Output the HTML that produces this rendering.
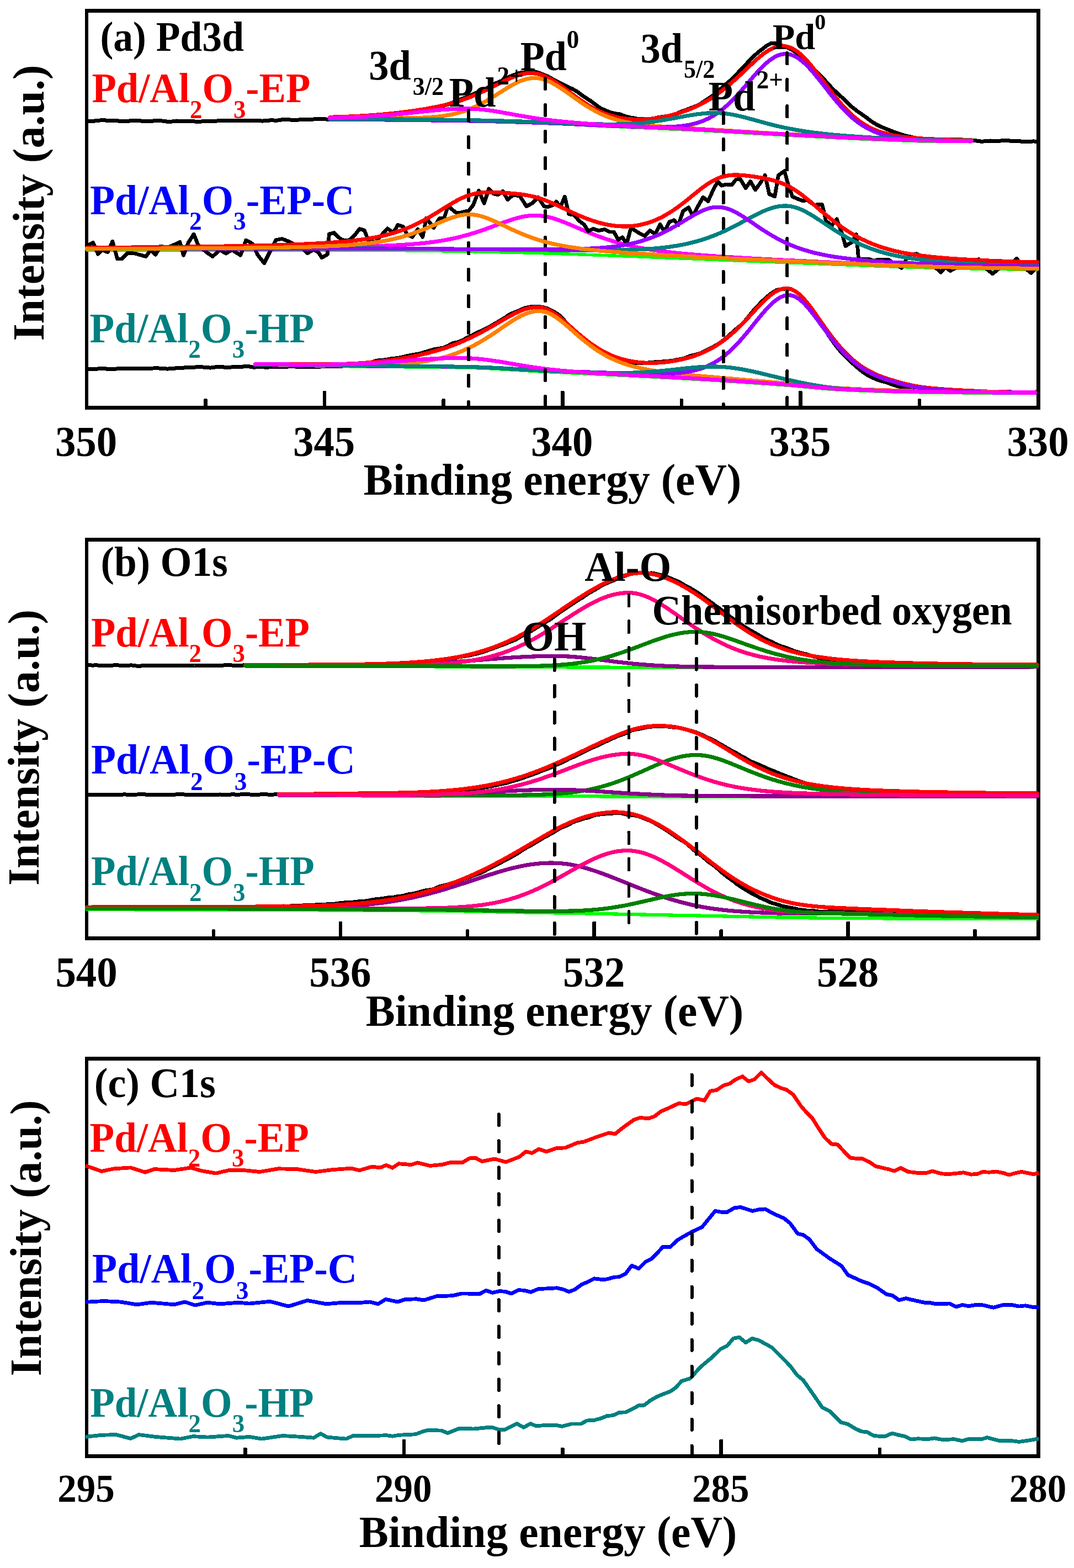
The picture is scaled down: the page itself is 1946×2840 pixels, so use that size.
<!DOCTYPE html>
<html lang="en"><head><meta charset="utf-8"><title>XPS spectra of Pd/Al2O3 catalysts</title>
<style>html,body{margin:0;padding:0;background:#fff}svg{display:block}text{font-family:"Liberation Serif",serif;font-weight:bold}</style></head><body>
<svg width="1946" height="2840" viewBox="0 0 1946 2840" shape-rendering="crispEdges">
<rect width="1946" height="2840" fill="#fff"/>
<g>
<rect x="584.88" y="707.9" width="6.5" height="29" rx="1.5" fill="#000"/>
<rect x="1016.00" y="707.9" width="6.5" height="29" rx="1.5" fill="#000"/>
<rect x="1447.12" y="707.9" width="6.5" height="29" rx="1.5" fill="#000"/>
<rect x="369.31" y="722.3" width="6.5" height="14.6" rx="1.5" fill="#000"/>
<rect x="800.43" y="722.3" width="6.5" height="14.6" rx="1.5" fill="#000"/>
<rect x="1231.56" y="722.3" width="6.5" height="14.6" rx="1.5" fill="#000"/>
<rect x="1662.68" y="722.3" width="6.5" height="14.6" rx="1.5" fill="#000"/>
<path fill="#000" fill-rule="evenodd" d="M154.1 16.2H1884.8V741.7H154.1Z M159.9 23.0V734.9H1878.2V23.0Z"/>
<polyline points="157.0,219.7 165.6,219.7 174.2,218.7 182.9,217.8 191.5,218.0 200.1,219.0 208.7,218.8 217.3,219.1 226.0,219.5 234.6,219.0 243.2,218.4 251.8,218.7 260.4,219.4 269.1,219.8 277.7,219.0 286.3,218.3 294.9,219.1 303.5,220.3 312.2,220.0 320.8,219.0 329.4,219.5 338.0,219.6 346.6,219.4 355.3,220.2 363.9,220.1 372.5,219.5 381.1,219.5 389.7,219.2 398.4,218.7 407.0,218.7 415.6,218.7 424.2,218.7 432.8,218.6 441.5,218.6 450.1,218.7 458.7,218.8 467.3,218.7 475.9,219.1 484.6,218.1 493.2,217.9 501.8,218.2 510.4,216.9 519.0,216.7 527.7,217.1 536.3,217.4 544.9,216.7 553.5,216.2 562.1,216.6 570.8,215.7 579.4,215.1 588.0,215.8 596.6,216.4 605.2,216.2 613.9,215.8 622.5,214.9 631.1,214.1 639.7,213.7 648.3,212.8 657.0,211.6 665.6,211.5 674.2,210.2 682.8,209.8 691.4,209.3 700.1,207.8 708.7,208.1 717.3,206.7 725.9,204.5 734.5,204.3 743.2,202.7 751.8,200.5 760.4,199.7 769.0,198.6 777.6,196.9 786.3,195.1 794.9,193.5 803.5,191.7 812.1,189.0 820.7,185.6 829.4,182.1 838.0,178.4 846.6,175.5 855.2,171.7 863.8,167.8 872.5,165.3 881.1,160.3 889.7,155.0 898.3,150.9 906.9,147.3 915.6,142.9 924.2,138.5 932.8,135.2 941.4,132.2 950.0,131.0 958.7,129.7 967.3,129.4 975.9,131.7 984.5,135.1 993.1,138.6 1001.8,143.6 1010.4,148.3 1019.0,152.2 1027.6,156.9 1036.2,160.7 1044.9,165.4 1053.5,171.7 1062.1,177.6 1070.7,183.1 1079.3,189.7 1088.0,196.0 1096.6,199.8 1105.2,203.4 1113.8,205.7 1122.4,206.6 1131.1,209.9 1139.7,212.5 1148.3,214.0 1156.9,215.6 1165.5,215.9 1174.2,215.9 1182.8,215.1 1191.4,213.0 1200.0,211.5 1208.6,210.4 1217.3,208.9 1225.9,205.8 1234.5,202.2 1243.1,199.3 1251.7,195.6 1260.4,192.5 1269.0,188.3 1277.6,182.5 1286.2,176.9 1294.8,171.0 1303.5,163.3 1312.1,155.1 1320.7,148.1 1329.3,140.3 1337.9,131.0 1346.6,121.6 1355.2,112.7 1363.8,103.6 1372.4,95.8 1381.0,89.1 1389.7,82.4 1398.3,78.0 1406.9,78.4 1415.5,82.0 1424.1,85.0 1432.8,88.7 1441.4,94.5 1450.0,102.4 1458.6,110.1 1467.2,117.8 1475.9,126.5 1484.5,134.7 1493.1,143.7 1501.7,153.5 1510.3,162.4 1519.0,170.5 1527.6,178.4 1536.2,187.1 1544.8,194.7 1553.4,201.4 1562.1,207.4 1570.7,213.5 1579.3,220.1 1587.9,225.4 1596.5,229.7 1605.2,233.2 1613.8,236.7 1622.4,240.0 1631.0,242.9 1639.6,245.6 1648.3,247.5 1656.9,249.5 1665.5,251.5 1674.1,252.7 1682.7,253.1 1691.4,253.0 1700.0,253.4 1708.6,253.6 1717.2,254.5 1725.8,255.2 1734.5,254.9 1743.1,255.1 1751.7,254.5 1760.3,254.1 1768.9,254.9 1777.6,256.2 1786.2,255.8 1794.8,255.0 1803.4,255.5 1812.0,255.1 1820.7,254.5 1829.3,255.0 1837.9,255.8 1846.5,255.8 1855.1,256.4 1863.8,256.5 1872.4,255.9 1881.0,256.6" fill="none" stroke="#000" stroke-width="7.0" stroke-linejoin="round" stroke-linecap="butt"/>
<polyline points="157.0,668.0 165.6,668.2 174.2,668.3 182.9,667.4 191.5,667.9 200.1,668.8 208.7,668.2 217.3,667.5 226.0,667.7 234.6,667.5 243.2,667.2 251.8,668.0 260.4,667.9 269.1,667.3 277.7,667.0 286.3,666.9 294.9,667.4 303.5,668.1 312.2,667.5 320.8,666.7 329.4,666.3 338.0,665.7 346.6,665.6 355.3,664.9 363.9,664.6 372.5,665.5 381.1,666.1 389.7,665.0 398.4,664.1 407.0,665.2 415.6,665.3 424.2,664.6 432.8,664.8 441.5,663.9 450.1,663.6 458.7,665.1 467.3,664.9 475.9,664.9 484.6,665.2 493.2,664.6 501.8,664.6 510.4,664.6 519.0,664.4 527.7,663.3 536.3,664.1 544.9,664.8 553.5,664.5 562.1,664.7 570.8,664.8 579.4,664.2 588.0,663.0 596.6,663.3 605.2,663.9 613.9,663.8 622.5,662.8 631.1,662.9 639.7,662.5 648.3,661.5 657.0,660.1 665.6,658.2 674.2,655.9 682.8,653.1 691.4,652.5 700.1,651.5 708.7,649.7 717.3,648.9 725.9,647.6 734.5,645.5 743.2,643.5 751.8,642.1 760.4,640.7 769.0,638.0 777.6,635.4 786.3,632.9 794.9,631.3 803.5,630.2 812.1,626.2 820.7,621.6 829.4,619.9 838.0,616.3 846.6,611.8 855.2,607.7 863.8,602.8 872.5,599.1 881.1,595.0 889.7,590.3 898.3,585.3 906.9,580.2 915.6,575.0 924.2,569.2 932.8,565.6 941.4,562.4 950.0,558.2 958.7,556.1 967.3,555.3 975.9,555.4 984.5,556.7 993.1,559.3 1001.8,563.9 1010.4,568.6 1019.0,576.3 1027.6,586.8 1036.2,595.8 1044.9,604.8 1053.5,612.8 1062.1,619.7 1070.7,626.5 1079.3,632.0 1088.0,637.8 1096.6,643.1 1105.2,647.9 1113.8,651.4 1122.4,654.2 1131.1,656.3 1139.7,657.3 1148.3,657.6 1156.9,657.4 1165.5,657.1 1174.2,657.0 1182.8,656.2 1191.4,655.6 1200.0,655.0 1208.6,654.2 1217.3,653.7 1225.9,651.6 1234.5,650.4 1243.1,647.8 1251.7,644.3 1260.4,642.5 1269.0,639.9 1277.6,635.6 1286.2,631.2 1294.8,626.8 1303.5,621.7 1312.1,615.3 1320.7,608.0 1329.3,599.9 1337.9,592.7 1346.6,585.2 1355.2,574.8 1363.8,564.3 1372.4,554.8 1381.0,545.7 1389.7,537.8 1398.3,530.8 1406.9,525.6 1415.5,523.7 1424.1,522.9 1432.8,523.4 1441.4,527.6 1450.0,534.4 1458.6,543.7 1467.2,555.7 1475.9,567.5 1484.5,579.5 1493.1,594.5 1501.7,608.0 1510.3,620.2 1519.0,631.7 1527.6,641.6 1536.2,650.1 1544.8,658.0 1553.4,665.6 1562.1,672.9 1570.7,678.7 1579.3,683.1 1587.9,687.2 1596.5,690.0 1605.2,692.3 1613.8,695.3 1622.4,698.3 1631.0,700.8 1639.6,702.9 1648.3,704.1 1656.9,704.0 1665.5,704.9 1674.1,706.0 1682.7,705.3 1691.4,706.0 1700.0,707.3 1708.6,706.7 1717.2,706.1 1725.8,706.6 1734.5,707.3 1743.1,707.8 1751.7,707.2 1760.3,707.7 1768.9,709.0 1777.6,709.6 1786.2,709.6 1794.8,709.9 1803.4,710.0 1812.0,710.0 1820.7,710.1 1829.3,709.6 1837.9,710.6 1846.5,711.5 1855.1,710.7 1863.8,710.2 1872.4,710.3 1881.0,709.6" fill="none" stroke="#000" stroke-width="7.0" stroke-linejoin="round" stroke-linecap="butt"/>
<polyline points="597.8,216.8 598.0,216.8 601.0,216.8 604.0,216.8 607.0,216.8 610.0,216.8 613.0,216.8 616.0,216.8 619.0,216.8 622.0,216.8 625.0,216.9 628.0,216.9 631.0,216.9 634.0,216.9 637.0,216.9 640.0,216.9 643.0,216.9 646.0,217.0 649.0,217.0 652.0,217.0 655.0,217.0 658.0,217.0 661.0,217.0 664.0,217.1 667.0,217.1 670.0,217.1 673.0,217.1 676.0,217.2 679.0,217.2 682.0,217.2 685.0,217.2 688.0,217.3 691.0,217.3 694.0,217.3 697.0,217.4 700.0,217.4 703.0,217.4 706.0,217.4 709.0,217.5 712.0,217.5 715.0,217.5 718.0,217.6 721.0,217.6 724.0,217.7 727.0,217.7 730.0,217.7 733.0,217.8 736.0,217.8 739.0,217.8 742.0,217.9 745.0,217.9 748.0,218.0 751.0,218.0 754.0,218.0 757.0,218.1 760.0,218.1 763.0,218.2 766.0,218.2 769.0,218.2 772.0,218.3 775.0,218.3 778.0,218.4 781.0,218.4 784.0,218.5 787.0,218.5 790.0,218.6 793.0,218.6 796.0,218.6 799.0,218.7 802.0,218.7 805.0,218.8 808.0,218.8 811.0,218.9 814.0,218.9 817.0,219.0 820.0,219.0 823.0,219.1 826.0,219.1 829.0,219.2 832.0,219.2 835.0,219.3 838.0,219.3 841.0,219.4 844.0,219.4 847.0,219.5 850.0,219.5 853.0,219.6 856.0,219.6 859.0,219.7 862.0,219.7 865.0,219.8 868.0,219.8 871.0,219.9 874.0,220.0 877.0,220.0 880.0,220.1 883.0,220.2 886.0,220.2 889.0,220.3 892.0,220.4 895.0,220.5 898.0,220.6 901.0,220.6 904.0,220.7 907.0,220.8 910.0,220.9 913.0,221.0 916.0,221.1 919.0,221.2 922.0,221.3 925.0,221.4 928.0,221.4 931.0,221.5 934.0,221.6 937.0,221.7 940.0,221.8 943.0,221.9 946.0,222.0 949.0,222.1 952.0,222.3 955.0,222.4 958.0,222.5 961.0,222.6 964.0,222.7 967.0,222.8 970.0,222.9 973.0,223.0 976.0,223.1 979.0,223.2 982.0,223.3 985.0,223.4 988.0,223.6 991.0,223.7 994.0,223.8 997.0,223.9 1000.0,224.0 1003.0,224.1 1006.0,224.2 1009.0,224.4 1012.0,224.5 1015.0,224.6 1018.0,224.7 1021.0,224.9 1024.0,225.0 1027.0,225.2 1030.0,225.3 1033.0,225.4 1036.0,225.6 1039.0,225.7 1042.0,225.9 1045.0,226.0 1048.0,226.2 1051.0,226.3 1054.0,226.5 1057.0,226.6 1060.0,226.8 1063.0,227.0 1066.0,227.1 1069.0,227.3 1072.0,227.4 1075.0,227.6 1078.0,227.7 1081.0,227.9 1084.0,228.0 1087.0,228.2 1090.0,228.3 1093.0,228.5 1096.0,228.6 1099.0,228.8 1102.0,228.9 1105.0,229.0 1108.0,229.2 1111.0,229.3 1114.0,229.4 1117.0,229.6 1120.0,229.7 1123.0,229.8 1126.0,230.0 1129.0,230.1 1132.0,230.2 1135.0,230.4 1138.0,230.5 1141.0,230.6 1144.0,230.8 1147.0,230.9 1150.0,231.0 1153.0,231.2 1156.0,231.3 1159.0,231.4 1162.0,231.5 1165.0,231.7 1168.0,231.8 1171.0,231.9 1174.0,232.1 1177.0,232.2 1180.0,232.3 1183.0,232.4 1186.0,232.6 1189.0,232.7 1192.0,232.8 1195.0,233.0 1198.0,233.1 1201.0,233.2 1204.0,233.4 1207.0,233.5 1210.0,233.6 1213.0,233.8 1216.0,233.9 1219.0,234.0 1222.0,234.2 1225.0,234.3 1228.0,234.5 1231.0,234.6 1234.0,234.7 1237.0,234.9 1240.0,235.0 1243.0,235.2 1246.0,235.3 1249.0,235.5 1252.0,235.6 1255.0,235.7 1258.0,235.9 1261.0,236.0 1264.0,236.2 1267.0,236.4 1270.0,236.5 1273.0,236.7 1276.0,236.8 1279.0,237.0 1282.0,237.1 1285.0,237.3 1288.0,237.5 1291.0,237.6 1294.0,237.8 1297.0,238.0 1300.0,238.1 1303.0,238.3 1306.0,238.5 1309.0,238.6 1312.0,238.8 1315.0,239.0 1318.0,239.1 1321.0,239.3 1324.0,239.5 1327.0,239.6 1330.0,239.8 1333.0,240.0 1336.0,240.1 1339.0,240.3 1342.0,240.5 1345.0,240.7 1348.0,240.8 1351.0,241.0 1354.0,241.2 1357.0,241.3 1360.0,241.5 1363.0,241.7 1366.0,241.8 1369.0,242.0 1372.0,242.2 1375.0,242.4 1378.0,242.5 1381.0,242.7 1384.0,242.9 1387.0,243.0 1390.0,243.2 1393.0,243.4 1396.0,243.5 1399.0,243.7 1402.0,243.8 1405.0,244.0 1408.0,244.2 1411.0,244.3 1414.0,244.5 1417.0,244.6 1420.0,244.8 1423.0,244.9 1426.0,245.1 1429.0,245.3 1432.0,245.4 1435.0,245.6 1438.0,245.7 1441.0,245.9 1444.0,246.0 1447.0,246.2 1450.0,246.4 1453.0,246.5 1456.0,246.7 1459.0,246.8 1462.0,247.0 1465.0,247.1 1468.0,247.3 1471.0,247.5 1474.0,247.6 1477.0,247.8 1480.0,247.9 1483.0,248.1 1486.0,248.2 1489.0,248.4 1492.0,248.6 1495.0,248.7 1498.0,248.9 1501.0,249.0 1504.0,249.2 1507.0,249.3 1510.0,249.5 1513.0,249.6 1516.0,249.8 1519.0,249.9 1522.0,250.1 1525.0,250.2 1528.0,250.4 1531.0,250.5 1534.0,250.7 1537.0,250.8 1540.0,251.0 1543.0,251.1 1546.0,251.2 1549.0,251.4 1552.0,251.5 1555.0,251.7 1558.0,251.8 1561.0,251.9 1564.0,252.1 1567.0,252.2 1570.0,252.3 1573.0,252.4 1576.0,252.6 1579.0,252.7 1582.0,252.8 1585.0,252.9 1588.0,253.0 1591.0,253.2 1594.0,253.3 1597.0,253.4 1600.0,253.5 1603.0,253.6 1606.0,253.7 1609.0,253.8 1612.0,253.9 1615.0,254.1 1618.0,254.2 1621.0,254.3 1624.0,254.4 1627.0,254.5 1630.0,254.6 1633.0,254.7 1636.0,254.9 1639.0,255.0 1642.0,255.1 1645.0,255.2 1648.0,255.3 1651.0,255.4 1654.0,255.5 1657.0,255.6 1660.0,255.7 1663.0,255.8 1666.0,255.9 1669.0,255.9 1672.0,256.0 1675.0,256.1 1678.0,256.2 1681.0,256.2 1684.0,256.3 1687.0,256.3 1690.0,256.4 1693.0,256.4 1696.0,256.5 1699.0,256.5 1702.0,256.5 1705.0,256.5 1708.0,256.6 1711.0,256.6 1714.0,256.6 1717.0,256.6 1720.0,256.6 1723.0,256.6 1726.0,256.6 1729.0,256.6 1732.0,256.7 1735.0,256.7 1738.0,256.7 1741.0,256.7 1744.0,256.7 1747.0,256.7 1750.0,256.7 1753.0,256.7 1756.0,256.8 1759.0,256.8 1760.0,256.8" fill="none" stroke="#00ff00" stroke-width="5.5" stroke-linejoin="round" stroke-linecap="round"/>
<polyline points="597.8,212.4 598.0,212.3 601.0,212.2 604.0,212.1 607.0,212.0 610.0,212.0 613.0,211.9 616.0,211.7 619.0,211.6 622.0,211.5 625.0,211.4 628.0,211.3 631.0,211.2 634.0,211.0 637.0,210.9 640.0,210.8 643.0,210.6 646.0,210.5 649.0,210.3 652.0,210.1 655.0,210.0 658.0,209.8 661.0,209.6 664.0,209.4 667.0,209.2 670.0,209.0 673.0,208.8 676.0,208.6 679.0,208.3 682.0,208.1 685.0,207.9 688.0,207.6 691.0,207.3 694.0,207.1 697.0,206.8 700.0,206.5 703.0,206.2 706.0,205.9 709.0,205.6 712.0,205.3 715.0,205.0 718.0,204.7 721.0,204.3 724.0,204.0 727.0,203.6 730.0,203.2 733.0,202.9 736.0,202.5 739.0,202.1 742.0,201.7 745.0,201.3 748.0,200.8 751.0,200.4 754.0,200.0 757.0,199.5 760.0,199.0 763.0,198.6 766.0,198.1 769.0,197.6 772.0,197.1 775.0,196.5 778.0,196.0 781.0,195.4 784.0,194.9 787.0,194.3 790.0,193.7 793.0,193.1 796.0,192.4 799.0,191.8 802.0,191.1 805.0,190.4 808.0,189.7 811.0,188.9 814.0,188.1 817.0,187.3 820.0,186.5 823.0,185.7 826.0,184.8 829.0,183.9 832.0,182.9 835.0,181.9 838.0,180.9 841.0,179.8 844.0,178.8 847.0,177.6 850.0,176.5 853.0,175.3 856.0,174.0 859.0,172.8 862.0,171.5 865.0,170.2 868.0,168.9 871.0,167.6 874.0,166.2 877.0,164.8 880.0,163.4 883.0,162.0 886.0,160.5 889.0,159.0 892.0,157.6 895.0,156.1 898.0,154.6 901.0,153.1 904.0,151.6 907.0,150.1 910.0,148.6 913.0,147.1 916.0,145.7 919.0,144.3 922.0,142.9 925.0,141.6 928.0,140.3 931.0,139.1 934.0,138.0 937.0,136.9 940.0,136.0 943.0,135.1 946.0,134.4 949.0,133.7 952.0,133.2 955.0,132.8 958.0,132.6 961.0,132.5 964.0,132.6 967.0,132.8 970.0,133.1 973.0,133.6 976.0,134.3 979.0,135.1 982.0,136.1 985.0,137.2 988.0,138.4 991.0,139.8 994.0,141.3 997.0,142.9 1000.0,144.6 1003.0,146.4 1006.0,148.3 1009.0,150.3 1012.0,152.3 1015.0,154.4 1018.0,156.5 1021.0,158.7 1024.0,160.9 1027.0,163.1 1030.0,165.4 1033.0,167.6 1036.0,169.9 1039.0,172.1 1042.0,174.3 1045.0,176.5 1048.0,178.6 1051.0,180.7 1054.0,182.8 1057.0,184.8 1060.0,186.8 1063.0,188.7 1066.0,190.6 1069.0,192.4 1072.0,194.1 1075.0,195.8 1078.0,197.4 1081.0,199.0 1084.0,200.4 1087.0,201.8 1090.0,203.2 1093.0,204.4 1096.0,205.6 1099.0,206.8 1102.0,207.8 1105.0,208.8 1108.0,209.7 1111.0,210.6 1114.0,211.3 1117.0,212.1 1120.0,212.7 1123.0,213.3 1126.0,213.9 1129.0,214.3 1132.0,214.8 1135.0,215.2 1138.0,215.5 1141.0,215.7 1144.0,216.0 1147.0,216.1 1150.0,216.2 1153.0,216.3 1156.0,216.4 1159.0,216.3 1162.0,216.3 1165.0,216.2 1168.0,216.0 1171.0,215.9 1174.0,215.6 1177.0,215.4 1180.0,215.1 1183.0,214.8 1186.0,214.4 1189.0,214.0 1192.0,213.5 1195.0,213.0 1198.0,212.5 1201.0,212.0 1204.0,211.4 1207.0,210.8 1210.0,210.1 1213.0,209.4 1216.0,208.7 1219.0,207.9 1222.0,207.1 1225.0,206.3 1228.0,205.4 1231.0,204.5 1234.0,203.5 1237.0,202.5 1240.0,201.5 1243.0,200.4 1246.0,199.3 1249.0,198.1 1252.0,196.9 1255.0,195.6 1258.0,194.3 1261.0,192.9 1264.0,191.5 1267.0,190.1 1270.0,188.5 1273.0,187.0 1276.0,185.3 1279.0,183.7 1282.0,181.9 1285.0,180.1 1288.0,178.2 1291.0,176.3 1294.0,174.3 1297.0,172.3 1300.0,170.2 1303.0,168.0 1306.0,165.8 1309.0,163.5 1312.0,161.1 1315.0,158.7 1318.0,156.3 1321.0,153.8 1324.0,151.2 1327.0,148.6 1330.0,146.0 1333.0,143.3 1336.0,140.5 1339.0,137.8 1342.0,135.0 1345.0,132.1 1348.0,129.3 1351.0,126.4 1354.0,123.6 1357.0,120.7 1360.0,117.9 1363.0,115.1 1366.0,112.3 1369.0,109.6 1372.0,106.9 1375.0,104.3 1378.0,101.8 1381.0,99.4 1384.0,97.1 1387.0,94.9 1390.0,92.9 1393.0,91.1 1396.0,89.4 1399.0,87.9 1402.0,86.6 1405.0,85.5 1408.0,84.6 1411.0,83.9 1414.0,83.5 1417.0,83.4 1420.0,83.4 1423.0,83.8 1426.0,84.3 1429.0,85.2 1432.0,86.3 1435.0,87.6 1438.0,89.2 1441.0,91.0 1444.0,93.1 1447.0,95.4 1450.0,97.9 1453.0,100.6 1456.0,103.5 1459.0,106.5 1462.0,109.8 1465.0,113.1 1468.0,116.6 1471.0,120.2 1474.0,123.9 1477.0,127.7 1480.0,131.6 1483.0,135.5 1486.0,139.5 1489.0,143.5 1492.0,147.5 1495.0,151.5 1498.0,155.5 1501.0,159.5 1504.0,163.4 1507.0,167.3 1510.0,171.2 1513.0,174.9 1516.0,178.6 1519.0,182.3 1522.0,185.8 1525.0,189.2 1528.0,192.6 1531.0,195.8 1534.0,198.9 1537.0,201.9 1540.0,204.9 1543.0,207.6 1546.0,210.3 1549.0,212.9 1552.0,215.3 1555.0,217.6 1558.0,219.9 1561.0,222.0 1564.0,224.0 1567.0,225.8 1570.0,227.6 1573.0,229.3 1576.0,230.9 1579.0,232.4 1582.0,233.8 1585.0,235.1 1588.0,236.3 1591.0,237.5 1594.0,238.5 1597.0,239.5 1600.0,240.5 1603.0,241.3 1606.0,242.1 1609.0,242.9 1612.0,243.6 1615.0,244.3 1618.0,244.9 1621.0,245.5 1624.0,246.0 1627.0,246.5 1630.0,247.0 1633.0,247.4 1636.0,247.8 1639.0,248.2 1642.0,248.6 1645.0,248.9 1648.0,249.2 1651.0,249.5 1654.0,249.8 1657.0,250.0 1660.0,250.3 1663.0,250.5 1666.0,250.7 1669.0,250.9 1672.0,251.1 1675.0,251.3 1678.0,251.4 1681.0,251.6 1684.0,251.7 1687.0,251.9 1690.0,252.0 1693.0,252.1 1696.0,252.2 1699.0,252.3 1702.0,252.3 1705.0,252.4 1708.0,252.5 1711.0,252.5 1714.0,252.6 1717.0,252.7 1720.0,252.7 1723.0,252.8 1726.0,252.8 1729.0,252.9 1732.0,252.9 1735.0,253.0 1738.0,253.0 1741.0,253.0 1744.0,253.1 1747.0,253.1 1750.0,253.2 1753.0,253.2 1756.0,253.3 1759.0,253.3 1760.0,253.4" fill="none" stroke="#ff0000" stroke-width="7.2" stroke-linejoin="round" stroke-linecap="round"/>
<polyline points="597.8,214.4 598.0,214.4 601.0,214.4 604.0,214.3 607.0,214.3 610.0,214.3 613.0,214.3 616.0,214.3 619.0,214.3 622.0,214.3 625.0,214.3 628.0,214.3 631.0,214.3 634.0,214.3 637.0,214.3 640.0,214.3 643.0,214.3 646.0,214.2 649.0,214.2 652.0,214.2 655.0,214.2 658.0,214.2 661.0,214.2 664.0,214.2 667.0,214.2 670.0,214.2 673.0,214.2 676.0,214.2 679.0,214.2 682.0,214.2 685.0,214.2 688.0,214.2 691.0,214.2 694.0,214.2 697.0,214.2 700.0,214.2 703.0,214.2 706.0,214.1 709.0,214.1 712.0,214.1 715.0,214.1 718.0,214.1 721.0,214.1 724.0,214.0 727.0,214.0 730.0,214.0 733.0,213.9 736.0,213.9 739.0,213.9 742.0,213.8 745.0,213.7 748.0,213.7 751.0,213.6 754.0,213.5 757.0,213.4 760.0,213.3 763.0,213.2 766.0,213.1 769.0,213.0 772.0,212.8 775.0,212.6 778.0,212.4 781.0,212.2 784.0,212.0 787.0,211.8 790.0,211.5 793.0,211.2 796.0,210.9 799.0,210.5 802.0,210.1 805.0,209.7 808.0,209.2 811.0,208.7 814.0,208.2 817.0,207.6 820.0,207.0 823.0,206.4 826.0,205.6 829.0,204.9 832.0,204.1 835.0,203.2 838.0,202.3 841.0,201.3 844.0,200.3 847.0,199.2 850.0,198.0 853.0,196.8 856.0,195.6 859.0,194.2 862.0,192.9 865.0,191.4 868.0,190.0 871.0,188.4 874.0,186.8 877.0,185.2 880.0,183.5 883.0,181.8 886.0,180.0 889.0,178.2 892.0,176.4 895.0,174.5 898.0,172.6 901.0,170.7 904.0,168.8 907.0,166.9 910.0,165.0 913.0,163.1 916.0,161.2 919.0,159.4 922.0,157.5 925.0,155.8 928.0,154.1 931.0,152.4 934.0,150.9 937.0,149.4 940.0,148.0 943.0,146.7 946.0,145.6 949.0,144.5 952.0,143.6 955.0,142.9 958.0,142.3 961.0,141.8 964.0,141.5 967.0,141.4 970.0,141.4 973.0,141.6 976.0,141.9 979.0,142.5 982.0,143.1 985.0,144.0 988.0,144.9 991.0,146.1 994.0,147.3 997.0,148.7 1000.0,150.2 1003.0,151.8 1006.0,153.5 1009.0,155.3 1012.0,157.1 1015.0,159.0 1018.0,161.0 1021.0,163.1 1024.0,165.1 1027.0,167.2 1030.0,169.4 1033.0,171.5 1036.0,173.7 1039.0,175.8 1042.0,177.9 1045.0,180.0 1048.0,182.1 1051.0,184.2 1054.0,186.2 1057.0,188.2 1060.0,190.2 1063.0,192.1 1066.0,194.0 1069.0,195.8 1072.0,197.5 1075.0,199.2 1078.0,200.9 1081.0,202.5 1084.0,204.0 1087.0,205.5 1090.0,206.9 1093.0,208.2 1096.0,209.5 1099.0,210.7 1102.0,211.9 1105.0,213.0 1108.0,214.0 1111.0,215.0 1114.0,216.0 1117.0,216.9 1120.0,217.7 1123.0,218.5 1126.0,219.3 1129.0,220.0 1132.0,220.7 1135.0,221.3 1138.0,221.9 1141.0,222.4 1144.0,223.0 1147.0,223.5 1150.0,224.0 1153.0,224.4 1156.0,224.8 1159.0,225.2 1162.0,225.6 1165.0,226.0 1168.0,226.3 1171.0,226.6 1174.0,227.0 1177.0,227.3 1180.0,227.5 1183.0,227.8 1186.0,228.1 1189.0,228.3 1192.0,228.6 1195.0,228.8 1198.0,229.0 1201.0,229.3 1204.0,229.5 1207.0,229.7 1210.0,229.9 1213.0,230.1 1216.0,230.3 1219.0,230.5 1222.0,230.7 1225.0,230.9 1228.0,231.1 1231.0,231.2 1234.0,231.4 1237.0,231.6 1240.0,231.8 1243.0,232.0 1246.0,232.2 1249.0,232.3 1252.0,232.5 1255.0,232.7 1258.0,232.9 1261.0,233.1 1264.0,233.3 1267.0,233.4 1270.0,233.6 1273.0,233.8 1276.0,234.0 1279.0,234.2 1282.0,234.3 1285.0,234.5 1288.0,234.7 1291.0,234.9 1294.0,235.1 1297.0,235.3 1300.0,235.5 1303.0,235.6 1306.0,235.8 1309.0,236.0 1312.0,236.2 1315.0,236.4 1318.0,236.6 1321.0,236.8 1324.0,236.9 1327.0,237.1 1330.0,237.3 1333.0,237.5 1336.0,237.7 1339.0,237.9 1342.0,238.1 1345.0,238.2 1348.0,238.4 1351.0,238.6 1354.0,238.8 1357.0,239.0 1360.0,239.2 1363.0,239.3 1366.0,239.5 1369.0,239.7 1372.0,239.9 1375.0,240.1 1378.0,240.2 1381.0,240.4 1384.0,240.6 1387.0,240.8 1390.0,241.0 1393.0,241.1 1396.0,241.3 1399.0,241.5 1402.0,241.6 1405.0,241.8 1408.0,242.0 1411.0,242.2 1414.0,242.3 1417.0,242.5 1420.0,242.7 1423.0,242.8 1426.0,243.0 1429.0,243.1 1432.0,243.3 1435.0,243.5 1438.0,243.6 1441.0,243.8 1444.0,244.0 1447.0,244.1 1450.0,244.3 1453.0,244.4 1456.0,244.6 1459.0,244.8 1462.0,244.9 1465.0,245.1 1468.0,245.3 1471.0,245.4 1474.0,245.6 1477.0,245.8 1480.0,245.9 1483.0,246.1 1486.0,246.2 1489.0,246.4 1492.0,246.6 1495.0,246.7 1498.0,246.9 1501.0,247.1 1504.0,247.2 1507.0,247.4 1510.0,247.5 1513.0,247.7 1516.0,247.8 1519.0,248.0 1522.0,248.1 1525.0,248.3 1528.0,248.5 1531.0,248.6 1534.0,248.8 1537.0,248.9 1540.0,249.1 1543.0,249.2 1546.0,249.3 1549.0,249.5 1552.0,249.6 1555.0,249.8 1558.0,249.9 1561.0,250.0 1564.0,250.2 1567.0,250.3 1570.0,250.4 1573.0,250.6 1576.0,250.7 1579.0,250.8 1582.0,251.0 1585.0,251.1 1588.0,251.2 1591.0,251.3 1594.0,251.4 1597.0,251.6 1600.0,251.7 1603.0,251.8 1606.0,251.9 1609.0,252.0 1612.0,252.1 1615.0,252.2 1618.0,252.4 1621.0,252.5 1624.0,252.6 1627.0,252.7 1630.0,252.8 1633.0,252.9 1636.0,253.1 1639.0,253.2 1642.0,253.3 1645.0,253.4 1648.0,253.5 1651.0,253.6 1654.0,253.7 1657.0,253.8 1660.0,253.9 1663.0,254.0 1666.0,254.1 1669.0,254.2 1672.0,254.2 1675.0,254.3 1678.0,254.4 1681.0,254.5 1684.0,254.5 1687.0,254.6 1690.0,254.6 1693.0,254.7 1696.0,254.7 1699.0,254.7 1702.0,254.8 1705.0,254.8 1708.0,254.8 1711.0,254.8 1714.0,254.8 1717.0,254.9 1720.0,254.9 1723.0,254.9 1726.0,254.9 1729.0,254.9 1732.0,254.9 1735.0,254.9 1738.0,255.0 1741.0,255.0 1744.0,255.0 1747.0,255.0 1750.0,255.0 1753.0,255.0 1756.0,255.0 1759.0,255.1 1760.0,255.1" fill="none" stroke="#ff8000" stroke-width="7.2" stroke-linejoin="round" stroke-linecap="round"/>
<polyline points="597.8,216.4 598.0,216.4 601.0,216.4 604.0,216.4 607.0,216.4 610.0,216.4 613.0,216.4 616.0,216.4 619.0,216.4 622.0,216.4 625.0,216.4 628.0,216.4 631.0,216.4 634.0,216.4 637.0,216.4 640.0,216.5 643.0,216.5 646.0,216.5 649.0,216.5 652.0,216.5 655.0,216.5 658.0,216.6 661.0,216.6 664.0,216.6 667.0,216.6 670.0,216.6 673.0,216.7 676.0,216.7 679.0,216.7 682.0,216.7 685.0,216.8 688.0,216.8 691.0,216.8 694.0,216.8 697.0,216.9 700.0,216.9 703.0,216.9 706.0,217.0 709.0,217.0 712.0,217.0 715.0,217.0 718.0,217.1 721.0,217.1 724.0,217.1 727.0,217.2 730.0,217.2 733.0,217.2 736.0,217.3 739.0,217.3 742.0,217.4 745.0,217.4 748.0,217.4 751.0,217.5 754.0,217.5 757.0,217.5 760.0,217.6 763.0,217.6 766.0,217.7 769.0,217.7 772.0,217.7 775.0,217.8 778.0,217.8 781.0,217.9 784.0,217.9 787.0,218.0 790.0,218.0 793.0,218.0 796.0,218.1 799.0,218.1 802.0,218.2 805.0,218.2 808.0,218.3 811.0,218.3 814.0,218.3 817.0,218.4 820.0,218.4 823.0,218.5 826.0,218.5 829.0,218.6 832.0,218.6 835.0,218.7 838.0,218.7 841.0,218.8 844.0,218.8 847.0,218.8 850.0,218.9 853.0,218.9 856.0,219.0 859.0,219.0 862.0,219.1 865.0,219.1 868.0,219.2 871.0,219.3 874.0,219.3 877.0,219.4 880.0,219.5 883.0,219.5 886.0,219.6 889.0,219.7 892.0,219.7 895.0,219.8 898.0,219.9 901.0,220.0 904.0,220.1 907.0,220.1 910.0,220.2 913.0,220.3 916.0,220.4 919.0,220.5 922.0,220.6 925.0,220.6 928.0,220.7 931.0,220.8 934.0,220.9 937.0,221.0 940.0,221.1 943.0,221.2 946.0,221.3 949.0,221.4 952.0,221.5 955.0,221.6 958.0,221.7 961.0,221.8 964.0,221.9 967.0,222.0 970.0,222.1 973.0,222.2 976.0,222.3 979.0,222.4 982.0,222.5 985.0,222.6 988.0,222.7 991.0,222.8 994.0,222.9 997.0,223.0 1000.0,223.1 1003.0,223.3 1006.0,223.4 1009.0,223.5 1012.0,223.6 1015.0,223.7 1018.0,223.8 1021.0,224.0 1024.0,224.1 1027.0,224.2 1030.0,224.4 1033.0,224.5 1036.0,224.6 1039.0,224.8 1042.0,224.9 1045.0,225.1 1048.0,225.2 1051.0,225.3 1054.0,225.5 1057.0,225.6 1060.0,225.8 1063.0,225.9 1066.0,226.0 1069.0,226.2 1072.0,226.3 1075.0,226.5 1078.0,226.6 1081.0,226.7 1084.0,226.9 1087.0,227.0 1090.0,227.2 1093.0,227.3 1096.0,227.4 1099.0,227.5 1102.0,227.7 1105.0,227.8 1108.0,227.9 1111.0,228.0 1114.0,228.1 1117.0,228.2 1120.0,228.4 1123.0,228.5 1126.0,228.6 1129.0,228.7 1132.0,228.8 1135.0,228.9 1138.0,229.0 1141.0,229.1 1144.0,229.2 1147.0,229.3 1150.0,229.4 1153.0,229.5 1156.0,229.6 1159.0,229.7 1162.0,229.7 1165.0,229.8 1168.0,229.9 1171.0,229.9 1174.0,230.0 1177.0,230.1 1180.0,230.1 1183.0,230.1 1186.0,230.2 1189.0,230.2 1192.0,230.2 1195.0,230.2 1198.0,230.2 1201.0,230.2 1204.0,230.1 1207.0,230.1 1210.0,230.0 1213.0,229.9 1216.0,229.7 1219.0,229.6 1222.0,229.4 1225.0,229.2 1228.0,229.0 1231.0,228.7 1234.0,228.4 1237.0,228.0 1240.0,227.6 1243.0,227.2 1246.0,226.7 1249.0,226.1 1252.0,225.5 1255.0,224.8 1258.0,224.1 1261.0,223.3 1264.0,222.4 1267.0,221.4 1270.0,220.4 1273.0,219.3 1276.0,218.0 1279.0,216.7 1282.0,215.3 1285.0,213.8 1288.0,212.2 1291.0,210.5 1294.0,208.7 1297.0,206.8 1300.0,204.7 1303.0,202.6 1306.0,200.3 1309.0,198.0 1312.0,195.5 1315.0,192.9 1318.0,190.3 1321.0,187.5 1324.0,184.6 1327.0,181.6 1330.0,178.5 1333.0,175.4 1336.0,172.2 1339.0,168.9 1342.0,165.5 1345.0,162.1 1348.0,158.6 1351.0,155.2 1354.0,151.7 1357.0,148.2 1360.0,144.7 1363.0,141.2 1366.0,137.7 1369.0,134.3 1372.0,131.0 1375.0,127.7 1378.0,124.5 1381.0,121.5 1384.0,118.5 1387.0,115.7 1390.0,113.1 1393.0,110.6 1396.0,108.3 1399.0,106.2 1402.0,104.3 1405.0,102.6 1408.0,101.1 1411.0,99.9 1414.0,99.0 1417.0,98.3 1420.0,97.9 1423.0,97.7 1426.0,97.8 1429.0,98.2 1432.0,98.8 1435.0,99.8 1438.0,100.9 1441.0,102.4 1444.0,104.1 1447.0,106.0 1450.0,108.1 1453.0,110.5 1456.0,113.0 1459.0,115.8 1462.0,118.7 1465.0,121.8 1468.0,125.0 1471.0,128.4 1474.0,131.8 1477.0,135.4 1480.0,139.1 1483.0,142.8 1486.0,146.5 1489.0,150.3 1492.0,154.1 1495.0,158.0 1498.0,161.8 1501.0,165.6 1504.0,169.4 1507.0,173.2 1510.0,176.9 1513.0,180.5 1516.0,184.1 1519.0,187.6 1522.0,191.0 1525.0,194.3 1528.0,197.5 1531.0,200.7 1534.0,203.7 1537.0,206.6 1540.0,209.5 1543.0,212.2 1546.0,214.8 1549.0,217.2 1552.0,219.6 1555.0,221.9 1558.0,224.0 1561.0,226.1 1564.0,228.0 1567.0,229.8 1570.0,231.5 1573.0,233.2 1576.0,234.7 1579.0,236.1 1582.0,237.5 1585.0,238.8 1588.0,239.9 1591.0,241.0 1594.0,242.1 1597.0,243.0 1600.0,243.9 1603.0,244.7 1606.0,245.5 1609.0,246.2 1612.0,246.9 1615.0,247.5 1618.0,248.1 1621.0,248.7 1624.0,249.2 1627.0,249.6 1630.0,250.1 1633.0,250.5 1636.0,250.9 1639.0,251.2 1642.0,251.6 1645.0,251.9 1648.0,252.2 1651.0,252.4 1654.0,252.7 1657.0,252.9 1660.0,253.1 1663.0,253.3 1666.0,253.5 1669.0,253.7 1672.0,253.9 1675.0,254.0 1678.0,254.2 1681.0,254.3 1684.0,254.4 1687.0,254.5 1690.0,254.6 1693.0,254.7 1696.0,254.8 1699.0,254.8 1702.0,254.9 1705.0,255.0 1708.0,255.0 1711.0,255.1 1714.0,255.1 1717.0,255.1 1720.0,255.2 1723.0,255.2 1726.0,255.3 1729.0,255.3 1732.0,255.3 1735.0,255.4 1738.0,255.4 1741.0,255.4 1744.0,255.4 1747.0,255.5 1750.0,255.5 1753.0,255.5 1756.0,255.6 1759.0,255.6 1760.0,255.6" fill="none" stroke="#9900ff" stroke-width="7.2" stroke-linejoin="round" stroke-linecap="round"/>
<polyline points="597.8,215.2 598.0,215.2 601.0,215.2 604.0,215.2 607.0,215.2 610.0,215.2 613.0,215.2 616.0,215.2 619.0,215.2 622.0,215.2 625.0,215.2 628.0,215.2 631.0,215.3 634.0,215.3 637.0,215.3 640.0,215.3 643.0,215.3 646.0,215.3 649.0,215.3 652.0,215.4 655.0,215.4 658.0,215.4 661.0,215.4 664.0,215.4 667.0,215.5 670.0,215.5 673.0,215.5 676.0,215.5 679.0,215.5 682.0,215.6 685.0,215.6 688.0,215.6 691.0,215.6 694.0,215.7 697.0,215.7 700.0,215.7 703.0,215.8 706.0,215.8 709.0,215.8 712.0,215.9 715.0,215.9 718.0,215.9 721.0,216.0 724.0,216.0 727.0,216.0 730.0,216.1 733.0,216.1 736.0,216.1 739.0,216.2 742.0,216.2 745.0,216.2 748.0,216.3 751.0,216.3 754.0,216.4 757.0,216.4 760.0,216.4 763.0,216.5 766.0,216.5 769.0,216.5 772.0,216.6 775.0,216.6 778.0,216.7 781.0,216.7 784.0,216.8 787.0,216.8 790.0,216.8 793.0,216.9 796.0,216.9 799.0,217.0 802.0,217.0 805.0,217.1 808.0,217.1 811.0,217.1 814.0,217.2 817.0,217.2 820.0,217.3 823.0,217.3 826.0,217.4 829.0,217.4 832.0,217.5 835.0,217.5 838.0,217.6 841.0,217.6 844.0,217.6 847.0,217.7 850.0,217.7 853.0,217.8 856.0,217.8 859.0,217.9 862.0,217.9 865.0,218.0 868.0,218.0 871.0,218.1 874.0,218.2 877.0,218.2 880.0,218.3 883.0,218.4 886.0,218.4 889.0,218.5 892.0,218.6 895.0,218.7 898.0,218.7 901.0,218.8 904.0,218.9 907.0,219.0 910.0,219.0 913.0,219.1 916.0,219.2 919.0,219.3 922.0,219.4 925.0,219.5 928.0,219.6 931.0,219.7 934.0,219.7 937.0,219.8 940.0,219.9 943.0,220.0 946.0,220.1 949.0,220.2 952.0,220.3 955.0,220.4 958.0,220.5 961.0,220.6 964.0,220.7 967.0,220.8 970.0,220.9 973.0,221.0 976.0,221.1 979.0,221.2 982.0,221.3 985.0,221.4 988.0,221.5 991.0,221.6 994.0,221.7 997.0,221.8 1000.0,221.9 1003.0,222.0 1006.0,222.1 1009.0,222.2 1012.0,222.3 1015.0,222.4 1018.0,222.6 1021.0,222.7 1024.0,222.8 1027.0,222.9 1030.0,223.0 1033.0,223.2 1036.0,223.3 1039.0,223.4 1042.0,223.5 1045.0,223.6 1048.0,223.8 1051.0,223.9 1054.0,224.0 1057.0,224.1 1060.0,224.2 1063.0,224.3 1066.0,224.4 1069.0,224.5 1072.0,224.6 1075.0,224.7 1078.0,224.8 1081.0,224.9 1084.0,224.9 1087.0,225.0 1090.0,225.0 1093.0,225.1 1096.0,225.1 1099.0,225.1 1102.0,225.2 1105.0,225.2 1108.0,225.2 1111.0,225.1 1114.0,225.1 1117.0,225.1 1120.0,225.0 1123.0,225.0 1126.0,224.9 1129.0,224.8 1132.0,224.7 1135.0,224.6 1138.0,224.4 1141.0,224.3 1144.0,224.1 1147.0,223.9 1150.0,223.7 1153.0,223.5 1156.0,223.3 1159.0,223.0 1162.0,222.8 1165.0,222.5 1168.0,222.2 1171.0,221.8 1174.0,221.5 1177.0,221.1 1180.0,220.8 1183.0,220.4 1186.0,220.0 1189.0,219.5 1192.0,219.1 1195.0,218.6 1198.0,218.2 1201.0,217.7 1204.0,217.2 1207.0,216.7 1210.0,216.1 1213.0,215.6 1216.0,215.1 1219.0,214.5 1222.0,214.0 1225.0,213.4 1228.0,212.9 1231.0,212.3 1234.0,211.7 1237.0,211.2 1240.0,210.7 1243.0,210.1 1246.0,209.6 1249.0,209.1 1252.0,208.6 1255.0,208.1 1258.0,207.7 1261.0,207.2 1264.0,206.8 1267.0,206.4 1270.0,206.1 1273.0,205.8 1276.0,205.5 1279.0,205.2 1282.0,205.0 1285.0,204.9 1288.0,204.7 1291.0,204.6 1294.0,204.6 1297.0,204.6 1300.0,204.7 1303.0,204.8 1306.0,205.0 1309.0,205.2 1312.0,205.4 1315.0,205.8 1318.0,206.1 1321.0,206.6 1324.0,207.1 1327.0,207.6 1330.0,208.1 1333.0,208.8 1336.0,209.4 1339.0,210.1 1342.0,210.8 1345.0,211.5 1348.0,212.3 1351.0,213.1 1354.0,213.9 1357.0,214.7 1360.0,215.5 1363.0,216.3 1366.0,217.1 1369.0,218.0 1372.0,218.8 1375.0,219.6 1378.0,220.4 1381.0,221.3 1384.0,222.1 1387.0,222.9 1390.0,223.7 1393.0,224.5 1396.0,225.2 1399.0,226.0 1402.0,226.7 1405.0,227.5 1408.0,228.2 1411.0,228.9 1414.0,229.6 1417.0,230.2 1420.0,230.9 1423.0,231.5 1426.0,232.1 1429.0,232.7 1432.0,233.3 1435.0,233.9 1438.0,234.4 1441.0,235.0 1444.0,235.5 1447.0,236.0 1450.0,236.5 1453.0,237.0 1456.0,237.5 1459.0,238.0 1462.0,238.4 1465.0,238.8 1468.0,239.3 1471.0,239.7 1474.0,240.1 1477.0,240.5 1480.0,240.8 1483.0,241.2 1486.0,241.6 1489.0,241.9 1492.0,242.2 1495.0,242.6 1498.0,242.9 1501.0,243.2 1504.0,243.5 1507.0,243.8 1510.0,244.1 1513.0,244.4 1516.0,244.6 1519.0,244.9 1522.0,245.1 1525.0,245.4 1528.0,245.6 1531.0,245.9 1534.0,246.1 1537.0,246.4 1540.0,246.6 1543.0,246.8 1546.0,247.0 1549.0,247.2 1552.0,247.4 1555.0,247.6 1558.0,247.8 1561.0,248.0 1564.0,248.2 1567.0,248.4 1570.0,248.6 1573.0,248.7 1576.0,248.9 1579.0,249.1 1582.0,249.3 1585.0,249.4 1588.0,249.6 1591.0,249.7 1594.0,249.9 1597.0,250.0 1600.0,250.2 1603.0,250.3 1606.0,250.5 1609.0,250.6 1612.0,250.8 1615.0,250.9 1618.0,251.0 1621.0,251.2 1624.0,251.3 1627.0,251.5 1630.0,251.6 1633.0,251.8 1636.0,251.9 1639.0,252.0 1642.0,252.2 1645.0,252.3 1648.0,252.4 1651.0,252.5 1654.0,252.7 1657.0,252.8 1660.0,252.9 1663.0,253.0 1666.0,253.1 1669.0,253.2 1672.0,253.3 1675.0,253.4 1678.0,253.5 1681.0,253.6 1684.0,253.6 1687.0,253.7 1690.0,253.8 1693.0,253.8 1696.0,253.9 1699.0,253.9 1702.0,254.0 1705.0,254.0 1708.0,254.0 1711.0,254.1 1714.0,254.1 1717.0,254.1 1720.0,254.2 1723.0,254.2 1726.0,254.2 1729.0,254.2 1732.0,254.3 1735.0,254.3 1738.0,254.3 1741.0,254.3 1744.0,254.3 1747.0,254.4 1750.0,254.4 1753.0,254.4 1756.0,254.4 1759.0,254.5 1760.0,254.5" fill="none" stroke="#008080" stroke-width="7.2" stroke-linejoin="round" stroke-linecap="round"/>
<polyline points="597.8,213.6 598.0,213.5 601.0,213.4 604.0,213.4 607.0,213.3 610.0,213.2 613.0,213.1 616.0,213.0 619.0,213.0 622.0,212.9 625.0,212.8 628.0,212.7 631.0,212.6 634.0,212.4 637.0,212.3 640.0,212.2 643.0,212.1 646.0,212.0 649.0,211.8 652.0,211.7 655.0,211.5 658.0,211.4 661.0,211.2 664.0,211.1 667.0,210.9 670.0,210.7 673.0,210.5 676.0,210.3 679.0,210.1 682.0,209.9 685.0,209.7 688.0,209.5 691.0,209.3 694.0,209.1 697.0,208.8 700.0,208.6 703.0,208.3 706.0,208.1 709.0,207.8 712.0,207.6 715.0,207.3 718.0,207.0 721.0,206.7 724.0,206.5 727.0,206.2 730.0,205.9 733.0,205.6 736.0,205.3 739.0,205.0 742.0,204.6 745.0,204.3 748.0,204.0 751.0,203.7 754.0,203.4 757.0,203.1 760.0,202.7 763.0,202.4 766.0,202.1 769.0,201.8 772.0,201.5 775.0,201.2 778.0,200.9 781.0,200.6 784.0,200.3 787.0,200.0 790.0,199.7 793.0,199.4 796.0,199.2 799.0,198.9 802.0,198.7 805.0,198.5 808.0,198.2 811.0,198.0 814.0,197.9 817.0,197.7 820.0,197.5 823.0,197.4 826.0,197.3 829.0,197.2 832.0,197.1 835.0,197.0 838.0,197.0 841.0,196.9 844.0,196.9 847.0,197.0 850.0,197.0 853.0,197.1 856.0,197.2 859.0,197.3 862.0,197.5 865.0,197.7 868.0,197.9 871.0,198.2 874.0,198.5 877.0,198.8 880.0,199.2 883.0,199.5 886.0,199.9 889.0,200.4 892.0,200.8 895.0,201.2 898.0,201.7 901.0,202.2 904.0,202.7 907.0,203.2 910.0,203.7 913.0,204.3 916.0,204.8 919.0,205.3 922.0,205.9 925.0,206.4 928.0,207.0 931.0,207.5 934.0,208.1 937.0,208.6 940.0,209.1 943.0,209.7 946.0,210.2 949.0,210.7 952.0,211.2 955.0,211.7 958.0,212.2 961.0,212.7 964.0,213.2 967.0,213.6 970.0,214.1 973.0,214.5 976.0,215.0 979.0,215.4 982.0,215.8 985.0,216.2 988.0,216.6 991.0,217.0 994.0,217.4 997.0,217.7 1000.0,218.1 1003.0,218.4 1006.0,218.8 1009.0,219.1 1012.0,219.4 1015.0,219.7 1018.0,220.0 1021.0,220.3 1024.0,220.6 1027.0,220.9 1030.0,221.2 1033.0,221.5 1036.0,221.8 1039.0,222.0 1042.0,222.3 1045.0,222.5 1048.0,222.8 1051.0,223.0 1054.0,223.3 1057.0,223.5 1060.0,223.7 1063.0,224.0 1066.0,224.2 1069.0,224.4 1072.0,224.6 1075.0,224.8 1078.0,225.0 1081.0,225.2 1084.0,225.4 1087.0,225.6 1090.0,225.8 1093.0,226.0 1096.0,226.2 1099.0,226.3 1102.0,226.5 1105.0,226.7 1108.0,226.8 1111.0,227.0 1114.0,227.1 1117.0,227.3 1120.0,227.5 1123.0,227.6 1126.0,227.8 1129.0,227.9 1132.0,228.1 1135.0,228.2 1138.0,228.4 1141.0,228.5 1144.0,228.6 1147.0,228.8 1150.0,228.9 1153.0,229.1 1156.0,229.2 1159.0,229.4 1162.0,229.5 1165.0,229.6 1168.0,229.8 1171.0,229.9 1174.0,230.1 1177.0,230.2 1180.0,230.3 1183.0,230.5 1186.0,230.6 1189.0,230.7 1192.0,230.9 1195.0,231.0 1198.0,231.2 1201.0,231.3 1204.0,231.4 1207.0,231.6 1210.0,231.7 1213.0,231.9 1216.0,232.0 1219.0,232.1 1222.0,232.3 1225.0,232.4 1228.0,232.6 1231.0,232.7 1234.0,232.9 1237.0,233.0 1240.0,233.2 1243.0,233.3 1246.0,233.5 1249.0,233.6 1252.0,233.8 1255.0,233.9 1258.0,234.1 1261.0,234.2 1264.0,234.4 1267.0,234.5 1270.0,234.7 1273.0,234.9 1276.0,235.0 1279.0,235.2 1282.0,235.4 1285.0,235.5 1288.0,235.7 1291.0,235.9 1294.0,236.0 1297.0,236.2 1300.0,236.4 1303.0,236.5 1306.0,236.7 1309.0,236.9 1312.0,237.0 1315.0,237.2 1318.0,237.4 1321.0,237.5 1324.0,237.7 1327.0,237.9 1330.0,238.1 1333.0,238.2 1336.0,238.4 1339.0,238.6 1342.0,238.8 1345.0,238.9 1348.0,239.1 1351.0,239.3 1354.0,239.5 1357.0,239.6 1360.0,239.8 1363.0,240.0 1366.0,240.1 1369.0,240.3 1372.0,240.5 1375.0,240.7 1378.0,240.8 1381.0,241.0 1384.0,241.2 1387.0,241.3 1390.0,241.5 1393.0,241.7 1396.0,241.8 1399.0,242.0 1402.0,242.2 1405.0,242.3 1408.0,242.5 1411.0,242.6 1414.0,242.8 1417.0,243.0 1420.0,243.1 1423.0,243.3 1426.0,243.4 1429.0,243.6 1432.0,243.7 1435.0,243.9 1438.0,244.1 1441.0,244.2 1444.0,244.4 1447.0,244.5 1450.0,244.7 1453.0,244.9 1456.0,245.0 1459.0,245.2 1462.0,245.3 1465.0,245.5 1468.0,245.7 1471.0,245.8 1474.0,246.0 1477.0,246.1 1480.0,246.3 1483.0,246.4 1486.0,246.6 1489.0,246.8 1492.0,246.9 1495.0,247.1 1498.0,247.2 1501.0,247.4 1504.0,247.5 1507.0,247.7 1510.0,247.9 1513.0,248.0 1516.0,248.2 1519.0,248.3 1522.0,248.5 1525.0,248.6 1528.0,248.8 1531.0,248.9 1534.0,249.1 1537.0,249.2 1540.0,249.3 1543.0,249.5 1546.0,249.6 1549.0,249.8 1552.0,249.9 1555.0,250.0 1558.0,250.2 1561.0,250.3 1564.0,250.4 1567.0,250.6 1570.0,250.7 1573.0,250.8 1576.0,251.0 1579.0,251.1 1582.0,251.2 1585.0,251.3 1588.0,251.4 1591.0,251.6 1594.0,251.7 1597.0,251.8 1600.0,251.9 1603.0,252.0 1606.0,252.1 1609.0,252.2 1612.0,252.3 1615.0,252.5 1618.0,252.6 1621.0,252.7 1624.0,252.8 1627.0,252.9 1630.0,253.0 1633.0,253.2 1636.0,253.3 1639.0,253.4 1642.0,253.5 1645.0,253.6 1648.0,253.7 1651.0,253.8 1654.0,253.9 1657.0,254.0 1660.0,254.1 1663.0,254.2 1666.0,254.3 1669.0,254.4 1672.0,254.4 1675.0,254.5 1678.0,254.6 1681.0,254.6 1684.0,254.7 1687.0,254.8 1690.0,254.8 1693.0,254.8 1696.0,254.9 1699.0,254.9 1702.0,254.9 1705.0,255.0 1708.0,255.0 1711.0,255.0 1714.0,255.0 1717.0,255.0 1720.0,255.0 1723.0,255.1 1726.0,255.1 1729.0,255.1 1732.0,255.1 1735.0,255.1 1738.0,255.1 1741.0,255.1 1744.0,255.1 1747.0,255.1 1750.0,255.2 1753.0,255.2 1756.0,255.2 1759.0,255.2 1760.0,255.2" fill="none" stroke="#ff00ff" stroke-width="7.2" stroke-linejoin="round" stroke-linecap="round"/>
<polyline points="462.3,661.5 463.0,661.5 466.0,661.5 469.0,661.5 472.0,661.5 475.0,661.5 478.0,661.5 481.0,661.6 484.0,661.6 487.0,661.6 490.0,661.6 493.0,661.7 496.0,661.7 499.0,661.7 502.0,661.7 505.0,661.8 508.0,661.8 511.0,661.8 514.0,661.9 517.0,661.9 520.0,661.9 523.0,662.0 526.0,662.0 529.0,662.1 532.0,662.1 535.0,662.2 538.0,662.2 541.0,662.3 544.0,662.3 547.0,662.3 550.0,662.4 553.0,662.4 556.0,662.5 559.0,662.5 562.0,662.6 565.0,662.6 568.0,662.7 571.0,662.8 574.0,662.8 577.0,662.9 580.0,662.9 583.0,663.0 586.0,663.0 589.0,663.1 592.0,663.1 595.0,663.2 598.0,663.2 601.0,663.3 604.0,663.3 607.0,663.4 610.0,663.4 613.0,663.5 616.0,663.5 619.0,663.6 622.0,663.6 625.0,663.7 628.0,663.7 631.0,663.7 634.0,663.8 637.0,663.8 640.0,663.9 643.0,663.9 646.0,664.0 649.0,664.0 652.0,664.0 655.0,664.1 658.0,664.1 661.0,664.1 664.0,664.2 667.0,664.2 670.0,664.2 673.0,664.2 676.0,664.3 679.0,664.3 682.0,664.3 685.0,664.4 688.0,664.4 691.0,664.4 694.0,664.4 697.0,664.5 700.0,664.5 703.0,664.5 706.0,664.5 709.0,664.6 712.0,664.6 715.0,664.6 718.0,664.6 721.0,664.7 724.0,664.7 727.0,664.7 730.0,664.7 733.0,664.8 736.0,664.8 739.0,664.8 742.0,664.8 745.0,664.9 748.0,664.9 751.0,664.9 754.0,664.9 757.0,665.0 760.0,665.0 763.0,665.0 766.0,665.1 769.0,665.1 772.0,665.1 775.0,665.1 778.0,665.2 781.0,665.2 784.0,665.2 787.0,665.3 790.0,665.3 793.0,665.3 796.0,665.4 799.0,665.4 802.0,665.5 805.0,665.5 808.0,665.5 811.0,665.6 814.0,665.6 817.0,665.7 820.0,665.7 823.0,665.7 826.0,665.8 829.0,665.8 832.0,665.9 835.0,665.9 838.0,666.0 841.0,666.1 844.0,666.1 847.0,666.2 850.0,666.3 853.0,666.4 856.0,666.5 859.0,666.6 862.0,666.7 865.0,666.8 868.0,666.9 871.0,667.0 874.0,667.1 877.0,667.3 880.0,667.4 883.0,667.5 886.0,667.7 889.0,667.8 892.0,668.0 895.0,668.1 898.0,668.3 901.0,668.5 904.0,668.6 907.0,668.8 910.0,669.0 913.0,669.1 916.0,669.3 919.0,669.5 922.0,669.7 925.0,669.8 928.0,670.0 931.0,670.2 934.0,670.4 937.0,670.6 940.0,670.7 943.0,670.9 946.0,671.1 949.0,671.3 952.0,671.5 955.0,671.6 958.0,671.8 961.0,672.0 964.0,672.2 967.0,672.3 970.0,672.5 973.0,672.7 976.0,672.8 979.0,673.0 982.0,673.1 985.0,673.3 988.0,673.5 991.0,673.6 994.0,673.7 997.0,673.9 1000.0,674.0 1003.0,674.2 1006.0,674.3 1009.0,674.5 1012.0,674.6 1015.0,674.8 1018.0,674.9 1021.0,675.0 1024.0,675.2 1027.0,675.3 1030.0,675.5 1033.0,675.6 1036.0,675.8 1039.0,675.9 1042.0,676.0 1045.0,676.2 1048.0,676.3 1051.0,676.5 1054.0,676.6 1057.0,676.8 1060.0,676.9 1063.0,677.0 1066.0,677.2 1069.0,677.3 1072.0,677.5 1075.0,677.6 1078.0,677.8 1081.0,677.9 1084.0,678.0 1087.0,678.2 1090.0,678.3 1093.0,678.5 1096.0,678.6 1099.0,678.8 1102.0,678.9 1105.0,679.1 1108.0,679.2 1111.0,679.3 1114.0,679.5 1117.0,679.6 1120.0,679.8 1123.0,679.9 1126.0,680.1 1129.0,680.2 1132.0,680.4 1135.0,680.5 1138.0,680.7 1141.0,680.8 1144.0,681.0 1147.0,681.1 1150.0,681.3 1153.0,681.5 1156.0,681.6 1159.0,681.8 1162.0,681.9 1165.0,682.1 1168.0,682.2 1171.0,682.4 1174.0,682.5 1177.0,682.7 1180.0,682.8 1183.0,683.0 1186.0,683.2 1189.0,683.3 1192.0,683.5 1195.0,683.6 1198.0,683.8 1201.0,683.9 1204.0,684.1 1207.0,684.3 1210.0,684.4 1213.0,684.6 1216.0,684.7 1219.0,684.9 1222.0,685.1 1225.0,685.2 1228.0,685.4 1231.0,685.5 1234.0,685.7 1237.0,685.9 1240.0,686.0 1243.0,686.2 1246.0,686.4 1249.0,686.5 1252.0,686.7 1255.0,686.9 1258.0,687.0 1261.0,687.2 1264.0,687.4 1267.0,687.6 1270.0,687.7 1273.0,687.9 1276.0,688.1 1279.0,688.2 1282.0,688.4 1285.0,688.6 1288.0,688.8 1291.0,689.0 1294.0,689.1 1297.0,689.3 1300.0,689.5 1303.0,689.7 1306.0,689.9 1309.0,690.1 1312.0,690.2 1315.0,690.4 1318.0,690.6 1321.0,690.8 1324.0,691.0 1327.0,691.2 1330.0,691.4 1333.0,691.6 1336.0,691.8 1339.0,692.0 1342.0,692.2 1345.0,692.4 1348.0,692.6 1351.0,692.8 1354.0,693.0 1357.0,693.2 1360.0,693.4 1363.0,693.6 1366.0,693.8 1369.0,694.0 1372.0,694.2 1375.0,694.4 1378.0,694.6 1381.0,694.8 1384.0,695.1 1387.0,695.3 1390.0,695.5 1393.0,695.7 1396.0,695.9 1399.0,696.1 1402.0,696.3 1405.0,696.6 1408.0,696.8 1411.0,697.0 1414.0,697.2 1417.0,697.5 1420.0,697.7 1423.0,697.9 1426.0,698.1 1429.0,698.4 1432.0,698.6 1435.0,698.8 1438.0,699.1 1441.0,699.3 1444.0,699.6 1447.0,699.9 1450.0,700.1 1453.0,700.4 1456.0,700.7 1459.0,701.0 1462.0,701.3 1465.0,701.6 1468.0,701.8 1471.0,702.1 1474.0,702.4 1477.0,702.7 1480.0,703.0 1483.0,703.3 1486.0,703.5 1489.0,703.8 1492.0,704.1 1495.0,704.3 1498.0,704.6 1501.0,704.8 1504.0,705.0 1507.0,705.3 1510.0,705.5 1513.0,705.7 1516.0,705.9 1519.0,706.1 1522.0,706.2 1525.0,706.4 1528.0,706.5 1531.0,706.7 1534.0,706.8 1537.0,707.0 1540.0,707.1 1543.0,707.2 1546.0,707.4 1549.0,707.5 1552.0,707.6 1555.0,707.7 1558.0,707.9 1561.0,708.0 1564.0,708.1 1567.0,708.2 1570.0,708.3 1573.0,708.4 1576.0,708.5 1579.0,708.6 1582.0,708.7 1585.0,708.8 1588.0,708.9 1591.0,709.0 1594.0,709.1 1597.0,709.2 1600.0,709.3 1603.0,709.4 1606.0,709.5 1609.0,709.6 1612.0,709.6 1615.0,709.7 1618.0,709.8 1621.0,709.9 1624.0,709.9 1627.0,710.0 1630.0,710.1 1633.0,710.2 1636.0,710.2 1639.0,710.3 1642.0,710.3 1645.0,710.4 1648.0,710.5 1651.0,710.5 1654.0,710.6 1657.0,710.6 1660.0,710.7 1663.0,710.7 1666.0,710.8 1669.0,710.8 1672.0,710.9 1675.0,710.9 1678.0,711.0 1681.0,711.0 1684.0,711.1 1687.0,711.1 1690.0,711.1 1693.0,711.2 1696.0,711.2 1699.0,711.3 1702.0,711.3 1705.0,711.3 1708.0,711.4 1711.0,711.4 1714.0,711.5 1717.0,711.5 1720.0,711.5 1723.0,711.6 1726.0,711.6 1729.0,711.6 1732.0,711.6 1735.0,711.7 1738.0,711.7 1741.0,711.7 1744.0,711.8 1747.0,711.8 1750.0,711.8 1753.0,711.8 1756.0,711.8 1759.0,711.9 1762.0,711.9 1765.0,711.9 1768.0,711.9 1771.0,712.0 1774.0,712.0 1777.0,712.0 1780.0,712.0 1783.0,712.0 1786.0,712.1 1789.0,712.1 1792.0,712.1 1795.0,712.1 1798.0,712.2 1801.0,712.2 1804.0,712.2 1807.0,712.2 1810.0,712.2 1813.0,712.2 1816.0,712.3 1819.0,712.3 1822.0,712.3 1825.0,712.3 1828.0,712.3 1831.0,712.3 1834.0,712.4 1837.0,712.4 1840.0,712.4 1843.0,712.4 1846.0,712.4 1849.0,712.4 1852.0,712.4 1855.0,712.4 1858.0,712.5 1861.0,712.5 1864.0,712.5 1867.0,712.5 1870.0,712.5 1873.0,712.5 1875.3,712.5" fill="none" stroke="#00ff00" stroke-width="5.5" stroke-linejoin="round" stroke-linecap="round"/>
<polyline points="462.3,660.0 463.0,660.0 466.0,660.0 469.0,659.9 472.0,659.9 475.0,659.9 478.0,659.9 481.0,659.9 484.0,659.9 487.0,659.9 490.0,659.9 493.0,659.9 496.0,659.9 499.0,659.9 502.0,659.9 505.0,659.9 508.0,659.9 511.0,659.9 514.0,659.9 517.0,659.9 520.0,659.9 523.0,659.8 526.0,659.8 529.0,659.8 532.0,659.8 535.0,659.8 538.0,659.8 541.0,659.8 544.0,659.8 547.0,659.8 550.0,659.8 553.0,659.8 556.0,659.8 559.0,659.7 562.0,659.7 565.0,659.7 568.0,659.7 571.0,659.7 574.0,659.7 577.0,659.7 580.0,659.7 583.0,659.7 586.0,659.7 589.0,659.6 592.0,659.6 595.0,659.6 598.0,659.6 601.0,659.6 604.0,659.6 607.0,659.5 610.0,659.5 613.0,659.5 616.0,659.4 619.0,659.3 622.0,659.3 625.0,659.2 628.0,659.1 631.0,659.0 634.0,658.9 637.0,658.8 640.0,658.6 643.0,658.5 646.0,658.3 649.0,658.1 652.0,657.9 655.0,657.7 658.0,657.5 661.0,657.3 664.0,657.0 667.0,656.7 670.0,656.5 673.0,656.2 676.0,655.9 679.0,655.6 682.0,655.3 685.0,655.0 688.0,654.7 691.0,654.3 694.0,654.0 697.0,653.6 700.0,653.2 703.0,652.8 706.0,652.5 709.0,652.1 712.0,651.6 715.0,651.2 718.0,650.8 721.0,650.3 724.0,649.9 727.0,649.4 730.0,648.9 733.0,648.4 736.0,647.9 739.0,647.3 742.0,646.7 745.0,646.2 748.0,645.6 751.0,645.0 754.0,644.3 757.0,643.7 760.0,643.0 763.0,642.3 766.0,641.6 769.0,640.9 772.0,640.2 775.0,639.4 778.0,638.7 781.0,637.9 784.0,637.1 787.0,636.3 790.0,635.4 793.0,634.5 796.0,633.7 799.0,632.8 802.0,631.8 805.0,630.9 808.0,629.9 811.0,628.9 814.0,627.8 817.0,626.7 820.0,625.6 823.0,624.5 826.0,623.3 829.0,622.1 832.0,620.9 835.0,619.6 838.0,618.3 841.0,616.9 844.0,615.5 847.0,614.2 850.0,612.8 853.0,611.3 856.0,609.9 859.0,608.4 862.0,606.9 865.0,605.4 868.0,603.9 871.0,602.3 874.0,600.8 877.0,599.2 880.0,597.5 883.0,595.9 886.0,594.2 889.0,592.5 892.0,590.8 895.0,589.1 898.0,587.3 901.0,585.6 904.0,583.8 907.0,582.1 910.0,580.3 913.0,578.6 916.0,576.9 919.0,575.2 922.0,573.5 925.0,571.9 928.0,570.3 931.0,568.7 934.0,567.2 937.0,565.8 940.0,564.4 943.0,563.1 946.0,561.9 949.0,560.8 952.0,559.8 955.0,558.9 958.0,558.2 961.0,557.6 964.0,557.1 967.0,556.8 970.0,556.6 973.0,556.5 976.0,556.7 979.0,557.0 982.0,557.4 985.0,558.1 988.0,559.1 991.0,560.2 994.0,561.5 997.0,563.1 1000.0,564.8 1003.0,566.6 1006.0,568.7 1009.0,570.8 1012.0,573.1 1015.0,575.5 1018.0,578.0 1021.0,580.5 1024.0,583.1 1027.0,585.7 1030.0,588.4 1033.0,591.1 1036.0,593.7 1039.0,596.4 1042.0,599.1 1045.0,601.7 1048.0,604.3 1051.0,606.9 1054.0,609.4 1057.0,611.9 1060.0,614.3 1063.0,616.6 1066.0,618.9 1069.0,621.2 1072.0,623.3 1075.0,625.4 1078.0,627.5 1081.0,629.4 1084.0,631.3 1087.0,633.1 1090.0,634.9 1093.0,636.5 1096.0,638.1 1099.0,639.6 1102.0,641.1 1105.0,642.5 1108.0,643.8 1111.0,645.0 1114.0,646.2 1117.0,647.3 1120.0,648.3 1123.0,649.3 1126.0,650.2 1129.0,651.0 1132.0,651.8 1135.0,652.5 1138.0,653.2 1141.0,653.8 1144.0,654.4 1147.0,654.9 1150.0,655.3 1153.0,655.7 1156.0,656.1 1159.0,656.4 1162.0,656.7 1165.0,656.9 1168.0,657.1 1171.0,657.2 1174.0,657.3 1177.0,657.3 1180.0,657.3 1183.0,657.3 1186.0,657.2 1189.0,657.1 1192.0,657.0 1195.0,656.8 1198.0,656.6 1201.0,656.3 1204.0,656.1 1207.0,655.7 1210.0,655.4 1213.0,655.0 1216.0,654.6 1219.0,654.1 1222.0,653.6 1225.0,653.1 1228.0,652.5 1231.0,651.9 1234.0,651.3 1237.0,650.6 1240.0,649.8 1243.0,649.1 1246.0,648.3 1249.0,647.4 1252.0,646.5 1255.0,645.6 1258.0,644.6 1261.0,643.5 1264.0,642.4 1267.0,641.3 1270.0,640.1 1273.0,638.8 1276.0,637.4 1279.0,636.1 1282.0,634.6 1285.0,633.1 1288.0,631.5 1291.0,629.8 1294.0,628.1 1297.0,626.3 1300.0,624.4 1303.0,622.4 1306.0,620.4 1309.0,618.3 1312.0,616.1 1315.0,613.8 1318.0,611.4 1321.0,608.9 1324.0,606.4 1327.0,603.8 1330.0,601.1 1333.0,598.3 1336.0,595.5 1339.0,592.6 1342.0,589.6 1345.0,586.6 1348.0,583.5 1351.0,580.3 1354.0,577.2 1357.0,574.0 1360.0,570.7 1363.0,567.5 1366.0,564.3 1369.0,561.0 1372.0,557.8 1375.0,554.7 1378.0,551.5 1381.0,548.5 1384.0,545.5 1387.0,542.7 1390.0,539.9 1393.0,537.3 1396.0,534.8 1399.0,532.5 1402.0,530.4 1405.0,528.5 1408.0,526.9 1411.0,525.5 1414.0,524.3 1417.0,523.4 1420.0,522.8 1423.0,522.5 1426.0,522.5 1429.0,522.8 1432.0,523.5 1435.0,524.5 1438.0,525.8 1441.0,527.5 1444.0,529.6 1447.0,531.9 1450.0,534.6 1453.0,537.5 1456.0,540.7 1459.0,544.1 1462.0,547.7 1465.0,551.4 1468.0,555.3 1471.0,559.4 1474.0,563.5 1477.0,567.7 1480.0,572.0 1483.0,576.3 1486.0,580.6 1489.0,584.9 1492.0,589.2 1495.0,593.4 1498.0,597.6 1501.0,601.7 1504.0,605.8 1507.0,609.8 1510.0,613.6 1513.0,617.4 1516.0,621.1 1519.0,624.7 1522.0,628.2 1525.0,631.6 1528.0,634.8 1531.0,638.0 1534.0,641.0 1537.0,643.9 1540.0,646.8 1543.0,649.5 1546.0,652.1 1549.0,654.6 1552.0,657.0 1555.0,659.3 1558.0,661.5 1561.0,663.6 1564.0,665.6 1567.0,667.5 1570.0,669.3 1573.0,671.0 1576.0,672.7 1579.0,674.2 1582.0,675.7 1585.0,677.1 1588.0,678.5 1591.0,679.8 1594.0,681.0 1597.0,682.1 1600.0,683.2 1603.0,684.2 1606.0,685.2 1609.0,686.2 1612.0,687.2 1615.0,688.2 1618.0,689.1 1621.0,690.0 1624.0,690.9 1627.0,691.7 1630.0,692.6 1633.0,693.4 1636.0,694.2 1639.0,694.9 1642.0,695.7 1645.0,696.4 1648.0,697.0 1651.0,697.7 1654.0,698.3 1657.0,698.9 1660.0,699.5 1663.0,700.0 1666.0,700.5 1669.0,701.0 1672.0,701.4 1675.0,701.8 1678.0,702.2 1681.0,702.5 1684.0,702.8 1687.0,703.1 1690.0,703.4 1693.0,703.6 1696.0,703.9 1699.0,704.1 1702.0,704.4 1705.0,704.6 1708.0,704.8 1711.0,705.1 1714.0,705.3 1717.0,705.5 1720.0,705.7 1723.0,705.9 1726.0,706.1 1729.0,706.3 1732.0,706.4 1735.0,706.6 1738.0,706.8 1741.0,706.9 1744.0,707.1 1747.0,707.3 1750.0,707.4 1753.0,707.5 1756.0,707.7 1759.0,707.8 1762.0,708.0 1765.0,708.1 1768.0,708.2 1771.0,708.4 1774.0,708.5 1777.0,708.6 1780.0,708.7 1783.0,708.8 1786.0,708.9 1789.0,709.1 1792.0,709.2 1795.0,709.3 1798.0,709.4 1801.0,709.5 1804.0,709.6 1807.0,709.7 1810.0,709.7 1813.0,709.8 1816.0,709.9 1819.0,709.9 1822.0,710.0 1825.0,710.1 1828.0,710.1 1831.0,710.2 1834.0,710.2 1837.0,710.2 1840.0,710.3 1843.0,710.3 1846.0,710.3 1849.0,710.3 1852.0,710.4 1855.0,710.4 1858.0,710.4 1861.0,710.4 1864.0,710.4 1867.0,710.4 1870.0,710.4 1873.0,710.4 1875.3,710.4" fill="none" stroke="#ff0000" stroke-width="7.2" stroke-linejoin="round" stroke-linecap="round"/>
<polyline points="462.3,660.6 463.0,660.6 466.0,660.6 469.0,660.6 472.0,660.6 475.0,660.6 478.0,660.6 481.0,660.6 484.0,660.6 487.0,660.6 490.0,660.6 493.0,660.6 496.0,660.6 499.0,660.7 502.0,660.7 505.0,660.7 508.0,660.7 511.0,660.7 514.0,660.7 517.0,660.7 520.0,660.8 523.0,660.8 526.0,660.8 529.0,660.8 532.0,660.9 535.0,660.9 538.0,660.9 541.0,660.9 544.0,661.0 547.0,661.0 550.0,661.0 553.0,661.0 556.0,661.1 559.0,661.1 562.0,661.1 565.0,661.1 568.0,661.2 571.0,661.2 574.0,661.3 577.0,661.3 580.0,661.4 583.0,661.5 586.0,661.5 589.0,661.6 592.0,661.7 595.0,661.7 598.0,661.8 601.0,661.9 604.0,661.9 607.0,662.0 610.0,662.1 613.0,662.1 616.0,662.2 619.0,662.2 622.0,662.3 625.0,662.3 628.0,662.4 631.0,662.4 634.0,662.4 637.0,662.4 640.0,662.4 643.0,662.4 646.0,662.4 649.0,662.4 652.0,662.4 655.0,662.3 658.0,662.3 661.0,662.2 664.0,662.2 667.0,662.1 670.0,662.0 673.0,662.0 676.0,661.9 679.0,661.8 682.0,661.7 685.0,661.6 688.0,661.5 691.0,661.4 694.0,661.3 697.0,661.2 700.0,661.0 703.0,660.9 706.0,660.7 709.0,660.6 712.0,660.4 715.0,660.3 718.0,660.1 721.0,659.9 724.0,659.7 727.0,659.5 730.0,659.3 733.0,659.0 736.0,658.8 739.0,658.5 742.0,658.2 745.0,657.9 748.0,657.5 751.0,657.2 754.0,656.8 757.0,656.4 760.0,656.0 763.0,655.6 766.0,655.1 769.0,654.6 772.0,654.1 775.0,653.6 778.0,653.1 781.0,652.5 784.0,651.9 787.0,651.3 790.0,650.7 793.0,650.0 796.0,649.3 799.0,648.6 802.0,647.8 805.0,647.0 808.0,646.2 811.0,645.3 814.0,644.4 817.0,643.4 820.0,642.4 823.0,641.4 826.0,640.3 829.0,639.1 832.0,637.9 835.0,636.7 838.0,635.4 841.0,634.1 844.0,632.7 847.0,631.3 850.0,629.9 853.0,628.4 856.0,626.9 859.0,625.4 862.0,623.8 865.0,622.1 868.0,620.4 871.0,618.7 874.0,617.0 877.0,615.1 880.0,613.3 883.0,611.4 886.0,609.5 889.0,607.6 892.0,605.6 895.0,603.6 898.0,601.6 901.0,599.6 904.0,597.5 907.0,595.5 910.0,593.4 913.0,591.4 916.0,589.3 919.0,587.3 922.0,585.3 925.0,583.4 928.0,581.4 931.0,579.6 934.0,577.7 937.0,576.0 940.0,574.3 943.0,572.7 946.0,571.2 949.0,569.8 952.0,568.6 955.0,567.4 958.0,566.4 961.0,565.5 964.0,564.8 967.0,564.2 970.0,563.8 973.0,563.5 976.0,563.4 979.0,563.5 982.0,563.8 985.0,564.3 988.0,565.0 991.0,566.0 994.0,567.1 997.0,568.5 1000.0,570.1 1003.0,571.8 1006.0,573.7 1009.0,575.7 1012.0,577.9 1015.0,580.2 1018.0,582.5 1021.0,585.0 1024.0,587.5 1027.0,590.1 1030.0,592.7 1033.0,595.3 1036.0,597.9 1039.0,600.6 1042.0,603.2 1045.0,605.8 1048.0,608.4 1051.0,611.0 1054.0,613.5 1057.0,616.0 1060.0,618.4 1063.0,620.8 1066.0,623.1 1069.0,625.4 1072.0,627.6 1075.0,629.8 1078.0,631.9 1081.0,633.9 1084.0,635.9 1087.0,637.8 1090.0,639.6 1093.0,641.4 1096.0,643.1 1099.0,644.8 1102.0,646.3 1105.0,647.9 1108.0,649.3 1111.0,650.7 1114.0,652.1 1117.0,653.4 1120.0,654.6 1123.0,655.8 1126.0,656.9 1129.0,658.0 1132.0,659.0 1135.0,660.0 1138.0,661.0 1141.0,661.9 1144.0,662.7 1147.0,663.6 1150.0,664.3 1153.0,665.1 1156.0,665.8 1159.0,666.5 1162.0,667.2 1165.0,667.8 1168.0,668.4 1171.0,669.0 1174.0,669.6 1177.0,670.1 1180.0,670.6 1183.0,671.1 1186.0,671.6 1189.0,672.1 1192.0,672.5 1195.0,672.9 1198.0,673.4 1201.0,673.8 1204.0,674.2 1207.0,674.6 1210.0,674.9 1213.0,675.3 1216.0,675.7 1219.0,676.0 1222.0,676.3 1225.0,676.7 1228.0,677.0 1231.0,677.3 1234.0,677.6 1237.0,678.0 1240.0,678.3 1243.0,678.6 1246.0,678.9 1249.0,679.2 1252.0,679.4 1255.0,679.7 1258.0,680.0 1261.0,680.3 1264.0,680.6 1267.0,680.8 1270.0,681.1 1273.0,681.4 1276.0,681.7 1279.0,681.9 1282.0,682.2 1285.0,682.5 1288.0,682.7 1291.0,683.0 1294.0,683.2 1297.0,683.5 1300.0,683.8 1303.0,684.0 1306.0,684.3 1309.0,684.5 1312.0,684.8 1315.0,685.0 1318.0,685.3 1321.0,685.5 1324.0,685.8 1327.0,686.0 1330.0,686.3 1333.0,686.5 1336.0,686.8 1339.0,687.1 1342.0,687.3 1345.0,687.6 1348.0,687.8 1351.0,688.1 1354.0,688.3 1357.0,688.6 1360.0,688.8 1363.0,689.1 1366.0,689.3 1369.0,689.6 1372.0,689.8 1375.0,690.1 1378.0,690.3 1381.0,690.6 1384.0,690.8 1387.0,691.1 1390.0,691.3 1393.0,691.6 1396.0,691.8 1399.0,692.1 1402.0,692.3 1405.0,692.6 1408.0,692.8 1411.0,693.1 1414.0,693.3 1417.0,693.6 1420.0,693.9 1423.0,694.1 1426.0,694.4 1429.0,694.6 1432.0,694.9 1435.0,695.2 1438.0,695.4 1441.0,695.7 1444.0,696.0 1447.0,696.3 1450.0,696.6 1453.0,696.9 1456.0,697.2 1459.0,697.5 1462.0,697.8 1465.0,698.1 1468.0,698.4 1471.0,698.8 1474.0,699.1 1477.0,699.4 1480.0,699.7 1483.0,700.0 1486.0,700.3 1489.0,700.5 1492.0,700.8 1495.0,701.1 1498.0,701.4 1501.0,701.6 1504.0,701.9 1507.0,702.1 1510.0,702.4 1513.0,702.6 1516.0,702.8 1519.0,703.0 1522.0,703.2 1525.0,703.4 1528.0,703.5 1531.0,703.7 1534.0,703.8 1537.0,704.0 1540.0,704.1 1543.0,704.3 1546.0,704.4 1549.0,704.6 1552.0,704.7 1555.0,704.8 1558.0,705.0 1561.0,705.1 1564.0,705.2 1567.0,705.4 1570.0,705.5 1573.0,705.6 1576.0,705.7 1579.0,705.9 1582.0,706.0 1585.0,706.1 1588.0,706.2 1591.0,706.3 1594.0,706.4 1597.0,706.5 1600.0,706.6 1603.0,706.7 1606.0,706.8 1609.0,706.9 1612.0,707.0 1615.0,707.1 1618.0,707.2 1621.0,707.3 1624.0,707.3 1627.0,707.4 1630.0,707.5 1633.0,707.6 1636.0,707.7 1639.0,707.7 1642.0,707.8 1645.0,707.9 1648.0,707.9 1651.0,708.0 1654.0,708.1 1657.0,708.1 1660.0,708.2 1663.0,708.2 1666.0,708.3 1669.0,708.4 1672.0,708.4 1675.0,708.5 1678.0,708.5 1681.0,708.6 1684.0,708.6 1687.0,708.7 1690.0,708.7 1693.0,708.8 1696.0,708.8 1699.0,708.9 1702.0,708.9 1705.0,709.0 1708.0,709.0 1711.0,709.1 1714.0,709.1 1717.0,709.1 1720.0,709.2 1723.0,709.2 1726.0,709.3 1729.0,709.3 1732.0,709.3 1735.0,709.4 1738.0,709.4 1741.0,709.4 1744.0,709.5 1747.0,709.5 1750.0,709.5 1753.0,709.6 1756.0,709.6 1759.0,709.6 1762.0,709.6 1765.0,709.7 1768.0,709.7 1771.0,709.7 1774.0,709.7 1777.0,709.8 1780.0,709.8 1783.0,709.8 1786.0,709.9 1789.0,709.9 1792.0,709.9 1795.0,709.9 1798.0,710.0 1801.0,710.0 1804.0,710.0 1807.0,710.0 1810.0,710.1 1813.0,710.1 1816.0,710.1 1819.0,710.1 1822.0,710.1 1825.0,710.2 1828.0,710.2 1831.0,710.2 1834.0,710.2 1837.0,710.2 1840.0,710.3 1843.0,710.3 1846.0,710.3 1849.0,710.3 1852.0,710.3 1855.0,710.3 1858.0,710.4 1861.0,710.4 1864.0,710.4 1867.0,710.4 1870.0,710.4 1873.0,710.4 1875.3,710.4" fill="none" stroke="#ff8000" stroke-width="7.2" stroke-linejoin="round" stroke-linecap="round"/>
<polyline points="462.3,660.4 463.0,660.4 466.0,660.4 469.0,660.4 472.0,660.5 475.0,660.5 478.0,660.5 481.0,660.5 484.0,660.5 487.0,660.5 490.0,660.5 493.0,660.6 496.0,660.6 499.0,660.6 502.0,660.6 505.0,660.7 508.0,660.7 511.0,660.7 514.0,660.8 517.0,660.8 520.0,660.8 523.0,660.9 526.0,660.9 529.0,660.9 532.0,661.0 535.0,661.0 538.0,661.1 541.0,661.1 544.0,661.2 547.0,661.2 550.0,661.3 553.0,661.3 556.0,661.3 559.0,661.4 562.0,661.4 565.0,661.5 568.0,661.5 571.0,661.6 574.0,661.6 577.0,661.7 580.0,661.7 583.0,661.8 586.0,661.8 589.0,661.9 592.0,661.9 595.0,662.0 598.0,662.0 601.0,662.1 604.0,662.1 607.0,662.2 610.0,662.2 613.0,662.3 616.0,662.3 619.0,662.4 622.0,662.4 625.0,662.4 628.0,662.5 631.0,662.5 634.0,662.6 637.0,662.6 640.0,662.6 643.0,662.7 646.0,662.7 649.0,662.7 652.0,662.8 655.0,662.8 658.0,662.8 661.0,662.8 664.0,662.9 667.0,662.9 670.0,662.9 673.0,663.0 676.0,663.0 679.0,663.0 682.0,663.0 685.0,663.0 688.0,663.1 691.0,663.1 694.0,663.1 697.0,663.1 700.0,663.2 703.0,663.2 706.0,663.2 709.0,663.2 712.0,663.2 715.0,663.3 718.0,663.3 721.0,663.3 724.0,663.3 727.0,663.3 730.0,663.3 733.0,663.4 736.0,663.4 739.0,663.4 742.0,663.4 745.0,663.4 748.0,663.5 751.0,663.5 754.0,663.5 757.0,663.5 760.0,663.5 763.0,663.6 766.0,663.6 769.0,663.6 772.0,663.6 775.0,663.7 778.0,663.7 781.0,663.7 784.0,663.7 787.0,663.8 790.0,663.8 793.0,663.8 796.0,663.8 799.0,663.9 802.0,663.9 805.0,663.9 808.0,664.0 811.0,664.0 814.0,664.0 817.0,664.1 820.0,664.1 823.0,664.1 826.0,664.2 829.0,664.2 832.0,664.3 835.0,664.3 838.0,664.3 841.0,664.4 844.0,664.4 847.0,664.5 850.0,664.6 853.0,664.6 856.0,664.7 859.0,664.8 862.0,664.9 865.0,665.0 868.0,665.1 871.0,665.2 874.0,665.3 877.0,665.5 880.0,665.6 883.0,665.7 886.0,665.8 889.0,666.0 892.0,666.1 895.0,666.3 898.0,666.4 901.0,666.6 904.0,666.7 907.0,666.9 910.0,667.0 913.0,667.2 916.0,667.3 919.0,667.5 922.0,667.7 925.0,667.8 928.0,668.0 931.0,668.2 934.0,668.3 937.0,668.5 940.0,668.6 943.0,668.8 946.0,669.0 949.0,669.1 952.0,669.3 955.0,669.5 958.0,669.6 961.0,669.8 964.0,669.9 967.0,670.1 970.0,670.2 973.0,670.4 976.0,670.5 979.0,670.7 982.0,670.8 985.0,670.9 988.0,671.1 991.0,671.2 994.0,671.3 997.0,671.4 1000.0,671.5 1003.0,671.7 1006.0,671.8 1009.0,671.9 1012.0,672.0 1015.0,672.1 1018.0,672.3 1021.0,672.4 1024.0,672.5 1027.0,672.6 1030.0,672.7 1033.0,672.8 1036.0,672.9 1039.0,673.1 1042.0,673.2 1045.0,673.3 1048.0,673.4 1051.0,673.5 1054.0,673.6 1057.0,673.7 1060.0,673.8 1063.0,673.9 1066.0,674.0 1069.0,674.1 1072.0,674.2 1075.0,674.3 1078.0,674.4 1081.0,674.5 1084.0,674.6 1087.0,674.7 1090.0,674.8 1093.0,674.9 1096.0,675.0 1099.0,675.1 1102.0,675.2 1105.0,675.3 1108.0,675.4 1111.0,675.5 1114.0,675.6 1117.0,675.7 1120.0,675.8 1123.0,675.8 1126.0,675.9 1129.0,676.0 1132.0,676.1 1135.0,676.2 1138.0,676.2 1141.0,676.3 1144.0,676.4 1147.0,676.5 1150.0,676.5 1153.0,676.6 1156.0,676.7 1159.0,676.7 1162.0,676.8 1165.0,676.8 1168.0,676.9 1171.0,676.9 1174.0,676.9 1177.0,677.0 1180.0,677.0 1183.0,677.0 1186.0,677.0 1189.0,677.0 1192.0,677.0 1195.0,676.9 1198.0,676.9 1201.0,676.9 1204.0,676.8 1207.0,676.7 1210.0,676.6 1213.0,676.5 1216.0,676.3 1219.0,676.2 1222.0,676.0 1225.0,675.8 1228.0,675.5 1231.0,675.3 1234.0,675.0 1237.0,674.6 1240.0,674.2 1243.0,673.8 1246.0,673.3 1249.0,672.8 1252.0,672.3 1255.0,671.6 1258.0,671.0 1261.0,670.2 1264.0,669.4 1267.0,668.6 1270.0,667.6 1273.0,666.6 1276.0,665.5 1279.0,664.3 1282.0,663.0 1285.0,661.7 1288.0,660.2 1291.0,658.7 1294.0,657.0 1297.0,655.2 1300.0,653.4 1303.0,651.4 1306.0,649.3 1309.0,647.2 1312.0,644.9 1315.0,642.5 1318.0,639.9 1321.0,637.3 1324.0,634.6 1327.0,631.7 1330.0,628.8 1333.0,625.7 1336.0,622.6 1339.0,619.3 1342.0,616.0 1345.0,612.6 1348.0,609.1 1351.0,605.5 1354.0,601.9 1357.0,598.3 1360.0,594.6 1363.0,590.8 1366.0,587.1 1369.0,583.4 1372.0,579.6 1375.0,575.9 1378.0,572.3 1381.0,568.7 1384.0,565.2 1387.0,561.8 1390.0,558.5 1393.0,555.3 1396.0,552.3 1399.0,549.5 1402.0,546.8 1405.0,544.4 1408.0,542.2 1411.0,540.2 1414.0,538.5 1417.0,537.2 1420.0,536.0 1423.0,535.3 1426.0,534.8 1429.0,534.6 1432.0,534.8 1435.0,535.4 1438.0,536.3 1441.0,537.5 1444.0,539.2 1447.0,541.1 1450.0,543.4 1453.0,545.9 1456.0,548.8 1459.0,551.8 1462.0,555.1 1465.0,558.5 1468.0,562.2 1471.0,565.9 1474.0,569.8 1477.0,573.7 1480.0,577.7 1483.0,581.8 1486.0,585.9 1489.0,589.9 1492.0,594.0 1495.0,598.1 1498.0,602.1 1501.0,606.0 1504.0,609.9 1507.0,613.8 1510.0,617.5 1513.0,621.2 1516.0,624.8 1519.0,628.2 1522.0,631.6 1525.0,634.9 1528.0,638.0 1531.0,641.1 1534.0,644.0 1537.0,646.9 1540.0,649.6 1543.0,652.3 1546.0,654.8 1549.0,657.3 1552.0,659.6 1555.0,661.8 1558.0,664.0 1561.0,666.0 1564.0,668.0 1567.0,669.9 1570.0,671.7 1573.0,673.4 1576.0,675.0 1579.0,676.5 1582.0,678.0 1585.0,679.3 1588.0,680.7 1591.0,681.9 1594.0,683.1 1597.0,684.2 1600.0,685.3 1603.0,686.3 1606.0,687.3 1609.0,688.3 1612.0,689.2 1615.0,690.2 1618.0,691.1 1621.0,692.0 1624.0,692.8 1627.0,693.7 1630.0,694.5 1633.0,695.3 1636.0,696.1 1639.0,696.8 1642.0,697.5 1645.0,698.2 1648.0,698.9 1651.0,699.5 1654.0,700.2 1657.0,700.8 1660.0,701.3 1663.0,701.8 1666.0,702.3 1669.0,702.8 1672.0,703.2 1675.0,703.6 1678.0,703.9 1681.0,704.3 1684.0,704.5 1687.0,704.8 1690.0,705.1 1693.0,705.4 1696.0,705.6 1699.0,705.8 1702.0,706.1 1705.0,706.3 1708.0,706.5 1711.0,706.7 1714.0,707.0 1717.0,707.2 1720.0,707.3 1723.0,707.5 1726.0,707.7 1729.0,707.9 1732.0,708.1 1735.0,708.2 1738.0,708.4 1741.0,708.6 1744.0,708.7 1747.0,708.9 1750.0,709.0 1753.0,709.1 1756.0,709.3 1759.0,709.4 1762.0,709.5 1765.0,709.7 1768.0,709.8 1771.0,709.9 1774.0,710.0 1777.0,710.1 1780.0,710.3 1783.0,710.4 1786.0,710.5 1789.0,710.6 1792.0,710.7 1795.0,710.8 1798.0,710.9 1801.0,711.0 1804.0,711.1 1807.0,711.1 1810.0,711.2 1813.0,711.3 1816.0,711.4 1819.0,711.4 1822.0,711.5 1825.0,711.5 1828.0,711.6 1831.0,711.6 1834.0,711.6 1837.0,711.7 1840.0,711.7 1843.0,711.7 1846.0,711.8 1849.0,711.8 1852.0,711.8 1855.0,711.8 1858.0,711.8 1861.0,711.8 1864.0,711.8 1867.0,711.8 1870.0,711.8 1873.0,711.8 1875.3,711.8" fill="none" stroke="#9900ff" stroke-width="7.2" stroke-linejoin="round" stroke-linecap="round"/>
<polyline points="462.3,659.9 463.0,659.9 466.0,659.9 469.0,659.9 472.0,660.0 475.0,660.0 478.0,660.0 481.0,660.0 484.0,660.0 487.0,660.0 490.0,660.1 493.0,660.1 496.0,660.1 499.0,660.1 502.0,660.2 505.0,660.2 508.0,660.2 511.0,660.3 514.0,660.3 517.0,660.3 520.0,660.4 523.0,660.4 526.0,660.5 529.0,660.5 532.0,660.5 535.0,660.6 538.0,660.6 541.0,660.7 544.0,660.7 547.0,660.8 550.0,660.8 553.0,660.9 556.0,660.9 559.0,661.0 562.0,661.0 565.0,661.1 568.0,661.1 571.0,661.2 574.0,661.2 577.0,661.3 580.0,661.3 583.0,661.4 586.0,661.4 589.0,661.5 592.0,661.5 595.0,661.6 598.0,661.6 601.0,661.7 604.0,661.7 607.0,661.8 610.0,661.8 613.0,661.9 616.0,661.9 619.0,662.0 622.0,662.0 625.0,662.1 628.0,662.1 631.0,662.1 634.0,662.2 637.0,662.2 640.0,662.3 643.0,662.3 646.0,662.3 649.0,662.4 652.0,662.4 655.0,662.4 658.0,662.5 661.0,662.5 664.0,662.5 667.0,662.6 670.0,662.6 673.0,662.6 676.0,662.7 679.0,662.7 682.0,662.7 685.0,662.7 688.0,662.8 691.0,662.8 694.0,662.8 697.0,662.8 700.0,662.9 703.0,662.9 706.0,662.9 709.0,662.9 712.0,663.0 715.0,663.0 718.0,663.0 721.0,663.0 724.0,663.1 727.0,663.1 730.0,663.1 733.0,663.1 736.0,663.1 739.0,663.2 742.0,663.2 745.0,663.2 748.0,663.2 751.0,663.3 754.0,663.3 757.0,663.3 760.0,663.3 763.0,663.4 766.0,663.4 769.0,663.4 772.0,663.4 775.0,663.5 778.0,663.5 781.0,663.5 784.0,663.6 787.0,663.6 790.0,663.6 793.0,663.7 796.0,663.7 799.0,663.7 802.0,663.8 805.0,663.8 808.0,663.8 811.0,663.9 814.0,663.9 817.0,664.0 820.0,664.0 823.0,664.1 826.0,664.1 829.0,664.1 832.0,664.2 835.0,664.2 838.0,664.3 841.0,664.3 844.0,664.4 847.0,664.5 850.0,664.6 853.0,664.6 856.0,664.7 859.0,664.8 862.0,664.9 865.0,665.0 868.0,665.1 871.0,665.3 874.0,665.4 877.0,665.5 880.0,665.6 883.0,665.8 886.0,665.9 889.0,666.1 892.0,666.2 895.0,666.4 898.0,666.5 901.0,666.7 904.0,666.8 907.0,667.0 910.0,667.2 913.0,667.3 916.0,667.5 919.0,667.7 922.0,667.9 925.0,668.0 928.0,668.2 931.0,668.4 934.0,668.6 937.0,668.7 940.0,668.9 943.0,669.1 946.0,669.3 949.0,669.4 952.0,669.6 955.0,669.8 958.0,669.9 961.0,670.1 964.0,670.3 967.0,670.4 970.0,670.6 973.0,670.8 976.0,670.9 979.0,671.1 982.0,671.2 985.0,671.4 988.0,671.5 991.0,671.6 994.0,671.8 997.0,671.9 1000.0,672.1 1003.0,672.2 1006.0,672.3 1009.0,672.4 1012.0,672.6 1015.0,672.7 1018.0,672.8 1021.0,673.0 1024.0,673.1 1027.0,673.2 1030.0,673.3 1033.0,673.5 1036.0,673.6 1039.0,673.7 1042.0,673.8 1045.0,673.9 1048.0,674.0 1051.0,674.1 1054.0,674.3 1057.0,674.4 1060.0,674.5 1063.0,674.6 1066.0,674.7 1069.0,674.7 1072.0,674.8 1075.0,674.9 1078.0,675.0 1081.0,675.1 1084.0,675.2 1087.0,675.2 1090.0,675.3 1093.0,675.3 1096.0,675.4 1099.0,675.4 1102.0,675.5 1105.0,675.5 1108.0,675.5 1111.0,675.6 1114.0,675.6 1117.0,675.6 1120.0,675.6 1123.0,675.6 1126.0,675.5 1129.0,675.5 1132.0,675.5 1135.0,675.4 1138.0,675.4 1141.0,675.3 1144.0,675.2 1147.0,675.1 1150.0,675.0 1153.0,674.9 1156.0,674.8 1159.0,674.7 1162.0,674.5 1165.0,674.3 1168.0,674.2 1171.0,674.0 1174.0,673.8 1177.0,673.6 1180.0,673.4 1183.0,673.1 1186.0,672.9 1189.0,672.6 1192.0,672.4 1195.0,672.1 1198.0,671.8 1201.0,671.5 1204.0,671.2 1207.0,670.9 1210.0,670.6 1213.0,670.3 1216.0,670.0 1219.0,669.6 1222.0,669.3 1225.0,669.0 1228.0,668.6 1231.0,668.3 1234.0,668.0 1237.0,667.6 1240.0,667.3 1243.0,667.0 1246.0,666.7 1249.0,666.4 1252.0,666.1 1255.0,665.8 1258.0,665.6 1261.0,665.3 1264.0,665.1 1267.0,664.9 1270.0,664.7 1273.0,664.5 1276.0,664.3 1279.0,664.2 1282.0,664.1 1285.0,664.0 1288.0,664.0 1291.0,664.0 1294.0,664.0 1297.0,664.0 1300.0,664.1 1303.0,664.2 1306.0,664.4 1309.0,664.6 1312.0,664.8 1315.0,665.0 1318.0,665.3 1321.0,665.6 1324.0,665.9 1327.0,666.3 1330.0,666.7 1333.0,667.1 1336.0,667.5 1339.0,668.0 1342.0,668.5 1345.0,669.0 1348.0,669.6 1351.0,670.2 1354.0,670.7 1357.0,671.4 1360.0,672.0 1363.0,672.6 1366.0,673.3 1369.0,674.0 1372.0,674.6 1375.0,675.3 1378.0,676.0 1381.0,676.8 1384.0,677.5 1387.0,678.2 1390.0,678.9 1393.0,679.7 1396.0,680.4 1399.0,681.1 1402.0,681.8 1405.0,682.6 1408.0,683.3 1411.0,684.0 1414.0,684.7 1417.0,685.4 1420.0,686.1 1423.0,686.8 1426.0,687.5 1429.0,688.2 1432.0,688.8 1435.0,689.5 1438.0,690.1 1441.0,690.8 1444.0,691.4 1447.0,692.1 1450.0,692.7 1453.0,693.3 1456.0,693.9 1459.0,694.5 1462.0,695.1 1465.0,695.7 1468.0,696.3 1471.0,696.8 1474.0,697.4 1477.0,697.9 1480.0,698.4 1483.0,698.9 1486.0,699.4 1489.0,699.8 1492.0,700.3 1495.0,700.7 1498.0,701.1 1501.0,701.5 1504.0,701.9 1507.0,702.2 1510.0,702.6 1513.0,702.9 1516.0,703.2 1519.0,703.5 1522.0,703.7 1525.0,704.0 1528.0,704.2 1531.0,704.4 1534.0,704.6 1537.0,704.8 1540.0,705.0 1543.0,705.2 1546.0,705.4 1549.0,705.6 1552.0,705.7 1555.0,705.9 1558.0,706.0 1561.0,706.2 1564.0,706.3 1567.0,706.5 1570.0,706.6 1573.0,706.7 1576.0,706.9 1579.0,707.0 1582.0,707.1 1585.0,707.2 1588.0,707.3 1591.0,707.4 1594.0,707.5 1597.0,707.6 1600.0,707.7 1603.0,707.8 1606.0,707.9 1609.0,708.0 1612.0,708.1 1615.0,708.2 1618.0,708.3 1621.0,708.3 1624.0,708.4 1627.0,708.5 1630.0,708.6 1633.0,708.6 1636.0,708.7 1639.0,708.8 1642.0,708.8 1645.0,708.9 1648.0,709.0 1651.0,709.0 1654.0,709.1 1657.0,709.1 1660.0,709.2 1663.0,709.2 1666.0,709.3 1669.0,709.3 1672.0,709.4 1675.0,709.4 1678.0,709.5 1681.0,709.5 1684.0,709.6 1687.0,709.6 1690.0,709.6 1693.0,709.7 1696.0,709.7 1699.0,709.8 1702.0,709.8 1705.0,709.8 1708.0,709.9 1711.0,709.9 1714.0,710.0 1717.0,710.0 1720.0,710.0 1723.0,710.1 1726.0,710.1 1729.0,710.1 1732.0,710.1 1735.0,710.2 1738.0,710.2 1741.0,710.2 1744.0,710.3 1747.0,710.3 1750.0,710.3 1753.0,710.3 1756.0,710.3 1759.0,710.4 1762.0,710.4 1765.0,710.4 1768.0,710.4 1771.0,710.5 1774.0,710.5 1777.0,710.5 1780.0,710.5 1783.0,710.5 1786.0,710.6 1789.0,710.6 1792.0,710.6 1795.0,710.6 1798.0,710.7 1801.0,710.7 1804.0,710.7 1807.0,710.7 1810.0,710.7 1813.0,710.7 1816.0,710.8 1819.0,710.8 1822.0,710.8 1825.0,710.8 1828.0,710.8 1831.0,710.8 1834.0,710.9 1837.0,710.9 1840.0,710.9 1843.0,710.9 1846.0,710.9 1849.0,710.9 1852.0,710.9 1855.0,710.9 1858.0,711.0 1861.0,711.0 1864.0,711.0 1867.0,711.0 1870.0,711.0 1873.0,711.0 1875.3,711.0" fill="none" stroke="#008080" stroke-width="7.2" stroke-linejoin="round" stroke-linecap="round"/>
<polyline points="462.3,659.8 463.0,659.8 466.0,659.8 469.0,659.8 472.0,659.8 475.0,659.8 478.0,659.8 481.0,659.8 484.0,659.8 487.0,659.8 490.0,659.8 493.0,659.9 496.0,659.9 499.0,659.9 502.0,659.9 505.0,659.9 508.0,659.9 511.0,660.0 514.0,660.0 517.0,660.0 520.0,660.0 523.0,660.0 526.0,660.1 529.0,660.1 532.0,660.1 535.0,660.1 538.0,660.1 541.0,660.1 544.0,660.2 547.0,660.2 550.0,660.2 553.0,660.2 556.0,660.2 559.0,660.2 562.0,660.2 565.0,660.2 568.0,660.2 571.0,660.2 574.0,660.2 577.0,660.2 580.0,660.2 583.0,660.2 586.0,660.2 589.0,660.2 592.0,660.2 595.0,660.1 598.0,660.1 601.0,660.1 604.0,660.0 607.0,660.0 610.0,660.0 613.0,659.9 616.0,659.9 619.0,659.8 622.0,659.7 625.0,659.7 628.0,659.6 631.0,659.5 634.0,659.4 637.0,659.3 640.0,659.2 643.0,659.1 646.0,659.0 649.0,658.9 652.0,658.7 655.0,658.6 658.0,658.5 661.0,658.3 664.0,658.2 667.0,658.0 670.0,657.9 673.0,657.7 676.0,657.5 679.0,657.3 682.0,657.2 685.0,657.0 688.0,656.8 691.0,656.6 694.0,656.4 697.0,656.2 700.0,656.0 703.0,655.7 706.0,655.5 709.0,655.3 712.0,655.1 715.0,654.9 718.0,654.6 721.0,654.4 724.0,654.2 727.0,653.9 730.0,653.7 733.0,653.5 736.0,653.2 739.0,653.0 742.0,652.8 745.0,652.5 748.0,652.3 751.0,652.1 754.0,651.9 757.0,651.6 760.0,651.4 763.0,651.2 766.0,651.0 769.0,650.8 772.0,650.6 775.0,650.4 778.0,650.2 781.0,650.0 784.0,649.9 787.0,649.7 790.0,649.5 793.0,649.4 796.0,649.3 799.0,649.1 802.0,649.0 805.0,648.9 808.0,648.8 811.0,648.7 814.0,648.6 817.0,648.6 820.0,648.5 823.0,648.5 826.0,648.5 829.0,648.5 832.0,648.5 835.0,648.5 838.0,648.5 841.0,648.6 844.0,648.6 847.0,648.7 850.0,648.8 853.0,649.0 856.0,649.2 859.0,649.4 862.0,649.6 865.0,649.9 868.0,650.1 871.0,650.4 874.0,650.8 877.0,651.1 880.0,651.5 883.0,651.9 886.0,652.2 889.0,652.7 892.0,653.1 895.0,653.5 898.0,654.0 901.0,654.5 904.0,654.9 907.0,655.4 910.0,655.9 913.0,656.4 916.0,656.9 919.0,657.4 922.0,657.9 925.0,658.5 928.0,659.0 931.0,659.5 934.0,660.0 937.0,660.5 940.0,661.0 943.0,661.5 946.0,662.0 949.0,662.5 952.0,663.0 955.0,663.5 958.0,664.0 961.0,664.4 964.0,664.9 967.0,665.3 970.0,665.8 973.0,666.2 976.0,666.6 979.0,667.0 982.0,667.4 985.0,667.8 988.0,668.2 991.0,668.5 994.0,668.9 997.0,669.2 1000.0,669.5 1003.0,669.8 1006.0,670.2 1009.0,670.5 1012.0,670.8 1015.0,671.1 1018.0,671.3 1021.0,671.6 1024.0,671.9 1027.0,672.1 1030.0,672.4 1033.0,672.6 1036.0,672.9 1039.0,673.1 1042.0,673.3 1045.0,673.5 1048.0,673.8 1051.0,674.0 1054.0,674.2 1057.0,674.4 1060.0,674.6 1063.0,674.8 1066.0,675.0 1069.0,675.2 1072.0,675.3 1075.0,675.5 1078.0,675.7 1081.0,675.9 1084.0,676.1 1087.0,676.2 1090.0,676.4 1093.0,676.6 1096.0,676.7 1099.0,676.9 1102.0,677.1 1105.0,677.2 1108.0,677.4 1111.0,677.6 1114.0,677.7 1117.0,677.9 1120.0,678.0 1123.0,678.2 1126.0,678.4 1129.0,678.5 1132.0,678.7 1135.0,678.8 1138.0,679.0 1141.0,679.2 1144.0,679.3 1147.0,679.5 1150.0,679.6 1153.0,679.8 1156.0,679.9 1159.0,680.1 1162.0,680.3 1165.0,680.4 1168.0,680.6 1171.0,680.7 1174.0,680.9 1177.0,681.1 1180.0,681.2 1183.0,681.4 1186.0,681.5 1189.0,681.7 1192.0,681.8 1195.0,682.0 1198.0,682.2 1201.0,682.3 1204.0,682.5 1207.0,682.6 1210.0,682.8 1213.0,683.0 1216.0,683.1 1219.0,683.3 1222.0,683.5 1225.0,683.6 1228.0,683.8 1231.0,683.9 1234.0,684.1 1237.0,684.3 1240.0,684.4 1243.0,684.6 1246.0,684.8 1249.0,684.9 1252.0,685.1 1255.0,685.3 1258.0,685.5 1261.0,685.6 1264.0,685.8 1267.0,686.0 1270.0,686.1 1273.0,686.3 1276.0,686.5 1279.0,686.7 1282.0,686.8 1285.0,687.0 1288.0,687.2 1291.0,687.4 1294.0,687.6 1297.0,687.7 1300.0,687.9 1303.0,688.1 1306.0,688.3 1309.0,688.5 1312.0,688.7 1315.0,688.9 1318.0,689.1 1321.0,689.2 1324.0,689.4 1327.0,689.6 1330.0,689.8 1333.0,690.0 1336.0,690.2 1339.0,690.4 1342.0,690.6 1345.0,690.8 1348.0,691.0 1351.0,691.2 1354.0,691.4 1357.0,691.6 1360.0,691.8 1363.0,692.0 1366.0,692.2 1369.0,692.4 1372.0,692.7 1375.0,692.9 1378.0,693.1 1381.0,693.3 1384.0,693.5 1387.0,693.7 1390.0,693.9 1393.0,694.1 1396.0,694.4 1399.0,694.6 1402.0,694.8 1405.0,695.0 1408.0,695.2 1411.0,695.5 1414.0,695.7 1417.0,695.9 1420.0,696.1 1423.0,696.4 1426.0,696.6 1429.0,696.8 1432.0,697.0 1435.0,697.3 1438.0,697.5 1441.0,697.8 1444.0,698.1 1447.0,698.3 1450.0,698.6 1453.0,698.9 1456.0,699.2 1459.0,699.4 1462.0,699.7 1465.0,700.0 1468.0,700.3 1471.0,700.6 1474.0,700.9 1477.0,701.2 1480.0,701.4 1483.0,701.7 1486.0,702.0 1489.0,702.3 1492.0,702.5 1495.0,702.8 1498.0,703.0 1501.0,703.3 1504.0,703.5 1507.0,703.7 1510.0,704.0 1513.0,704.2 1516.0,704.4 1519.0,704.5 1522.0,704.7 1525.0,704.9 1528.0,705.0 1531.0,705.2 1534.0,705.3 1537.0,705.4 1540.0,705.6 1543.0,705.7 1546.0,705.8 1549.0,706.0 1552.0,706.1 1555.0,706.2 1558.0,706.3 1561.0,706.4 1564.0,706.6 1567.0,706.7 1570.0,706.8 1573.0,706.9 1576.0,707.0 1579.0,707.1 1582.0,707.2 1585.0,707.3 1588.0,707.4 1591.0,707.5 1594.0,707.6 1597.0,707.7 1600.0,707.8 1603.0,707.9 1606.0,708.0 1609.0,708.0 1612.0,708.1 1615.0,708.2 1618.0,708.3 1621.0,708.3 1624.0,708.4 1627.0,708.5 1630.0,708.6 1633.0,708.6 1636.0,708.7 1639.0,708.8 1642.0,708.8 1645.0,708.9 1648.0,708.9 1651.0,709.0 1654.0,709.0 1657.0,709.1 1660.0,709.2 1663.0,709.2 1666.0,709.3 1669.0,709.3 1672.0,709.4 1675.0,709.4 1678.0,709.4 1681.0,709.5 1684.0,709.5 1687.0,709.6 1690.0,709.6 1693.0,709.7 1696.0,709.7 1699.0,709.7 1702.0,709.8 1705.0,709.8 1708.0,709.9 1711.0,709.9 1714.0,709.9 1717.0,710.0 1720.0,710.0 1723.0,710.0 1726.0,710.1 1729.0,710.1 1732.0,710.1 1735.0,710.2 1738.0,710.2 1741.0,710.2 1744.0,710.2 1747.0,710.3 1750.0,710.3 1753.0,710.3 1756.0,710.3 1759.0,710.4 1762.0,710.4 1765.0,710.4 1768.0,710.4 1771.0,710.4 1774.0,710.5 1777.0,710.5 1780.0,710.5 1783.0,710.5 1786.0,710.6 1789.0,710.6 1792.0,710.6 1795.0,710.6 1798.0,710.6 1801.0,710.7 1804.0,710.7 1807.0,710.7 1810.0,710.7 1813.0,710.7 1816.0,710.7 1819.0,710.8 1822.0,710.8 1825.0,710.8 1828.0,710.8 1831.0,710.8 1834.0,710.8 1837.0,710.9 1840.0,710.9 1843.0,710.9 1846.0,710.9 1849.0,710.9 1852.0,710.9 1855.0,710.9 1858.0,710.9 1861.0,710.9 1864.0,711.0 1867.0,711.0 1870.0,711.0 1873.0,711.0 1875.3,711.0" fill="none" stroke="#ff00ff" stroke-width="7.2" stroke-linejoin="round" stroke-linecap="round"/>
<polyline points="157.6,452.9 160.0,452.9 163.0,452.9 166.0,452.9 169.0,452.9 172.0,452.9 175.0,452.9 178.0,452.9 181.0,452.9 184.0,452.9 187.0,452.9 190.0,452.9 193.0,452.9 196.0,452.9 199.0,452.9 202.0,452.9 205.0,452.9 208.0,452.9 211.0,452.9 214.0,452.9 217.0,452.9 220.0,452.9 223.0,452.9 226.0,452.9 229.0,452.9 232.0,452.9 235.0,452.9 238.0,452.9 241.0,452.9 244.0,452.9 247.0,452.9 250.0,452.9 253.0,452.9 256.0,452.9 259.0,452.9 262.0,452.9 265.0,452.9 268.0,452.9 271.0,452.9 274.0,452.9 277.0,452.9 280.0,452.9 283.0,452.9 286.0,452.9 289.0,452.9 292.0,452.9 295.0,452.9 298.0,452.9 301.0,452.9 304.0,452.9 307.0,452.9 310.0,452.9 313.0,452.9 316.0,452.9 319.0,452.9 322.0,452.9 325.0,452.9 328.0,452.9 331.0,452.9 334.0,452.9 337.0,452.9 340.0,452.9 343.0,452.9 346.0,452.9 349.0,452.9 352.0,452.9 355.0,452.9 358.0,452.9 361.0,452.9 364.0,452.9 367.0,452.9 370.0,452.9 373.0,452.9 376.0,452.9 379.0,452.9 382.0,452.9 385.0,452.9 388.0,452.9 391.0,452.9 394.0,452.9 397.0,452.9 400.0,452.9 403.0,452.9 406.0,452.9 409.0,452.9 412.0,452.9 415.0,452.9 418.0,453.0 421.0,453.0 424.0,453.0 427.0,453.0 430.0,453.0 433.0,453.0 436.0,453.0 439.0,453.0 442.0,453.0 445.0,453.0 448.0,453.0 451.0,453.0 454.0,453.0 457.0,453.0 460.0,453.0 463.0,453.0 466.0,453.0 469.0,453.0 472.0,453.0 475.0,453.0 478.0,453.0 481.0,453.0 484.0,453.0 487.0,453.0 490.0,453.0 493.0,453.0 496.0,453.0 499.0,453.0 502.0,453.0 505.0,453.0 508.0,453.0 511.0,453.0 514.0,453.0 517.0,453.0 520.0,453.0 523.0,453.0 526.0,453.0 529.0,453.0 532.0,453.0 535.0,453.0 538.0,453.0 541.0,453.0 544.0,453.0 547.0,453.0 550.0,453.0 553.0,453.0 556.0,453.0 559.0,453.0 562.0,453.0 565.0,453.0 568.0,453.0 571.0,453.0 574.0,453.0 577.0,453.0 580.0,453.0 583.0,453.0 586.0,453.0 589.0,453.0 592.0,453.1 595.0,453.1 598.0,453.1 601.0,453.1 604.0,453.1 607.0,453.1 610.0,453.1 613.0,453.1 616.0,453.1 619.0,453.1 622.0,453.1 625.0,453.1 628.0,453.1 631.0,453.1 634.0,453.1 637.0,453.1 640.0,453.1 643.0,453.1 646.0,453.1 649.0,453.1 652.0,453.1 655.0,453.1 658.0,453.1 661.0,453.1 664.0,453.1 667.0,453.1 670.0,453.2 673.0,453.2 676.0,453.2 679.0,453.2 682.0,453.2 685.0,453.2 688.0,453.3 691.0,453.3 694.0,453.3 697.0,453.3 700.0,453.4 703.0,453.4 706.0,453.4 709.0,453.4 712.0,453.5 715.0,453.5 718.0,453.5 721.0,453.6 724.0,453.6 727.0,453.6 730.0,453.7 733.0,453.7 736.0,453.8 739.0,453.8 742.0,453.8 745.0,453.9 748.0,453.9 751.0,454.0 754.0,454.0 757.0,454.1 760.0,454.1 763.0,454.1 766.0,454.2 769.0,454.2 772.0,454.3 775.0,454.3 778.0,454.4 781.0,454.4 784.0,454.5 787.0,454.5 790.0,454.6 793.0,454.6 796.0,454.7 799.0,454.7 802.0,454.8 805.0,454.8 808.0,454.9 811.0,454.9 814.0,455.0 817.0,455.0 820.0,455.1 823.0,455.1 826.0,455.2 829.0,455.2 832.0,455.3 835.0,455.3 838.0,455.4 841.0,455.4 844.0,455.5 847.0,455.5 850.0,455.6 853.0,455.7 856.0,455.7 859.0,455.8 862.0,455.8 865.0,455.9 868.0,455.9 871.0,456.0 874.0,456.0 877.0,456.1 880.0,456.2 883.0,456.2 886.0,456.3 889.0,456.3 892.0,456.4 895.0,456.5 898.0,456.5 901.0,456.6 904.0,456.7 907.0,456.8 910.0,456.8 913.0,456.9 916.0,457.0 919.0,457.0 922.0,457.1 925.0,457.2 928.0,457.3 931.0,457.3 934.0,457.4 937.0,457.5 940.0,457.6 943.0,457.6 946.0,457.7 949.0,457.8 952.0,457.9 955.0,458.0 958.0,458.0 961.0,458.1 964.0,458.2 967.0,458.3 970.0,458.4 973.0,458.5 976.0,458.5 979.0,458.6 982.0,458.7 985.0,458.8 988.0,458.9 991.0,459.0 994.0,459.0 997.0,459.1 1000.0,459.2 1003.0,459.3 1006.0,459.4 1009.0,459.5 1012.0,459.6 1015.0,459.7 1018.0,459.8 1021.0,459.9 1024.0,460.0 1027.0,460.1 1030.0,460.2 1033.0,460.3 1036.0,460.4 1039.0,460.5 1042.0,460.6 1045.0,460.7 1048.0,460.8 1051.0,460.9 1054.0,461.0 1057.0,461.1 1060.0,461.2 1063.0,461.3 1066.0,461.4 1069.0,461.5 1072.0,461.7 1075.0,461.8 1078.0,461.9 1081.0,462.0 1084.0,462.1 1087.0,462.2 1090.0,462.3 1093.0,462.4 1096.0,462.5 1099.0,462.7 1102.0,462.8 1105.0,462.9 1108.0,463.0 1111.0,463.1 1114.0,463.2 1117.0,463.3 1120.0,463.5 1123.0,463.6 1126.0,463.7 1129.0,463.8 1132.0,463.9 1135.0,464.0 1138.0,464.1 1141.0,464.3 1144.0,464.4 1147.0,464.5 1150.0,464.6 1153.0,464.7 1156.0,464.8 1159.0,464.9 1162.0,465.1 1165.0,465.2 1168.0,465.3 1171.0,465.4 1174.0,465.5 1177.0,465.6 1180.0,465.8 1183.0,465.9 1186.0,466.0 1189.0,466.1 1192.0,466.2 1195.0,466.4 1198.0,466.5 1201.0,466.6 1204.0,466.7 1207.0,466.9 1210.0,467.0 1213.0,467.1 1216.0,467.2 1219.0,467.3 1222.0,467.5 1225.0,467.6 1228.0,467.7 1231.0,467.8 1234.0,468.0 1237.0,468.1 1240.0,468.2 1243.0,468.3 1246.0,468.4 1249.0,468.6 1252.0,468.7 1255.0,468.8 1258.0,468.9 1261.0,469.0 1264.0,469.2 1267.0,469.3 1270.0,469.4 1273.0,469.5 1276.0,469.6 1279.0,469.8 1282.0,469.9 1285.0,470.0 1288.0,470.1 1291.0,470.3 1294.0,470.4 1297.0,470.5 1300.0,470.6 1303.0,470.8 1306.0,470.9 1309.0,471.0 1312.0,471.1 1315.0,471.2 1318.0,471.4 1321.0,471.5 1324.0,471.6 1327.0,471.7 1330.0,471.9 1333.0,472.0 1336.0,472.1 1339.0,472.2 1342.0,472.3 1345.0,472.5 1348.0,472.6 1351.0,472.7 1354.0,472.8 1357.0,473.0 1360.0,473.1 1363.0,473.2 1366.0,473.3 1369.0,473.4 1372.0,473.6 1375.0,473.7 1378.0,473.8 1381.0,473.9 1384.0,474.0 1387.0,474.2 1390.0,474.3 1393.0,474.4 1396.0,474.5 1399.0,474.6 1402.0,474.7 1405.0,474.8 1408.0,475.0 1411.0,475.1 1414.0,475.2 1417.0,475.3 1420.0,475.4 1423.0,475.5 1426.0,475.6 1429.0,475.7 1432.0,475.9 1435.0,476.0 1438.0,476.1 1441.0,476.2 1444.0,476.3 1447.0,476.4 1450.0,476.5 1453.0,476.7 1456.0,476.8 1459.0,476.9 1462.0,477.0 1465.0,477.1 1468.0,477.2 1471.0,477.4 1474.0,477.5 1477.0,477.6 1480.0,477.7 1483.0,477.8 1486.0,477.9 1489.0,478.1 1492.0,478.2 1495.0,478.3 1498.0,478.4 1501.0,478.5 1504.0,478.6 1507.0,478.8 1510.0,478.9 1513.0,479.0 1516.0,479.1 1519.0,479.2 1522.0,479.4 1525.0,479.5 1528.0,479.6 1531.0,479.7 1534.0,479.8 1537.0,479.9 1540.0,480.1 1543.0,480.2 1546.0,480.3 1549.0,480.4 1552.0,480.5 1555.0,480.6 1558.0,480.8 1561.0,480.9 1564.0,481.0 1567.0,481.1 1570.0,481.2 1573.0,481.3 1576.0,481.4 1579.0,481.5 1582.0,481.7 1585.0,481.8 1588.0,481.9 1591.0,482.0 1594.0,482.1 1597.0,482.2 1600.0,482.3 1603.0,482.4 1606.0,482.5 1609.0,482.6 1612.0,482.8 1615.0,482.9 1618.0,483.0 1621.0,483.1 1624.0,483.2 1627.0,483.3 1630.0,483.4 1633.0,483.5 1636.0,483.6 1639.0,483.7 1642.0,483.8 1645.0,483.9 1648.0,484.0 1651.0,484.1 1654.0,484.2 1657.0,484.3 1660.0,484.3 1663.0,484.4 1666.0,484.5 1669.0,484.6 1672.0,484.7 1675.0,484.8 1678.0,484.9 1681.0,485.0 1684.0,485.1 1687.0,485.1 1690.0,485.2 1693.0,485.3 1696.0,485.4 1699.0,485.5 1702.0,485.5 1705.0,485.6 1708.0,485.7 1711.0,485.8 1714.0,485.8 1717.0,485.9 1720.0,486.0 1723.0,486.0 1726.0,486.1 1729.0,486.2 1732.0,486.2 1735.0,486.3 1738.0,486.4 1741.0,486.4 1744.0,486.5 1747.0,486.5 1750.0,486.6 1753.0,486.7 1756.0,486.7 1759.0,486.8 1762.0,486.8 1765.0,486.9 1768.0,486.9 1771.0,487.0 1774.0,487.0 1777.0,487.1 1780.0,487.1 1783.0,487.2 1786.0,487.2 1789.0,487.3 1792.0,487.3 1795.0,487.4 1798.0,487.4 1801.0,487.4 1804.0,487.5 1807.0,487.5 1810.0,487.6 1813.0,487.6 1816.0,487.7 1819.0,487.7 1822.0,487.7 1825.0,487.8 1828.0,487.8 1831.0,487.9 1834.0,487.9 1837.0,487.9 1840.0,488.0 1843.0,488.0 1846.0,488.0 1849.0,488.1 1852.0,488.1 1855.0,488.1 1858.0,488.2 1861.0,488.2 1864.0,488.2 1867.0,488.3 1870.0,488.3 1873.0,488.3 1876.0,488.3 1879.0,488.4 1879.5,488.4" fill="none" stroke="#00ff00" stroke-width="5.5" stroke-linejoin="round" stroke-linecap="round"/>
<polyline points="157.6,450.5 160.0,450.5 163.0,450.5 166.0,450.4 169.0,450.4 172.0,450.4 175.0,450.4 178.0,450.4 181.0,450.4 184.0,450.4 187.0,450.4 190.0,450.4 193.0,450.4 196.0,450.4 199.0,450.4 202.0,450.4 205.0,450.4 208.0,450.4 211.0,450.3 214.0,450.3 217.0,450.3 220.0,450.3 223.0,450.3 226.0,450.3 229.0,450.3 232.0,450.3 235.0,450.3 238.0,450.3 241.0,450.3 244.0,450.3 247.0,450.3 250.0,450.3 253.0,450.2 256.0,450.2 259.0,450.2 262.0,450.2 265.0,450.2 268.0,450.2 271.0,450.2 274.0,450.2 277.0,450.2 280.0,450.2 283.0,450.2 286.0,450.1 289.0,450.1 292.0,450.1 295.0,450.1 298.0,450.1 301.0,450.1 304.0,450.1 307.0,450.1 310.0,450.1 313.0,450.1 316.0,450.0 319.0,450.0 322.0,450.0 325.0,450.0 328.0,450.0 331.0,450.0 334.0,450.0 337.0,450.0 340.0,450.0 343.0,449.9 346.0,449.9 349.0,449.9 352.0,449.9 355.0,449.9 358.0,449.9 361.0,449.9 364.0,449.9 367.0,449.8 370.0,449.8 373.0,449.8 376.0,449.8 379.0,449.8 382.0,449.8 385.0,449.8 388.0,449.7 391.0,449.7 394.0,449.7 397.0,449.7 400.0,449.7 403.0,449.7 406.0,449.7 409.0,449.6 412.0,449.6 415.0,449.6 418.0,449.6 421.0,449.6 424.0,449.5 427.0,449.5 430.0,449.5 433.0,449.5 436.0,449.5 439.0,449.5 442.0,449.4 445.0,449.4 448.0,449.4 451.0,449.4 454.0,449.4 457.0,449.3 460.0,449.3 463.0,449.3 466.0,449.3 469.0,449.2 472.0,449.2 475.0,449.2 478.0,449.2 481.0,449.2 484.0,449.1 487.0,449.1 490.0,449.1 493.0,449.1 496.0,449.0 499.0,449.0 502.0,449.0 505.0,448.9 508.0,448.9 511.0,448.9 514.0,448.9 517.0,448.8 520.0,448.8 523.0,448.8 526.0,448.7 529.0,448.7 532.0,448.7 535.0,448.6 538.0,448.6 541.0,448.6 544.0,448.5 547.0,448.5 550.0,448.5 553.0,448.4 556.0,448.4 559.0,448.3 562.0,448.3 565.0,448.3 568.0,448.2 571.0,448.2 574.0,448.1 577.0,448.1 580.0,448.0 583.0,448.0 586.0,447.9 589.0,447.9 592.0,447.8 595.0,447.8 598.0,447.7 601.0,447.7 604.0,447.6 607.0,447.6 610.0,447.5 613.0,447.5 616.0,447.4 619.0,447.3 622.0,447.3 625.0,447.2 628.0,447.1 631.0,447.1 634.0,447.0 637.0,446.9 640.0,446.9 643.0,446.8 646.0,446.7 649.0,446.6 652.0,446.5 655.0,446.4 658.0,446.4 661.0,446.3 664.0,446.2 667.0,446.1 670.0,446.0 673.0,445.9 676.0,445.8 679.0,445.7 682.0,445.6 685.0,445.5 688.0,445.4 691.0,445.3 694.0,445.2 697.0,445.1 700.0,444.9 703.0,444.8 706.0,444.7 709.0,444.5 712.0,444.4 715.0,444.2 718.0,444.1 721.0,443.9 724.0,443.8 727.0,443.6 730.0,443.4 733.0,443.2 736.0,443.0 739.0,442.8 742.0,442.6 745.0,442.4 748.0,442.2 751.0,441.9 754.0,441.7 757.0,441.4 760.0,441.1 763.0,440.8 766.0,440.5 769.0,440.2 772.0,439.9 775.0,439.5 778.0,439.1 781.0,438.8 784.0,438.4 787.0,438.0 790.0,437.5 793.0,437.1 796.0,436.6 799.0,436.1 802.0,435.6 805.0,435.1 808.0,434.6 811.0,434.0 814.0,433.4 817.0,432.8 820.0,432.2 823.0,431.5 826.0,430.9 829.0,430.2 832.0,429.4 835.0,428.7 838.0,427.9 841.0,427.1 844.0,426.3 847.0,425.5 850.0,424.6 853.0,423.7 856.0,422.8 859.0,421.9 862.0,421.0 865.0,420.0 868.0,419.0 871.0,418.0 874.0,417.0 877.0,415.9 880.0,414.9 883.0,413.8 886.0,412.7 889.0,411.6 892.0,410.5 895.0,409.4 898.0,408.3 901.0,407.2 904.0,406.1 907.0,405.0 910.0,403.9 913.0,402.8 916.0,401.7 919.0,400.7 922.0,399.6 925.0,398.6 928.0,397.7 931.0,396.7 934.0,395.9 937.0,395.0 940.0,394.2 943.0,393.5 946.0,392.8 949.0,392.2 952.0,391.7 955.0,391.3 958.0,390.9 961.0,390.6 964.0,390.4 967.0,390.3 970.0,390.3 973.0,390.4 976.0,390.5 979.0,390.8 982.0,391.1 985.0,391.5 988.0,392.0 991.0,392.6 994.0,393.3 997.0,394.0 1000.0,394.8 1003.0,395.7 1006.0,396.6 1009.0,397.6 1012.0,398.7 1015.0,399.8 1018.0,400.9 1021.0,402.0 1024.0,403.2 1027.0,404.5 1030.0,405.7 1033.0,407.0 1036.0,408.2 1039.0,409.5 1042.0,410.8 1045.0,412.1 1048.0,413.3 1051.0,414.6 1054.0,415.9 1057.0,417.2 1060.0,418.4 1063.0,419.7 1066.0,420.9 1069.0,422.1 1072.0,423.3 1075.0,424.5 1078.0,425.7 1081.0,426.8 1084.0,427.9 1087.0,429.0 1090.0,430.1 1093.0,431.1 1096.0,432.2 1099.0,433.2 1102.0,434.2 1105.0,435.1 1108.0,436.1 1111.0,437.0 1114.0,437.9 1117.0,438.8 1120.0,439.6 1123.0,440.4 1126.0,441.2 1129.0,442.0 1132.0,442.8 1135.0,443.5 1138.0,444.2 1141.0,444.9 1144.0,445.6 1147.0,446.3 1150.0,446.9 1153.0,447.5 1156.0,448.1 1159.0,448.7 1162.0,449.3 1165.0,449.8 1168.0,450.3 1171.0,450.9 1174.0,451.4 1177.0,451.8 1180.0,452.3 1183.0,452.8 1186.0,453.2 1189.0,453.7 1192.0,454.1 1195.0,454.5 1198.0,454.9 1201.0,455.3 1204.0,455.7 1207.0,456.0 1210.0,456.4 1213.0,456.8 1216.0,457.1 1219.0,457.4 1222.0,457.8 1225.0,458.1 1228.0,458.4 1231.0,458.7 1234.0,459.0 1237.0,459.3 1240.0,459.6 1243.0,459.8 1246.0,460.1 1249.0,460.4 1252.0,460.6 1255.0,460.9 1258.0,461.1 1261.0,461.4 1264.0,461.6 1267.0,461.9 1270.0,462.1 1273.0,462.3 1276.0,462.6 1279.0,462.8 1282.0,463.0 1285.0,463.2 1288.0,463.4 1291.0,463.7 1294.0,463.9 1297.0,464.1 1300.0,464.3 1303.0,464.5 1306.0,464.7 1309.0,464.9 1312.0,465.1 1315.0,465.3 1318.0,465.5 1321.0,465.7 1324.0,465.9 1327.0,466.0 1330.0,466.2 1333.0,466.4 1336.0,466.6 1339.0,466.8 1342.0,467.0 1345.0,467.1 1348.0,467.3 1351.0,467.5 1354.0,467.7 1357.0,467.8 1360.0,468.0 1363.0,468.2 1366.0,468.3 1369.0,468.5 1372.0,468.7 1375.0,468.8 1378.0,469.0 1381.0,469.2 1384.0,469.3 1387.0,469.5 1390.0,469.7 1393.0,469.8 1396.0,470.0 1399.0,470.1 1402.0,470.3 1405.0,470.4 1408.0,470.6 1411.0,470.7 1414.0,470.9 1417.0,471.0 1420.0,471.2 1423.0,471.3 1426.0,471.5 1429.0,471.6 1432.0,471.7 1435.0,471.9 1438.0,472.0 1441.0,472.2 1444.0,472.3 1447.0,472.5 1450.0,472.6 1453.0,472.7 1456.0,472.9 1459.0,473.0 1462.0,473.2 1465.0,473.3 1468.0,473.5 1471.0,473.6 1474.0,473.7 1477.0,473.9 1480.0,474.0 1483.0,474.2 1486.0,474.3 1489.0,474.4 1492.0,474.6 1495.0,474.7 1498.0,474.9 1501.0,475.0 1504.0,475.1 1507.0,475.3 1510.0,475.4 1513.0,475.5 1516.0,475.7 1519.0,475.8 1522.0,476.0 1525.0,476.1 1528.0,476.2 1531.0,476.4 1534.0,476.5 1537.0,476.6 1540.0,476.8 1543.0,476.9 1546.0,477.0 1549.0,477.2 1552.0,477.3 1555.0,477.4 1558.0,477.6 1561.0,477.7 1564.0,477.8 1567.0,478.0 1570.0,478.1 1573.0,478.2 1576.0,478.3 1579.0,478.5 1582.0,478.6 1585.0,478.7 1588.0,478.8 1591.0,479.0 1594.0,479.1 1597.0,479.2 1600.0,479.3 1603.0,479.5 1606.0,479.6 1609.0,479.7 1612.0,479.8 1615.0,479.9 1618.0,480.1 1621.0,480.2 1624.0,480.3 1627.0,480.4 1630.0,480.5 1633.0,480.6 1636.0,480.7 1639.0,480.8 1642.0,481.0 1645.0,481.1 1648.0,481.2 1651.0,481.3 1654.0,481.4 1657.0,481.5 1660.0,481.6 1663.0,481.7 1666.0,481.8 1669.0,481.9 1672.0,482.0 1675.0,482.1 1678.0,482.2 1681.0,482.3 1684.0,482.4 1687.0,482.5 1690.0,482.6 1693.0,482.6 1696.0,482.7 1699.0,482.8 1702.0,482.9 1705.0,483.0 1708.0,483.1 1711.0,483.2 1714.0,483.2 1717.0,483.3 1720.0,483.4 1723.0,483.5 1726.0,483.5 1729.0,483.6 1732.0,483.7 1735.0,483.8 1738.0,483.8 1741.0,483.9 1744.0,484.0 1747.0,484.0 1750.0,484.1 1753.0,484.1 1756.0,484.2 1759.0,484.3 1762.0,484.3 1765.0,484.4 1768.0,484.4 1771.0,484.5 1774.0,484.6 1777.0,484.6 1780.0,484.7 1783.0,484.7 1786.0,484.8 1789.0,484.8 1792.0,484.9 1795.0,484.9 1798.0,485.0 1801.0,485.0 1804.0,485.1 1807.0,485.1 1810.0,485.2 1813.0,485.2 1816.0,485.3 1819.0,485.3 1822.0,485.4 1825.0,485.4 1828.0,485.5 1831.0,485.5 1834.0,485.6 1837.0,485.6 1840.0,485.6 1843.0,485.7 1846.0,485.7 1849.0,485.8 1852.0,485.8 1855.0,485.8 1858.0,485.9 1861.0,485.9 1864.0,485.9 1867.0,486.0 1870.0,486.0 1873.0,486.0 1876.0,486.1 1879.0,486.1 1879.5,486.1" fill="none" stroke="#ff00ff" stroke-width="7.2" stroke-linejoin="round" stroke-linecap="round"/>
<polyline points="157.0,443.8 159.9,443.8 168.7,439.4 177.5,460.2 185.2,452.6 195.1,456.9 203.9,437.2 212.7,469.0 220.4,469.0 231.3,458.0 244.5,459.1 264.3,464.6 273.1,452.6 281.9,461.3 290.7,446.0 303.9,448.2 317.1,442.7 325.9,438.3 332.5,462.4 341.3,439.4 351.2,424.0 358.9,443.8 374.2,456.9 385.2,464.6 398.4,452.6 409.4,459.1 420.4,452.6 435.8,462.4 445.7,435.0 457.8,441.6 466.6,461.3 478.7,476.7 488.6,456.9 499.8,434.7 510.8,432.6 519.6,435.8 535.0,443.5 546.0,447.9 556.9,458.9 567.9,452.3 576.7,456.7 583.3,466.6 593.2,461.1 596.5,423.8 605.3,421.6 614.1,430.4 620.7,434.7 631.7,435.8 642.7,426.0 651.5,414.5 660.3,417.2 666.9,434.7 680.1,439.1 691.1,426.0 702.0,413.9 713.0,421.6 720.7,407.3 730.6,410.6 737.2,423.8 747.1,429.3 757.0,415.0 765.8,429.3 772.4,395.2 781.2,406.2 785.6,412.8 796.6,395.2 804.3,396.3 812.0,373.2 825.4,384.7 832.0,385.8 849.6,381.5 857.3,371.6 867.6,345.2 877.1,368.3 885.8,341.9 893.5,350.7 902.3,352.9 911.1,346.3 919.9,361.7 929.8,352.9 941.9,355.1 954.0,373.8 963.9,368.3 974.9,357.3 985.9,373.8 992.5,374.9 1001.3,371.6 1007.9,365.0 1015.6,374.9 1023.3,356.2 1030.9,388.0 1039.7,389.1 1049.6,400.1 1058.4,406.7 1066.1,418.8 1074.9,414.4 1084.8,417.7 1095.8,415.5 1104.6,419.9 1112.3,419.9 1120.0,434.2 1127.7,429.8 1135.4,441.9 1143.1,413.3 1148.8,416.4 1157.6,421.9 1168.6,427.4 1177.4,417.5 1187.3,424.1 1196.1,406.5 1203.8,419.7 1212.6,402.1 1221.3,398.8 1229.0,407.6 1237.8,382.3 1247.7,375.7 1255.4,391.1 1265.3,372.4 1274.1,357.1 1282.9,364.7 1291.7,345.0 1300.5,328.5 1307.1,336.2 1315.9,334.0 1325.8,335.1 1333.5,325.2 1341.2,324.1 1351.1,340.6 1359.8,328.5 1368.6,343.9 1377.4,331.8 1386.2,317.5 1393.9,351.6 1403.8,356.0 1410.4,317.5 1421.4,309.8 1428.0,334.0 1435.7,356.0 1445.6,360.4 1454.4,363.6 1463.2,362.6 1472.0,369.1 1478.6,372.4 1480.6,370.6 1489.8,370.6 1496.4,399.6 1506.9,408.8 1516.2,396.9 1526.7,426.0 1532.0,445.7 1542.6,439.1 1551.8,424.6 1555.7,469.5 1575.5,469.5 1583.4,472.1 1591.4,470.3 1609.8,470.3 1623.0,478.7 1633.6,485.3 1638.8,476.1 1645.4,461.6 1661.3,459.7 1670.5,465.5 1681.1,476.1 1694.2,484.0 1704.8,493.2 1712.7,484.0 1721.9,490.6 1733.8,484.0 1754.9,481.4 1773.4,469.5 1783.9,484.0 1798.5,495.9 1813.0,484.0 1828.8,481.4 1842.0,468.2 1855.2,484.0 1868.4,494.5 1878.9,484.0 1881.0,484.0" fill="none" stroke="#000" stroke-width="6.8" stroke-linejoin="round" stroke-linecap="butt"/>
<line x1="849.2" y1="200.0" x2="849.2" y2="738" stroke="#000" stroke-width="6.0" stroke-dasharray="19.5 28.5" stroke-linecap="round"/>
<line x1="988" y1="141.7" x2="988" y2="738" stroke="#000" stroke-width="6.0" stroke-dasharray="19.5 28.5" stroke-linecap="round"/>
<line x1="1310.8" y1="204.0" x2="1310.8" y2="738" stroke="#000" stroke-width="6.0" stroke-dasharray="19.5 28.5" stroke-linecap="round"/>
<line x1="1426.3" y1="96.0" x2="1426.3" y2="738" stroke="#000" stroke-width="6.0" stroke-dasharray="19.5 28.5" stroke-linecap="round"/>
<polyline points="157.6,450.7 160.0,450.7 163.0,450.7 166.0,450.7 169.0,450.7 172.0,450.7 175.0,450.7 178.0,450.7 181.0,450.7 184.0,450.7 187.0,450.7 190.0,450.7 193.0,450.7 196.0,450.7 199.0,450.7 202.0,450.7 205.0,450.7 208.0,450.7 211.0,450.7 214.0,450.7 217.0,450.7 220.0,450.7 223.0,450.7 226.0,450.7 229.0,450.7 232.0,450.7 235.0,450.7 238.0,450.7 241.0,450.7 244.0,450.7 247.0,450.7 250.0,450.7 253.0,450.7 256.0,450.6 259.0,450.6 262.0,450.6 265.0,450.6 268.0,450.6 271.0,450.6 274.0,450.6 277.0,450.6 280.0,450.6 283.0,450.6 286.0,450.6 289.0,450.6 292.0,450.6 295.0,450.6 298.0,450.6 301.0,450.6 304.0,450.6 307.0,450.6 310.0,450.6 313.0,450.6 316.0,450.6 319.0,450.6 322.0,450.6 325.0,450.6 328.0,450.6 331.0,450.6 334.0,450.6 337.0,450.6 340.0,450.6 343.0,450.6 346.0,450.6 349.0,450.5 352.0,450.5 355.0,450.5 358.0,450.5 361.0,450.5 364.0,450.5 367.0,450.5 370.0,450.5 373.0,450.5 376.0,450.5 379.0,450.5 382.0,450.5 385.0,450.5 388.0,450.5 391.0,450.5 394.0,450.5 397.0,450.5 400.0,450.5 403.0,450.5 406.0,450.5 409.0,450.5 412.0,450.5 415.0,450.5 418.0,450.5 421.0,450.5 424.0,450.5 427.0,450.5 430.0,450.4 433.0,450.4 436.0,450.4 439.0,450.4 442.0,450.4 445.0,450.4 448.0,450.4 451.0,450.4 454.0,450.4 457.0,450.4 460.0,450.4 463.0,450.4 466.0,450.4 469.0,450.4 472.0,450.4 475.0,450.4 478.0,450.4 481.0,450.4 484.0,450.4 487.0,450.4 490.0,450.4 493.0,450.4 496.0,450.4 499.0,450.3 502.0,450.3 505.0,450.3 508.0,450.3 511.0,450.3 514.0,450.3 517.0,450.3 520.0,450.3 523.0,450.3 526.0,450.3 529.0,450.3 532.0,450.3 535.0,450.3 538.0,450.3 541.0,450.3 544.0,450.3 547.0,450.3 550.0,450.3 553.0,450.2 556.0,450.2 559.0,450.2 562.0,450.2 565.0,450.2 568.0,450.2 571.0,450.2 574.0,450.2 577.0,450.2 580.0,450.2 583.0,450.2 586.0,450.2 589.0,450.2 592.0,450.2 595.0,450.2 598.0,450.2 601.0,450.1 604.0,450.1 607.0,450.1 610.0,450.1 613.0,450.1 616.0,450.1 619.0,450.1 622.0,450.1 625.0,450.1 628.0,450.1 631.0,450.1 634.0,450.1 637.0,450.1 640.0,450.0 643.0,450.0 646.0,450.0 649.0,450.0 652.0,450.0 655.0,450.0 658.0,450.0 661.0,450.0 664.0,450.0 667.0,450.0 670.0,450.0 673.0,450.0 676.0,450.0 679.0,450.0 682.0,450.0 685.0,450.0 688.0,450.0 691.0,450.0 694.0,450.0 697.0,450.1 700.0,450.1 703.0,450.1 706.0,450.1 709.0,450.1 712.0,450.1 715.0,450.2 718.0,450.2 721.0,450.2 724.0,450.2 727.0,450.2 730.0,450.3 733.0,450.3 736.0,450.3 739.0,450.3 742.0,450.3 745.0,450.4 748.0,450.4 751.0,450.4 754.0,450.5 757.0,450.5 760.0,450.5 763.0,450.5 766.0,450.6 769.0,450.6 772.0,450.6 775.0,450.6 778.0,450.7 781.0,450.7 784.0,450.7 787.0,450.8 790.0,450.8 793.0,450.8 796.0,450.9 799.0,450.9 802.0,450.9 805.0,450.9 808.0,451.0 811.0,451.0 814.0,451.0 817.0,451.1 820.0,451.1 823.0,451.1 826.0,451.1 829.0,451.2 832.0,451.2 835.0,451.2 838.0,451.3 841.0,451.3 844.0,451.3 847.0,451.3 850.0,451.4 853.0,451.4 856.0,451.4 859.0,451.4 862.0,451.5 865.0,451.5 868.0,451.5 871.0,451.5 874.0,451.6 877.0,451.6 880.0,451.6 883.0,451.7 886.0,451.7 889.0,451.7 892.0,451.8 895.0,451.8 898.0,451.8 901.0,451.8 904.0,451.9 907.0,451.9 910.0,452.0 913.0,452.0 916.0,452.0 919.0,452.1 922.0,452.1 925.0,452.1 928.0,452.2 931.0,452.2 934.0,452.2 937.0,452.3 940.0,452.3 943.0,452.3 946.0,452.4 949.0,452.4 952.0,452.4 955.0,452.5 958.0,452.5 961.0,452.5 964.0,452.6 967.0,452.6 970.0,452.6 973.0,452.7 976.0,452.7 979.0,452.7 982.0,452.8 985.0,452.8 988.0,452.8 991.0,452.8 994.0,452.9 997.0,452.9 1000.0,452.9 1003.0,452.9 1006.0,453.0 1009.0,453.0 1012.0,453.0 1015.0,453.1 1018.0,453.1 1021.0,453.1 1024.0,453.1 1027.0,453.2 1030.0,453.2 1033.0,453.2 1036.0,453.2 1039.0,453.2 1042.0,453.3 1045.0,453.3 1048.0,453.3 1051.0,453.3 1054.0,453.3 1057.0,453.4 1060.0,453.4 1063.0,453.4 1066.0,453.4 1069.0,453.4 1072.0,453.4 1075.0,453.4 1078.0,453.4 1081.0,453.4 1084.0,453.4 1087.0,453.4 1090.0,453.4 1093.0,453.4 1096.0,453.4 1099.0,453.3 1102.0,453.3 1105.0,453.3 1108.0,453.2 1111.0,453.2 1114.0,453.2 1117.0,453.1 1120.0,453.1 1123.0,453.0 1126.0,453.0 1129.0,452.9 1132.0,452.8 1135.0,452.7 1138.0,452.6 1141.0,452.5 1144.0,452.4 1147.0,452.3 1150.0,452.2 1153.0,452.1 1156.0,451.9 1159.0,451.8 1162.0,451.6 1165.0,451.5 1168.0,451.3 1171.0,451.1 1174.0,450.9 1177.0,450.7 1180.0,450.5 1183.0,450.3 1186.0,450.0 1189.0,449.8 1192.0,449.5 1195.0,449.2 1198.0,448.9 1201.0,448.6 1204.0,448.2 1207.0,447.9 1210.0,447.5 1213.0,447.1 1216.0,446.7 1219.0,446.2 1222.0,445.8 1225.0,445.3 1228.0,444.8 1231.0,444.2 1234.0,443.7 1237.0,443.1 1240.0,442.5 1243.0,441.9 1246.0,441.2 1249.0,440.5 1252.0,439.8 1255.0,439.0 1258.0,438.3 1261.0,437.5 1264.0,436.6 1267.0,435.8 1270.0,434.9 1273.0,433.9 1276.0,433.0 1279.0,432.0 1282.0,430.9 1285.0,429.9 1288.0,428.8 1291.0,427.6 1294.0,426.5 1297.0,425.3 1300.0,424.1 1303.0,422.8 1306.0,421.5 1309.0,420.2 1312.0,418.8 1315.0,417.4 1318.0,416.0 1321.0,414.6 1324.0,413.1 1327.0,411.6 1330.0,410.1 1333.0,408.5 1336.0,407.0 1339.0,405.4 1342.0,403.8 1345.0,402.2 1348.0,400.6 1351.0,399.0 1354.0,397.4 1357.0,395.7 1360.0,394.1 1363.0,392.5 1366.0,391.0 1369.0,389.4 1372.0,387.9 1375.0,386.4 1378.0,385.0 1381.0,383.6 1384.0,382.2 1387.0,381.0 1390.0,379.8 1393.0,378.6 1396.0,377.6 1399.0,376.6 1402.0,375.8 1405.0,375.0 1408.0,374.4 1411.0,373.9 1414.0,373.4 1417.0,373.2 1420.0,373.0 1423.0,373.0 1426.0,373.0 1429.0,373.3 1432.0,373.7 1435.0,374.2 1438.0,374.9 1441.0,375.7 1444.0,376.6 1447.0,377.7 1450.0,378.9 1453.0,380.2 1456.0,381.6 1459.0,383.1 1462.0,384.7 1465.0,386.4 1468.0,388.1 1471.0,389.9 1474.0,391.8 1477.0,393.6 1480.0,395.6 1483.0,397.5 1486.0,399.5 1489.0,401.5 1492.0,403.5 1495.0,405.5 1498.0,407.5 1501.0,409.5 1504.0,411.4 1507.0,413.4 1510.0,415.3 1513.0,417.2 1516.0,419.1 1519.0,421.0 1522.0,422.8 1525.0,424.6 1528.0,426.4 1531.0,428.1 1534.0,429.8 1537.0,431.5 1540.0,433.1 1543.0,434.7 1546.0,436.2 1549.0,437.8 1552.0,439.2 1555.0,440.6 1558.0,442.0 1561.0,443.4 1564.0,444.7 1567.0,445.9 1570.0,447.2 1573.0,448.4 1576.0,449.5 1579.0,450.6 1582.0,451.7 1585.0,452.7 1588.0,453.7 1591.0,454.7 1594.0,455.6 1597.0,456.5 1600.0,457.4 1603.0,458.2 1606.0,459.0 1609.0,459.8 1612.0,460.5 1615.0,461.2 1618.0,461.9 1621.0,462.6 1624.0,463.2 1627.0,463.8 1630.0,464.4 1633.0,464.9 1636.0,465.5 1639.0,466.0 1642.0,466.5 1645.0,467.0 1648.0,467.4 1651.0,467.9 1654.0,468.3 1657.0,468.7 1660.0,469.1 1663.0,469.5 1666.0,469.9 1669.0,470.2 1672.0,470.6 1675.0,470.9 1678.0,471.2 1681.0,471.5 1684.0,471.8 1687.0,472.1 1690.0,472.3 1693.0,472.6 1696.0,472.9 1699.0,473.1 1702.0,473.3 1705.0,473.6 1708.0,473.8 1711.0,474.0 1714.0,474.2 1717.0,474.4 1720.0,474.6 1723.0,474.8 1726.0,475.0 1729.0,475.2 1732.0,475.3 1735.0,475.5 1738.0,475.7 1741.0,475.8 1744.0,476.0 1747.0,476.1 1750.0,476.3 1753.0,476.4 1756.0,476.6 1759.0,476.7 1762.0,476.8 1765.0,477.0 1768.0,477.1 1771.0,477.2 1774.0,477.3 1777.0,477.5 1780.0,477.6 1783.0,477.7 1786.0,477.8 1789.0,477.9 1792.0,478.0 1795.0,478.1 1798.0,478.2 1801.0,478.3 1804.0,478.4 1807.0,478.5 1810.0,478.6 1813.0,478.7 1816.0,478.8 1819.0,478.9 1822.0,479.0 1825.0,479.0 1828.0,479.1 1831.0,479.2 1834.0,479.3 1837.0,479.3 1840.0,479.4 1843.0,479.5 1846.0,479.6 1849.0,479.6 1852.0,479.7 1855.0,479.8 1858.0,479.8 1861.0,479.9 1864.0,479.9 1867.0,480.0 1870.0,480.0 1873.0,480.1 1876.0,480.2 1879.0,480.2 1879.5,480.3" fill="none" stroke="#008080" stroke-width="7.2" stroke-linejoin="round" stroke-linecap="round"/>
<polyline points="157.6,450.9 160.0,450.8 163.0,450.8 166.0,450.8 169.0,450.8 172.0,450.8 175.0,450.8 178.0,450.8 181.0,450.8 184.0,450.8 187.0,450.8 190.0,450.8 193.0,450.8 196.0,450.8 199.0,450.8 202.0,450.8 205.0,450.8 208.0,450.8 211.0,450.8 214.0,450.8 217.0,450.8 220.0,450.8 223.0,450.8 226.0,450.8 229.0,450.8 232.0,450.8 235.0,450.8 238.0,450.8 241.0,450.8 244.0,450.8 247.0,450.8 250.0,450.8 253.0,450.8 256.0,450.8 259.0,450.8 262.0,450.8 265.0,450.8 268.0,450.8 271.0,450.8 274.0,450.8 277.0,450.8 280.0,450.7 283.0,450.7 286.0,450.7 289.0,450.7 292.0,450.7 295.0,450.7 298.0,450.7 301.0,450.7 304.0,450.7 307.0,450.7 310.0,450.7 313.0,450.7 316.0,450.7 319.0,450.7 322.0,450.7 325.0,450.7 328.0,450.7 331.0,450.7 334.0,450.7 337.0,450.7 340.0,450.7 343.0,450.7 346.0,450.7 349.0,450.7 352.0,450.7 355.0,450.7 358.0,450.7 361.0,450.7 364.0,450.7 367.0,450.7 370.0,450.7 373.0,450.7 376.0,450.7 379.0,450.6 382.0,450.6 385.0,450.6 388.0,450.6 391.0,450.6 394.0,450.6 397.0,450.6 400.0,450.6 403.0,450.6 406.0,450.6 409.0,450.6 412.0,450.6 415.0,450.6 418.0,450.6 421.0,450.6 424.0,450.6 427.0,450.6 430.0,450.6 433.0,450.6 436.0,450.6 439.0,450.6 442.0,450.6 445.0,450.6 448.0,450.6 451.0,450.6 454.0,450.6 457.0,450.5 460.0,450.5 463.0,450.5 466.0,450.5 469.0,450.5 472.0,450.5 475.0,450.5 478.0,450.5 481.0,450.5 484.0,450.5 487.0,450.5 490.0,450.5 493.0,450.5 496.0,450.5 499.0,450.5 502.0,450.5 505.0,450.5 508.0,450.5 511.0,450.5 514.0,450.5 517.0,450.5 520.0,450.4 523.0,450.4 526.0,450.4 529.0,450.4 532.0,450.4 535.0,450.4 538.0,450.4 541.0,450.4 544.0,450.4 547.0,450.4 550.0,450.4 553.0,450.4 556.0,450.4 559.0,450.4 562.0,450.4 565.0,450.4 568.0,450.4 571.0,450.3 574.0,450.3 577.0,450.3 580.0,450.3 583.0,450.3 586.0,450.3 589.0,450.3 592.0,450.3 595.0,450.3 598.0,450.3 601.0,450.3 604.0,450.3 607.0,450.3 610.0,450.3 613.0,450.2 616.0,450.2 619.0,450.2 622.0,450.2 625.0,450.2 628.0,450.2 631.0,450.2 634.0,450.2 637.0,450.2 640.0,450.2 643.0,450.2 646.0,450.1 649.0,450.1 652.0,450.1 655.0,450.1 658.0,450.1 661.0,450.1 664.0,450.1 667.0,450.1 670.0,450.1 673.0,450.1 676.0,450.1 679.0,450.1 682.0,450.1 685.0,450.1 688.0,450.1 691.0,450.1 694.0,450.1 697.0,450.2 700.0,450.2 703.0,450.2 706.0,450.2 709.0,450.2 712.0,450.2 715.0,450.2 718.0,450.2 721.0,450.3 724.0,450.3 727.0,450.3 730.0,450.3 733.0,450.3 736.0,450.4 739.0,450.4 742.0,450.4 745.0,450.4 748.0,450.5 751.0,450.5 754.0,450.5 757.0,450.5 760.0,450.5 763.0,450.6 766.0,450.6 769.0,450.6 772.0,450.6 775.0,450.7 778.0,450.7 781.0,450.7 784.0,450.7 787.0,450.8 790.0,450.8 793.0,450.8 796.0,450.8 799.0,450.9 802.0,450.9 805.0,450.9 808.0,450.9 811.0,451.0 814.0,451.0 817.0,451.0 820.0,451.0 823.0,451.1 826.0,451.1 829.0,451.1 832.0,451.1 835.0,451.1 838.0,451.2 841.0,451.2 844.0,451.2 847.0,451.2 850.0,451.2 853.0,451.2 856.0,451.3 859.0,451.3 862.0,451.3 865.0,451.3 868.0,451.3 871.0,451.3 874.0,451.4 877.0,451.4 880.0,451.4 883.0,451.4 886.0,451.4 889.0,451.5 892.0,451.5 895.0,451.5 898.0,451.5 901.0,451.5 904.0,451.5 907.0,451.6 910.0,451.6 913.0,451.6 916.0,451.6 919.0,451.6 922.0,451.7 925.0,451.7 928.0,451.7 931.0,451.7 934.0,451.7 937.0,451.7 940.0,451.7 943.0,451.7 946.0,451.8 949.0,451.8 952.0,451.8 955.0,451.8 958.0,451.8 961.0,451.8 964.0,451.8 967.0,451.8 970.0,451.8 973.0,451.8 976.0,451.8 979.0,451.8 982.0,451.8 985.0,451.8 988.0,451.8 991.0,451.7 994.0,451.7 997.0,451.7 1000.0,451.7 1003.0,451.7 1006.0,451.6 1009.0,451.6 1012.0,451.6 1015.0,451.6 1018.0,451.5 1021.0,451.5 1024.0,451.4 1027.0,451.4 1030.0,451.4 1033.0,451.3 1036.0,451.2 1039.0,451.2 1042.0,451.1 1045.0,451.0 1048.0,451.0 1051.0,450.9 1054.0,450.8 1057.0,450.7 1060.0,450.6 1063.0,450.4 1066.0,450.3 1069.0,450.2 1072.0,450.0 1075.0,449.9 1078.0,449.7 1081.0,449.5 1084.0,449.3 1087.0,449.1 1090.0,448.9 1093.0,448.7 1096.0,448.4 1099.0,448.1 1102.0,447.8 1105.0,447.5 1108.0,447.2 1111.0,446.8 1114.0,446.5 1117.0,446.1 1120.0,445.7 1123.0,445.2 1126.0,444.8 1129.0,444.3 1132.0,443.7 1135.0,443.2 1138.0,442.6 1141.0,442.0 1144.0,441.3 1147.0,440.6 1150.0,439.9 1153.0,439.1 1156.0,438.4 1159.0,437.5 1162.0,436.7 1165.0,435.7 1168.0,434.8 1171.0,433.8 1174.0,432.8 1177.0,431.7 1180.0,430.6 1183.0,429.4 1186.0,428.2 1189.0,427.0 1192.0,425.7 1195.0,424.4 1198.0,423.0 1201.0,421.6 1204.0,420.1 1207.0,418.6 1210.0,417.0 1213.0,415.5 1216.0,413.8 1219.0,412.2 1222.0,410.5 1225.0,408.8 1228.0,407.0 1231.0,405.2 1234.0,403.5 1237.0,401.7 1240.0,399.8 1243.0,398.0 1246.0,396.2 1249.0,394.4 1252.0,392.7 1255.0,390.9 1258.0,389.2 1261.0,387.5 1264.0,385.9 1267.0,384.4 1270.0,382.9 1273.0,381.6 1276.0,380.3 1279.0,379.2 1282.0,378.2 1285.0,377.3 1288.0,376.5 1291.0,375.9 1294.0,375.5 1297.0,375.2 1300.0,375.1 1303.0,375.2 1306.0,375.4 1309.0,375.8 1312.0,376.4 1315.0,377.1 1318.0,378.0 1321.0,379.0 1324.0,380.2 1327.0,381.5 1330.0,382.9 1333.0,384.4 1336.0,386.1 1339.0,387.8 1342.0,389.6 1345.0,391.4 1348.0,393.4 1351.0,395.3 1354.0,397.3 1357.0,399.3 1360.0,401.4 1363.0,403.4 1366.0,405.5 1369.0,407.5 1372.0,409.6 1375.0,411.6 1378.0,413.6 1381.0,415.6 1384.0,417.5 1387.0,419.5 1390.0,421.3 1393.0,423.2 1396.0,425.0 1399.0,426.8 1402.0,428.5 1405.0,430.2 1408.0,431.9 1411.0,433.5 1414.0,435.0 1417.0,436.5 1420.0,438.0 1423.0,439.4 1426.0,440.8 1429.0,442.1 1432.0,443.4 1435.0,444.7 1438.0,445.9 1441.0,447.0 1444.0,448.2 1447.0,449.3 1450.0,450.3 1453.0,451.3 1456.0,452.3 1459.0,453.2 1462.0,454.1 1465.0,455.0 1468.0,455.9 1471.0,456.7 1474.0,457.5 1477.0,458.2 1480.0,458.9 1483.0,459.6 1486.0,460.3 1489.0,460.9 1492.0,461.6 1495.0,462.1 1498.0,462.7 1501.0,463.3 1504.0,463.8 1507.0,464.3 1510.0,464.8 1513.0,465.3 1516.0,465.8 1519.0,466.2 1522.0,466.6 1525.0,467.0 1528.0,467.4 1531.0,467.8 1534.0,468.2 1537.0,468.5 1540.0,468.9 1543.0,469.2 1546.0,469.6 1549.0,469.9 1552.0,470.2 1555.0,470.5 1558.0,470.8 1561.0,471.0 1564.0,471.3 1567.0,471.6 1570.0,471.8 1573.0,472.1 1576.0,472.3 1579.0,472.5 1582.0,472.8 1585.0,473.0 1588.0,473.2 1591.0,473.4 1594.0,473.6 1597.0,473.8 1600.0,474.0 1603.0,474.2 1606.0,474.4 1609.0,474.6 1612.0,474.8 1615.0,475.0 1618.0,475.1 1621.0,475.3 1624.0,475.5 1627.0,475.6 1630.0,475.8 1633.0,475.9 1636.0,476.1 1639.0,476.2 1642.0,476.4 1645.0,476.5 1648.0,476.7 1651.0,476.8 1654.0,476.9 1657.0,477.1 1660.0,477.2 1663.0,477.3 1666.0,477.5 1669.0,477.6 1672.0,477.7 1675.0,477.8 1678.0,477.9 1681.0,478.0 1684.0,478.2 1687.0,478.3 1690.0,478.4 1693.0,478.5 1696.0,478.6 1699.0,478.7 1702.0,478.8 1705.0,478.9 1708.0,479.0 1711.0,479.1 1714.0,479.2 1717.0,479.3 1720.0,479.3 1723.0,479.4 1726.0,479.5 1729.0,479.6 1732.0,479.7 1735.0,479.8 1738.0,479.9 1741.0,479.9 1744.0,480.0 1747.0,480.1 1750.0,480.2 1753.0,480.2 1756.0,480.3 1759.0,480.4 1762.0,480.4 1765.0,480.5 1768.0,480.6 1771.0,480.7 1774.0,480.7 1777.0,480.8 1780.0,480.9 1783.0,480.9 1786.0,481.0 1789.0,481.0 1792.0,481.1 1795.0,481.2 1798.0,481.2 1801.0,481.3 1804.0,481.3 1807.0,481.4 1810.0,481.4 1813.0,481.5 1816.0,481.6 1819.0,481.6 1822.0,481.7 1825.0,481.7 1828.0,481.8 1831.0,481.8 1834.0,481.8 1837.0,481.9 1840.0,481.9 1843.0,482.0 1846.0,482.0 1849.0,482.1 1852.0,482.1 1855.0,482.2 1858.0,482.2 1861.0,482.2 1864.0,482.3 1867.0,482.3 1870.0,482.3 1873.0,482.4 1876.0,482.4 1879.0,482.4 1879.5,482.5" fill="none" stroke="#9900ff" stroke-width="7.2" stroke-linejoin="round" stroke-linecap="round"/>
<polyline points="157.6,448.6 160.0,448.6 163.0,448.6 166.0,448.6 169.0,448.6 172.0,448.5 175.0,448.5 178.0,448.5 181.0,448.5 184.0,448.5 187.0,448.4 190.0,448.4 193.0,448.4 196.0,448.4 199.0,448.4 202.0,448.3 205.0,448.3 208.0,448.3 211.0,448.3 214.0,448.3 217.0,448.2 220.0,448.2 223.0,448.2 226.0,448.2 229.0,448.1 232.0,448.1 235.0,448.1 238.0,448.1 241.0,448.0 244.0,448.0 247.0,448.0 250.0,448.0 253.0,447.9 256.0,447.9 259.0,447.9 262.0,447.9 265.0,447.8 268.0,447.8 271.0,447.8 274.0,447.8 277.0,447.7 280.0,447.7 283.0,447.7 286.0,447.6 289.0,447.6 292.0,447.6 295.0,447.6 298.0,447.5 301.0,447.5 304.0,447.5 307.0,447.4 310.0,447.4 313.0,447.4 316.0,447.3 319.0,447.3 322.0,447.3 325.0,447.2 328.0,447.2 331.0,447.2 334.0,447.1 337.0,447.1 340.0,447.1 343.0,447.0 346.0,447.0 349.0,446.9 352.0,446.9 355.0,446.9 358.0,446.8 361.0,446.8 364.0,446.7 367.0,446.7 370.0,446.7 373.0,446.6 376.0,446.6 379.0,446.5 382.0,446.5 385.0,446.4 388.0,446.4 391.0,446.3 394.0,446.3 397.0,446.2 400.0,446.2 403.0,446.1 406.0,446.1 409.0,446.0 412.0,446.0 415.0,445.9 418.0,445.9 421.0,445.8 424.0,445.8 427.0,445.7 430.0,445.7 433.0,445.6 436.0,445.5 439.0,445.5 442.0,445.4 445.0,445.4 448.0,445.3 451.0,445.2 454.0,445.2 457.0,445.1 460.0,445.0 463.0,444.9 466.0,444.9 469.0,444.8 472.0,444.7 475.0,444.7 478.0,444.6 481.0,444.5 484.0,444.4 487.0,444.3 490.0,444.3 493.0,444.2 496.0,444.1 499.0,444.0 502.0,443.9 505.0,443.8 508.0,443.7 511.0,443.6 514.0,443.5 517.0,443.4 520.0,443.3 523.0,443.2 526.0,443.1 529.0,443.0 532.0,442.9 535.0,442.8 538.0,442.7 541.0,442.5 544.0,442.4 547.0,442.3 550.0,442.2 553.0,442.0 556.0,441.9 559.0,441.8 562.0,441.6 565.0,441.5 568.0,441.3 571.0,441.2 574.0,441.0 577.0,440.8 580.0,440.7 583.0,440.5 586.0,440.3 589.0,440.1 592.0,440.0 595.0,439.8 598.0,439.6 601.0,439.4 604.0,439.1 607.0,438.9 610.0,438.7 613.0,438.5 616.0,438.2 619.0,438.0 622.0,437.7 625.0,437.4 628.0,437.1 631.0,436.8 634.0,436.5 637.0,436.2 640.0,435.9 643.0,435.5 646.0,435.2 649.0,434.8 652.0,434.4 655.0,434.0 658.0,433.6 661.0,433.1 664.0,432.7 667.0,432.2 670.0,431.7 673.0,431.2 676.0,430.7 679.0,430.1 682.0,429.5 685.0,428.9 688.0,428.3 691.0,427.7 694.0,427.0 697.0,426.3 700.0,425.5 703.0,424.8 706.0,424.0 709.0,423.1 712.0,422.3 715.0,421.4 718.0,420.4 721.0,419.4 724.0,418.4 727.0,417.4 730.0,416.3 733.0,415.2 736.0,414.0 739.0,412.8 742.0,411.5 745.0,410.3 748.0,408.9 751.0,407.5 754.0,406.1 757.0,404.7 760.0,403.2 763.0,401.6 766.0,400.0 769.0,398.4 772.0,396.8 775.0,395.1 778.0,393.4 781.0,391.6 784.0,389.8 787.0,388.0 790.0,386.2 793.0,384.3 796.0,382.4 799.0,380.6 802.0,378.7 805.0,376.8 808.0,374.9 811.0,373.1 814.0,371.2 817.0,369.4 820.0,367.7 823.0,365.9 826.0,364.3 829.0,362.7 832.0,361.1 835.0,359.6 838.0,358.3 841.0,357.0 844.0,355.7 847.0,354.6 850.0,353.6 853.0,352.7 856.0,351.9 859.0,351.1 862.0,350.5 865.0,349.9 868.0,349.5 871.0,349.1 874.0,348.8 877.0,348.6 880.0,348.4 883.0,348.3 886.0,348.3 889.0,348.3 892.0,348.3 895.0,348.4 898.0,348.5 901.0,348.6 904.0,348.7 907.0,348.9 910.0,349.1 913.0,349.2 916.0,349.4 919.0,349.7 922.0,349.9 925.0,350.1 928.0,350.4 931.0,350.6 934.0,350.9 937.0,351.2 940.0,351.6 943.0,351.9 946.0,352.3 949.0,352.7 952.0,353.2 955.0,353.7 958.0,354.3 961.0,354.9 964.0,355.6 967.0,356.3 970.0,357.1 973.0,357.9 976.0,358.8 979.0,359.7 982.0,360.7 985.0,361.7 988.0,362.8 991.0,364.0 994.0,365.2 997.0,366.4 1000.0,367.7 1003.0,369.0 1006.0,370.3 1009.0,371.7 1012.0,373.1 1015.0,374.5 1018.0,375.9 1021.0,377.3 1024.0,378.7 1027.0,380.1 1030.0,381.6 1033.0,383.0 1036.0,384.4 1039.0,385.8 1042.0,387.1 1045.0,388.5 1048.0,389.8 1051.0,391.1 1054.0,392.3 1057.0,393.6 1060.0,394.8 1063.0,395.9 1066.0,397.0 1069.0,398.1 1072.0,399.2 1075.0,400.2 1078.0,401.1 1081.0,402.1 1084.0,402.9 1087.0,403.8 1090.0,404.5 1093.0,405.3 1096.0,406.0 1099.0,406.6 1102.0,407.2 1105.0,407.7 1108.0,408.2 1111.0,408.6 1114.0,409.0 1117.0,409.3 1120.0,409.6 1123.0,409.8 1126.0,409.9 1129.0,410.0 1132.0,410.0 1135.0,410.0 1138.0,409.9 1141.0,409.7 1144.0,409.5 1147.0,409.2 1150.0,408.9 1153.0,408.4 1156.0,408.0 1159.0,407.4 1162.0,406.8 1165.0,406.1 1168.0,405.3 1171.0,404.5 1174.0,403.6 1177.0,402.6 1180.0,401.6 1183.0,400.5 1186.0,399.3 1189.0,398.1 1192.0,396.7 1195.0,395.3 1198.0,393.8 1201.0,392.3 1204.0,390.7 1207.0,389.0 1210.0,387.2 1213.0,385.4 1216.0,383.5 1219.0,381.5 1222.0,379.5 1225.0,377.4 1228.0,375.3 1231.0,373.1 1234.0,370.8 1237.0,368.5 1240.0,366.2 1243.0,363.8 1246.0,361.4 1249.0,359.0 1252.0,356.5 1255.0,354.1 1258.0,351.6 1261.0,349.2 1264.0,346.8 1267.0,344.4 1270.0,342.1 1273.0,339.8 1276.0,337.6 1279.0,335.5 1282.0,333.4 1285.0,331.5 1288.0,329.6 1291.0,327.9 1294.0,326.3 1297.0,324.8 1300.0,323.4 1303.0,322.2 1306.0,321.1 1309.0,320.2 1312.0,319.4 1315.0,318.7 1318.0,318.1 1321.0,317.7 1324.0,317.4 1327.0,317.1 1330.0,317.0 1333.0,316.9 1336.0,317.0 1339.0,317.1 1342.0,317.2 1345.0,317.4 1348.0,317.7 1351.0,318.0 1354.0,318.3 1357.0,318.7 1360.0,319.1 1363.0,319.5 1366.0,319.9 1369.0,320.3 1372.0,320.8 1375.0,321.3 1378.0,321.8 1381.0,322.3 1384.0,322.9 1387.0,323.4 1390.0,324.1 1393.0,324.7 1396.0,325.4 1399.0,326.2 1402.0,327.0 1405.0,327.9 1408.0,328.8 1411.0,329.8 1414.0,330.9 1417.0,332.1 1420.0,333.3 1423.0,334.6 1426.0,336.0 1429.0,337.5 1432.0,339.1 1435.0,340.9 1438.0,342.7 1441.0,344.6 1444.0,346.6 1447.0,348.7 1450.0,350.8 1453.0,353.1 1456.0,355.4 1459.0,357.7 1462.0,360.2 1465.0,362.6 1468.0,365.1 1471.0,367.6 1474.0,370.2 1477.0,372.7 1480.0,375.3 1483.0,377.9 1486.0,380.4 1489.0,383.0 1492.0,385.5 1495.0,388.0 1498.0,390.5 1501.0,392.9 1504.0,395.4 1507.0,397.7 1510.0,400.1 1513.0,402.4 1516.0,404.7 1519.0,406.9 1522.0,409.0 1525.0,411.2 1528.0,413.2 1531.0,415.3 1534.0,417.2 1537.0,419.2 1540.0,421.0 1543.0,422.9 1546.0,424.6 1549.0,426.4 1552.0,428.0 1555.0,429.7 1558.0,431.3 1561.0,432.8 1564.0,434.3 1567.0,435.7 1570.0,437.1 1573.0,438.4 1576.0,439.7 1579.0,441.0 1582.0,442.2 1585.0,443.3 1588.0,444.5 1591.0,445.5 1594.0,446.6 1597.0,447.6 1600.0,448.6 1603.0,449.5 1606.0,450.4 1609.0,451.3 1612.0,452.1 1615.0,452.9 1618.0,453.7 1621.0,454.4 1624.0,455.1 1627.0,455.8 1630.0,456.5 1633.0,457.1 1636.0,457.7 1639.0,458.3 1642.0,458.9 1645.0,459.4 1648.0,459.9 1651.0,460.4 1654.0,460.9 1657.0,461.4 1660.0,461.8 1663.0,462.2 1666.0,462.6 1669.0,463.0 1672.0,463.4 1675.0,463.8 1678.0,464.2 1681.0,464.5 1684.0,464.8 1687.0,465.1 1690.0,465.5 1693.0,465.8 1696.0,466.0 1699.0,466.3 1702.0,466.6 1705.0,466.9 1708.0,467.1 1711.0,467.4 1714.0,467.6 1717.0,467.8 1720.0,468.1 1723.0,468.3 1726.0,468.5 1729.0,468.7 1732.0,468.9 1735.0,469.1 1738.0,469.3 1741.0,469.5 1744.0,469.7 1747.0,469.9 1750.0,470.0 1753.0,470.2 1756.0,470.4 1759.0,470.5 1762.0,470.7 1765.0,470.9 1768.0,471.0 1771.0,471.2 1774.0,471.3 1777.0,471.5 1780.0,471.6 1783.0,471.7 1786.0,471.9 1789.0,472.0 1792.0,472.1 1795.0,472.3 1798.0,472.4 1801.0,472.5 1804.0,472.6 1807.0,472.7 1810.0,472.8 1813.0,473.0 1816.0,473.1 1819.0,473.2 1822.0,473.3 1825.0,473.4 1828.0,473.5 1831.0,473.6 1834.0,473.7 1837.0,473.7 1840.0,473.8 1843.0,473.9 1846.0,474.0 1849.0,474.1 1852.0,474.2 1855.0,474.3 1858.0,474.3 1861.0,474.4 1864.0,474.5 1867.0,474.6 1870.0,474.6 1873.0,474.7 1876.0,474.8 1879.0,474.8 1879.5,474.9" fill="none" stroke="#ff0000" stroke-width="7.2" stroke-linejoin="round" stroke-linecap="round"/>
<polyline points="157.6,450.5 160.0,450.5 163.0,450.5 166.0,450.5 169.0,450.4 172.0,450.4 175.0,450.4 178.0,450.4 181.0,450.4 184.0,450.4 187.0,450.4 190.0,450.4 193.0,450.4 196.0,450.4 199.0,450.4 202.0,450.4 205.0,450.3 208.0,450.3 211.0,450.3 214.0,450.3 217.0,450.3 220.0,450.3 223.0,450.3 226.0,450.3 229.0,450.3 232.0,450.3 235.0,450.3 238.0,450.2 241.0,450.2 244.0,450.2 247.0,450.2 250.0,450.2 253.0,450.2 256.0,450.2 259.0,450.2 262.0,450.2 265.0,450.2 268.0,450.1 271.0,450.1 274.0,450.1 277.0,450.1 280.0,450.1 283.0,450.1 286.0,450.1 289.0,450.1 292.0,450.1 295.0,450.0 298.0,450.0 301.0,450.0 304.0,450.0 307.0,450.0 310.0,450.0 313.0,450.0 316.0,449.9 319.0,449.9 322.0,449.9 325.0,449.9 328.0,449.9 331.0,449.9 334.0,449.9 337.0,449.8 340.0,449.8 343.0,449.8 346.0,449.8 349.0,449.8 352.0,449.8 355.0,449.7 358.0,449.7 361.0,449.7 364.0,449.7 367.0,449.7 370.0,449.6 373.0,449.6 376.0,449.6 379.0,449.6 382.0,449.6 385.0,449.5 388.0,449.5 391.0,449.5 394.0,449.5 397.0,449.5 400.0,449.4 403.0,449.4 406.0,449.4 409.0,449.4 412.0,449.3 415.0,449.3 418.0,449.3 421.0,449.3 424.0,449.2 427.0,449.2 430.0,449.2 433.0,449.1 436.0,449.1 439.0,449.1 442.0,449.1 445.0,449.0 448.0,449.0 451.0,449.0 454.0,448.9 457.0,448.9 460.0,448.9 463.0,448.8 466.0,448.8 469.0,448.8 472.0,448.7 475.0,448.7 478.0,448.6 481.0,448.6 484.0,448.6 487.0,448.5 490.0,448.5 493.0,448.4 496.0,448.4 499.0,448.3 502.0,448.3 505.0,448.2 508.0,448.2 511.0,448.1 514.0,448.1 517.0,448.0 520.0,448.0 523.0,447.9 526.0,447.9 529.0,447.8 532.0,447.7 535.0,447.7 538.0,447.6 541.0,447.5 544.0,447.5 547.0,447.4 550.0,447.3 553.0,447.2 556.0,447.2 559.0,447.1 562.0,447.0 565.0,446.9 568.0,446.8 571.0,446.7 574.0,446.6 577.0,446.6 580.0,446.4 583.0,446.3 586.0,446.2 589.0,446.1 592.0,446.0 595.0,445.9 598.0,445.8 601.0,445.6 604.0,445.5 607.0,445.3 610.0,445.2 613.0,445.0 616.0,444.9 619.0,444.7 622.0,444.5 625.0,444.3 628.0,444.2 631.0,444.0 634.0,443.7 637.0,443.5 640.0,443.3 643.0,443.0 646.0,442.8 649.0,442.5 652.0,442.2 655.0,442.0 658.0,441.6 661.0,441.3 664.0,441.0 667.0,440.7 670.0,440.3 673.0,439.9 676.0,439.5 679.0,439.1 682.0,438.7 685.0,438.2 688.0,437.8 691.0,437.3 694.0,436.7 697.0,436.2 700.0,435.6 703.0,435.1 706.0,434.4 709.0,433.8 712.0,433.1 715.0,432.5 718.0,431.7 721.0,431.0 724.0,430.2 727.0,429.4 730.0,428.6 733.0,427.7 736.0,426.8 739.0,425.9 742.0,424.9 745.0,423.9 748.0,422.9 751.0,421.8 754.0,420.8 757.0,419.7 760.0,418.5 763.0,417.4 766.0,416.2 769.0,415.0 772.0,413.7 775.0,412.5 778.0,411.2 781.0,409.9 784.0,408.6 787.0,407.3 790.0,406.0 793.0,404.7 796.0,403.3 799.0,402.1 802.0,400.8 805.0,399.5 808.0,398.3 811.0,397.1 814.0,396.0 817.0,394.9 820.0,393.8 823.0,392.9 826.0,392.0 829.0,391.2 832.0,390.4 835.0,389.8 838.0,389.3 841.0,388.9 844.0,388.6 847.0,388.5 850.0,388.4 853.0,388.5 856.0,388.7 859.0,389.0 862.0,389.4 865.0,390.0 868.0,390.6 871.0,391.4 874.0,392.2 877.0,393.2 880.0,394.2 883.0,395.3 886.0,396.5 889.0,397.7 892.0,399.0 895.0,400.3 898.0,401.7 901.0,403.0 904.0,404.5 907.0,405.9 910.0,407.3 913.0,408.7 916.0,410.2 919.0,411.6 922.0,413.0 925.0,414.4 928.0,415.8 931.0,417.2 934.0,418.5 937.0,419.9 940.0,421.2 943.0,422.5 946.0,423.7 949.0,424.9 952.0,426.1 955.0,427.3 958.0,428.4 961.0,429.5 964.0,430.6 967.0,431.6 970.0,432.6 973.0,433.6 976.0,434.6 979.0,435.5 982.0,436.4 985.0,437.2 988.0,438.1 991.0,438.9 994.0,439.6 997.0,440.4 1000.0,441.1 1003.0,441.8 1006.0,442.5 1009.0,443.1 1012.0,443.7 1015.0,444.3 1018.0,444.9 1021.0,445.5 1024.0,446.0 1027.0,446.5 1030.0,447.1 1033.0,447.5 1036.0,448.0 1039.0,448.5 1042.0,448.9 1045.0,449.3 1048.0,449.7 1051.0,450.1 1054.0,450.5 1057.0,450.9 1060.0,451.2 1063.0,451.6 1066.0,451.9 1069.0,452.3 1072.0,452.6 1075.0,452.9 1078.0,453.2 1081.0,453.5 1084.0,453.8 1087.0,454.1 1090.0,454.3 1093.0,454.6 1096.0,454.9 1099.0,455.1 1102.0,455.4 1105.0,455.6 1108.0,455.9 1111.0,456.1 1114.0,456.3 1117.0,456.6 1120.0,456.8 1123.0,457.0 1126.0,457.2 1129.0,457.4 1132.0,457.7 1135.0,457.9 1138.0,458.1 1141.0,458.3 1144.0,458.5 1147.0,458.7 1150.0,458.9 1153.0,459.0 1156.0,459.2 1159.0,459.4 1162.0,459.6 1165.0,459.8 1168.0,460.0 1171.0,460.2 1174.0,460.3 1177.0,460.5 1180.0,460.7 1183.0,460.9 1186.0,461.1 1189.0,461.2 1192.0,461.4 1195.0,461.6 1198.0,461.7 1201.0,461.9 1204.0,462.1 1207.0,462.3 1210.0,462.4 1213.0,462.6 1216.0,462.8 1219.0,462.9 1222.0,463.1 1225.0,463.3 1228.0,463.4 1231.0,463.6 1234.0,463.7 1237.0,463.9 1240.0,464.1 1243.0,464.2 1246.0,464.4 1249.0,464.5 1252.0,464.7 1255.0,464.8 1258.0,465.0 1261.0,465.1 1264.0,465.3 1267.0,465.5 1270.0,465.6 1273.0,465.8 1276.0,465.9 1279.0,466.1 1282.0,466.2 1285.0,466.4 1288.0,466.5 1291.0,466.7 1294.0,466.8 1297.0,467.0 1300.0,467.1 1303.0,467.3 1306.0,467.4 1309.0,467.5 1312.0,467.7 1315.0,467.8 1318.0,468.0 1321.0,468.1 1324.0,468.3 1327.0,468.4 1330.0,468.6 1333.0,468.7 1336.0,468.8 1339.0,469.0 1342.0,469.1 1345.0,469.3 1348.0,469.4 1351.0,469.5 1354.0,469.7 1357.0,469.8 1360.0,470.0 1363.0,470.1 1366.0,470.2 1369.0,470.4 1372.0,470.5 1375.0,470.6 1378.0,470.8 1381.0,470.9 1384.0,471.0 1387.0,471.2 1390.0,471.3 1393.0,471.4 1396.0,471.6 1399.0,471.7 1402.0,471.8 1405.0,472.0 1408.0,472.1 1411.0,472.2 1414.0,472.3 1417.0,472.5 1420.0,472.6 1423.0,472.7 1426.0,472.8 1429.0,473.0 1432.0,473.1 1435.0,473.2 1438.0,473.3 1441.0,473.5 1444.0,473.6 1447.0,473.7 1450.0,473.8 1453.0,474.0 1456.0,474.1 1459.0,474.2 1462.0,474.3 1465.0,474.5 1468.0,474.6 1471.0,474.7 1474.0,474.8 1477.0,475.0 1480.0,475.1 1483.0,475.2 1486.0,475.4 1489.0,475.5 1492.0,475.6 1495.0,475.7 1498.0,475.9 1501.0,476.0 1504.0,476.1 1507.0,476.2 1510.0,476.4 1513.0,476.5 1516.0,476.6 1519.0,476.7 1522.0,476.9 1525.0,477.0 1528.0,477.1 1531.0,477.2 1534.0,477.4 1537.0,477.5 1540.0,477.6 1543.0,477.7 1546.0,477.9 1549.0,478.0 1552.0,478.1 1555.0,478.2 1558.0,478.4 1561.0,478.5 1564.0,478.6 1567.0,478.7 1570.0,478.8 1573.0,479.0 1576.0,479.1 1579.0,479.2 1582.0,479.3 1585.0,479.4 1588.0,479.5 1591.0,479.7 1594.0,479.8 1597.0,479.9 1600.0,480.0 1603.0,480.1 1606.0,480.2 1609.0,480.4 1612.0,480.5 1615.0,480.6 1618.0,480.7 1621.0,480.8 1624.0,480.9 1627.0,481.0 1630.0,481.1 1633.0,481.2 1636.0,481.3 1639.0,481.4 1642.0,481.5 1645.0,481.6 1648.0,481.7 1651.0,481.8 1654.0,481.9 1657.0,482.0 1660.0,482.1 1663.0,482.2 1666.0,482.3 1669.0,482.4 1672.0,482.5 1675.0,482.6 1678.0,482.7 1681.0,482.8 1684.0,482.9 1687.0,483.0 1690.0,483.1 1693.0,483.1 1696.0,483.2 1699.0,483.3 1702.0,483.4 1705.0,483.5 1708.0,483.5 1711.0,483.6 1714.0,483.7 1717.0,483.8 1720.0,483.8 1723.0,483.9 1726.0,484.0 1729.0,484.1 1732.0,484.1 1735.0,484.2 1738.0,484.3 1741.0,484.3 1744.0,484.4 1747.0,484.4 1750.0,484.5 1753.0,484.6 1756.0,484.6 1759.0,484.7 1762.0,484.7 1765.0,484.8 1768.0,484.8 1771.0,484.9 1774.0,484.9 1777.0,485.0 1780.0,485.1 1783.0,485.1 1786.0,485.2 1789.0,485.2 1792.0,485.3 1795.0,485.3 1798.0,485.4 1801.0,485.4 1804.0,485.5 1807.0,485.5 1810.0,485.5 1813.0,485.6 1816.0,485.6 1819.0,485.7 1822.0,485.7 1825.0,485.8 1828.0,485.8 1831.0,485.8 1834.0,485.9 1837.0,485.9 1840.0,486.0 1843.0,486.0 1846.0,486.0 1849.0,486.1 1852.0,486.1 1855.0,486.1 1858.0,486.2 1861.0,486.2 1864.0,486.2 1867.0,486.3 1870.0,486.3 1873.0,486.3 1876.0,486.4 1879.0,486.4 1879.5,486.4" fill="none" stroke="#ff8000" stroke-width="7.2" stroke-linejoin="round" stroke-linecap="round"/>

</g>
<g>
<rect x="613.62" y="1669.0" width="6.5" height="29" rx="1.5" fill="#000"/>
<rect x="1073.49" y="1669.0" width="6.5" height="29" rx="1.5" fill="#000"/>
<rect x="1533.36" y="1669.0" width="6.5" height="29" rx="1.5" fill="#000"/>
<rect x="383.68" y="1683.4" width="6.5" height="14.6" rx="1.5" fill="#000"/>
<rect x="843.55" y="1683.4" width="6.5" height="14.6" rx="1.5" fill="#000"/>
<rect x="1303.42" y="1683.4" width="6.5" height="14.6" rx="1.5" fill="#000"/>
<rect x="1763.29" y="1683.4" width="6.5" height="14.6" rx="1.5" fill="#000"/>
<path fill="#000" fill-rule="evenodd" d="M154.1 974.1H1884.8V1702.8H154.1Z M159.9 980.9V1696.0H1878.2V980.9Z"/>
<polyline points="157.0,1204.9 162.8,1204.9 168.5,1205.1 174.2,1204.8 180.0,1205.2 185.8,1205.4 191.5,1205.0 197.2,1205.3 203.0,1205.2 208.8,1204.7 214.5,1205.0 220.2,1205.4 226.0,1205.6 231.8,1205.3 237.5,1204.9 243.2,1205.4 249.0,1206.3 254.8,1206.1 260.5,1205.5 266.2,1205.4 272.0,1205.3 277.8,1205.2 283.5,1205.2 289.2,1205.1 295.0,1205.2 300.8,1205.3 306.5,1205.2 312.2,1205.6 318.0,1205.6 323.8,1205.4 329.5,1205.6 335.2,1205.8 341.0,1205.2 346.8,1205.1 352.5,1205.5 358.2,1205.5 364.0,1205.3 369.8,1205.5 375.5,1205.4 381.2,1205.2 387.0,1205.3 392.8,1205.4 398.5,1205.6 404.2,1205.1 410.0,1204.6 415.8,1204.8 421.5,1205.1 427.2,1205.2 433.0,1205.5 438.8,1205.1 444.5,1204.8 450.2,1205.1 456.0,1205.8 461.8,1205.5 467.5,1204.9 473.2,1205.3 479.0,1205.5 484.8,1205.4 490.5,1205.2 496.2,1205.2 502.0,1205.3 507.8,1205.2 513.5,1205.3 519.2,1205.1 525.0,1204.9 530.8,1205.3 536.5,1205.4 542.2,1205.1 548.0,1204.9 553.8,1204.8 559.5,1205.0 565.2,1205.1 571.0,1205.2 576.8,1205.2 582.5,1205.4 588.2,1205.1 594.0,1205.2 599.8,1205.5 605.5,1205.2 611.2,1204.6 617.0,1204.6 622.8,1204.4 628.5,1204.1 634.2,1203.7 640.0,1203.6 645.8,1204.4 651.5,1204.3 657.2,1204.0 663.0,1203.8 668.8,1203.3 674.5,1203.3 680.2,1203.5 686.0,1203.5 691.8,1203.8 697.5,1203.8 703.2,1203.0 709.0,1202.3 714.8,1202.3 720.5,1202.4 726.2,1202.0 732.0,1201.5 737.8,1201.3 743.5,1200.9 749.2,1200.5 755.0,1200.1 760.8,1199.7 766.5,1199.2 772.2,1198.8 778.0,1198.1 783.8,1196.9 789.5,1196.3 795.2,1196.3 801.0,1195.7 806.8,1194.4 812.5,1193.7 818.2,1193.2 824.0,1191.9 829.8,1190.4 835.5,1189.4 841.2,1188.4 847.0,1187.8 852.8,1186.5 858.5,1184.9 864.2,1183.9 870.0,1182.3 875.8,1180.5 881.5,1178.5 887.2,1176.5 893.0,1174.4 898.8,1172.3 904.5,1170.1 910.2,1168.1 916.0,1165.8 921.8,1163.4 927.5,1161.2 933.2,1158.9 939.0,1155.8 944.8,1152.0 950.5,1149.3 956.2,1146.5 962.0,1143.1 967.8,1139.5 973.5,1135.8 979.2,1132.5 985.0,1128.8 990.8,1125.3 996.5,1122.1 1002.2,1118.0 1008.0,1113.6 1013.8,1109.4 1019.5,1105.5 1025.2,1101.7 1031.0,1097.7 1036.8,1094.0 1042.5,1090.1 1048.2,1086.2 1054.0,1083.0 1059.8,1079.1 1065.5,1075.2 1071.2,1071.8 1077.0,1068.5 1082.8,1065.2 1088.5,1061.6 1094.2,1058.5 1100.0,1055.9 1105.8,1053.6 1111.5,1051.2 1117.2,1048.6 1123.0,1046.4 1128.8,1044.4 1134.5,1042.3 1140.2,1040.4 1146.0,1039.0 1151.8,1038.1 1157.5,1037.4 1163.2,1037.4 1169.0,1038.2 1174.8,1038.4 1180.5,1037.9 1186.2,1038.8 1192.0,1040.3 1197.8,1041.9 1203.5,1043.8 1209.2,1045.2 1215.0,1047.5 1220.8,1050.1 1226.5,1052.4 1232.2,1055.1 1238.0,1058.6 1243.8,1061.9 1249.5,1064.7 1255.2,1068.2 1261.0,1071.6 1266.8,1075.4 1272.5,1079.5 1278.2,1083.9 1284.0,1087.9 1289.8,1092.0 1295.5,1096.4 1301.2,1100.2 1307.0,1104.8 1312.8,1109.4 1318.5,1113.6 1324.2,1118.0 1330.0,1122.0 1335.8,1126.1 1341.5,1130.3 1347.2,1134.2 1353.0,1137.8 1358.8,1141.2 1364.5,1144.4 1370.2,1147.6 1376.0,1151.3 1381.8,1154.7 1387.5,1157.5 1393.2,1160.3 1399.0,1163.1 1404.8,1166.1 1410.5,1168.7 1416.2,1170.8 1422.0,1172.6 1427.8,1174.6 1433.5,1177.0 1439.2,1179.3 1445.0,1180.9 1450.8,1182.5 1456.5,1184.0 1462.2,1185.2 1468.0,1187.1 1473.8,1189.0 1479.5,1190.3 1485.2,1192.2 1491.0,1194.0 1496.8,1195.2 1502.5,1195.9 1508.2,1196.5 1514.0,1196.9 1519.8,1196.9 1525.5,1197.6 1531.2,1198.3 1537.0,1198.2 1542.8,1198.4 1548.5,1199.4 1554.2,1200.1 1560.0,1200.0 1565.8,1200.3 1571.5,1200.7 1577.2,1200.6 1583.0,1200.5 1588.8,1200.6 1594.5,1200.9 1600.2,1201.0 1606.0,1201.3 1611.8,1202.0 1617.5,1202.1 1623.2,1201.8 1629.0,1201.9 1634.8,1202.3 1640.5,1202.4 1646.2,1202.3 1652.0,1202.4 1657.8,1202.8 1663.5,1202.8 1669.2,1202.6 1675.0,1202.4 1680.8,1203.1 1686.5,1203.7 1692.2,1203.9 1698.0,1203.9 1703.8,1203.7 1709.5,1203.4 1715.2,1203.5 1721.0,1203.6 1726.8,1203.6 1732.5,1203.8 1738.2,1203.7 1744.0,1204.1 1749.8,1204.1 1755.5,1203.8 1761.2,1203.9 1767.0,1203.5 1772.8,1203.5 1778.5,1203.6 1784.2,1203.9 1790.0,1204.2 1795.8,1204.2 1801.5,1203.9 1807.2,1203.7 1813.0,1203.5 1818.8,1203.8 1824.5,1204.4 1830.2,1204.1 1836.0,1203.9 1841.8,1203.6 1847.5,1203.3 1853.2,1203.8 1859.0,1203.9 1864.8,1203.7 1870.5,1204.0 1876.2,1204.1" fill="none" stroke="#000" stroke-width="7.0" stroke-linejoin="round" stroke-linecap="butt"/>
<polyline points="157.0,1439.3 162.8,1439.3 168.5,1439.6 174.2,1439.3 180.0,1439.0 185.8,1439.3 191.5,1439.2 197.2,1439.0 203.0,1439.0 208.8,1439.8 214.5,1439.7 220.2,1439.1 226.0,1438.9 231.8,1439.2 237.5,1439.3 243.2,1439.1 249.0,1439.0 254.8,1438.8 260.5,1438.9 266.2,1439.1 272.0,1439.4 277.8,1439.6 283.5,1439.8 289.2,1439.7 295.0,1439.7 300.8,1439.9 306.5,1439.5 312.2,1439.4 318.0,1439.0 323.8,1438.7 329.5,1438.6 335.2,1439.1 341.0,1439.6 346.8,1439.4 352.5,1439.6 358.2,1439.4 364.0,1439.1 369.8,1439.1 375.5,1439.2 381.2,1439.2 387.0,1439.2 392.8,1439.1 398.5,1439.0 404.2,1439.2 410.0,1439.3 415.8,1439.2 421.5,1438.8 427.2,1439.1 433.0,1439.1 438.8,1438.8 444.5,1438.9 450.2,1438.9 456.0,1439.1 461.8,1439.4 467.5,1439.2 473.2,1438.9 479.0,1438.9 484.8,1439.0 490.5,1439.2 496.2,1439.0 502.0,1438.7 507.8,1438.6 513.5,1438.7 519.2,1438.7 525.0,1438.8 530.8,1439.3 536.5,1439.2 542.2,1439.1 548.0,1438.6 553.8,1438.5 559.5,1439.0 565.2,1438.7 571.0,1437.8 576.8,1438.0 582.5,1438.8 588.2,1439.3 594.0,1439.2 599.8,1438.6 605.5,1438.3 611.2,1438.3 617.0,1438.8 622.8,1439.0 628.5,1438.6 634.2,1438.0 640.0,1438.2 645.8,1439.0 651.5,1438.6 657.2,1438.2 663.0,1438.6 668.8,1438.4 674.5,1438.1 680.2,1438.2 686.0,1438.3 691.8,1438.4 697.5,1438.3 703.2,1438.0 709.0,1438.2 714.8,1437.9 720.5,1437.9 726.2,1438.3 732.0,1437.9 737.8,1437.4 743.5,1437.1 749.2,1437.4 755.0,1437.3 760.8,1437.0 766.5,1436.6 772.2,1436.2 778.0,1436.6 783.8,1436.7 789.5,1436.6 795.2,1435.9 801.0,1434.9 806.8,1434.8 812.5,1434.4 818.2,1434.2 824.0,1433.6 829.8,1432.6 835.5,1432.3 841.2,1431.4 847.0,1430.1 852.8,1430.0 858.5,1429.9 864.2,1429.2 870.0,1428.3 875.8,1426.7 881.5,1425.5 887.2,1424.6 893.0,1423.5 898.8,1422.1 904.5,1420.8 910.2,1419.8 916.0,1418.6 921.8,1416.9 927.5,1415.1 933.2,1413.5 939.0,1411.8 944.8,1410.0 950.5,1407.8 956.2,1405.7 962.0,1403.8 967.8,1401.7 973.5,1399.6 979.2,1397.2 985.0,1394.9 990.8,1392.8 996.5,1390.8 1002.2,1388.0 1008.0,1385.2 1013.8,1383.0 1019.5,1380.5 1025.2,1377.6 1031.0,1374.3 1036.8,1371.8 1042.5,1369.3 1048.2,1366.3 1054.0,1363.5 1059.8,1360.6 1065.5,1358.0 1071.2,1355.1 1077.0,1352.6 1082.8,1350.0 1088.5,1347.2 1094.2,1344.6 1100.0,1341.9 1105.8,1339.2 1111.5,1336.6 1117.2,1334.0 1123.0,1331.8 1128.8,1329.9 1134.5,1327.6 1140.2,1324.9 1146.0,1322.5 1151.8,1321.2 1157.5,1320.3 1163.2,1319.1 1169.0,1317.6 1174.8,1316.7 1180.5,1316.1 1186.2,1315.8 1192.0,1315.8 1197.8,1315.9 1203.5,1315.6 1209.2,1315.8 1215.0,1316.8 1220.8,1317.2 1226.5,1317.4 1232.2,1318.6 1238.0,1319.9 1243.8,1321.4 1249.5,1322.9 1255.2,1324.5 1261.0,1326.6 1266.8,1328.9 1272.5,1331.3 1278.2,1333.8 1284.0,1336.8 1289.8,1339.1 1295.5,1342.2 1301.2,1345.8 1307.0,1348.8 1312.8,1352.3 1318.5,1355.8 1324.2,1358.8 1330.0,1361.8 1335.8,1365.0 1341.5,1368.5 1347.2,1371.5 1353.0,1374.8 1358.8,1378.3 1364.5,1380.8 1370.2,1383.0 1376.0,1385.3 1381.8,1388.1 1387.5,1390.7 1393.2,1393.3 1399.0,1395.5 1404.8,1397.7 1410.5,1400.3 1416.2,1402.6 1422.0,1404.8 1427.8,1407.0 1433.5,1409.2 1439.2,1411.6 1445.0,1413.7 1450.8,1415.9 1456.5,1417.7 1462.2,1419.5 1468.0,1421.3 1473.8,1422.5 1479.5,1424.0 1485.2,1425.2 1491.0,1426.1 1496.8,1427.2 1502.5,1427.9 1508.2,1428.6 1514.0,1429.7 1519.8,1430.0 1525.5,1430.5 1531.2,1431.1 1537.0,1431.6 1542.8,1432.4 1548.5,1432.6 1554.2,1432.9 1560.0,1433.7 1565.8,1433.8 1571.5,1433.8 1577.2,1433.9 1583.0,1434.1 1588.8,1434.6 1594.5,1434.7 1600.2,1435.4 1606.0,1435.9 1611.8,1435.6 1617.5,1435.5 1623.2,1435.8 1629.0,1436.2 1634.8,1436.3 1640.5,1436.2 1646.2,1436.2 1652.0,1436.4 1657.8,1436.9 1663.5,1436.8 1669.2,1436.7 1675.0,1436.8 1680.8,1437.0 1686.5,1437.0 1692.2,1437.0 1698.0,1437.4 1703.8,1437.5 1709.5,1437.7 1715.2,1437.8 1721.0,1437.7 1726.8,1438.0 1732.5,1438.5 1738.2,1438.7 1744.0,1438.2 1749.8,1438.0 1755.5,1438.3 1761.2,1438.4 1767.0,1438.4 1772.8,1438.3 1778.5,1438.6 1784.2,1438.7 1790.0,1438.6 1795.8,1438.5 1801.5,1438.7 1807.2,1438.5 1813.0,1438.8 1818.8,1438.9 1824.5,1438.7 1830.2,1438.8 1836.0,1438.3 1841.8,1438.6 1847.5,1439.1 1853.2,1439.1 1859.0,1439.0 1864.8,1438.9 1870.5,1438.7 1876.2,1438.9" fill="none" stroke="#000" stroke-width="7.0" stroke-linejoin="round" stroke-linecap="butt"/>
<polyline points="157.0,1645.2 162.8,1644.9 168.5,1644.8 174.2,1644.9 180.0,1644.8 185.8,1645.1 191.5,1645.4 197.2,1645.4 203.0,1644.9 208.8,1645.1 214.5,1645.1 220.2,1645.1 226.0,1645.2 231.8,1644.9 237.5,1645.1 243.2,1644.8 249.0,1644.2 254.8,1644.2 260.5,1644.2 266.2,1643.7 272.0,1644.1 277.8,1644.9 283.5,1644.8 289.2,1644.3 295.0,1643.9 300.8,1644.4 306.5,1644.9 312.2,1644.5 318.0,1644.5 323.8,1644.3 329.5,1643.8 335.2,1643.6 341.0,1643.1 346.8,1643.2 352.5,1643.4 358.2,1643.5 364.0,1643.9 369.8,1643.9 375.5,1643.7 381.2,1643.5 387.0,1643.5 392.8,1643.8 398.5,1643.6 404.2,1643.8 410.0,1643.9 415.8,1643.3 421.5,1643.1 427.2,1642.4 433.0,1642.0 438.8,1643.0 444.5,1643.5 450.2,1643.4 456.0,1643.2 461.8,1642.6 467.5,1642.4 473.2,1642.3 479.0,1642.1 484.8,1642.2 490.5,1642.0 496.2,1641.8 502.0,1642.0 507.8,1641.5 513.5,1641.0 519.2,1641.4 525.0,1641.1 530.8,1640.4 536.5,1640.8 542.2,1640.7 548.0,1640.0 553.8,1639.3 559.5,1639.5 565.2,1639.7 571.0,1639.0 576.8,1638.8 582.5,1638.9 588.2,1638.5 594.0,1637.6 599.8,1637.2 605.5,1637.3 611.2,1636.5 617.0,1635.6 622.8,1635.0 628.5,1634.6 634.2,1634.9 640.0,1634.1 645.8,1633.1 651.5,1632.9 657.2,1632.4 663.0,1631.9 668.8,1631.0 674.5,1629.8 680.2,1628.9 686.0,1628.4 691.8,1627.7 697.5,1626.8 703.2,1625.8 709.0,1625.6 714.8,1625.0 720.5,1623.3 726.2,1623.1 732.0,1622.3 737.8,1620.3 743.5,1619.3 749.2,1618.6 755.0,1617.3 760.8,1615.5 766.5,1613.9 772.2,1612.6 778.0,1611.9 783.8,1611.1 789.5,1608.7 795.2,1606.2 801.0,1604.5 806.8,1603.1 812.5,1601.7 818.2,1599.8 824.0,1597.8 829.8,1596.3 835.5,1594.3 841.2,1591.7 847.0,1589.8 852.8,1587.9 858.5,1585.2 864.2,1583.3 870.0,1581.4 875.8,1578.7 881.5,1575.6 887.2,1572.3 893.0,1569.5 898.8,1566.9 904.5,1563.9 910.2,1560.7 916.0,1557.5 921.8,1554.6 927.5,1551.6 933.2,1548.3 939.0,1544.9 944.8,1541.0 950.5,1537.2 956.2,1534.1 962.0,1531.1 967.8,1527.5 973.5,1524.2 979.2,1520.8 985.0,1517.3 990.8,1514.2 996.5,1511.0 1002.2,1507.9 1008.0,1504.2 1013.8,1500.6 1019.5,1498.0 1025.2,1495.8 1031.0,1493.2 1036.8,1489.8 1042.5,1487.3 1048.2,1485.8 1054.0,1483.8 1059.8,1482.0 1065.5,1480.9 1071.2,1478.8 1077.0,1476.5 1082.8,1475.6 1088.5,1474.8 1094.2,1474.2 1100.0,1473.8 1105.8,1473.2 1111.5,1473.0 1117.2,1472.9 1123.0,1472.3 1128.8,1473.4 1134.5,1475.1 1140.2,1475.6 1146.0,1476.3 1151.8,1477.3 1157.5,1478.6 1163.2,1480.6 1169.0,1483.1 1174.8,1485.3 1180.5,1487.8 1186.2,1490.9 1192.0,1494.1 1197.8,1497.7 1203.5,1501.1 1209.2,1504.7 1215.0,1508.8 1220.8,1512.8 1226.5,1516.7 1232.2,1520.3 1238.0,1523.8 1243.8,1527.6 1249.5,1532.6 1255.2,1537.8 1261.0,1542.6 1266.8,1546.8 1272.5,1550.9 1278.2,1556.2 1284.0,1561.1 1289.8,1565.0 1295.5,1569.2 1301.2,1574.2 1307.0,1579.6 1312.8,1584.2 1318.5,1588.9 1324.2,1592.7 1330.0,1596.9 1335.8,1601.8 1341.5,1605.6 1347.2,1609.1 1353.0,1612.7 1358.8,1616.2 1364.5,1619.4 1370.2,1622.1 1376.0,1625.4 1381.8,1628.2 1387.5,1630.4 1393.2,1633.2 1399.0,1635.6 1404.8,1637.1 1410.5,1638.8 1416.2,1640.8 1422.0,1642.2 1427.8,1643.2 1433.5,1644.4 1439.2,1645.4 1445.0,1646.8 1450.8,1647.8 1456.5,1648.6 1462.2,1649.1 1468.0,1649.2 1473.8,1649.6 1479.5,1650.5 1485.2,1651.4 1491.0,1651.4 1496.8,1651.4 1502.5,1650.8 1508.2,1650.1 1514.0,1650.3 1519.8,1649.8 1525.5,1649.6 1531.2,1650.5 1537.0,1650.8 1542.8,1650.4 1548.5,1650.2 1554.2,1650.7 1560.0,1651.1 1565.8,1650.7 1571.5,1651.0 1577.2,1651.4 1583.0,1651.8 1588.8,1651.6 1594.5,1651.7 1600.2,1652.3 1606.0,1652.5 1611.8,1653.2 1617.5,1653.2 1623.2,1653.0 1629.0,1653.0 1634.8,1653.6 1640.5,1653.8 1646.2,1653.9 1652.0,1654.5 1657.8,1654.3 1663.5,1654.0 1669.2,1654.1 1675.0,1654.6 1680.8,1655.1 1686.5,1655.2 1692.2,1655.1 1698.0,1655.6 1703.8,1656.0 1709.5,1656.3 1715.2,1656.3 1721.0,1655.6 1726.8,1655.6 1732.5,1656.4 1738.2,1656.7 1744.0,1657.0 1749.8,1657.0 1755.5,1656.6 1761.2,1657.0 1767.0,1657.4 1772.8,1657.1 1778.5,1657.2 1784.2,1657.5 1790.0,1658.0 1795.8,1658.1 1801.5,1657.9 1807.2,1658.4 1813.0,1658.7 1818.8,1658.3 1824.5,1658.7 1830.2,1659.4 1836.0,1659.5 1841.8,1659.3 1847.5,1659.1 1853.2,1659.3 1859.0,1659.4 1864.8,1659.5 1870.5,1659.4 1876.2,1659.7" fill="none" stroke="#000" stroke-width="7.0" stroke-linejoin="round" stroke-linecap="butt"/>
<polyline points="445.0,1206.5 448.0,1206.5 451.0,1206.5 454.0,1206.5 457.0,1206.5 460.0,1206.5 463.0,1206.5 466.0,1206.5 469.0,1206.6 472.0,1206.6 475.0,1206.6 478.0,1206.6 481.0,1206.6 484.0,1206.6 487.0,1206.6 490.0,1206.6 493.0,1206.6 496.0,1206.6 499.0,1206.6 502.0,1206.6 505.0,1206.6 508.0,1206.6 511.0,1206.6 514.0,1206.6 517.0,1206.6 520.0,1206.7 523.0,1206.7 526.0,1206.7 529.0,1206.7 532.0,1206.7 535.0,1206.7 538.0,1206.7 541.0,1206.7 544.0,1206.7 547.0,1206.7 550.0,1206.7 553.0,1206.7 556.0,1206.7 559.0,1206.7 562.0,1206.7 565.0,1206.8 568.0,1206.8 571.0,1206.8 574.0,1206.8 577.0,1206.8 580.0,1206.8 583.0,1206.8 586.0,1206.8 589.0,1206.8 592.0,1206.8 595.0,1206.8 598.0,1206.8 601.0,1206.8 604.0,1206.8 607.0,1206.8 610.0,1206.9 613.0,1206.9 616.0,1206.9 619.0,1206.9 622.0,1206.9 625.0,1206.9 628.0,1206.9 631.0,1206.9 634.0,1206.9 637.0,1206.9 640.0,1206.9 643.0,1206.9 646.0,1206.9 649.0,1207.0 652.0,1207.0 655.0,1207.0 658.0,1207.0 661.0,1207.0 664.0,1207.0 667.0,1207.0 670.0,1207.0 673.0,1207.0 676.0,1207.0 679.0,1207.0 682.0,1207.0 685.0,1207.1 688.0,1207.1 691.0,1207.1 694.0,1207.1 697.0,1207.1 700.0,1207.1 703.0,1207.1 706.0,1207.1 709.0,1207.1 712.0,1207.1 715.0,1207.1 718.0,1207.1 721.0,1207.2 724.0,1207.2 727.0,1207.2 730.0,1207.2 733.0,1207.2 736.0,1207.2 739.0,1207.2 742.0,1207.2 745.0,1207.2 748.0,1207.2 751.0,1207.2 754.0,1207.3 757.0,1207.3 760.0,1207.3 763.0,1207.3 766.0,1207.3 769.0,1207.3 772.0,1207.3 775.0,1207.3 778.0,1207.3 781.0,1207.3 784.0,1207.3 787.0,1207.4 790.0,1207.4 793.0,1207.4 796.0,1207.4 799.0,1207.4 802.0,1207.4 805.0,1207.4 808.0,1207.4 811.0,1207.4 814.0,1207.4 817.0,1207.5 820.0,1207.5 823.0,1207.5 826.0,1207.5 829.0,1207.5 832.0,1207.5 835.0,1207.5 838.0,1207.5 841.0,1207.6 844.0,1207.6 847.0,1207.6 850.0,1207.6 853.0,1207.6 856.0,1207.6 859.0,1207.6 862.0,1207.7 865.0,1207.7 868.0,1207.7 871.0,1207.7 874.0,1207.7 877.0,1207.7 880.0,1207.7 883.0,1207.8 886.0,1207.8 889.0,1207.8 892.0,1207.8 895.0,1207.8 898.0,1207.8 901.0,1207.9 904.0,1207.9 907.0,1207.9 910.0,1207.9 913.0,1207.9 916.0,1207.9 919.0,1207.9 922.0,1208.0 925.0,1208.0 928.0,1208.0 931.0,1208.0 934.0,1208.0 937.0,1208.0 940.0,1208.0 943.0,1208.1 946.0,1208.1 949.0,1208.1 952.0,1208.1 955.0,1208.1 958.0,1208.1 961.0,1208.1 964.0,1208.2 967.0,1208.2 970.0,1208.2 973.0,1208.2 976.0,1208.2 979.0,1208.2 982.0,1208.2 985.0,1208.2 988.0,1208.2 991.0,1208.3 994.0,1208.3 997.0,1208.3 1000.0,1208.3 1003.0,1208.3 1006.0,1208.3 1009.0,1208.3 1012.0,1208.3 1015.0,1208.3 1018.0,1208.3 1021.0,1208.3 1024.0,1208.3 1027.0,1208.4 1030.0,1208.4 1033.0,1208.4 1036.0,1208.4 1039.0,1208.4 1042.0,1208.4 1045.0,1208.4 1048.0,1208.4 1051.0,1208.4 1054.0,1208.4 1057.0,1208.4 1060.0,1208.4 1063.0,1208.4 1066.0,1208.5 1069.0,1208.5 1072.0,1208.5 1075.0,1208.5 1078.0,1208.5 1081.0,1208.5 1084.0,1208.5 1087.0,1208.5 1090.0,1208.5 1093.0,1208.5 1096.0,1208.5 1099.0,1208.5 1102.0,1208.5 1105.0,1208.6 1108.0,1208.6 1111.0,1208.6 1114.0,1208.6 1117.0,1208.6 1120.0,1208.6 1123.0,1208.6 1126.0,1208.6 1129.0,1208.6 1132.0,1208.6 1135.0,1208.6 1138.0,1208.6 1141.0,1208.6 1144.0,1208.7 1147.0,1208.7 1150.0,1208.7 1153.0,1208.7 1156.0,1208.7 1159.0,1208.7 1162.0,1208.7 1165.0,1208.7 1168.0,1208.7 1171.0,1208.7 1174.0,1208.7 1177.0,1208.7 1180.0,1208.7 1183.0,1208.7 1186.0,1208.7 1189.0,1208.8 1192.0,1208.8 1195.0,1208.8 1198.0,1208.8 1201.0,1208.8 1204.0,1208.8 1207.0,1208.8 1210.0,1208.8 1213.0,1208.8 1216.0,1208.8 1219.0,1208.8 1222.0,1208.8 1225.0,1208.8 1228.0,1208.8 1231.0,1208.8 1234.0,1208.8 1237.0,1208.8 1240.0,1208.8 1243.0,1208.9 1246.0,1208.9 1249.0,1208.9 1252.0,1208.9 1255.0,1208.9 1258.0,1208.9 1261.0,1208.9 1264.0,1208.9 1267.0,1208.9 1270.0,1208.9 1273.0,1208.9 1276.0,1208.9 1279.0,1208.9 1282.0,1208.9 1285.0,1208.9 1288.0,1208.9 1291.0,1208.9 1294.0,1208.9 1297.0,1208.9 1300.0,1208.9 1303.0,1208.9 1306.0,1208.9 1309.0,1208.9 1312.0,1209.0 1315.0,1209.0 1318.0,1209.0 1321.0,1209.0 1324.0,1209.0 1327.0,1209.0 1330.0,1209.0 1333.0,1209.0 1336.0,1209.0 1339.0,1209.0 1342.0,1209.0 1345.0,1209.0 1348.0,1209.0 1351.0,1209.0 1354.0,1209.0 1357.0,1209.0 1360.0,1209.0 1363.0,1209.0 1366.0,1209.0 1369.0,1209.0 1372.0,1209.0 1375.0,1209.0 1378.0,1209.0 1381.0,1209.0 1384.0,1209.0 1387.0,1209.0 1390.0,1209.0 1393.0,1209.0 1396.0,1209.0 1399.0,1209.0 1402.0,1209.0 1405.0,1209.0 1408.0,1209.0 1411.0,1209.0 1414.0,1209.0 1417.0,1209.0 1420.0,1209.0 1423.0,1209.0 1426.0,1209.0 1429.0,1209.0 1432.0,1209.0 1435.0,1209.0 1438.0,1209.0 1441.0,1209.0 1444.0,1209.0 1447.0,1209.0 1450.0,1209.0 1453.0,1209.0 1456.0,1209.0 1459.0,1209.0 1462.0,1209.0 1465.0,1209.0 1468.0,1209.0 1471.0,1209.0 1474.0,1209.0 1477.0,1209.0 1480.0,1209.0 1483.0,1209.0 1486.0,1209.0 1489.0,1209.0 1492.0,1209.0 1495.0,1209.0 1498.0,1209.0 1501.0,1209.0 1504.0,1209.0 1507.0,1209.0 1510.0,1209.0 1513.0,1209.0 1516.0,1209.0 1519.0,1209.0 1522.0,1209.0 1525.0,1209.0 1528.0,1209.0 1531.0,1209.0 1534.0,1209.0 1537.0,1209.0 1540.0,1209.0 1543.0,1209.0 1546.0,1209.0 1549.0,1209.0 1552.0,1209.0 1555.0,1209.0 1558.0,1209.0 1561.0,1209.0 1564.0,1209.0 1567.0,1209.0 1570.0,1209.0 1573.0,1209.0 1576.0,1209.0 1579.0,1209.0 1582.0,1209.0 1585.0,1209.0 1588.0,1209.0 1591.0,1209.0 1594.0,1209.0 1597.0,1209.0 1600.0,1209.0 1603.0,1209.0 1606.0,1209.0 1609.0,1209.0 1612.0,1209.0 1615.0,1209.0 1618.0,1209.0 1621.0,1209.0 1624.0,1209.0 1627.0,1209.0 1630.0,1209.0 1633.0,1209.0 1636.0,1209.0 1639.0,1209.0 1642.0,1209.0 1645.0,1209.0 1648.0,1209.0 1651.0,1209.0 1654.0,1209.0 1657.0,1209.0 1660.0,1209.0 1663.0,1209.0 1666.0,1209.0 1669.0,1209.0 1672.0,1209.0 1675.0,1209.0 1678.0,1209.0 1681.0,1209.0 1684.0,1209.0 1687.0,1209.0 1690.0,1209.0 1693.0,1209.0 1696.0,1209.0 1699.0,1209.0 1702.0,1209.0 1705.0,1209.0 1708.0,1209.0 1711.0,1209.0 1714.0,1209.0 1717.0,1209.0 1720.0,1209.0 1723.0,1209.0 1726.0,1209.0 1729.0,1209.0 1732.0,1209.0 1735.0,1209.0 1738.0,1209.0 1741.0,1208.9 1744.0,1208.9 1747.0,1208.9 1750.0,1208.9 1753.0,1208.9 1756.0,1208.9 1759.0,1208.9 1762.0,1208.9 1765.0,1208.9 1768.0,1208.9 1771.0,1208.9 1774.0,1208.8 1777.0,1208.8 1780.0,1208.8 1783.0,1208.8 1786.0,1208.8 1789.0,1208.8 1792.0,1208.8 1795.0,1208.8 1798.0,1208.7 1801.0,1208.7 1804.0,1208.7 1807.0,1208.7 1810.0,1208.7 1813.0,1208.7 1816.0,1208.7 1819.0,1208.6 1822.0,1208.6 1825.0,1208.6 1828.0,1208.6 1831.0,1208.6 1834.0,1208.6 1837.0,1208.6 1840.0,1208.5 1843.0,1208.5 1846.0,1208.5 1849.0,1208.5 1852.0,1208.5 1855.0,1208.5 1858.0,1208.4 1861.0,1208.4 1864.0,1208.4 1867.0,1208.4 1870.0,1208.4 1873.0,1208.4 1876.0,1208.3 1879.0,1208.3" fill="none" stroke="#00ff00" stroke-width="6.2" stroke-linejoin="round" stroke-linecap="round"/>
<polyline points="445.0,1205.9 448.0,1205.9 451.0,1205.9 454.0,1205.9 457.0,1205.9 460.0,1205.9 463.0,1205.9 466.0,1205.9 469.0,1205.9 472.0,1205.9 475.0,1205.9 478.0,1205.9 481.0,1205.9 484.0,1205.9 487.0,1205.9 490.0,1205.9 493.0,1205.9 496.0,1205.9 499.0,1205.9 502.0,1205.9 505.0,1205.9 508.0,1205.9 511.0,1205.9 514.0,1205.9 517.0,1205.9 520.0,1205.9 523.0,1205.9 526.0,1205.9 529.0,1205.9 532.0,1205.9 535.0,1205.9 538.0,1205.9 541.0,1205.9 544.0,1205.9 547.0,1205.9 550.0,1205.9 553.0,1205.9 556.0,1205.9 559.0,1205.9 562.0,1205.9 565.0,1205.9 568.0,1205.9 571.0,1205.9 574.0,1205.9 577.0,1205.9 580.0,1205.9 583.0,1205.9 586.0,1205.9 589.0,1205.9 592.0,1205.9 595.0,1205.9 598.0,1205.8 601.0,1205.8 604.0,1205.8 607.0,1205.8 610.0,1205.8 613.0,1205.8 616.0,1205.8 619.0,1205.8 622.0,1205.7 625.0,1205.7 628.0,1205.7 631.0,1205.7 634.0,1205.7 637.0,1205.6 640.0,1205.6 643.0,1205.6 646.0,1205.5 649.0,1205.5 652.0,1205.5 655.0,1205.5 658.0,1205.4 661.0,1205.4 664.0,1205.3 667.0,1205.3 670.0,1205.3 673.0,1205.2 676.0,1205.2 679.0,1205.1 682.0,1205.1 685.0,1205.0 688.0,1204.9 691.0,1204.9 694.0,1204.8 697.0,1204.8 700.0,1204.7 703.0,1204.6 706.0,1204.5 709.0,1204.5 712.0,1204.4 715.0,1204.3 718.0,1204.2 721.0,1204.1 724.0,1204.0 727.0,1203.9 730.0,1203.8 733.0,1203.7 736.0,1203.6 739.0,1203.5 742.0,1203.4 745.0,1203.3 748.0,1203.2 751.0,1203.0 754.0,1202.9 757.0,1202.8 760.0,1202.6 763.0,1202.5 766.0,1202.3 769.0,1202.2 772.0,1202.0 775.0,1201.9 778.0,1201.7 781.0,1201.6 784.0,1201.4 787.0,1201.2 790.0,1201.0 793.0,1200.9 796.0,1200.7 799.0,1200.5 802.0,1200.3 805.0,1200.1 808.0,1199.9 811.0,1199.7 814.0,1199.5 817.0,1199.3 820.0,1199.1 823.0,1198.9 826.0,1198.7 829.0,1198.4 832.0,1198.2 835.0,1198.0 838.0,1197.8 841.0,1197.6 844.0,1197.3 847.0,1197.1 850.0,1196.9 853.0,1196.6 856.0,1196.4 859.0,1196.2 862.0,1195.9 865.0,1195.7 868.0,1195.4 871.0,1195.2 874.0,1195.0 877.0,1194.7 880.0,1194.5 883.0,1194.3 886.0,1194.0 889.0,1193.8 892.0,1193.6 895.0,1193.3 898.0,1193.1 901.0,1192.9 904.0,1192.6 907.0,1192.4 910.0,1192.2 913.0,1192.0 916.0,1191.8 919.0,1191.6 922.0,1191.4 925.0,1191.2 928.0,1191.0 931.0,1190.8 934.0,1190.6 937.0,1190.4 940.0,1190.2 943.0,1190.1 946.0,1189.9 949.0,1189.7 952.0,1189.6 955.0,1189.5 958.0,1189.3 961.0,1189.2 964.0,1189.1 967.0,1189.0 970.0,1188.9 973.0,1188.8 976.0,1188.7 979.0,1188.6 982.0,1188.5 985.0,1188.5 988.0,1188.4 991.0,1188.4 994.0,1188.3 997.0,1188.3 1000.0,1188.3 1003.0,1188.3 1006.0,1188.3 1009.0,1188.3 1012.0,1188.4 1015.0,1188.4 1018.0,1188.5 1021.0,1188.6 1024.0,1188.7 1027.0,1188.9 1030.0,1189.0 1033.0,1189.2 1036.0,1189.4 1039.0,1189.7 1042.0,1189.9 1045.0,1190.1 1048.0,1190.4 1051.0,1190.7 1054.0,1191.0 1057.0,1191.3 1060.0,1191.6 1063.0,1192.0 1066.0,1192.3 1069.0,1192.6 1072.0,1193.0 1075.0,1193.4 1078.0,1193.7 1081.0,1194.1 1084.0,1194.5 1087.0,1194.9 1090.0,1195.3 1093.0,1195.7 1096.0,1196.0 1099.0,1196.4 1102.0,1196.8 1105.0,1197.2 1108.0,1197.6 1111.0,1198.0 1114.0,1198.3 1117.0,1198.7 1120.0,1199.1 1123.0,1199.4 1126.0,1199.8 1129.0,1200.1 1132.0,1200.5 1135.0,1200.8 1138.0,1201.1 1141.0,1201.4 1144.0,1201.8 1147.0,1202.1 1150.0,1202.3 1153.0,1202.6 1156.0,1202.9 1159.0,1203.2 1162.0,1203.4 1165.0,1203.7 1168.0,1203.9 1171.0,1204.1 1174.0,1204.4 1177.0,1204.6 1180.0,1204.8 1183.0,1205.0 1186.0,1205.2 1189.0,1205.3 1192.0,1205.5 1195.0,1205.7 1198.0,1205.8 1201.0,1206.0 1204.0,1206.1 1207.0,1206.3 1210.0,1206.4 1213.0,1206.5 1216.0,1206.6 1219.0,1206.7 1222.0,1206.8 1225.0,1206.9 1228.0,1207.0 1231.0,1207.1 1234.0,1207.2 1237.0,1207.3 1240.0,1207.3 1243.0,1207.4 1246.0,1207.5 1249.0,1207.5 1252.0,1207.6 1255.0,1207.6 1258.0,1207.7 1261.0,1207.7 1264.0,1207.8 1267.0,1207.8 1270.0,1207.8 1273.0,1207.9 1276.0,1207.9 1279.0,1207.9 1282.0,1208.0 1285.0,1208.0 1288.0,1208.0 1291.0,1208.0 1294.0,1208.1 1297.0,1208.1 1300.0,1208.1 1303.0,1208.1 1306.0,1208.1 1309.0,1208.2 1312.0,1208.2 1315.0,1208.2 1318.0,1208.2 1321.0,1208.2 1324.0,1208.2 1327.0,1208.2 1330.0,1208.2 1333.0,1208.2 1336.0,1208.3 1339.0,1208.3 1342.0,1208.3 1345.0,1208.3 1348.0,1208.3 1351.0,1208.3 1354.0,1208.3 1357.0,1208.3 1360.0,1208.3 1363.0,1208.3 1366.0,1208.3 1369.0,1208.3 1372.0,1208.3 1375.0,1208.3 1378.0,1208.3 1381.0,1208.3 1384.0,1208.3 1387.0,1208.4 1390.0,1208.4 1393.0,1208.4 1396.0,1208.4 1399.0,1208.4 1402.0,1208.4 1405.0,1208.4 1408.0,1208.4 1411.0,1208.4 1414.0,1208.4 1417.0,1208.4 1420.0,1208.4 1423.0,1208.4 1426.0,1208.4 1429.0,1208.4 1432.0,1208.4 1435.0,1208.4 1438.0,1208.4 1441.0,1208.4 1444.0,1208.4 1447.0,1208.4 1450.0,1208.4 1453.0,1208.4 1456.0,1208.4 1459.0,1208.4 1462.0,1208.4 1465.0,1208.4 1468.0,1208.4 1471.0,1208.4 1474.0,1208.4 1477.0,1208.4 1480.0,1208.4 1483.0,1208.4 1486.0,1208.4 1489.0,1208.4 1492.0,1208.4 1495.0,1208.4 1498.0,1208.4 1501.0,1208.4 1504.0,1208.4 1507.0,1208.4 1510.0,1208.4 1513.0,1208.4 1516.0,1208.4 1519.0,1208.4 1522.0,1208.4 1525.0,1208.4 1528.0,1208.4 1531.0,1208.4 1534.0,1208.4 1537.0,1208.4 1540.0,1208.4 1543.0,1208.4 1546.0,1208.4 1549.0,1208.4 1552.0,1208.4 1555.0,1208.4 1558.0,1208.4 1561.0,1208.4 1564.0,1208.4 1567.0,1208.4 1570.0,1208.4 1573.0,1208.4 1576.0,1208.4 1579.0,1208.4 1582.0,1208.4 1585.0,1208.4 1588.0,1208.4 1591.0,1208.4 1594.0,1208.4 1597.0,1208.4 1600.0,1208.4 1603.0,1208.4 1606.0,1208.4 1609.0,1208.4 1612.0,1208.4 1615.0,1208.4 1618.0,1208.4 1621.0,1208.4 1624.0,1208.4 1627.0,1208.4 1630.0,1208.4 1633.0,1208.4 1636.0,1208.4 1639.0,1208.4 1642.0,1208.4 1645.0,1208.4 1648.0,1208.4 1651.0,1208.4 1654.0,1208.4 1657.0,1208.4 1660.0,1208.4 1663.0,1208.4 1666.0,1208.4 1669.0,1208.4 1672.0,1208.5 1675.0,1208.5 1678.0,1208.5 1681.0,1208.5 1684.0,1208.5 1687.0,1208.5 1690.0,1208.5 1693.0,1208.5 1696.0,1208.5 1699.0,1208.5 1702.0,1208.5 1705.0,1208.5 1708.0,1208.5 1711.0,1208.5 1714.0,1208.4 1717.0,1208.4 1720.0,1208.4 1723.0,1208.4 1726.0,1208.4 1729.0,1208.4 1732.0,1208.4 1735.0,1208.4 1738.0,1208.4 1741.0,1208.4 1744.0,1208.4 1747.0,1208.4 1750.0,1208.4 1753.0,1208.4 1756.0,1208.4 1759.0,1208.4 1762.0,1208.3 1765.0,1208.3 1768.0,1208.3 1771.0,1208.3 1774.0,1208.3 1777.0,1208.3 1780.0,1208.3 1783.0,1208.3 1786.0,1208.3 1789.0,1208.2 1792.0,1208.2 1795.0,1208.2 1798.0,1208.2 1801.0,1208.2 1804.0,1208.2 1807.0,1208.2 1810.0,1208.2 1813.0,1208.1 1816.0,1208.1 1819.0,1208.1 1822.0,1208.1 1825.0,1208.1 1828.0,1208.1 1831.0,1208.0 1834.0,1208.0 1837.0,1208.0 1840.0,1208.0 1843.0,1208.0 1846.0,1208.0 1849.0,1208.0 1852.0,1207.9 1855.0,1207.9 1858.0,1207.9 1861.0,1207.9 1864.0,1207.9 1867.0,1207.9 1870.0,1207.8 1873.0,1207.8 1876.0,1207.8 1879.0,1207.8" fill="none" stroke="#8b008b" stroke-width="7.2" stroke-linejoin="round" stroke-linecap="round"/>
<polyline points="445.0,1205.5 448.0,1205.5 451.0,1205.5 454.0,1205.5 457.0,1205.5 460.0,1205.5 463.0,1205.5 466.0,1205.5 469.0,1205.5 472.0,1205.5 475.0,1205.5 478.0,1205.5 481.0,1205.5 484.0,1205.5 487.0,1205.5 490.0,1205.5 493.0,1205.5 496.0,1205.5 499.0,1205.5 502.0,1205.5 505.0,1205.5 508.0,1205.5 511.0,1205.5 514.0,1205.5 517.0,1205.5 520.0,1205.5 523.0,1205.5 526.0,1205.5 529.0,1205.5 532.0,1205.5 535.0,1205.5 538.0,1205.5 541.0,1205.5 544.0,1205.5 547.0,1205.5 550.0,1205.5 553.0,1205.5 556.0,1205.5 559.0,1205.5 562.0,1205.5 565.0,1205.5 568.0,1205.5 571.0,1205.5 574.0,1205.5 577.0,1205.5 580.0,1205.5 583.0,1205.4 586.0,1205.4 589.0,1205.4 592.0,1205.4 595.0,1205.4 598.0,1205.4 601.0,1205.4 604.0,1205.4 607.0,1205.4 610.0,1205.4 613.0,1205.4 616.0,1205.4 619.0,1205.4 622.0,1205.4 625.0,1205.4 628.0,1205.4 631.0,1205.4 634.0,1205.4 637.0,1205.4 640.0,1205.4 643.0,1205.4 646.0,1205.4 649.0,1205.4 652.0,1205.3 655.0,1205.3 658.0,1205.3 661.0,1205.3 664.0,1205.3 667.0,1205.3 670.0,1205.3 673.0,1205.3 676.0,1205.3 679.0,1205.2 682.0,1205.2 685.0,1205.2 688.0,1205.2 691.0,1205.2 694.0,1205.2 697.0,1205.1 700.0,1205.1 703.0,1205.1 706.0,1205.1 709.0,1205.0 712.0,1205.0 715.0,1205.0 718.0,1204.9 721.0,1204.9 724.0,1204.9 727.0,1204.8 730.0,1204.8 733.0,1204.7 736.0,1204.7 739.0,1204.6 742.0,1204.6 745.0,1204.5 748.0,1204.4 751.0,1204.4 754.0,1204.3 757.0,1204.2 760.0,1204.1 763.0,1204.0 766.0,1203.9 769.0,1203.8 772.0,1203.7 775.0,1203.6 778.0,1203.5 781.0,1203.4 784.0,1203.2 787.0,1203.1 790.0,1202.9 793.0,1202.7 796.0,1202.6 799.0,1202.4 802.0,1202.2 805.0,1202.0 808.0,1201.8 811.0,1201.5 814.0,1201.3 817.0,1201.0 820.0,1200.8 823.0,1200.5 826.0,1200.2 829.0,1199.9 832.0,1199.5 835.0,1199.2 838.0,1198.8 841.0,1198.4 844.0,1198.0 847.0,1197.6 850.0,1197.2 853.0,1196.7 856.0,1196.2 859.0,1195.7 862.0,1195.2 865.0,1194.6 868.0,1194.0 871.0,1193.4 874.0,1192.8 877.0,1192.1 880.0,1191.4 883.0,1190.7 886.0,1190.0 889.0,1189.2 892.0,1188.4 895.0,1187.5 898.0,1186.7 901.0,1185.8 904.0,1184.8 907.0,1183.9 910.0,1182.9 913.0,1181.9 916.0,1180.8 919.0,1179.7 922.0,1178.6 925.0,1177.4 928.0,1176.2 931.0,1174.9 934.0,1173.7 937.0,1172.4 940.0,1171.0 943.0,1169.6 946.0,1168.2 949.0,1166.8 952.0,1165.3 955.0,1163.8 958.0,1162.2 961.0,1160.7 964.0,1159.1 967.0,1157.4 970.0,1155.8 973.0,1154.1 976.0,1152.3 979.0,1150.6 982.0,1148.8 985.0,1147.0 988.0,1145.2 991.0,1143.3 994.0,1141.5 997.0,1139.6 1000.0,1137.7 1003.0,1135.8 1006.0,1133.8 1009.0,1131.9 1012.0,1129.9 1015.0,1128.0 1018.0,1126.0 1021.0,1124.1 1024.0,1122.1 1027.0,1120.1 1030.0,1118.2 1033.0,1116.2 1036.0,1114.3 1039.0,1112.4 1042.0,1110.5 1045.0,1108.6 1048.0,1106.7 1051.0,1104.9 1054.0,1103.0 1057.0,1101.3 1060.0,1099.5 1063.0,1097.8 1066.0,1096.1 1069.0,1094.5 1072.0,1092.9 1075.0,1091.3 1078.0,1089.8 1081.0,1088.3 1084.0,1086.9 1087.0,1085.6 1090.0,1084.3 1093.0,1083.1 1096.0,1081.9 1099.0,1080.9 1102.0,1079.8 1105.0,1078.9 1108.0,1078.0 1111.0,1077.2 1114.0,1076.5 1117.0,1075.9 1120.0,1075.3 1123.0,1074.8 1126.0,1074.4 1129.0,1074.1 1132.0,1073.9 1135.0,1073.7 1138.0,1073.6 1141.0,1073.7 1144.0,1073.8 1147.0,1074.1 1150.0,1074.5 1153.0,1075.0 1156.0,1075.6 1159.0,1076.4 1162.0,1077.2 1165.0,1078.2 1168.0,1079.3 1171.0,1080.4 1174.0,1081.7 1177.0,1083.1 1180.0,1084.5 1183.0,1086.0 1186.0,1087.6 1189.0,1089.3 1192.0,1091.0 1195.0,1092.8 1198.0,1094.6 1201.0,1096.5 1204.0,1098.5 1207.0,1100.4 1210.0,1102.4 1213.0,1104.5 1216.0,1106.5 1219.0,1108.6 1222.0,1110.7 1225.0,1112.8 1228.0,1114.9 1231.0,1117.1 1234.0,1119.2 1237.0,1121.3 1240.0,1123.4 1243.0,1125.5 1246.0,1127.6 1249.0,1129.7 1252.0,1131.8 1255.0,1133.8 1258.0,1135.9 1261.0,1137.9 1264.0,1139.8 1267.0,1141.8 1270.0,1143.7 1273.0,1145.6 1276.0,1147.5 1279.0,1149.3 1282.0,1151.1 1285.0,1152.9 1288.0,1154.6 1291.0,1156.3 1294.0,1158.0 1297.0,1159.6 1300.0,1161.2 1303.0,1162.7 1306.0,1164.2 1309.0,1165.7 1312.0,1167.1 1315.0,1168.5 1318.0,1169.9 1321.0,1171.2 1324.0,1172.4 1327.0,1173.7 1330.0,1174.9 1333.0,1176.0 1336.0,1177.2 1339.0,1178.3 1342.0,1179.3 1345.0,1180.3 1348.0,1181.3 1351.0,1182.3 1354.0,1183.2 1357.0,1184.1 1360.0,1184.9 1363.0,1185.7 1366.0,1186.5 1369.0,1187.3 1372.0,1188.0 1375.0,1188.7 1378.0,1189.4 1381.0,1190.0 1384.0,1190.6 1387.0,1191.2 1390.0,1191.8 1393.0,1192.3 1396.0,1192.8 1399.0,1193.3 1402.0,1193.8 1405.0,1194.3 1408.0,1194.7 1411.0,1195.1 1414.0,1195.5 1417.0,1195.9 1420.0,1196.3 1423.0,1196.6 1426.0,1197.0 1429.0,1197.3 1432.0,1197.6 1435.0,1197.9 1438.0,1198.2 1441.0,1198.5 1444.0,1198.7 1447.0,1199.0 1450.0,1199.2 1453.0,1199.4 1456.0,1199.6 1459.0,1199.9 1462.0,1200.1 1465.0,1200.2 1468.0,1200.4 1471.0,1200.6 1474.0,1200.8 1477.0,1200.9 1480.0,1201.1 1483.0,1201.2 1486.0,1201.4 1489.0,1201.5 1492.0,1201.7 1495.0,1201.8 1498.0,1201.9 1501.0,1202.0 1504.0,1202.1 1507.0,1202.3 1510.0,1202.4 1513.0,1202.5 1516.0,1202.6 1519.0,1202.7 1522.0,1202.8 1525.0,1202.9 1528.0,1202.9 1531.0,1203.0 1534.0,1203.1 1537.0,1203.2 1540.0,1203.3 1543.0,1203.3 1546.0,1203.4 1549.0,1203.5 1552.0,1203.6 1555.0,1203.6 1558.0,1203.7 1561.0,1203.8 1564.0,1203.8 1567.0,1203.9 1570.0,1204.0 1573.0,1204.0 1576.0,1204.1 1579.0,1204.1 1582.0,1204.2 1585.0,1204.2 1588.0,1204.3 1591.0,1204.4 1594.0,1204.4 1597.0,1204.5 1600.0,1204.5 1603.0,1204.6 1606.0,1204.6 1609.0,1204.7 1612.0,1204.7 1615.0,1204.7 1618.0,1204.8 1621.0,1204.8 1624.0,1204.9 1627.0,1204.9 1630.0,1205.0 1633.0,1205.0 1636.0,1205.0 1639.0,1205.1 1642.0,1205.1 1645.0,1205.2 1648.0,1205.2 1651.0,1205.2 1654.0,1205.3 1657.0,1205.3 1660.0,1205.3 1663.0,1205.4 1666.0,1205.4 1669.0,1205.4 1672.0,1205.5 1675.0,1205.5 1678.0,1205.5 1681.0,1205.6 1684.0,1205.6 1687.0,1205.6 1690.0,1205.7 1693.0,1205.7 1696.0,1205.7 1699.0,1205.7 1702.0,1205.8 1705.0,1205.8 1708.0,1205.8 1711.0,1205.8 1714.0,1205.9 1717.0,1205.9 1720.0,1205.9 1723.0,1205.9 1726.0,1206.0 1729.0,1206.0 1732.0,1206.0 1735.0,1206.0 1738.0,1206.0 1741.0,1206.0 1744.0,1206.1 1747.0,1206.1 1750.0,1206.1 1753.0,1206.1 1756.0,1206.1 1759.0,1206.1 1762.0,1206.1 1765.0,1206.1 1768.0,1206.2 1771.0,1206.2 1774.0,1206.2 1777.0,1206.2 1780.0,1206.2 1783.0,1206.2 1786.0,1206.2 1789.0,1206.2 1792.0,1206.2 1795.0,1206.2 1798.0,1206.2 1801.0,1206.2 1804.0,1206.2 1807.0,1206.2 1810.0,1206.2 1813.0,1206.2 1816.0,1206.2 1819.0,1206.2 1822.0,1206.2 1825.0,1206.2 1828.0,1206.2 1831.0,1206.2 1834.0,1206.2 1837.0,1206.2 1840.0,1206.2 1843.0,1206.2 1846.0,1206.2 1849.0,1206.2 1852.0,1206.2 1855.0,1206.2 1858.0,1206.2 1861.0,1206.2 1864.0,1206.2 1867.0,1206.2 1870.0,1206.2 1873.0,1206.2 1876.0,1206.2 1879.0,1206.2" fill="none" stroke="#ff0080" stroke-width="7.2" stroke-linejoin="round" stroke-linecap="round"/>
<polyline points="445.0,1204.2 448.0,1204.2 451.0,1204.2 454.0,1204.2 457.0,1204.2 460.0,1204.2 463.0,1204.2 466.0,1204.2 469.0,1204.2 472.0,1204.2 475.0,1204.2 478.0,1204.2 481.0,1204.2 484.0,1204.2 487.0,1204.2 490.0,1204.2 493.0,1204.2 496.0,1204.2 499.0,1204.2 502.0,1204.2 505.0,1204.2 508.0,1204.2 511.0,1204.2 514.0,1204.2 517.0,1204.2 520.0,1204.2 523.0,1204.2 526.0,1204.1 529.0,1204.1 532.0,1204.1 535.0,1204.1 538.0,1204.1 541.0,1204.1 544.0,1204.1 547.0,1204.1 550.0,1204.1 553.0,1204.1 556.0,1204.1 559.0,1204.1 562.0,1204.0 565.0,1204.0 568.0,1204.0 571.0,1204.0 574.0,1204.0 577.0,1204.0 580.0,1204.0 583.0,1203.9 586.0,1203.9 589.0,1203.9 592.0,1203.9 595.0,1203.9 598.0,1203.9 601.0,1203.8 604.0,1203.8 607.0,1203.8 610.0,1203.8 613.0,1203.7 616.0,1203.7 619.0,1203.7 622.0,1203.7 625.0,1203.6 628.0,1203.6 631.0,1203.6 634.0,1203.5 637.0,1203.5 640.0,1203.4 643.0,1203.4 646.0,1203.3 649.0,1203.3 652.0,1203.3 655.0,1203.2 658.0,1203.1 661.0,1203.1 664.0,1203.0 667.0,1203.0 670.0,1202.9 673.0,1202.8 676.0,1202.8 679.0,1202.7 682.0,1202.6 685.0,1202.5 688.0,1202.4 691.0,1202.4 694.0,1202.3 697.0,1202.2 700.0,1202.1 703.0,1202.0 706.0,1201.9 709.0,1201.7 712.0,1201.6 715.0,1201.5 718.0,1201.4 721.0,1201.2 724.0,1201.1 727.0,1200.9 730.0,1200.8 733.0,1200.6 736.0,1200.4 739.0,1200.3 742.0,1200.1 745.0,1199.9 748.0,1199.7 751.0,1199.5 754.0,1199.3 757.0,1199.0 760.0,1198.8 763.0,1198.6 766.0,1198.3 769.0,1198.1 772.0,1197.8 775.0,1197.5 778.0,1197.2 781.0,1196.9 784.0,1196.6 787.0,1196.2 790.0,1195.9 793.0,1195.5 796.0,1195.2 799.0,1194.8 802.0,1194.4 805.0,1194.0 808.0,1193.5 811.0,1193.1 814.0,1192.6 817.0,1192.2 820.0,1191.7 823.0,1191.2 826.0,1190.6 829.0,1190.1 832.0,1189.5 835.0,1188.9 838.0,1188.3 841.0,1187.7 844.0,1187.0 847.0,1186.4 850.0,1185.7 853.0,1184.9 856.0,1184.2 859.0,1183.4 862.0,1182.6 865.0,1181.8 868.0,1181.0 871.0,1180.1 874.0,1179.2 877.0,1178.3 880.0,1177.4 883.0,1176.4 886.0,1175.4 889.0,1174.3 892.0,1173.3 895.0,1172.2 898.0,1171.0 901.0,1169.9 904.0,1168.7 907.0,1167.5 910.0,1166.2 913.0,1165.0 916.0,1163.7 919.0,1162.4 922.0,1161.0 925.0,1159.6 928.0,1158.2 931.0,1156.8 934.0,1155.3 937.0,1153.8 940.0,1152.3 943.0,1150.7 946.0,1149.1 949.0,1147.5 952.0,1145.8 955.0,1144.2 958.0,1142.5 961.0,1140.7 964.0,1139.0 967.0,1137.2 970.0,1135.4 973.0,1133.6 976.0,1131.7 979.0,1129.8 982.0,1127.9 985.0,1126.0 988.0,1124.1 991.0,1122.1 994.0,1120.1 997.0,1118.1 1000.0,1116.1 1003.0,1114.1 1006.0,1112.0 1009.0,1110.0 1012.0,1107.9 1015.0,1105.9 1018.0,1103.8 1021.0,1101.8 1024.0,1099.7 1027.0,1097.7 1030.0,1095.7 1033.0,1093.7 1036.0,1091.7 1039.0,1089.7 1042.0,1087.7 1045.0,1085.8 1048.0,1083.8 1051.0,1081.9 1054.0,1080.0 1057.0,1078.1 1060.0,1076.3 1063.0,1074.4 1066.0,1072.6 1069.0,1070.8 1072.0,1069.0 1075.0,1067.3 1078.0,1065.6 1081.0,1063.9 1084.0,1062.3 1087.0,1060.7 1090.0,1059.1 1093.0,1057.6 1096.0,1056.1 1099.0,1054.7 1102.0,1053.3 1105.0,1052.0 1108.0,1050.7 1111.0,1049.5 1114.0,1048.3 1117.0,1047.1 1120.0,1046.1 1123.0,1045.0 1126.0,1044.1 1129.0,1043.1 1132.0,1042.3 1135.0,1041.4 1138.0,1040.7 1141.0,1040.0 1144.0,1039.4 1147.0,1038.9 1150.0,1038.5 1153.0,1038.2 1156.0,1037.9 1159.0,1037.8 1162.0,1037.8 1165.0,1037.8 1168.0,1038.0 1171.0,1038.2 1174.0,1038.5 1177.0,1038.9 1180.0,1039.4 1183.0,1040.0 1186.0,1040.6 1189.0,1041.3 1192.0,1042.1 1195.0,1043.0 1198.0,1043.9 1201.0,1044.9 1204.0,1046.0 1207.0,1047.1 1210.0,1048.3 1213.0,1049.5 1216.0,1050.8 1219.0,1052.2 1222.0,1053.6 1225.0,1055.0 1228.0,1056.5 1231.0,1058.1 1234.0,1059.7 1237.0,1061.3 1240.0,1063.0 1243.0,1064.8 1246.0,1066.5 1249.0,1068.3 1252.0,1070.2 1255.0,1072.1 1258.0,1074.0 1261.0,1076.0 1264.0,1078.0 1267.0,1080.0 1270.0,1082.1 1273.0,1084.2 1276.0,1086.3 1279.0,1088.5 1282.0,1090.7 1285.0,1092.9 1288.0,1095.2 1291.0,1097.5 1294.0,1099.7 1297.0,1102.0 1300.0,1104.3 1303.0,1106.6 1306.0,1108.9 1309.0,1111.2 1312.0,1113.5 1315.0,1115.8 1318.0,1118.1 1321.0,1120.3 1324.0,1122.5 1327.0,1124.7 1330.0,1126.9 1333.0,1129.1 1336.0,1131.2 1339.0,1133.3 1342.0,1135.4 1345.0,1137.4 1348.0,1139.4 1351.0,1141.4 1354.0,1143.3 1357.0,1145.2 1360.0,1147.1 1363.0,1148.9 1366.0,1150.6 1369.0,1152.3 1372.0,1154.0 1375.0,1155.7 1378.0,1157.3 1381.0,1158.8 1384.0,1160.3 1387.0,1161.8 1390.0,1163.3 1393.0,1164.6 1396.0,1166.0 1399.0,1167.3 1402.0,1168.6 1405.0,1169.8 1408.0,1171.0 1411.0,1172.1 1414.0,1173.2 1417.0,1174.3 1420.0,1175.3 1423.0,1176.3 1426.0,1177.3 1429.0,1178.2 1432.0,1179.1 1435.0,1180.0 1438.0,1180.8 1441.0,1181.6 1444.0,1182.3 1447.0,1183.1 1450.0,1183.8 1453.0,1184.4 1456.0,1185.1 1459.0,1185.7 1462.0,1186.3 1465.0,1186.9 1468.0,1187.4 1471.0,1188.0 1474.0,1188.5 1477.0,1189.0 1480.0,1189.5 1483.0,1189.9 1486.0,1190.4 1489.0,1190.8 1492.0,1191.2 1495.0,1191.6 1498.0,1192.0 1501.0,1192.4 1504.0,1192.8 1507.0,1193.1 1510.0,1193.4 1513.0,1193.8 1516.0,1194.1 1519.0,1194.4 1522.0,1194.7 1525.0,1194.9 1528.0,1195.2 1531.0,1195.5 1534.0,1195.7 1537.0,1195.9 1540.0,1196.2 1543.0,1196.4 1546.0,1196.6 1549.0,1196.8 1552.0,1197.0 1555.0,1197.2 1558.0,1197.4 1561.0,1197.6 1564.0,1197.7 1567.0,1197.9 1570.0,1198.0 1573.0,1198.2 1576.0,1198.3 1579.0,1198.5 1582.0,1198.6 1585.0,1198.8 1588.0,1198.9 1591.0,1199.0 1594.0,1199.2 1597.0,1199.3 1600.0,1199.4 1603.0,1199.5 1606.0,1199.6 1609.0,1199.7 1612.0,1199.8 1615.0,1199.9 1618.0,1200.0 1621.0,1200.1 1624.0,1200.2 1627.0,1200.3 1630.0,1200.4 1633.0,1200.5 1636.0,1200.6 1639.0,1200.7 1642.0,1200.8 1645.0,1200.8 1648.0,1200.9 1651.0,1201.0 1654.0,1201.1 1657.0,1201.2 1660.0,1201.2 1663.0,1201.3 1666.0,1201.4 1669.0,1201.4 1672.0,1201.5 1675.0,1201.6 1678.0,1201.7 1681.0,1201.7 1684.0,1201.8 1687.0,1201.8 1690.0,1201.9 1693.0,1202.0 1696.0,1202.0 1699.0,1202.1 1702.0,1202.2 1705.0,1202.2 1708.0,1202.3 1711.0,1202.3 1714.0,1202.4 1717.0,1202.4 1720.0,1202.5 1723.0,1202.5 1726.0,1202.6 1729.0,1202.6 1732.0,1202.7 1735.0,1202.7 1738.0,1202.8 1741.0,1202.8 1744.0,1202.8 1747.0,1202.9 1750.0,1202.9 1753.0,1203.0 1756.0,1203.0 1759.0,1203.0 1762.0,1203.1 1765.0,1203.1 1768.0,1203.1 1771.0,1203.2 1774.0,1203.2 1777.0,1203.2 1780.0,1203.3 1783.0,1203.3 1786.0,1203.3 1789.0,1203.4 1792.0,1203.4 1795.0,1203.4 1798.0,1203.4 1801.0,1203.5 1804.0,1203.5 1807.0,1203.5 1810.0,1203.5 1813.0,1203.6 1816.0,1203.6 1819.0,1203.6 1822.0,1203.6 1825.0,1203.7 1828.0,1203.7 1831.0,1203.7 1834.0,1203.7 1837.0,1203.8 1840.0,1203.8 1843.0,1203.8 1846.0,1203.8 1849.0,1203.8 1852.0,1203.9 1855.0,1203.9 1858.0,1203.9 1861.0,1203.9 1864.0,1203.9 1867.0,1204.0 1870.0,1204.0 1873.0,1204.0 1876.0,1204.0 1879.0,1204.0" fill="none" stroke="#ff0000" stroke-width="7.2" stroke-linejoin="round" stroke-linecap="round"/>
<polyline points="445.0,1205.9 448.0,1205.9 451.0,1206.0 454.0,1206.0 457.0,1206.0 460.0,1206.0 463.0,1206.0 466.0,1206.0 469.0,1206.0 472.0,1206.0 475.0,1206.0 478.0,1206.0 481.0,1206.0 484.0,1206.0 487.0,1206.0 490.0,1206.0 493.0,1206.0 496.0,1206.0 499.0,1206.0 502.0,1206.0 505.0,1206.0 508.0,1206.1 511.0,1206.1 514.0,1206.1 517.0,1206.1 520.0,1206.1 523.0,1206.1 526.0,1206.1 529.0,1206.1 532.0,1206.1 535.0,1206.1 538.0,1206.1 541.0,1206.1 544.0,1206.1 547.0,1206.1 550.0,1206.1 553.0,1206.1 556.0,1206.1 559.0,1206.1 562.0,1206.2 565.0,1206.2 568.0,1206.2 571.0,1206.2 574.0,1206.2 577.0,1206.2 580.0,1206.2 583.0,1206.2 586.0,1206.2 589.0,1206.2 592.0,1206.2 595.0,1206.2 598.0,1206.2 601.0,1206.2 604.0,1206.2 607.0,1206.2 610.0,1206.3 613.0,1206.3 616.0,1206.3 619.0,1206.3 622.0,1206.3 625.0,1206.3 628.0,1206.3 631.0,1206.3 634.0,1206.3 637.0,1206.3 640.0,1206.3 643.0,1206.3 646.0,1206.3 649.0,1206.3 652.0,1206.3 655.0,1206.4 658.0,1206.4 661.0,1206.4 664.0,1206.4 667.0,1206.4 670.0,1206.4 673.0,1206.4 676.0,1206.4 679.0,1206.4 682.0,1206.4 685.0,1206.4 688.0,1206.4 691.0,1206.4 694.0,1206.4 697.0,1206.5 700.0,1206.5 703.0,1206.5 706.0,1206.5 709.0,1206.5 712.0,1206.5 715.0,1206.5 718.0,1206.5 721.0,1206.5 724.0,1206.5 727.0,1206.5 730.0,1206.5 733.0,1206.5 736.0,1206.5 739.0,1206.6 742.0,1206.6 745.0,1206.6 748.0,1206.6 751.0,1206.6 754.0,1206.6 757.0,1206.6 760.0,1206.6 763.0,1206.6 766.0,1206.6 769.0,1206.6 772.0,1206.6 775.0,1206.6 778.0,1206.6 781.0,1206.7 784.0,1206.7 787.0,1206.7 790.0,1206.7 793.0,1206.7 796.0,1206.7 799.0,1206.7 802.0,1206.7 805.0,1206.7 808.0,1206.7 811.0,1206.7 814.0,1206.7 817.0,1206.7 820.0,1206.8 823.0,1206.8 826.0,1206.8 829.0,1206.8 832.0,1206.8 835.0,1206.8 838.0,1206.8 841.0,1206.8 844.0,1206.8 847.0,1206.8 850.0,1206.8 853.0,1206.9 856.0,1206.9 859.0,1206.9 862.0,1206.9 865.0,1206.9 868.0,1206.9 871.0,1206.9 874.0,1206.9 877.0,1206.9 880.0,1206.9 883.0,1206.9 886.0,1206.9 889.0,1206.9 892.0,1206.9 895.0,1206.9 898.0,1206.9 901.0,1206.9 904.0,1206.9 907.0,1206.9 910.0,1206.9 913.0,1206.9 916.0,1206.9 919.0,1206.9 922.0,1206.9 925.0,1206.9 928.0,1206.9 931.0,1206.9 934.0,1206.9 937.0,1206.8 940.0,1206.8 943.0,1206.8 946.0,1206.7 949.0,1206.7 952.0,1206.7 955.0,1206.6 958.0,1206.6 961.0,1206.5 964.0,1206.5 967.0,1206.4 970.0,1206.3 973.0,1206.3 976.0,1206.2 979.0,1206.1 982.0,1206.0 985.0,1205.9 988.0,1205.8 991.0,1205.6 994.0,1205.5 997.0,1205.3 1000.0,1205.2 1003.0,1205.0 1006.0,1204.8 1009.0,1204.7 1012.0,1204.5 1015.0,1204.2 1018.0,1204.0 1021.0,1203.8 1024.0,1203.5 1027.0,1203.2 1030.0,1202.9 1033.0,1202.6 1036.0,1202.3 1039.0,1202.0 1042.0,1201.6 1045.0,1201.2 1048.0,1200.8 1051.0,1200.4 1054.0,1199.9 1057.0,1199.5 1060.0,1199.0 1063.0,1198.5 1066.0,1197.9 1069.0,1197.4 1072.0,1196.8 1075.0,1196.2 1078.0,1195.6 1081.0,1194.9 1084.0,1194.2 1087.0,1193.5 1090.0,1192.8 1093.0,1192.1 1096.0,1191.3 1099.0,1190.5 1102.0,1189.6 1105.0,1188.8 1108.0,1187.9 1111.0,1187.0 1114.0,1186.1 1117.0,1185.1 1120.0,1184.2 1123.0,1183.2 1126.0,1182.2 1129.0,1181.2 1132.0,1180.1 1135.0,1179.1 1138.0,1178.0 1141.0,1176.9 1144.0,1175.8 1147.0,1174.7 1150.0,1173.5 1153.0,1172.4 1156.0,1171.3 1159.0,1170.1 1162.0,1169.0 1165.0,1167.8 1168.0,1166.7 1171.0,1165.6 1174.0,1164.4 1177.0,1163.3 1180.0,1162.2 1183.0,1161.1 1186.0,1160.0 1189.0,1158.9 1192.0,1157.9 1195.0,1156.9 1198.0,1155.9 1201.0,1154.9 1204.0,1154.0 1207.0,1153.1 1210.0,1152.2 1213.0,1151.3 1216.0,1150.5 1219.0,1149.8 1222.0,1149.1 1225.0,1148.4 1228.0,1147.8 1231.0,1147.2 1234.0,1146.7 1237.0,1146.2 1240.0,1145.8 1243.0,1145.4 1246.0,1145.1 1249.0,1144.8 1252.0,1144.6 1255.0,1144.5 1258.0,1144.4 1261.0,1144.4 1264.0,1144.4 1267.0,1144.5 1270.0,1144.7 1273.0,1145.0 1276.0,1145.3 1279.0,1145.7 1282.0,1146.1 1285.0,1146.6 1288.0,1147.2 1291.0,1147.8 1294.0,1148.4 1297.0,1149.2 1300.0,1149.9 1303.0,1150.7 1306.0,1151.6 1309.0,1152.5 1312.0,1153.4 1315.0,1154.3 1318.0,1155.3 1321.0,1156.3 1324.0,1157.3 1327.0,1158.3 1330.0,1159.4 1333.0,1160.4 1336.0,1161.5 1339.0,1162.6 1342.0,1163.6 1345.0,1164.7 1348.0,1165.8 1351.0,1166.9 1354.0,1167.9 1357.0,1169.0 1360.0,1170.1 1363.0,1171.1 1366.0,1172.1 1369.0,1173.2 1372.0,1174.2 1375.0,1175.2 1378.0,1176.2 1381.0,1177.1 1384.0,1178.1 1387.0,1179.0 1390.0,1179.9 1393.0,1180.8 1396.0,1181.7 1399.0,1182.6 1402.0,1183.4 1405.0,1184.2 1408.0,1185.0 1411.0,1185.8 1414.0,1186.6 1417.0,1187.3 1420.0,1188.0 1423.0,1188.7 1426.0,1189.4 1429.0,1190.1 1432.0,1190.7 1435.0,1191.3 1438.0,1191.9 1441.0,1192.5 1444.0,1193.1 1447.0,1193.6 1450.0,1194.1 1453.0,1194.6 1456.0,1195.1 1459.0,1195.6 1462.0,1196.0 1465.0,1196.4 1468.0,1196.9 1471.0,1197.3 1474.0,1197.6 1477.0,1198.0 1480.0,1198.4 1483.0,1198.7 1486.0,1199.0 1489.0,1199.3 1492.0,1199.6 1495.0,1199.9 1498.0,1200.2 1501.0,1200.5 1504.0,1200.7 1507.0,1200.9 1510.0,1201.2 1513.0,1201.4 1516.0,1201.6 1519.0,1201.8 1522.0,1202.0 1525.0,1202.2 1528.0,1202.4 1531.0,1202.5 1534.0,1202.7 1537.0,1202.8 1540.0,1203.0 1543.0,1203.1 1546.0,1203.3 1549.0,1203.4 1552.0,1203.5 1555.0,1203.6 1558.0,1203.7 1561.0,1203.8 1564.0,1204.0 1567.0,1204.1 1570.0,1204.2 1573.0,1204.2 1576.0,1204.3 1579.0,1204.4 1582.0,1204.5 1585.0,1204.6 1588.0,1204.7 1591.0,1204.7 1594.0,1204.8 1597.0,1204.9 1600.0,1204.9 1603.0,1205.0 1606.0,1205.1 1609.0,1205.1 1612.0,1205.2 1615.0,1205.2 1618.0,1205.3 1621.0,1205.3 1624.0,1205.4 1627.0,1205.4 1630.0,1205.5 1633.0,1205.5 1636.0,1205.6 1639.0,1205.6 1642.0,1205.7 1645.0,1205.7 1648.0,1205.8 1651.0,1205.8 1654.0,1205.8 1657.0,1205.9 1660.0,1205.9 1663.0,1206.0 1666.0,1206.0 1669.0,1206.0 1672.0,1206.1 1675.0,1206.1 1678.0,1206.1 1681.0,1206.2 1684.0,1206.2 1687.0,1206.2 1690.0,1206.2 1693.0,1206.3 1696.0,1206.3 1699.0,1206.3 1702.0,1206.4 1705.0,1206.4 1708.0,1206.4 1711.0,1206.4 1714.0,1206.5 1717.0,1206.5 1720.0,1206.5 1723.0,1206.5 1726.0,1206.5 1729.0,1206.6 1732.0,1206.6 1735.0,1206.6 1738.0,1206.6 1741.0,1206.6 1744.0,1206.6 1747.0,1206.7 1750.0,1206.7 1753.0,1206.7 1756.0,1206.7 1759.0,1206.7 1762.0,1206.7 1765.0,1206.7 1768.0,1206.7 1771.0,1206.7 1774.0,1206.7 1777.0,1206.7 1780.0,1206.7 1783.0,1206.8 1786.0,1206.8 1789.0,1206.8 1792.0,1206.8 1795.0,1206.8 1798.0,1206.8 1801.0,1206.8 1804.0,1206.8 1807.0,1206.8 1810.0,1206.8 1813.0,1206.8 1816.0,1206.8 1819.0,1206.8 1822.0,1206.8 1825.0,1206.8 1828.0,1206.8 1831.0,1206.8 1834.0,1206.8 1837.0,1206.8 1840.0,1206.8 1843.0,1206.8 1846.0,1206.8 1849.0,1206.7 1852.0,1206.7 1855.0,1206.7 1858.0,1206.7 1861.0,1206.7 1864.0,1206.7 1867.0,1206.7 1870.0,1206.7 1873.0,1206.7 1876.0,1206.7 1879.0,1206.7" fill="none" stroke="#008000" stroke-width="7.2" stroke-linejoin="round" stroke-linecap="round"/>
<polyline points="505.6,1440.7 508.0,1440.7 511.0,1440.7 514.0,1440.7 517.0,1440.7 520.0,1440.7 523.0,1440.7 526.0,1440.7 529.0,1440.7 532.0,1440.8 535.0,1440.8 538.0,1440.8 541.0,1440.8 544.0,1440.8 547.0,1440.8 550.0,1440.8 553.0,1440.8 556.0,1440.8 559.0,1440.8 562.0,1440.9 565.0,1440.9 568.0,1440.9 571.0,1440.9 574.0,1440.9 577.0,1440.9 580.0,1440.9 583.0,1441.0 586.0,1441.0 589.0,1441.0 592.0,1441.0 595.0,1441.0 598.0,1441.0 601.0,1441.0 604.0,1441.1 607.0,1441.1 610.0,1441.1 613.0,1441.1 616.0,1441.1 619.0,1441.1 622.0,1441.2 625.0,1441.2 628.0,1441.2 631.0,1441.2 634.0,1441.2 637.0,1441.2 640.0,1441.3 643.0,1441.3 646.0,1441.3 649.0,1441.3 652.0,1441.3 655.0,1441.4 658.0,1441.4 661.0,1441.4 664.0,1441.4 667.0,1441.4 670.0,1441.4 673.0,1441.5 676.0,1441.5 679.0,1441.5 682.0,1441.5 685.0,1441.5 688.0,1441.5 691.0,1441.6 694.0,1441.6 697.0,1441.6 700.0,1441.6 703.0,1441.6 706.0,1441.6 709.0,1441.7 712.0,1441.7 715.0,1441.7 718.0,1441.7 721.0,1441.7 724.0,1441.7 727.0,1441.8 730.0,1441.8 733.0,1441.8 736.0,1441.8 739.0,1441.8 742.0,1441.8 745.0,1441.8 748.0,1441.8 751.0,1441.9 754.0,1441.9 757.0,1441.9 760.0,1441.9 763.0,1441.9 766.0,1441.9 769.0,1441.9 772.0,1441.9 775.0,1441.9 778.0,1442.0 781.0,1442.0 784.0,1442.0 787.0,1442.0 790.0,1442.0 793.0,1442.0 796.0,1442.0 799.0,1442.0 802.0,1442.0 805.0,1442.0 808.0,1442.0 811.0,1442.0 814.0,1442.0 817.0,1442.0 820.0,1442.0 823.0,1442.0 826.0,1442.0 829.0,1442.0 832.0,1442.0 835.0,1442.1 838.0,1442.1 841.0,1442.1 844.0,1442.1 847.0,1442.1 850.0,1442.1 853.0,1442.1 856.0,1442.1 859.0,1442.1 862.0,1442.1 865.0,1442.1 868.0,1442.1 871.0,1442.1 874.0,1442.1 877.0,1442.1 880.0,1442.1 883.0,1442.1 886.0,1442.1 889.0,1442.1 892.0,1442.1 895.0,1442.1 898.0,1442.1 901.0,1442.1 904.0,1442.1 907.0,1442.2 910.0,1442.2 913.0,1442.2 916.0,1442.2 919.0,1442.2 922.0,1442.2 925.0,1442.2 928.0,1442.2 931.0,1442.2 934.0,1442.2 937.0,1442.2 940.0,1442.2 943.0,1442.2 946.0,1442.2 949.0,1442.2 952.0,1442.2 955.0,1442.2 958.0,1442.2 961.0,1442.2 964.0,1442.2 967.0,1442.2 970.0,1442.2 973.0,1442.2 976.0,1442.2 979.0,1442.2 982.0,1442.2 985.0,1442.2 988.0,1442.3 991.0,1442.3 994.0,1442.3 997.0,1442.3 1000.0,1442.3 1003.0,1442.3 1006.0,1442.3 1009.0,1442.3 1012.0,1442.3 1015.0,1442.3 1018.0,1442.3 1021.0,1442.3 1024.0,1442.3 1027.0,1442.3 1030.0,1442.3 1033.0,1442.3 1036.0,1442.3 1039.0,1442.3 1042.0,1442.3 1045.0,1442.3 1048.0,1442.3 1051.0,1442.3 1054.0,1442.3 1057.0,1442.3 1060.0,1442.3 1063.0,1442.3 1066.0,1442.3 1069.0,1442.3 1072.0,1442.3 1075.0,1442.3 1078.0,1442.3 1081.0,1442.3 1084.0,1442.3 1087.0,1442.4 1090.0,1442.4 1093.0,1442.4 1096.0,1442.4 1099.0,1442.4 1102.0,1442.4 1105.0,1442.4 1108.0,1442.4 1111.0,1442.4 1114.0,1442.4 1117.0,1442.4 1120.0,1442.4 1123.0,1442.4 1126.0,1442.4 1129.0,1442.4 1132.0,1442.4 1135.0,1442.4 1138.0,1442.4 1141.0,1442.4 1144.0,1442.4 1147.0,1442.4 1150.0,1442.4 1153.0,1442.4 1156.0,1442.4 1159.0,1442.4 1162.0,1442.4 1165.0,1442.4 1168.0,1442.4 1171.0,1442.4 1174.0,1442.4 1177.0,1442.4 1180.0,1442.4 1183.0,1442.4 1186.0,1442.4 1189.0,1442.4 1192.0,1442.4 1195.0,1442.4 1198.0,1442.4 1201.0,1442.4 1204.0,1442.4 1207.0,1442.4 1210.0,1442.4 1213.0,1442.4 1216.0,1442.4 1219.0,1442.4 1222.0,1442.5 1225.0,1442.5 1228.0,1442.5 1231.0,1442.5 1234.0,1442.5 1237.0,1442.5 1240.0,1442.5 1243.0,1442.5 1246.0,1442.5 1249.0,1442.5 1252.0,1442.5 1255.0,1442.5 1258.0,1442.5 1261.0,1442.5 1264.0,1442.5 1267.0,1442.5 1270.0,1442.5 1273.0,1442.5 1276.0,1442.5 1279.0,1442.5 1282.0,1442.5 1285.0,1442.5 1288.0,1442.5 1291.0,1442.5 1294.0,1442.5 1297.0,1442.5 1300.0,1442.5 1303.0,1442.5 1306.0,1442.5 1309.0,1442.5 1312.0,1442.5 1315.0,1442.5 1318.0,1442.5 1321.0,1442.5 1324.0,1442.5 1327.0,1442.5 1330.0,1442.5 1333.0,1442.5 1336.0,1442.5 1339.0,1442.5 1342.0,1442.5 1345.0,1442.5 1348.0,1442.5 1351.0,1442.5 1354.0,1442.5 1357.0,1442.5 1360.0,1442.5 1363.0,1442.5 1366.0,1442.5 1369.0,1442.5 1372.0,1442.5 1375.0,1442.5 1378.0,1442.5 1381.0,1442.5 1384.0,1442.5 1387.0,1442.5 1390.0,1442.5 1393.0,1442.5 1396.0,1442.5 1399.0,1442.5 1402.0,1442.5 1405.0,1442.5 1408.0,1442.5 1411.0,1442.5 1414.0,1442.5 1417.0,1442.5 1420.0,1442.5 1423.0,1442.5 1426.0,1442.5 1429.0,1442.5 1432.0,1442.5 1435.0,1442.5 1438.0,1442.5 1441.0,1442.5 1444.0,1442.5 1447.0,1442.5 1450.0,1442.5 1453.0,1442.5 1456.0,1442.5 1459.0,1442.5 1462.0,1442.5 1465.0,1442.5 1468.0,1442.5 1471.0,1442.5 1474.0,1442.5 1477.0,1442.5 1480.0,1442.5 1483.0,1442.5 1486.0,1442.5 1489.0,1442.5 1492.0,1442.5 1495.0,1442.5 1498.0,1442.5 1501.0,1442.5 1504.0,1442.5 1507.0,1442.5 1510.0,1442.5 1513.0,1442.5 1516.0,1442.5 1519.0,1442.5 1522.0,1442.5 1525.0,1442.5 1528.0,1442.5 1531.0,1442.5 1534.0,1442.5 1537.0,1442.5 1540.0,1442.5 1543.0,1442.5 1546.0,1442.5 1549.0,1442.5 1552.0,1442.5 1555.0,1442.5 1558.0,1442.5 1561.0,1442.5 1564.0,1442.5 1567.0,1442.5 1570.0,1442.5 1573.0,1442.5 1576.0,1442.5 1579.0,1442.5 1582.0,1442.5 1585.0,1442.5 1588.0,1442.5 1591.0,1442.5 1594.0,1442.5 1597.0,1442.5 1600.0,1442.5 1603.0,1442.5 1606.0,1442.5 1609.0,1442.5 1612.0,1442.5 1615.0,1442.5 1618.0,1442.5 1621.0,1442.5 1624.0,1442.5 1627.0,1442.5 1630.0,1442.5 1633.0,1442.5 1636.0,1442.5 1639.0,1442.5 1642.0,1442.5 1645.0,1442.5 1648.0,1442.5 1651.0,1442.5 1654.0,1442.5 1657.0,1442.5 1660.0,1442.5 1663.0,1442.5 1666.0,1442.5 1669.0,1442.5 1672.0,1442.5 1675.0,1442.5 1678.0,1442.5 1681.0,1442.5 1684.0,1442.5 1687.0,1442.5 1690.0,1442.5 1693.0,1442.5 1696.0,1442.5 1699.0,1442.5 1702.0,1442.5 1705.0,1442.5 1708.0,1442.5 1711.0,1442.5 1714.0,1442.5 1717.0,1442.5 1720.0,1442.5 1723.0,1442.5 1726.0,1442.5 1729.0,1442.5 1732.0,1442.5 1735.0,1442.5 1738.0,1442.5 1741.0,1442.5 1744.0,1442.5 1747.0,1442.5 1750.0,1442.5 1753.0,1442.5 1756.0,1442.5 1759.0,1442.5 1762.0,1442.5 1765.0,1442.5 1768.0,1442.5 1771.0,1442.5 1774.0,1442.5 1777.0,1442.5 1780.0,1442.5 1783.0,1442.5 1786.0,1442.5 1789.0,1442.5 1792.0,1442.5 1795.0,1442.5 1798.0,1442.5 1801.0,1442.5 1804.0,1442.5 1807.0,1442.5 1810.0,1442.5 1813.0,1442.5 1816.0,1442.5 1819.0,1442.5 1822.0,1442.5 1825.0,1442.5 1828.0,1442.5 1831.0,1442.5 1834.0,1442.5 1837.0,1442.5 1840.0,1442.5 1843.0,1442.5 1846.0,1442.5 1849.0,1442.5 1852.0,1442.5 1855.0,1442.5 1858.0,1442.5 1861.0,1442.5 1864.0,1442.5 1867.0,1442.5 1870.0,1442.5 1873.0,1442.5 1876.0,1442.5 1879.0,1442.5" fill="none" stroke="#00ff00" stroke-width="6.2" stroke-linejoin="round" stroke-linecap="round"/>
<polyline points="505.6,1440.0 508.0,1440.0 511.0,1440.0 514.0,1440.0 517.0,1440.0 520.0,1440.0 523.0,1440.0 526.0,1440.0 529.0,1440.0 532.0,1440.0 535.0,1440.0 538.0,1440.0 541.0,1440.0 544.0,1440.0 547.0,1440.0 550.0,1440.0 553.0,1440.0 556.0,1440.0 559.0,1440.1 562.0,1440.1 565.0,1440.1 568.0,1440.1 571.0,1440.1 574.0,1440.1 577.0,1440.1 580.0,1440.1 583.0,1440.1 586.0,1440.2 589.0,1440.2 592.0,1440.2 595.0,1440.2 598.0,1440.2 601.0,1440.2 604.0,1440.2 607.0,1440.2 610.0,1440.3 613.0,1440.3 616.0,1440.3 619.0,1440.3 622.0,1440.3 625.0,1440.3 628.0,1440.3 631.0,1440.4 634.0,1440.4 637.0,1440.4 640.0,1440.4 643.0,1440.4 646.0,1440.4 649.0,1440.4 652.0,1440.5 655.0,1440.5 658.0,1440.5 661.0,1440.5 664.0,1440.5 667.0,1440.5 670.0,1440.5 673.0,1440.6 676.0,1440.6 679.0,1440.6 682.0,1440.6 685.0,1440.6 688.0,1440.6 691.0,1440.6 694.0,1440.6 697.0,1440.7 700.0,1440.7 703.0,1440.7 706.0,1440.7 709.0,1440.7 712.0,1440.7 715.0,1440.7 718.0,1440.7 721.0,1440.7 724.0,1440.8 727.0,1440.8 730.0,1440.8 733.0,1440.8 736.0,1440.8 739.0,1440.8 742.0,1440.8 745.0,1440.8 748.0,1440.8 751.0,1440.8 754.0,1440.8 757.0,1440.8 760.0,1440.8 763.0,1440.8 766.0,1440.8 769.0,1440.9 772.0,1440.9 775.0,1440.9 778.0,1440.9 781.0,1440.9 784.0,1440.9 787.0,1440.9 790.0,1440.9 793.0,1440.9 796.0,1440.9 799.0,1440.9 802.0,1440.8 805.0,1440.8 808.0,1440.8 811.0,1440.8 814.0,1440.8 817.0,1440.8 820.0,1440.8 823.0,1440.8 826.0,1440.8 829.0,1440.8 832.0,1440.8 835.0,1440.8 838.0,1440.8 841.0,1440.8 844.0,1440.8 847.0,1440.8 850.0,1440.8 853.0,1440.8 856.0,1440.7 859.0,1440.7 862.0,1440.7 865.0,1440.7 868.0,1440.7 871.0,1440.7 874.0,1440.7 877.0,1440.7 880.0,1440.7 883.0,1440.6 886.0,1440.6 889.0,1440.6 892.0,1440.6 895.0,1440.6 898.0,1440.6 901.0,1440.6 904.0,1440.5 907.0,1440.5 910.0,1440.5 913.0,1440.5 916.0,1440.4 919.0,1440.4 922.0,1440.4 925.0,1440.4 928.0,1440.3 931.0,1440.3 934.0,1440.2 937.0,1440.2 940.0,1440.2 943.0,1440.1 946.0,1440.1 949.0,1440.0 952.0,1440.0 955.0,1439.9 958.0,1439.8 961.0,1439.8 964.0,1439.7 967.0,1439.6 970.0,1439.5 973.0,1439.4 976.0,1439.3 979.0,1439.2 982.0,1439.1 985.0,1439.0 988.0,1438.9 991.0,1438.7 994.0,1438.6 997.0,1438.4 1000.0,1438.2 1003.0,1438.1 1006.0,1437.9 1009.0,1437.7 1012.0,1437.4 1015.0,1437.2 1018.0,1437.0 1021.0,1436.7 1024.0,1436.4 1027.0,1436.1 1030.0,1435.8 1033.0,1435.5 1036.0,1435.2 1039.0,1434.8 1042.0,1434.4 1045.0,1434.0 1048.0,1433.6 1051.0,1433.1 1054.0,1432.6 1057.0,1432.1 1060.0,1431.6 1063.0,1431.1 1066.0,1430.5 1069.0,1429.9 1072.0,1429.3 1075.0,1428.6 1078.0,1427.9 1081.0,1427.2 1084.0,1426.5 1087.0,1425.7 1090.0,1424.9 1093.0,1424.1 1096.0,1423.2 1099.0,1422.3 1102.0,1421.4 1105.0,1420.5 1108.0,1419.5 1111.0,1418.5 1114.0,1417.5 1117.0,1416.4 1120.0,1415.3 1123.0,1414.2 1126.0,1413.1 1129.0,1411.9 1132.0,1410.7 1135.0,1409.5 1138.0,1408.3 1141.0,1407.0 1144.0,1405.7 1147.0,1404.5 1150.0,1403.1 1153.0,1401.8 1156.0,1400.5 1159.0,1399.2 1162.0,1397.8 1165.0,1396.5 1168.0,1395.1 1171.0,1393.8 1174.0,1392.4 1177.0,1391.1 1180.0,1389.7 1183.0,1388.4 1186.0,1387.1 1189.0,1385.8 1192.0,1384.5 1195.0,1383.3 1198.0,1382.0 1201.0,1380.8 1204.0,1379.7 1207.0,1378.5 1210.0,1377.4 1213.0,1376.4 1216.0,1375.4 1219.0,1374.4 1222.0,1373.5 1225.0,1372.7 1228.0,1371.9 1231.0,1371.1 1234.0,1370.4 1237.0,1369.8 1240.0,1369.3 1243.0,1368.8 1246.0,1368.4 1249.0,1368.1 1252.0,1367.8 1255.0,1367.6 1258.0,1367.5 1261.0,1367.5 1264.0,1367.5 1267.0,1367.6 1270.0,1367.9 1273.0,1368.1 1276.0,1368.5 1279.0,1369.0 1282.0,1369.5 1285.0,1370.1 1288.0,1370.8 1291.0,1371.5 1294.0,1372.3 1297.0,1373.2 1300.0,1374.1 1303.0,1375.0 1306.0,1376.0 1309.0,1377.1 1312.0,1378.1 1315.0,1379.3 1318.0,1380.4 1321.0,1381.6 1324.0,1382.7 1327.0,1384.0 1330.0,1385.2 1333.0,1386.4 1336.0,1387.6 1339.0,1388.9 1342.0,1390.1 1345.0,1391.4 1348.0,1392.6 1351.0,1393.8 1354.0,1395.0 1357.0,1396.3 1360.0,1397.5 1363.0,1398.7 1366.0,1399.8 1369.0,1401.0 1372.0,1402.1 1375.0,1403.3 1378.0,1404.4 1381.0,1405.5 1384.0,1406.5 1387.0,1407.6 1390.0,1408.6 1393.0,1409.6 1396.0,1410.6 1399.0,1411.6 1402.0,1412.5 1405.0,1413.4 1408.0,1414.3 1411.0,1415.2 1414.0,1416.0 1417.0,1416.9 1420.0,1417.7 1423.0,1418.4 1426.0,1419.2 1429.0,1419.9 1432.0,1420.6 1435.0,1421.3 1438.0,1422.0 1441.0,1422.6 1444.0,1423.2 1447.0,1423.8 1450.0,1424.4 1453.0,1425.0 1456.0,1425.5 1459.0,1426.1 1462.0,1426.6 1465.0,1427.0 1468.0,1427.5 1471.0,1428.0 1474.0,1428.4 1477.0,1428.8 1480.0,1429.2 1483.0,1429.6 1486.0,1430.0 1489.0,1430.3 1492.0,1430.7 1495.0,1431.0 1498.0,1431.3 1501.0,1431.6 1504.0,1431.9 1507.0,1432.2 1510.0,1432.4 1513.0,1432.7 1516.0,1432.9 1519.0,1433.2 1522.0,1433.4 1525.0,1433.6 1528.0,1433.8 1531.0,1434.0 1534.0,1434.2 1537.0,1434.4 1540.0,1434.6 1543.0,1434.8 1546.0,1434.9 1549.0,1435.1 1552.0,1435.2 1555.0,1435.4 1558.0,1435.5 1561.0,1435.7 1564.0,1435.8 1567.0,1435.9 1570.0,1436.1 1573.0,1436.2 1576.0,1436.3 1579.0,1436.4 1582.0,1436.5 1585.0,1436.6 1588.0,1436.7 1591.0,1436.8 1594.0,1436.9 1597.0,1437.0 1600.0,1437.1 1603.0,1437.2 1606.0,1437.2 1609.0,1437.3 1612.0,1437.4 1615.0,1437.5 1618.0,1437.5 1621.0,1437.6 1624.0,1437.7 1627.0,1437.8 1630.0,1437.8 1633.0,1437.9 1636.0,1437.9 1639.0,1438.0 1642.0,1438.1 1645.0,1438.1 1648.0,1438.2 1651.0,1438.2 1654.0,1438.3 1657.0,1438.3 1660.0,1438.4 1663.0,1438.4 1666.0,1438.5 1669.0,1438.5 1672.0,1438.6 1675.0,1438.6 1678.0,1438.7 1681.0,1438.7 1684.0,1438.8 1687.0,1438.8 1690.0,1438.9 1693.0,1438.9 1696.0,1438.9 1699.0,1439.0 1702.0,1439.0 1705.0,1439.0 1708.0,1439.1 1711.0,1439.1 1714.0,1439.2 1717.0,1439.2 1720.0,1439.2 1723.0,1439.3 1726.0,1439.3 1729.0,1439.3 1732.0,1439.4 1735.0,1439.4 1738.0,1439.4 1741.0,1439.5 1744.0,1439.5 1747.0,1439.5 1750.0,1439.5 1753.0,1439.6 1756.0,1439.6 1759.0,1439.6 1762.0,1439.7 1765.0,1439.7 1768.0,1439.7 1771.0,1439.7 1774.0,1439.8 1777.0,1439.8 1780.0,1439.8 1783.0,1439.8 1786.0,1439.9 1789.0,1439.9 1792.0,1439.9 1795.0,1439.9 1798.0,1439.9 1801.0,1440.0 1804.0,1440.0 1807.0,1440.0 1810.0,1440.0 1813.0,1440.0 1816.0,1440.1 1819.0,1440.1 1822.0,1440.1 1825.0,1440.1 1828.0,1440.1 1831.0,1440.2 1834.0,1440.2 1837.0,1440.2 1840.0,1440.2 1843.0,1440.2 1846.0,1440.3 1849.0,1440.3 1852.0,1440.3 1855.0,1440.3 1858.0,1440.3 1861.0,1440.3 1864.0,1440.4 1867.0,1440.4 1870.0,1440.4 1873.0,1440.4 1876.0,1440.4 1879.0,1440.4" fill="none" stroke="#008000" stroke-width="7.2" stroke-linejoin="round" stroke-linecap="round"/>
<polyline points="505.6,1440.1 508.0,1440.1 511.0,1440.1 514.0,1440.1 517.0,1440.1 520.0,1440.1 523.0,1440.1 526.0,1440.1 529.0,1440.1 532.0,1440.2 535.0,1440.2 538.0,1440.2 541.0,1440.2 544.0,1440.2 547.0,1440.2 550.0,1440.2 553.0,1440.2 556.0,1440.2 559.0,1440.2 562.0,1440.2 565.0,1440.2 568.0,1440.3 571.0,1440.3 574.0,1440.3 577.0,1440.3 580.0,1440.3 583.0,1440.3 586.0,1440.3 589.0,1440.3 592.0,1440.3 595.0,1440.4 598.0,1440.4 601.0,1440.4 604.0,1440.4 607.0,1440.4 610.0,1440.4 613.0,1440.4 616.0,1440.4 619.0,1440.4 622.0,1440.4 625.0,1440.5 628.0,1440.5 631.0,1440.5 634.0,1440.5 637.0,1440.5 640.0,1440.5 643.0,1440.5 646.0,1440.5 649.0,1440.5 652.0,1440.5 655.0,1440.5 658.0,1440.5 661.0,1440.5 664.0,1440.5 667.0,1440.5 670.0,1440.5 673.0,1440.5 676.0,1440.5 679.0,1440.5 682.0,1440.5 685.0,1440.5 688.0,1440.5 691.0,1440.5 694.0,1440.5 697.0,1440.5 700.0,1440.5 703.0,1440.4 706.0,1440.4 709.0,1440.4 712.0,1440.4 715.0,1440.4 718.0,1440.3 721.0,1440.3 724.0,1440.3 727.0,1440.2 730.0,1440.2 733.0,1440.2 736.0,1440.1 739.0,1440.1 742.0,1440.1 745.0,1440.0 748.0,1440.0 751.0,1439.9 754.0,1439.9 757.0,1439.8 760.0,1439.7 763.0,1439.7 766.0,1439.6 769.0,1439.5 772.0,1439.5 775.0,1439.4 778.0,1439.3 781.0,1439.2 784.0,1439.1 787.0,1439.0 790.0,1439.0 793.0,1438.9 796.0,1438.8 799.0,1438.7 802.0,1438.5 805.0,1438.4 808.0,1438.3 811.0,1438.2 814.0,1438.1 817.0,1438.0 820.0,1437.8 823.0,1437.7 826.0,1437.6 829.0,1437.5 832.0,1437.3 835.0,1437.2 838.0,1437.0 841.0,1436.9 844.0,1436.8 847.0,1436.6 850.0,1436.5 853.0,1436.3 856.0,1436.2 859.0,1436.0 862.0,1435.8 865.0,1435.7 868.0,1435.5 871.0,1435.4 874.0,1435.2 877.0,1435.0 880.0,1434.9 883.0,1434.7 886.0,1434.5 889.0,1434.4 892.0,1434.2 895.0,1434.1 898.0,1433.9 901.0,1433.7 904.0,1433.6 907.0,1433.4 910.0,1433.3 913.0,1433.1 916.0,1432.9 919.0,1432.8 922.0,1432.6 925.0,1432.5 928.0,1432.3 931.0,1432.2 934.0,1432.1 937.0,1431.9 940.0,1431.8 943.0,1431.7 946.0,1431.5 949.0,1431.4 952.0,1431.3 955.0,1431.2 958.0,1431.1 961.0,1431.0 964.0,1430.9 967.0,1430.8 970.0,1430.7 973.0,1430.7 976.0,1430.6 979.0,1430.5 982.0,1430.5 985.0,1430.4 988.0,1430.4 991.0,1430.3 994.0,1430.3 997.0,1430.3 1000.0,1430.3 1003.0,1430.3 1006.0,1430.3 1009.0,1430.3 1012.0,1430.3 1015.0,1430.3 1018.0,1430.4 1021.0,1430.4 1024.0,1430.5 1027.0,1430.5 1030.0,1430.6 1033.0,1430.7 1036.0,1430.8 1039.0,1430.9 1042.0,1431.0 1045.0,1431.2 1048.0,1431.3 1051.0,1431.4 1054.0,1431.6 1057.0,1431.7 1060.0,1431.9 1063.0,1432.0 1066.0,1432.2 1069.0,1432.4 1072.0,1432.6 1075.0,1432.7 1078.0,1432.9 1081.0,1433.1 1084.0,1433.3 1087.0,1433.5 1090.0,1433.7 1093.0,1433.9 1096.0,1434.1 1099.0,1434.3 1102.0,1434.5 1105.0,1434.7 1108.0,1434.9 1111.0,1435.1 1114.0,1435.3 1117.0,1435.5 1120.0,1435.7 1123.0,1435.9 1126.0,1436.1 1129.0,1436.3 1132.0,1436.5 1135.0,1436.7 1138.0,1436.9 1141.0,1437.1 1144.0,1437.3 1147.0,1437.4 1150.0,1437.6 1153.0,1437.8 1156.0,1438.0 1159.0,1438.1 1162.0,1438.3 1165.0,1438.4 1168.0,1438.6 1171.0,1438.7 1174.0,1438.9 1177.0,1439.0 1180.0,1439.1 1183.0,1439.3 1186.0,1439.4 1189.0,1439.5 1192.0,1439.6 1195.0,1439.7 1198.0,1439.9 1201.0,1440.0 1204.0,1440.1 1207.0,1440.2 1210.0,1440.3 1213.0,1440.3 1216.0,1440.4 1219.0,1440.5 1222.0,1440.6 1225.0,1440.7 1228.0,1440.7 1231.0,1440.8 1234.0,1440.9 1237.0,1440.9 1240.0,1441.0 1243.0,1441.0 1246.0,1441.1 1249.0,1441.1 1252.0,1441.2 1255.0,1441.2 1258.0,1441.3 1261.0,1441.3 1264.0,1441.3 1267.0,1441.4 1270.0,1441.4 1273.0,1441.4 1276.0,1441.5 1279.0,1441.5 1282.0,1441.5 1285.0,1441.6 1288.0,1441.6 1291.0,1441.6 1294.0,1441.6 1297.0,1441.6 1300.0,1441.7 1303.0,1441.7 1306.0,1441.7 1309.0,1441.7 1312.0,1441.7 1315.0,1441.7 1318.0,1441.7 1321.0,1441.8 1324.0,1441.8 1327.0,1441.8 1330.0,1441.8 1333.0,1441.8 1336.0,1441.8 1339.0,1441.8 1342.0,1441.8 1345.0,1441.8 1348.0,1441.8 1351.0,1441.8 1354.0,1441.8 1357.0,1441.8 1360.0,1441.9 1363.0,1441.9 1366.0,1441.9 1369.0,1441.9 1372.0,1441.9 1375.0,1441.9 1378.0,1441.9 1381.0,1441.9 1384.0,1441.9 1387.0,1441.9 1390.0,1441.9 1393.0,1441.9 1396.0,1441.9 1399.0,1441.9 1402.0,1441.9 1405.0,1441.9 1408.0,1441.9 1411.0,1441.9 1414.0,1441.9 1417.0,1441.9 1420.0,1441.9 1423.0,1441.9 1426.0,1441.9 1429.0,1441.9 1432.0,1441.9 1435.0,1441.9 1438.0,1441.9 1441.0,1441.9 1444.0,1441.9 1447.0,1441.9 1450.0,1441.9 1453.0,1441.9 1456.0,1441.9 1459.0,1441.9 1462.0,1441.9 1465.0,1441.9 1468.0,1441.9 1471.0,1441.9 1474.0,1441.9 1477.0,1441.9 1480.0,1441.9 1483.0,1441.9 1486.0,1441.9 1489.0,1441.9 1492.0,1441.9 1495.0,1441.9 1498.0,1441.9 1501.0,1441.9 1504.0,1441.9 1507.0,1441.9 1510.0,1441.9 1513.0,1441.9 1516.0,1441.9 1519.0,1441.9 1522.0,1441.9 1525.0,1441.9 1528.0,1441.9 1531.0,1441.9 1534.0,1441.9 1537.0,1441.9 1540.0,1441.9 1543.0,1441.9 1546.0,1441.9 1549.0,1441.9 1552.0,1441.9 1555.0,1441.9 1558.0,1441.9 1561.0,1441.9 1564.0,1441.9 1567.0,1441.9 1570.0,1442.0 1573.0,1442.0 1576.0,1442.0 1579.0,1442.0 1582.0,1442.0 1585.0,1442.0 1588.0,1442.0 1591.0,1442.0 1594.0,1442.0 1597.0,1442.0 1600.0,1442.0 1603.0,1442.0 1606.0,1442.0 1609.0,1442.0 1612.0,1442.0 1615.0,1442.0 1618.0,1442.0 1621.0,1442.0 1624.0,1442.0 1627.0,1442.0 1630.0,1442.0 1633.0,1442.0 1636.0,1442.0 1639.0,1442.0 1642.0,1442.0 1645.0,1442.0 1648.0,1442.0 1651.0,1442.0 1654.0,1442.0 1657.0,1442.0 1660.0,1442.0 1663.0,1442.0 1666.0,1442.0 1669.0,1442.0 1672.0,1442.0 1675.0,1442.0 1678.0,1442.0 1681.0,1442.0 1684.0,1442.0 1687.0,1442.0 1690.0,1442.0 1693.0,1442.0 1696.0,1442.0 1699.0,1442.0 1702.0,1442.0 1705.0,1442.0 1708.0,1442.0 1711.0,1442.0 1714.0,1442.0 1717.0,1442.0 1720.0,1442.0 1723.0,1442.0 1726.0,1442.0 1729.0,1442.0 1732.0,1442.0 1735.0,1442.0 1738.0,1442.0 1741.0,1442.0 1744.0,1442.0 1747.0,1442.0 1750.0,1442.0 1753.0,1442.0 1756.0,1442.0 1759.0,1442.0 1762.0,1442.0 1765.0,1442.0 1768.0,1442.0 1771.0,1442.0 1774.0,1442.0 1777.0,1442.0 1780.0,1442.0 1783.0,1442.0 1786.0,1442.0 1789.0,1442.0 1792.0,1442.0 1795.0,1442.0 1798.0,1442.0 1801.0,1442.0 1804.0,1442.0 1807.0,1442.0 1810.0,1442.0 1813.0,1442.0 1816.0,1442.0 1819.0,1442.0 1822.0,1442.0 1825.0,1442.0 1828.0,1442.0 1831.0,1442.0 1834.0,1442.0 1837.0,1442.0 1840.0,1442.0 1843.0,1442.0 1846.0,1442.0 1849.0,1442.0 1852.0,1442.0 1855.0,1442.0 1858.0,1442.0 1861.0,1442.0 1864.0,1442.0 1867.0,1442.0 1870.0,1442.0 1873.0,1442.0 1876.0,1442.0 1879.0,1442.0" fill="none" stroke="#8b008b" stroke-width="7.2" stroke-linejoin="round" stroke-linecap="round"/>
<polyline points="505.6,1438.5 508.0,1438.5 511.0,1438.5 514.0,1438.5 517.0,1438.5 520.0,1438.5 523.0,1438.5 526.0,1438.5 529.0,1438.4 532.0,1438.4 535.0,1438.4 538.0,1438.4 541.0,1438.4 544.0,1438.3 547.0,1438.3 550.0,1438.3 553.0,1438.2 556.0,1438.2 559.0,1438.2 562.0,1438.2 565.0,1438.1 568.0,1438.1 571.0,1438.1 574.0,1438.0 577.0,1438.0 580.0,1438.0 583.0,1437.9 586.0,1437.9 589.0,1437.8 592.0,1437.8 595.0,1437.8 598.0,1437.7 601.0,1437.7 604.0,1437.7 607.0,1437.6 610.0,1437.6 613.0,1437.5 616.0,1437.5 619.0,1437.5 622.0,1437.4 625.0,1437.4 628.0,1437.3 631.0,1437.3 634.0,1437.3 637.0,1437.2 640.0,1437.2 643.0,1437.1 646.0,1437.1 649.0,1437.1 652.0,1437.0 655.0,1437.0 658.0,1436.9 661.0,1436.9 664.0,1436.9 667.0,1436.8 670.0,1436.8 673.0,1436.7 676.0,1436.7 679.0,1436.7 682.0,1436.6 685.0,1436.6 688.0,1436.6 691.0,1436.5 694.0,1436.5 697.0,1436.4 700.0,1436.4 703.0,1436.4 706.0,1436.3 709.0,1436.3 712.0,1436.2 715.0,1436.2 718.0,1436.1 721.0,1436.1 724.0,1436.0 727.0,1436.0 730.0,1435.9 733.0,1435.8 736.0,1435.7 739.0,1435.7 742.0,1435.6 745.0,1435.5 748.0,1435.4 751.0,1435.3 754.0,1435.2 757.0,1435.1 760.0,1435.0 763.0,1434.9 766.0,1434.7 769.0,1434.6 772.0,1434.5 775.0,1434.3 778.0,1434.2 781.0,1434.0 784.0,1433.8 787.0,1433.7 790.0,1433.5 793.0,1433.3 796.0,1433.1 799.0,1432.9 802.0,1432.7 805.0,1432.4 808.0,1432.2 811.0,1432.0 814.0,1431.7 817.0,1431.5 820.0,1431.2 823.0,1430.9 826.0,1430.6 829.0,1430.3 832.0,1430.0 835.0,1429.7 838.0,1429.3 841.0,1429.0 844.0,1428.6 847.0,1428.2 850.0,1427.8 853.0,1427.4 856.0,1427.0 859.0,1426.6 862.0,1426.1 865.0,1425.7 868.0,1425.2 871.0,1424.7 874.0,1424.2 877.0,1423.6 880.0,1423.1 883.0,1422.5 886.0,1422.0 889.0,1421.4 892.0,1420.8 895.0,1420.1 898.0,1419.5 901.0,1418.8 904.0,1418.1 907.0,1417.4 910.0,1416.7 913.0,1416.0 916.0,1415.2 919.0,1414.4 922.0,1413.6 925.0,1412.8 928.0,1412.0 931.0,1411.1 934.0,1410.2 937.0,1409.3 940.0,1408.4 943.0,1407.5 946.0,1406.5 949.0,1405.5 952.0,1404.5 955.0,1403.5 958.0,1402.5 961.0,1401.4 964.0,1400.3 967.0,1399.2 970.0,1398.1 973.0,1397.0 976.0,1395.8 979.0,1394.7 982.0,1393.5 985.0,1392.3 988.0,1391.1 991.0,1389.8 994.0,1388.6 997.0,1387.3 1000.0,1386.0 1003.0,1384.7 1006.0,1383.4 1009.0,1382.1 1012.0,1380.7 1015.0,1379.4 1018.0,1378.0 1021.0,1376.7 1024.0,1375.3 1027.0,1373.9 1030.0,1372.5 1033.0,1371.1 1036.0,1369.7 1039.0,1368.3 1042.0,1366.9 1045.0,1365.5 1048.0,1364.1 1051.0,1362.6 1054.0,1361.2 1057.0,1359.8 1060.0,1358.4 1063.0,1356.9 1066.0,1355.5 1069.0,1354.1 1072.0,1352.7 1075.0,1351.2 1078.0,1349.8 1081.0,1348.4 1084.0,1347.0 1087.0,1345.6 1090.0,1344.2 1093.0,1342.9 1096.0,1341.5 1099.0,1340.2 1102.0,1338.8 1105.0,1337.5 1108.0,1336.2 1111.0,1334.9 1114.0,1333.6 1117.0,1332.4 1120.0,1331.1 1123.0,1329.9 1126.0,1328.7 1129.0,1327.6 1132.0,1326.5 1135.0,1325.3 1138.0,1324.3 1141.0,1323.2 1144.0,1322.3 1147.0,1321.4 1150.0,1320.5 1153.0,1319.7 1156.0,1319.0 1159.0,1318.3 1162.0,1317.7 1165.0,1317.1 1168.0,1316.7 1171.0,1316.2 1174.0,1315.8 1177.0,1315.5 1180.0,1315.2 1183.0,1315.0 1186.0,1314.8 1189.0,1314.7 1192.0,1314.7 1195.0,1314.7 1198.0,1314.7 1201.0,1314.8 1204.0,1314.9 1207.0,1315.1 1210.0,1315.3 1213.0,1315.6 1216.0,1315.9 1219.0,1316.3 1222.0,1316.7 1225.0,1317.2 1228.0,1317.8 1231.0,1318.3 1234.0,1319.0 1237.0,1319.7 1240.0,1320.4 1243.0,1321.2 1246.0,1322.1 1249.0,1323.0 1252.0,1324.0 1255.0,1325.0 1258.0,1326.1 1261.0,1327.2 1264.0,1328.4 1267.0,1329.6 1270.0,1331.0 1273.0,1332.3 1276.0,1333.8 1279.0,1335.2 1282.0,1336.8 1285.0,1338.4 1288.0,1340.0 1291.0,1341.7 1294.0,1343.4 1297.0,1345.1 1300.0,1346.9 1303.0,1348.7 1306.0,1350.5 1309.0,1352.3 1312.0,1354.1 1315.0,1356.0 1318.0,1357.8 1321.0,1359.7 1324.0,1361.5 1327.0,1363.4 1330.0,1365.2 1333.0,1367.1 1336.0,1368.9 1339.0,1370.7 1342.0,1372.4 1345.0,1374.2 1348.0,1375.9 1351.0,1377.6 1354.0,1379.3 1357.0,1381.0 1360.0,1382.6 1363.0,1384.2 1366.0,1385.8 1369.0,1387.3 1372.0,1388.8 1375.0,1390.3 1378.0,1391.7 1381.0,1393.1 1384.0,1394.5 1387.0,1395.8 1390.0,1397.1 1393.0,1398.4 1396.0,1399.6 1399.0,1400.9 1402.0,1402.0 1405.0,1403.2 1408.0,1404.3 1411.0,1405.3 1414.0,1406.4 1417.0,1407.4 1420.0,1408.4 1423.0,1409.3 1426.0,1410.2 1429.0,1411.1 1432.0,1412.0 1435.0,1412.8 1438.0,1413.6 1441.0,1414.4 1444.0,1415.1 1447.0,1415.9 1450.0,1416.6 1453.0,1417.2 1456.0,1417.9 1459.0,1418.5 1462.0,1419.1 1465.0,1419.7 1468.0,1420.3 1471.0,1420.8 1474.0,1421.3 1477.0,1421.8 1480.0,1422.3 1483.0,1422.8 1486.0,1423.2 1489.0,1423.6 1492.0,1424.1 1495.0,1424.5 1498.0,1424.8 1501.0,1425.2 1504.0,1425.6 1507.0,1425.9 1510.0,1426.2 1513.0,1426.5 1516.0,1426.8 1519.0,1427.1 1522.0,1427.4 1525.0,1427.7 1528.0,1427.9 1531.0,1428.2 1534.0,1428.4 1537.0,1428.7 1540.0,1428.9 1543.0,1429.1 1546.0,1429.3 1549.0,1429.5 1552.0,1429.7 1555.0,1429.9 1558.0,1430.1 1561.0,1430.3 1564.0,1430.4 1567.0,1430.6 1570.0,1430.8 1573.0,1430.9 1576.0,1431.1 1579.0,1431.2 1582.0,1431.3 1585.0,1431.5 1588.0,1431.6 1591.0,1431.7 1594.0,1431.9 1597.0,1432.0 1600.0,1432.1 1603.0,1432.2 1606.0,1432.3 1609.0,1432.4 1612.0,1432.5 1615.0,1432.7 1618.0,1432.8 1621.0,1432.8 1624.0,1432.9 1627.0,1433.0 1630.0,1433.1 1633.0,1433.2 1636.0,1433.3 1639.0,1433.4 1642.0,1433.5 1645.0,1433.6 1648.0,1433.6 1651.0,1433.7 1654.0,1433.8 1657.0,1433.9 1660.0,1433.9 1663.0,1434.0 1666.0,1434.1 1669.0,1434.1 1672.0,1434.2 1675.0,1434.3 1678.0,1434.3 1681.0,1434.4 1684.0,1434.5 1687.0,1434.5 1690.0,1434.6 1693.0,1434.7 1696.0,1434.7 1699.0,1434.8 1702.0,1434.8 1705.0,1434.9 1708.0,1434.9 1711.0,1435.0 1714.0,1435.0 1717.0,1435.1 1720.0,1435.1 1723.0,1435.2 1726.0,1435.2 1729.0,1435.3 1732.0,1435.3 1735.0,1435.4 1738.0,1435.4 1741.0,1435.5 1744.0,1435.5 1747.0,1435.6 1750.0,1435.6 1753.0,1435.6 1756.0,1435.7 1759.0,1435.7 1762.0,1435.8 1765.0,1435.8 1768.0,1435.8 1771.0,1435.9 1774.0,1435.9 1777.0,1435.9 1780.0,1436.0 1783.0,1436.0 1786.0,1436.1 1789.0,1436.1 1792.0,1436.1 1795.0,1436.2 1798.0,1436.2 1801.0,1436.2 1804.0,1436.3 1807.0,1436.3 1810.0,1436.3 1813.0,1436.3 1816.0,1436.4 1819.0,1436.4 1822.0,1436.4 1825.0,1436.5 1828.0,1436.5 1831.0,1436.5 1834.0,1436.6 1837.0,1436.6 1840.0,1436.6 1843.0,1436.6 1846.0,1436.7 1849.0,1436.7 1852.0,1436.7 1855.0,1436.7 1858.0,1436.8 1861.0,1436.8 1864.0,1436.8 1867.0,1436.8 1870.0,1436.9 1873.0,1436.9 1876.0,1436.9 1879.0,1436.9" fill="none" stroke="#ff0000" stroke-width="7.2" stroke-linejoin="round" stroke-linecap="round"/>
<polyline points="505.6,1439.7 508.0,1439.7 511.0,1439.7 514.0,1439.7 517.0,1439.7 520.0,1439.7 523.0,1439.7 526.0,1439.7 529.0,1439.7 532.0,1439.7 535.0,1439.7 538.0,1439.7 541.0,1439.7 544.0,1439.7 547.0,1439.7 550.0,1439.7 553.0,1439.7 556.0,1439.7 559.0,1439.7 562.0,1439.7 565.0,1439.7 568.0,1439.7 571.0,1439.8 574.0,1439.8 577.0,1439.8 580.0,1439.8 583.0,1439.8 586.0,1439.8 589.0,1439.8 592.0,1439.8 595.0,1439.8 598.0,1439.8 601.0,1439.8 604.0,1439.8 607.0,1439.8 610.0,1439.9 613.0,1439.9 616.0,1439.9 619.0,1439.9 622.0,1439.9 625.0,1439.9 628.0,1439.9 631.0,1439.9 634.0,1439.9 637.0,1439.9 640.0,1439.9 643.0,1439.9 646.0,1440.0 649.0,1440.0 652.0,1440.0 655.0,1440.0 658.0,1440.0 661.0,1440.0 664.0,1440.0 667.0,1440.0 670.0,1440.0 673.0,1440.0 676.0,1440.0 679.0,1440.0 682.0,1440.0 685.0,1440.0 688.0,1440.0 691.0,1440.0 694.0,1440.0 697.0,1440.0 700.0,1440.0 703.0,1440.0 706.0,1440.0 709.0,1440.0 712.0,1440.0 715.0,1440.0 718.0,1440.0 721.0,1440.0 724.0,1440.0 727.0,1440.0 730.0,1439.9 733.0,1439.9 736.0,1439.9 739.0,1439.9 742.0,1439.9 745.0,1439.8 748.0,1439.8 751.0,1439.8 754.0,1439.8 757.0,1439.7 760.0,1439.7 763.0,1439.6 766.0,1439.6 769.0,1439.6 772.0,1439.5 775.0,1439.5 778.0,1439.4 781.0,1439.3 784.0,1439.3 787.0,1439.2 790.0,1439.1 793.0,1439.1 796.0,1439.0 799.0,1438.9 802.0,1438.8 805.0,1438.7 808.0,1438.6 811.0,1438.5 814.0,1438.3 817.0,1438.2 820.0,1438.1 823.0,1437.9 826.0,1437.8 829.0,1437.6 832.0,1437.5 835.0,1437.3 838.0,1437.1 841.0,1436.9 844.0,1436.7 847.0,1436.5 850.0,1436.3 853.0,1436.0 856.0,1435.8 859.0,1435.5 862.0,1435.2 865.0,1434.9 868.0,1434.6 871.0,1434.3 874.0,1434.0 877.0,1433.7 880.0,1433.3 883.0,1432.9 886.0,1432.5 889.0,1432.1 892.0,1431.7 895.0,1431.3 898.0,1430.8 901.0,1430.3 904.0,1429.8 907.0,1429.3 910.0,1428.8 913.0,1428.2 916.0,1427.6 919.0,1427.1 922.0,1426.4 925.0,1425.8 928.0,1425.2 931.0,1424.5 934.0,1423.8 937.0,1423.1 940.0,1422.3 943.0,1421.6 946.0,1420.8 949.0,1420.0 952.0,1419.2 955.0,1418.3 958.0,1417.5 961.0,1416.6 964.0,1415.7 967.0,1414.8 970.0,1413.8 973.0,1412.9 976.0,1411.9 979.0,1410.9 982.0,1409.9 985.0,1408.9 988.0,1407.8 991.0,1406.8 994.0,1405.7 997.0,1404.6 1000.0,1403.5 1003.0,1402.4 1006.0,1401.3 1009.0,1400.2 1012.0,1399.0 1015.0,1397.9 1018.0,1396.8 1021.0,1395.6 1024.0,1394.5 1027.0,1393.3 1030.0,1392.1 1033.0,1391.0 1036.0,1389.9 1039.0,1388.7 1042.0,1387.6 1045.0,1386.5 1048.0,1385.3 1051.0,1384.2 1054.0,1383.2 1057.0,1382.1 1060.0,1381.0 1063.0,1380.0 1066.0,1379.0 1069.0,1378.0 1072.0,1377.0 1075.0,1376.1 1078.0,1375.2 1081.0,1374.3 1084.0,1373.4 1087.0,1372.6 1090.0,1371.8 1093.0,1371.1 1096.0,1370.4 1099.0,1369.7 1102.0,1369.1 1105.0,1368.5 1108.0,1368.0 1111.0,1367.5 1114.0,1367.1 1117.0,1366.7 1120.0,1366.3 1123.0,1366.0 1126.0,1365.8 1129.0,1365.6 1132.0,1365.5 1135.0,1365.4 1138.0,1365.4 1141.0,1365.4 1144.0,1365.6 1147.0,1365.8 1150.0,1366.0 1153.0,1366.4 1156.0,1366.8 1159.0,1367.4 1162.0,1367.9 1165.0,1368.6 1168.0,1369.3 1171.0,1370.1 1174.0,1370.9 1177.0,1371.8 1180.0,1372.7 1183.0,1373.7 1186.0,1374.7 1189.0,1375.8 1192.0,1376.9 1195.0,1378.0 1198.0,1379.2 1201.0,1380.4 1204.0,1381.6 1207.0,1382.8 1210.0,1384.0 1213.0,1385.3 1216.0,1386.5 1219.0,1387.8 1222.0,1389.0 1225.0,1390.3 1228.0,1391.6 1231.0,1392.8 1234.0,1394.1 1237.0,1395.3 1240.0,1396.6 1243.0,1397.8 1246.0,1399.0 1249.0,1400.2 1252.0,1401.4 1255.0,1402.6 1258.0,1403.7 1261.0,1404.9 1264.0,1406.0 1267.0,1407.1 1270.0,1408.1 1273.0,1409.2 1276.0,1410.2 1279.0,1411.2 1282.0,1412.2 1285.0,1413.2 1288.0,1414.1 1291.0,1415.0 1294.0,1415.9 1297.0,1416.8 1300.0,1417.6 1303.0,1418.4 1306.0,1419.2 1309.0,1420.0 1312.0,1420.8 1315.0,1421.5 1318.0,1422.2 1321.0,1422.9 1324.0,1423.5 1327.0,1424.1 1330.0,1424.8 1333.0,1425.4 1336.0,1425.9 1339.0,1426.5 1342.0,1427.0 1345.0,1427.5 1348.0,1428.0 1351.0,1428.5 1354.0,1428.9 1357.0,1429.4 1360.0,1429.8 1363.0,1430.2 1366.0,1430.6 1369.0,1430.9 1372.0,1431.3 1375.0,1431.6 1378.0,1432.0 1381.0,1432.3 1384.0,1432.6 1387.0,1432.9 1390.0,1433.1 1393.0,1433.4 1396.0,1433.6 1399.0,1433.9 1402.0,1434.1 1405.0,1434.3 1408.0,1434.5 1411.0,1434.7 1414.0,1434.9 1417.0,1435.1 1420.0,1435.3 1423.0,1435.5 1426.0,1435.6 1429.0,1435.8 1432.0,1435.9 1435.0,1436.1 1438.0,1436.2 1441.0,1436.4 1444.0,1436.5 1447.0,1436.6 1450.0,1436.7 1453.0,1436.8 1456.0,1436.9 1459.0,1437.0 1462.0,1437.1 1465.0,1437.2 1468.0,1437.3 1471.0,1437.4 1474.0,1437.5 1477.0,1437.6 1480.0,1437.7 1483.0,1437.7 1486.0,1437.8 1489.0,1437.9 1492.0,1438.0 1495.0,1438.0 1498.0,1438.1 1501.0,1438.2 1504.0,1438.2 1507.0,1438.3 1510.0,1438.3 1513.0,1438.4 1516.0,1438.5 1519.0,1438.5 1522.0,1438.6 1525.0,1438.6 1528.0,1438.7 1531.0,1438.7 1534.0,1438.8 1537.0,1438.8 1540.0,1438.9 1543.0,1438.9 1546.0,1438.9 1549.0,1439.0 1552.0,1439.0 1555.0,1439.1 1558.0,1439.1 1561.0,1439.1 1564.0,1439.2 1567.0,1439.2 1570.0,1439.3 1573.0,1439.3 1576.0,1439.3 1579.0,1439.4 1582.0,1439.4 1585.0,1439.4 1588.0,1439.5 1591.0,1439.5 1594.0,1439.5 1597.0,1439.6 1600.0,1439.6 1603.0,1439.6 1606.0,1439.6 1609.0,1439.7 1612.0,1439.7 1615.0,1439.7 1618.0,1439.7 1621.0,1439.8 1624.0,1439.8 1627.0,1439.8 1630.0,1439.9 1633.0,1439.9 1636.0,1439.9 1639.0,1439.9 1642.0,1439.9 1645.0,1440.0 1648.0,1440.0 1651.0,1440.0 1654.0,1440.0 1657.0,1440.1 1660.0,1440.1 1663.0,1440.1 1666.0,1440.1 1669.0,1440.1 1672.0,1440.2 1675.0,1440.2 1678.0,1440.2 1681.0,1440.2 1684.0,1440.2 1687.0,1440.3 1690.0,1440.3 1693.0,1440.3 1696.0,1440.3 1699.0,1440.3 1702.0,1440.3 1705.0,1440.4 1708.0,1440.4 1711.0,1440.4 1714.0,1440.4 1717.0,1440.4 1720.0,1440.4 1723.0,1440.5 1726.0,1440.5 1729.0,1440.5 1732.0,1440.5 1735.0,1440.5 1738.0,1440.5 1741.0,1440.5 1744.0,1440.6 1747.0,1440.6 1750.0,1440.6 1753.0,1440.6 1756.0,1440.6 1759.0,1440.6 1762.0,1440.6 1765.0,1440.6 1768.0,1440.7 1771.0,1440.7 1774.0,1440.7 1777.0,1440.7 1780.0,1440.7 1783.0,1440.7 1786.0,1440.7 1789.0,1440.7 1792.0,1440.8 1795.0,1440.8 1798.0,1440.8 1801.0,1440.8 1804.0,1440.8 1807.0,1440.8 1810.0,1440.8 1813.0,1440.8 1816.0,1440.8 1819.0,1440.8 1822.0,1440.9 1825.0,1440.9 1828.0,1440.9 1831.0,1440.9 1834.0,1440.9 1837.0,1440.9 1840.0,1440.9 1843.0,1440.9 1846.0,1440.9 1849.0,1440.9 1852.0,1440.9 1855.0,1441.0 1858.0,1441.0 1861.0,1441.0 1864.0,1441.0 1867.0,1441.0 1870.0,1441.0 1873.0,1441.0 1876.0,1441.0 1879.0,1441.0" fill="none" stroke="#ff0080" stroke-width="7.2" stroke-linejoin="round" stroke-linecap="round"/>
<polyline points="157.6,1647.3 160.0,1647.3 163.0,1647.3 166.0,1647.3 169.0,1647.3 172.0,1647.3 175.0,1647.3 178.0,1647.3 181.0,1647.3 184.0,1647.3 187.0,1647.3 190.0,1647.3 193.0,1647.3 196.0,1647.3 199.0,1647.3 202.0,1647.3 205.0,1647.3 208.0,1647.3 211.0,1647.3 214.0,1647.3 217.0,1647.3 220.0,1647.3 223.0,1647.3 226.0,1647.3 229.0,1647.3 232.0,1647.3 235.0,1647.3 238.0,1647.3 241.0,1647.3 244.0,1647.4 247.0,1647.4 250.0,1647.4 253.0,1647.4 256.0,1647.4 259.0,1647.4 262.0,1647.4 265.0,1647.4 268.0,1647.4 271.0,1647.4 274.0,1647.4 277.0,1647.4 280.0,1647.4 283.0,1647.4 286.0,1647.4 289.0,1647.4 292.0,1647.4 295.0,1647.4 298.0,1647.4 301.0,1647.4 304.0,1647.4 307.0,1647.4 310.0,1647.5 313.0,1647.5 316.0,1647.5 319.0,1647.5 322.0,1647.5 325.0,1647.5 328.0,1647.5 331.0,1647.5 334.0,1647.5 337.0,1647.5 340.0,1647.5 343.0,1647.5 346.0,1647.5 349.0,1647.5 352.0,1647.5 355.0,1647.6 358.0,1647.6 361.0,1647.6 364.0,1647.6 367.0,1647.6 370.0,1647.6 373.0,1647.6 376.0,1647.6 379.0,1647.6 382.0,1647.6 385.0,1647.6 388.0,1647.6 391.0,1647.7 394.0,1647.7 397.0,1647.7 400.0,1647.7 403.0,1647.7 406.0,1647.7 409.0,1647.7 412.0,1647.7 415.0,1647.7 418.0,1647.7 421.0,1647.7 424.0,1647.8 427.0,1647.8 430.0,1647.8 433.0,1647.8 436.0,1647.8 439.0,1647.8 442.0,1647.8 445.0,1647.8 448.0,1647.8 451.0,1647.8 454.0,1647.9 457.0,1647.9 460.0,1647.9 463.0,1647.9 466.0,1647.9 469.0,1647.9 472.0,1647.9 475.0,1647.9 478.0,1647.9 481.0,1648.0 484.0,1648.0 487.0,1648.0 490.0,1648.0 493.0,1648.0 496.0,1648.0 499.0,1648.0 502.0,1648.0 505.0,1648.0 508.0,1648.1 511.0,1648.1 514.0,1648.1 517.0,1648.1 520.0,1648.1 523.0,1648.1 526.0,1648.1 529.0,1648.1 532.0,1648.2 535.0,1648.2 538.0,1648.2 541.0,1648.2 544.0,1648.2 547.0,1648.2 550.0,1648.2 553.0,1648.3 556.0,1648.3 559.0,1648.3 562.0,1648.3 565.0,1648.3 568.0,1648.3 571.0,1648.3 574.0,1648.3 577.0,1648.4 580.0,1648.4 583.0,1648.4 586.0,1648.4 589.0,1648.4 592.0,1648.4 595.0,1648.4 598.0,1648.5 601.0,1648.5 604.0,1648.5 607.0,1648.5 610.0,1648.5 613.0,1648.5 616.0,1648.6 619.0,1648.6 622.0,1648.6 625.0,1648.6 628.0,1648.6 631.0,1648.6 634.0,1648.6 637.0,1648.7 640.0,1648.7 643.0,1648.7 646.0,1648.7 649.0,1648.7 652.0,1648.7 655.0,1648.8 658.0,1648.8 661.0,1648.8 664.0,1648.8 667.0,1648.8 670.0,1648.8 673.0,1648.9 676.0,1648.9 679.0,1648.9 682.0,1648.9 685.0,1648.9 688.0,1648.9 691.0,1649.0 694.0,1649.0 697.0,1649.0 700.0,1649.0 703.0,1649.0 706.0,1649.0 709.0,1649.1 712.0,1649.1 715.0,1649.1 718.0,1649.1 721.0,1649.1 724.0,1649.1 727.0,1649.2 730.0,1649.2 733.0,1649.2 736.0,1649.2 739.0,1649.2 742.0,1649.3 745.0,1649.3 748.0,1649.3 751.0,1649.3 754.0,1649.3 757.0,1649.3 760.0,1649.4 763.0,1649.4 766.0,1649.4 769.0,1649.4 772.0,1649.5 775.0,1649.5 778.0,1649.5 781.0,1649.6 784.0,1649.6 787.0,1649.6 790.0,1649.7 793.0,1649.7 796.0,1649.7 799.0,1649.8 802.0,1649.8 805.0,1649.8 808.0,1649.9 811.0,1649.9 814.0,1650.0 817.0,1650.0 820.0,1650.0 823.0,1650.1 826.0,1650.1 829.0,1650.2 832.0,1650.2 835.0,1650.3 838.0,1650.3 841.0,1650.4 844.0,1650.4 847.0,1650.5 850.0,1650.5 853.0,1650.6 856.0,1650.6 859.0,1650.7 862.0,1650.7 865.0,1650.8 868.0,1650.8 871.0,1650.9 874.0,1650.9 877.0,1651.0 880.0,1651.0 883.0,1651.1 886.0,1651.1 889.0,1651.2 892.0,1651.3 895.0,1651.3 898.0,1651.4 901.0,1651.4 904.0,1651.5 907.0,1651.5 910.0,1651.6 913.0,1651.7 916.0,1651.7 919.0,1651.8 922.0,1651.8 925.0,1651.9 928.0,1651.9 931.0,1652.0 934.0,1652.1 937.0,1652.1 940.0,1652.2 943.0,1652.2 946.0,1652.3 949.0,1652.4 952.0,1652.4 955.0,1652.5 958.0,1652.5 961.0,1652.6 964.0,1652.6 967.0,1652.7 970.0,1652.8 973.0,1652.8 976.0,1652.9 979.0,1652.9 982.0,1653.0 985.0,1653.0 988.0,1653.1 991.0,1653.1 994.0,1653.2 997.0,1653.2 1000.0,1653.3 1003.0,1653.4 1006.0,1653.4 1009.0,1653.5 1012.0,1653.5 1015.0,1653.6 1018.0,1653.6 1021.0,1653.7 1024.0,1653.7 1027.0,1653.8 1030.0,1653.8 1033.0,1653.9 1036.0,1654.0 1039.0,1654.0 1042.0,1654.1 1045.0,1654.1 1048.0,1654.2 1051.0,1654.2 1054.0,1654.3 1057.0,1654.3 1060.0,1654.4 1063.0,1654.5 1066.0,1654.5 1069.0,1654.6 1072.0,1654.6 1075.0,1654.7 1078.0,1654.8 1081.0,1654.8 1084.0,1654.9 1087.0,1654.9 1090.0,1655.0 1093.0,1655.0 1096.0,1655.1 1099.0,1655.2 1102.0,1655.2 1105.0,1655.3 1108.0,1655.3 1111.0,1655.4 1114.0,1655.5 1117.0,1655.5 1120.0,1655.6 1123.0,1655.6 1126.0,1655.7 1129.0,1655.8 1132.0,1655.8 1135.0,1655.9 1138.0,1655.9 1141.0,1656.0 1144.0,1656.1 1147.0,1656.1 1150.0,1656.2 1153.0,1656.2 1156.0,1656.3 1159.0,1656.4 1162.0,1656.4 1165.0,1656.5 1168.0,1656.5 1171.0,1656.6 1174.0,1656.7 1177.0,1656.7 1180.0,1656.8 1183.0,1656.8 1186.0,1656.9 1189.0,1657.0 1192.0,1657.0 1195.0,1657.1 1198.0,1657.1 1201.0,1657.2 1204.0,1657.3 1207.0,1657.3 1210.0,1657.4 1213.0,1657.4 1216.0,1657.5 1219.0,1657.6 1222.0,1657.6 1225.0,1657.7 1228.0,1657.7 1231.0,1657.8 1234.0,1657.9 1237.0,1657.9 1240.0,1658.0 1243.0,1658.0 1246.0,1658.1 1249.0,1658.1 1252.0,1658.2 1255.0,1658.3 1258.0,1658.3 1261.0,1658.4 1264.0,1658.4 1267.0,1658.5 1270.0,1658.6 1273.0,1658.6 1276.0,1658.7 1279.0,1658.7 1282.0,1658.8 1285.0,1658.9 1288.0,1658.9 1291.0,1659.0 1294.0,1659.1 1297.0,1659.1 1300.0,1659.2 1303.0,1659.2 1306.0,1659.3 1309.0,1659.4 1312.0,1659.4 1315.0,1659.5 1318.0,1659.6 1321.0,1659.6 1324.0,1659.7 1327.0,1659.8 1330.0,1659.8 1333.0,1659.9 1336.0,1660.0 1339.0,1660.0 1342.0,1660.1 1345.0,1660.1 1348.0,1660.2 1351.0,1660.3 1354.0,1660.3 1357.0,1660.4 1360.0,1660.5 1363.0,1660.5 1366.0,1660.6 1369.0,1660.6 1372.0,1660.7 1375.0,1660.8 1378.0,1660.8 1381.0,1660.9 1384.0,1661.0 1387.0,1661.0 1390.0,1661.1 1393.0,1661.1 1396.0,1661.2 1399.0,1661.2 1402.0,1661.3 1405.0,1661.4 1408.0,1661.4 1411.0,1661.5 1414.0,1661.5 1417.0,1661.6 1420.0,1661.6 1423.0,1661.7 1426.0,1661.7 1429.0,1661.8 1432.0,1661.8 1435.0,1661.9 1438.0,1661.9 1441.0,1662.0 1444.0,1662.0 1447.0,1662.1 1450.0,1662.1 1453.0,1662.2 1456.0,1662.2 1459.0,1662.3 1462.0,1662.3 1465.0,1662.4 1468.0,1662.4 1471.0,1662.4 1474.0,1662.5 1477.0,1662.5 1480.0,1662.6 1483.0,1662.6 1486.0,1662.6 1489.0,1662.7 1492.0,1662.7 1495.0,1662.7 1498.0,1662.8 1501.0,1662.8 1504.0,1662.8 1507.0,1662.9 1510.0,1662.9 1513.0,1662.9 1516.0,1663.0 1519.0,1663.0 1522.0,1663.0 1525.0,1663.0 1528.0,1663.0 1531.0,1663.1 1534.0,1663.1 1537.0,1663.1 1540.0,1663.1 1543.0,1663.1 1546.0,1663.1 1549.0,1663.2 1552.0,1663.2 1555.0,1663.2 1558.0,1663.2 1561.0,1663.2 1564.0,1663.2 1567.0,1663.2 1570.0,1663.2 1573.0,1663.3 1576.0,1663.3 1579.0,1663.3 1582.0,1663.3 1585.0,1663.3 1588.0,1663.3 1591.0,1663.3 1594.0,1663.3 1597.0,1663.3 1600.0,1663.4 1603.0,1663.4 1606.0,1663.4 1609.0,1663.4 1612.0,1663.4 1615.0,1663.4 1618.0,1663.4 1621.0,1663.4 1624.0,1663.4 1627.0,1663.5 1630.0,1663.5 1633.0,1663.5 1636.0,1663.5 1639.0,1663.5 1642.0,1663.5 1645.0,1663.5 1648.0,1663.5 1651.0,1663.5 1654.0,1663.5 1657.0,1663.5 1660.0,1663.6 1663.0,1663.6 1666.0,1663.6 1669.0,1663.6 1672.0,1663.6 1675.0,1663.6 1678.0,1663.6 1681.0,1663.6 1684.0,1663.6 1687.0,1663.6 1690.0,1663.6 1693.0,1663.6 1696.0,1663.6 1699.0,1663.6 1702.0,1663.7 1705.0,1663.7 1708.0,1663.7 1711.0,1663.7 1714.0,1663.7 1717.0,1663.7 1720.0,1663.7 1723.0,1663.7 1726.0,1663.7 1729.0,1663.7 1732.0,1663.7 1735.0,1663.7 1738.0,1663.7 1741.0,1663.7 1744.0,1663.7 1747.0,1663.7 1750.0,1663.7 1753.0,1663.7 1756.0,1663.7 1759.0,1663.7 1762.0,1663.7 1765.0,1663.7 1768.0,1663.7 1771.0,1663.7 1774.0,1663.7 1777.0,1663.7 1780.0,1663.7 1783.0,1663.7 1786.0,1663.7 1789.0,1663.7 1792.0,1663.7 1795.0,1663.7 1798.0,1663.7 1801.0,1663.7 1804.0,1663.7 1807.0,1663.7 1810.0,1663.7 1813.0,1663.7 1816.0,1663.7 1819.0,1663.7 1822.0,1663.7 1825.0,1663.7 1828.0,1663.7 1831.0,1663.7 1834.0,1663.6 1837.0,1663.6 1840.0,1663.6 1843.0,1663.6 1846.0,1663.6 1849.0,1663.6 1852.0,1663.6 1855.0,1663.6 1858.0,1663.6 1861.0,1663.6 1864.0,1663.6 1867.0,1663.6 1870.0,1663.6 1873.0,1663.5 1876.0,1663.5 1879.0,1663.5" fill="none" stroke="#00ff00" stroke-width="6.2" stroke-linejoin="round" stroke-linecap="round"/>
<polyline points="157.6,1644.9 160.0,1644.9 163.0,1644.9 166.0,1644.9 169.0,1644.9 172.0,1644.9 175.0,1644.9 178.0,1644.9 181.0,1644.9 184.0,1644.9 187.0,1644.9 190.0,1644.9 193.0,1644.9 196.0,1644.9 199.0,1644.9 202.0,1644.9 205.0,1644.9 208.0,1644.9 211.0,1644.9 214.0,1644.9 217.0,1644.9 220.0,1644.9 223.0,1644.9 226.0,1644.9 229.0,1644.9 232.0,1644.9 235.0,1644.9 238.0,1644.9 241.0,1644.9 244.0,1644.9 247.0,1644.9 250.0,1644.9 253.0,1644.9 256.0,1644.9 259.0,1644.9 262.0,1644.9 265.0,1644.9 268.0,1644.9 271.0,1644.9 274.0,1644.9 277.0,1644.9 280.0,1644.9 283.0,1644.9 286.0,1644.9 289.0,1644.9 292.0,1644.9 295.0,1644.9 298.0,1644.9 301.0,1644.9 304.0,1644.9 307.0,1644.9 310.0,1644.8 313.0,1644.8 316.0,1644.8 319.0,1644.8 322.0,1644.8 325.0,1644.8 328.0,1644.8 331.0,1644.8 334.0,1644.8 337.0,1644.8 340.0,1644.8 343.0,1644.8 346.0,1644.8 349.0,1644.8 352.0,1644.8 355.0,1644.8 358.0,1644.8 361.0,1644.8 364.0,1644.8 367.0,1644.8 370.0,1644.8 373.0,1644.8 376.0,1644.8 379.0,1644.8 382.0,1644.8 385.0,1644.8 388.0,1644.8 391.0,1644.8 394.0,1644.8 397.0,1644.8 400.0,1644.8 403.0,1644.8 406.0,1644.8 409.0,1644.8 412.0,1644.8 415.0,1644.8 418.0,1644.8 421.0,1644.8 424.0,1644.8 427.0,1644.8 430.0,1644.8 433.0,1644.8 436.0,1644.8 439.0,1644.8 442.0,1644.8 445.0,1644.7 448.0,1644.7 451.0,1644.7 454.0,1644.7 457.0,1644.7 460.0,1644.7 463.0,1644.7 466.0,1644.7 469.0,1644.7 472.0,1644.7 475.0,1644.7 478.0,1644.6 481.0,1644.6 484.0,1644.6 487.0,1644.6 490.0,1644.6 493.0,1644.6 496.0,1644.5 499.0,1644.5 502.0,1644.5 505.0,1644.5 508.0,1644.5 511.0,1644.4 514.0,1644.4 517.0,1644.4 520.0,1644.3 523.0,1644.3 526.0,1644.3 529.0,1644.2 532.0,1644.2 535.0,1644.2 538.0,1644.1 541.0,1644.1 544.0,1644.0 547.0,1644.0 550.0,1643.9 553.0,1643.9 556.0,1643.8 559.0,1643.8 562.0,1643.7 565.0,1643.6 568.0,1643.6 571.0,1643.5 574.0,1643.4 577.0,1643.3 580.0,1643.2 583.0,1643.2 586.0,1643.1 589.0,1643.0 592.0,1642.9 595.0,1642.8 598.0,1642.6 601.0,1642.5 604.0,1642.4 607.0,1642.3 610.0,1642.1 613.0,1642.0 616.0,1641.8 619.0,1641.7 622.0,1641.5 625.0,1641.4 628.0,1641.2 631.0,1641.0 634.0,1640.8 637.0,1640.6 640.0,1640.4 643.0,1640.2 646.0,1640.0 649.0,1639.7 652.0,1639.5 655.0,1639.2 658.0,1639.0 661.0,1638.7 664.0,1638.4 667.0,1638.1 670.0,1637.8 673.0,1637.5 676.0,1637.2 679.0,1636.9 682.0,1636.5 685.0,1636.2 688.0,1635.8 691.0,1635.4 694.0,1635.0 697.0,1634.6 700.0,1634.2 703.0,1633.8 706.0,1633.3 709.0,1632.9 712.0,1632.4 715.0,1631.9 718.0,1631.4 721.0,1630.9 724.0,1630.4 727.0,1629.8 730.0,1629.3 733.0,1628.7 736.0,1628.1 739.0,1627.5 742.0,1626.9 745.0,1626.3 748.0,1625.6 751.0,1625.0 754.0,1624.3 757.0,1623.6 760.0,1622.9 763.0,1622.2 766.0,1621.5 769.0,1620.8 772.0,1620.0 775.0,1619.2 778.0,1618.5 781.0,1617.7 784.0,1616.9 787.0,1616.0 790.0,1615.2 793.0,1614.4 796.0,1613.5 799.0,1612.6 802.0,1611.8 805.0,1610.9 808.0,1610.0 811.0,1609.1 814.0,1608.2 817.0,1607.2 820.0,1606.3 823.0,1605.4 826.0,1604.4 829.0,1603.5 832.0,1602.5 835.0,1601.5 838.0,1600.5 841.0,1599.6 844.0,1598.6 847.0,1597.6 850.0,1596.6 853.0,1595.6 856.0,1594.6 859.0,1593.6 862.0,1592.6 865.0,1591.6 868.0,1590.6 871.0,1589.6 874.0,1588.7 877.0,1587.7 880.0,1586.7 883.0,1585.7 886.0,1584.8 889.0,1583.8 892.0,1582.9 895.0,1581.9 898.0,1581.0 901.0,1580.1 904.0,1579.2 907.0,1578.3 910.0,1577.4 913.0,1576.6 916.0,1575.7 919.0,1574.9 922.0,1574.1 925.0,1573.3 928.0,1572.6 931.0,1571.8 934.0,1571.1 937.0,1570.4 940.0,1569.8 943.0,1569.1 946.0,1568.5 949.0,1567.9 952.0,1567.4 955.0,1566.9 958.0,1566.4 961.0,1565.9 964.0,1565.5 967.0,1565.1 970.0,1564.7 973.0,1564.4 976.0,1564.1 979.0,1563.8 982.0,1563.6 985.0,1563.4 988.0,1563.3 991.0,1563.1 994.0,1563.1 997.0,1563.0 1000.0,1563.0 1003.0,1563.1 1006.0,1563.1 1009.0,1563.3 1012.0,1563.4 1015.0,1563.6 1018.0,1563.9 1021.0,1564.2 1024.0,1564.5 1027.0,1564.9 1030.0,1565.4 1033.0,1565.9 1036.0,1566.4 1039.0,1566.9 1042.0,1567.5 1045.0,1568.2 1048.0,1568.9 1051.0,1569.6 1054.0,1570.3 1057.0,1571.1 1060.0,1571.9 1063.0,1572.8 1066.0,1573.7 1069.0,1574.6 1072.0,1575.5 1075.0,1576.5 1078.0,1577.5 1081.0,1578.5 1084.0,1579.5 1087.0,1580.6 1090.0,1581.7 1093.0,1582.7 1096.0,1583.9 1099.0,1585.0 1102.0,1586.1 1105.0,1587.3 1108.0,1588.5 1111.0,1589.6 1114.0,1590.8 1117.0,1592.0 1120.0,1593.2 1123.0,1594.4 1126.0,1595.6 1129.0,1596.8 1132.0,1598.0 1135.0,1599.2 1138.0,1600.5 1141.0,1601.7 1144.0,1602.9 1147.0,1604.1 1150.0,1605.3 1153.0,1606.5 1156.0,1607.7 1159.0,1608.8 1162.0,1610.0 1165.0,1611.2 1168.0,1612.3 1171.0,1613.5 1174.0,1614.6 1177.0,1615.7 1180.0,1616.8 1183.0,1617.9 1186.0,1619.0 1189.0,1620.0 1192.0,1621.1 1195.0,1622.1 1198.0,1623.1 1201.0,1624.1 1204.0,1625.1 1207.0,1626.1 1210.0,1627.0 1213.0,1628.0 1216.0,1628.9 1219.0,1629.8 1222.0,1630.7 1225.0,1631.5 1228.0,1632.4 1231.0,1633.2 1234.0,1634.0 1237.0,1634.8 1240.0,1635.6 1243.0,1636.3 1246.0,1637.1 1249.0,1637.8 1252.0,1638.5 1255.0,1639.2 1258.0,1639.8 1261.0,1640.5 1264.0,1641.1 1267.0,1641.7 1270.0,1642.2 1273.0,1642.8 1276.0,1643.3 1279.0,1643.8 1282.0,1644.3 1285.0,1644.8 1288.0,1645.3 1291.0,1645.7 1294.0,1646.1 1297.0,1646.6 1300.0,1646.9 1303.0,1647.3 1306.0,1647.7 1309.0,1648.0 1312.0,1648.4 1315.0,1648.7 1318.0,1649.0 1321.0,1649.3 1324.0,1649.6 1327.0,1649.8 1330.0,1650.1 1333.0,1650.3 1336.0,1650.6 1339.0,1650.8 1342.0,1651.0 1345.0,1651.2 1348.0,1651.4 1351.0,1651.6 1354.0,1651.8 1357.0,1651.9 1360.0,1652.1 1363.0,1652.2 1366.0,1652.4 1369.0,1652.5 1372.0,1652.7 1375.0,1652.8 1378.0,1652.9 1381.0,1653.0 1384.0,1653.1 1387.0,1653.3 1390.0,1653.4 1393.0,1653.5 1396.0,1653.6 1399.0,1653.7 1402.0,1653.8 1405.0,1653.8 1408.0,1653.9 1411.0,1654.0 1414.0,1654.1 1417.0,1654.1 1420.0,1654.2 1423.0,1654.2 1426.0,1654.3 1429.0,1654.3 1432.0,1654.3 1435.0,1654.4 1438.0,1654.4 1441.0,1654.4 1444.0,1654.4 1447.0,1654.4 1450.0,1654.5 1453.0,1654.5 1456.0,1654.5 1459.0,1654.5 1462.0,1654.5 1465.0,1654.5 1468.0,1654.5 1471.0,1654.5 1474.0,1654.5 1477.0,1654.5 1480.0,1654.5 1483.0,1654.5 1486.0,1654.5 1489.0,1654.5 1492.0,1654.5 1495.0,1654.5 1498.0,1654.5 1501.0,1654.5 1504.0,1654.5 1507.0,1654.5 1510.0,1654.5 1513.0,1654.5 1516.0,1654.6 1519.0,1654.6 1522.0,1654.6 1525.0,1654.6 1528.0,1654.7 1531.0,1654.7 1534.0,1654.7 1537.0,1654.8 1540.0,1654.8 1543.0,1654.9 1546.0,1654.9 1549.0,1654.9 1552.0,1655.0 1555.0,1655.0 1558.0,1655.1 1561.0,1655.1 1564.0,1655.2 1567.0,1655.2 1570.0,1655.3 1573.0,1655.4 1576.0,1655.4 1579.0,1655.5 1582.0,1655.5 1585.0,1655.6 1588.0,1655.7 1591.0,1655.7 1594.0,1655.8 1597.0,1655.9 1600.0,1655.9 1603.0,1656.0 1606.0,1656.1 1609.0,1656.2 1612.0,1656.2 1615.0,1656.3 1618.0,1656.4 1621.0,1656.5 1624.0,1656.5 1627.0,1656.6 1630.0,1656.7 1633.0,1656.8 1636.0,1656.8 1639.0,1656.9 1642.0,1657.0 1645.0,1657.1 1648.0,1657.1 1651.0,1657.2 1654.0,1657.3 1657.0,1657.3 1660.0,1657.4 1663.0,1657.5 1666.0,1657.6 1669.0,1657.6 1672.0,1657.7 1675.0,1657.8 1678.0,1657.8 1681.0,1657.9 1684.0,1658.0 1687.0,1658.0 1690.0,1658.1 1693.0,1658.2 1696.0,1658.2 1699.0,1658.3 1702.0,1658.3 1705.0,1658.4 1708.0,1658.5 1711.0,1658.5 1714.0,1658.6 1717.0,1658.6 1720.0,1658.7 1723.0,1658.7 1726.0,1658.8 1729.0,1658.8 1732.0,1658.9 1735.0,1659.0 1738.0,1659.0 1741.0,1659.1 1744.0,1659.1 1747.0,1659.2 1750.0,1659.2 1753.0,1659.3 1756.0,1659.3 1759.0,1659.4 1762.0,1659.4 1765.0,1659.5 1768.0,1659.5 1771.0,1659.6 1774.0,1659.6 1777.0,1659.7 1780.0,1659.7 1783.0,1659.8 1786.0,1659.8 1789.0,1659.9 1792.0,1659.9 1795.0,1660.0 1798.0,1660.0 1801.0,1660.1 1804.0,1660.1 1807.0,1660.2 1810.0,1660.2 1813.0,1660.3 1816.0,1660.3 1819.0,1660.4 1822.0,1660.4 1825.0,1660.5 1828.0,1660.5 1831.0,1660.5 1834.0,1660.6 1837.0,1660.6 1840.0,1660.7 1843.0,1660.7 1846.0,1660.8 1849.0,1660.8 1852.0,1660.8 1855.0,1660.9 1858.0,1660.9 1861.0,1661.0 1864.0,1661.0 1867.0,1661.1 1870.0,1661.1 1873.0,1661.1 1876.0,1661.2 1879.0,1661.2" fill="none" stroke="#8b008b" stroke-width="7.2" stroke-linejoin="round" stroke-linecap="round"/>
<polyline points="157.6,1645.2 160.0,1645.2 163.0,1645.2 166.0,1645.2 169.0,1645.2 172.0,1645.2 175.0,1645.2 178.0,1645.2 181.0,1645.2 184.0,1645.2 187.0,1645.2 190.0,1645.2 193.0,1645.2 196.0,1645.2 199.0,1645.2 202.0,1645.2 205.0,1645.2 208.0,1645.2 211.0,1645.2 214.0,1645.2 217.0,1645.2 220.0,1645.2 223.0,1645.2 226.0,1645.2 229.0,1645.2 232.0,1645.2 235.0,1645.2 238.0,1645.2 241.0,1645.2 244.0,1645.2 247.0,1645.2 250.0,1645.2 253.0,1645.2 256.0,1645.2 259.0,1645.2 262.0,1645.2 265.0,1645.2 268.0,1645.2 271.0,1645.2 274.0,1645.2 277.0,1645.2 280.0,1645.2 283.0,1645.2 286.0,1645.2 289.0,1645.2 292.0,1645.2 295.0,1645.2 298.0,1645.2 301.0,1645.2 304.0,1645.2 307.0,1645.2 310.0,1645.2 313.0,1645.2 316.0,1645.2 319.0,1645.2 322.0,1645.2 325.0,1645.2 328.0,1645.2 331.0,1645.2 334.0,1645.2 337.0,1645.2 340.0,1645.2 343.0,1645.3 346.0,1645.3 349.0,1645.3 352.0,1645.3 355.0,1645.3 358.0,1645.3 361.0,1645.3 364.0,1645.3 367.0,1645.3 370.0,1645.3 373.0,1645.3 376.0,1645.3 379.0,1645.3 382.0,1645.3 385.0,1645.3 388.0,1645.3 391.0,1645.3 394.0,1645.3 397.0,1645.3 400.0,1645.3 403.0,1645.3 406.0,1645.3 409.0,1645.3 412.0,1645.3 415.0,1645.4 418.0,1645.4 421.0,1645.4 424.0,1645.4 427.0,1645.4 430.0,1645.4 433.0,1645.4 436.0,1645.4 439.0,1645.4 442.0,1645.4 445.0,1645.4 448.0,1645.4 451.0,1645.4 454.0,1645.4 457.0,1645.4 460.0,1645.4 463.0,1645.4 466.0,1645.4 469.0,1645.4 472.0,1645.5 475.0,1645.5 478.0,1645.5 481.0,1645.5 484.0,1645.5 487.0,1645.5 490.0,1645.5 493.0,1645.5 496.0,1645.5 499.0,1645.5 502.0,1645.5 505.0,1645.5 508.0,1645.5 511.0,1645.5 514.0,1645.5 517.0,1645.5 520.0,1645.5 523.0,1645.5 526.0,1645.6 529.0,1645.6 532.0,1645.6 535.0,1645.6 538.0,1645.6 541.0,1645.6 544.0,1645.6 547.0,1645.6 550.0,1645.6 553.0,1645.6 556.0,1645.6 559.0,1645.6 562.0,1645.6 565.0,1645.6 568.0,1645.6 571.0,1645.6 574.0,1645.6 577.0,1645.6 580.0,1645.6 583.0,1645.6 586.0,1645.7 589.0,1645.7 592.0,1645.7 595.0,1645.7 598.0,1645.7 601.0,1645.7 604.0,1645.7 607.0,1645.7 610.0,1645.7 613.0,1645.7 616.0,1645.7 619.0,1645.7 622.0,1645.7 625.0,1645.7 628.0,1645.7 631.0,1645.7 634.0,1645.7 637.0,1645.7 640.0,1645.7 643.0,1645.7 646.0,1645.7 649.0,1645.7 652.0,1645.7 655.0,1645.7 658.0,1645.7 661.0,1645.7 664.0,1645.7 667.0,1645.7 670.0,1645.7 673.0,1645.7 676.0,1645.7 679.0,1645.7 682.0,1645.7 685.0,1645.7 688.0,1645.7 691.0,1645.7 694.0,1645.7 697.0,1645.7 700.0,1645.7 703.0,1645.7 706.0,1645.7 709.0,1645.7 712.0,1645.6 715.0,1645.6 718.0,1645.6 721.0,1645.6 724.0,1645.6 727.0,1645.6 730.0,1645.6 733.0,1645.5 736.0,1645.5 739.0,1645.5 742.0,1645.5 745.0,1645.4 748.0,1645.4 751.0,1645.4 754.0,1645.3 757.0,1645.3 760.0,1645.3 763.0,1645.2 766.0,1645.2 769.0,1645.1 772.0,1645.1 775.0,1645.0 778.0,1645.0 781.0,1644.9 784.0,1644.9 787.0,1644.8 790.0,1644.7 793.0,1644.6 796.0,1644.6 799.0,1644.5 802.0,1644.4 805.0,1644.3 808.0,1644.2 811.0,1644.1 814.0,1643.9 817.0,1643.8 820.0,1643.7 823.0,1643.5 826.0,1643.4 829.0,1643.2 832.0,1643.0 835.0,1642.8 838.0,1642.6 841.0,1642.4 844.0,1642.2 847.0,1641.9 850.0,1641.7 853.0,1641.4 856.0,1641.1 859.0,1640.8 862.0,1640.5 865.0,1640.1 868.0,1639.8 871.0,1639.4 874.0,1639.0 877.0,1638.5 880.0,1638.1 883.0,1637.6 886.0,1637.1 889.0,1636.6 892.0,1636.1 895.0,1635.5 898.0,1634.9 901.0,1634.3 904.0,1633.7 907.0,1633.0 910.0,1632.3 913.0,1631.6 916.0,1630.8 919.0,1630.0 922.0,1629.2 925.0,1628.3 928.0,1627.4 931.0,1626.5 934.0,1625.6 937.0,1624.6 940.0,1623.6 943.0,1622.5 946.0,1621.4 949.0,1620.3 952.0,1619.2 955.0,1618.0 958.0,1616.8 961.0,1615.6 964.0,1614.3 967.0,1613.0 970.0,1611.6 973.0,1610.3 976.0,1608.9 979.0,1607.5 982.0,1606.0 985.0,1604.5 988.0,1603.0 991.0,1601.5 994.0,1599.9 997.0,1598.4 1000.0,1596.8 1003.0,1595.1 1006.0,1593.5 1009.0,1591.9 1012.0,1590.2 1015.0,1588.5 1018.0,1586.8 1021.0,1585.1 1024.0,1583.4 1027.0,1581.7 1030.0,1580.0 1033.0,1578.3 1036.0,1576.6 1039.0,1574.9 1042.0,1573.3 1045.0,1571.6 1048.0,1569.9 1051.0,1568.3 1054.0,1566.7 1057.0,1565.1 1060.0,1563.5 1063.0,1561.9 1066.0,1560.4 1069.0,1558.9 1072.0,1557.5 1075.0,1556.1 1078.0,1554.7 1081.0,1553.4 1084.0,1552.1 1087.0,1550.9 1090.0,1549.8 1093.0,1548.7 1096.0,1547.6 1099.0,1546.7 1102.0,1545.7 1105.0,1544.9 1108.0,1544.1 1111.0,1543.4 1114.0,1542.8 1117.0,1542.2 1120.0,1541.8 1123.0,1541.4 1126.0,1541.1 1129.0,1540.8 1132.0,1540.7 1135.0,1540.6 1138.0,1540.6 1141.0,1540.7 1144.0,1540.9 1147.0,1541.2 1150.0,1541.6 1153.0,1542.1 1156.0,1542.6 1159.0,1543.3 1162.0,1544.0 1165.0,1544.8 1168.0,1545.7 1171.0,1546.7 1174.0,1547.8 1177.0,1548.9 1180.0,1550.1 1183.0,1551.3 1186.0,1552.7 1189.0,1554.0 1192.0,1555.5 1195.0,1557.0 1198.0,1558.5 1201.0,1560.1 1204.0,1561.8 1207.0,1563.5 1210.0,1565.2 1213.0,1566.9 1216.0,1568.7 1219.0,1570.5 1222.0,1572.3 1225.0,1574.2 1228.0,1576.1 1231.0,1577.9 1234.0,1579.8 1237.0,1581.7 1240.0,1583.6 1243.0,1585.5 1246.0,1587.4 1249.0,1589.3 1252.0,1591.2 1255.0,1593.1 1258.0,1595.0 1261.0,1596.8 1264.0,1598.7 1267.0,1600.5 1270.0,1602.2 1273.0,1604.0 1276.0,1605.7 1279.0,1607.4 1282.0,1609.1 1285.0,1610.8 1288.0,1612.4 1291.0,1614.0 1294.0,1615.5 1297.0,1617.0 1300.0,1618.5 1303.0,1619.9 1306.0,1621.4 1309.0,1622.7 1312.0,1624.1 1315.0,1625.4 1318.0,1626.6 1321.0,1627.8 1324.0,1629.0 1327.0,1630.2 1330.0,1631.3 1333.0,1632.4 1336.0,1633.4 1339.0,1634.4 1342.0,1635.4 1345.0,1636.3 1348.0,1637.2 1351.0,1638.1 1354.0,1638.9 1357.0,1639.7 1360.0,1640.5 1363.0,1641.2 1366.0,1641.9 1369.0,1642.6 1372.0,1643.2 1375.0,1643.8 1378.0,1644.4 1381.0,1645.0 1384.0,1645.5 1387.0,1646.1 1390.0,1646.5 1393.0,1647.0 1396.0,1647.5 1399.0,1647.9 1402.0,1648.3 1405.0,1648.7 1408.0,1649.1 1411.0,1649.4 1414.0,1649.7 1417.0,1650.0 1420.0,1650.3 1423.0,1650.6 1426.0,1650.8 1429.0,1651.0 1432.0,1651.3 1435.0,1651.5 1438.0,1651.7 1441.0,1651.8 1444.0,1652.0 1447.0,1652.1 1450.0,1652.3 1453.0,1652.4 1456.0,1652.5 1459.0,1652.6 1462.0,1652.7 1465.0,1652.8 1468.0,1652.9 1471.0,1653.0 1474.0,1653.1 1477.0,1653.1 1480.0,1653.2 1483.0,1653.3 1486.0,1653.3 1489.0,1653.4 1492.0,1653.4 1495.0,1653.5 1498.0,1653.5 1501.0,1653.6 1504.0,1653.6 1507.0,1653.7 1510.0,1653.7 1513.0,1653.8 1516.0,1653.8 1519.0,1653.9 1522.0,1653.9 1525.0,1654.0 1528.0,1654.0 1531.0,1654.1 1534.0,1654.1 1537.0,1654.2 1540.0,1654.2 1543.0,1654.3 1546.0,1654.4 1549.0,1654.4 1552.0,1654.5 1555.0,1654.6 1558.0,1654.6 1561.0,1654.7 1564.0,1654.7 1567.0,1654.8 1570.0,1654.9 1573.0,1655.0 1576.0,1655.0 1579.0,1655.1 1582.0,1655.2 1585.0,1655.2 1588.0,1655.3 1591.0,1655.4 1594.0,1655.5 1597.0,1655.5 1600.0,1655.6 1603.0,1655.7 1606.0,1655.8 1609.0,1655.8 1612.0,1655.9 1615.0,1656.0 1618.0,1656.1 1621.0,1656.2 1624.0,1656.2 1627.0,1656.3 1630.0,1656.4 1633.0,1656.5 1636.0,1656.6 1639.0,1656.6 1642.0,1656.7 1645.0,1656.8 1648.0,1656.9 1651.0,1657.0 1654.0,1657.0 1657.0,1657.1 1660.0,1657.2 1663.0,1657.3 1666.0,1657.4 1669.0,1657.4 1672.0,1657.5 1675.0,1657.6 1678.0,1657.6 1681.0,1657.7 1684.0,1657.8 1687.0,1657.9 1690.0,1657.9 1693.0,1658.0 1696.0,1658.0 1699.0,1658.1 1702.0,1658.2 1705.0,1658.2 1708.0,1658.3 1711.0,1658.4 1714.0,1658.4 1717.0,1658.5 1720.0,1658.5 1723.0,1658.6 1726.0,1658.6 1729.0,1658.7 1732.0,1658.8 1735.0,1658.8 1738.0,1658.9 1741.0,1658.9 1744.0,1659.0 1747.0,1659.0 1750.0,1659.1 1753.0,1659.2 1756.0,1659.2 1759.0,1659.3 1762.0,1659.3 1765.0,1659.4 1768.0,1659.4 1771.0,1659.5 1774.0,1659.5 1777.0,1659.6 1780.0,1659.6 1783.0,1659.7 1786.0,1659.7 1789.0,1659.8 1792.0,1659.8 1795.0,1659.9 1798.0,1659.9 1801.0,1660.0 1804.0,1660.0 1807.0,1660.1 1810.0,1660.1 1813.0,1660.2 1816.0,1660.2 1819.0,1660.3 1822.0,1660.3 1825.0,1660.4 1828.0,1660.4 1831.0,1660.5 1834.0,1660.5 1837.0,1660.6 1840.0,1660.6 1843.0,1660.6 1846.0,1660.7 1849.0,1660.7 1852.0,1660.8 1855.0,1660.8 1858.0,1660.9 1861.0,1660.9 1864.0,1660.9 1867.0,1661.0 1870.0,1661.0 1873.0,1661.1 1876.0,1661.1 1879.0,1661.1" fill="none" stroke="#ff0080" stroke-width="7.2" stroke-linejoin="round" stroke-linecap="round"/>
<polyline points="157.6,1643.1 160.0,1643.1 163.0,1643.1 166.0,1643.1 169.0,1643.0 172.0,1643.0 175.0,1643.0 178.0,1643.0 181.0,1643.0 184.0,1643.0 187.0,1643.0 190.0,1643.0 193.0,1643.0 196.0,1642.9 199.0,1642.9 202.0,1642.9 205.0,1642.9 208.0,1642.9 211.0,1642.9 214.0,1642.9 217.0,1642.9 220.0,1642.9 223.0,1642.8 226.0,1642.8 229.0,1642.8 232.0,1642.8 235.0,1642.8 238.0,1642.8 241.0,1642.8 244.0,1642.8 247.0,1642.8 250.0,1642.8 253.0,1642.7 256.0,1642.7 259.0,1642.7 262.0,1642.7 265.0,1642.7 268.0,1642.7 271.0,1642.7 274.0,1642.7 277.0,1642.7 280.0,1642.7 283.0,1642.7 286.0,1642.7 289.0,1642.6 292.0,1642.6 295.0,1642.6 298.0,1642.6 301.0,1642.6 304.0,1642.6 307.0,1642.6 310.0,1642.6 313.0,1642.6 316.0,1642.6 319.0,1642.6 322.0,1642.6 325.0,1642.5 328.0,1642.5 331.0,1642.5 334.0,1642.5 337.0,1642.5 340.0,1642.5 343.0,1642.5 346.0,1642.5 349.0,1642.5 352.0,1642.5 355.0,1642.5 358.0,1642.5 361.0,1642.4 364.0,1642.4 367.0,1642.4 370.0,1642.4 373.0,1642.4 376.0,1642.4 379.0,1642.4 382.0,1642.4 385.0,1642.4 388.0,1642.4 391.0,1642.4 394.0,1642.3 397.0,1642.3 400.0,1642.3 403.0,1642.3 406.0,1642.3 409.0,1642.3 412.0,1642.3 415.0,1642.3 418.0,1642.3 421.0,1642.3 424.0,1642.2 427.0,1642.2 430.0,1642.2 433.0,1642.2 436.0,1642.2 439.0,1642.2 442.0,1642.2 445.0,1642.2 448.0,1642.1 451.0,1642.1 454.0,1642.1 457.0,1642.1 460.0,1642.1 463.0,1642.1 466.0,1642.0 469.0,1642.0 472.0,1642.0 475.0,1642.0 478.0,1642.0 481.0,1641.9 484.0,1641.9 487.0,1641.9 490.0,1641.9 493.0,1641.8 496.0,1641.8 499.0,1641.8 502.0,1641.8 505.0,1641.7 508.0,1641.7 511.0,1641.7 514.0,1641.6 517.0,1641.6 520.0,1641.5 523.0,1641.5 526.0,1641.5 529.0,1641.4 532.0,1641.4 535.0,1641.3 538.0,1641.3 541.0,1641.2 544.0,1641.2 547.0,1641.1 550.0,1641.0 553.0,1641.0 556.0,1640.9 559.0,1640.8 562.0,1640.8 565.0,1640.7 568.0,1640.6 571.0,1640.5 574.0,1640.4 577.0,1640.3 580.0,1640.2 583.0,1640.1 586.0,1640.0 589.0,1639.9 592.0,1639.8 595.0,1639.7 598.0,1639.6 601.0,1639.4 604.0,1639.3 607.0,1639.2 610.0,1639.0 613.0,1638.9 616.0,1638.7 619.0,1638.5 622.0,1638.4 625.0,1638.2 628.0,1638.0 631.0,1637.8 634.0,1637.6 637.0,1637.4 640.0,1637.1 643.0,1636.9 646.0,1636.7 649.0,1636.4 652.0,1636.2 655.0,1635.9 658.0,1635.6 661.0,1635.3 664.0,1635.0 667.0,1634.7 670.0,1634.4 673.0,1634.1 676.0,1633.7 679.0,1633.4 682.0,1633.0 685.0,1632.6 688.0,1632.3 691.0,1631.9 694.0,1631.4 697.0,1631.0 700.0,1630.6 703.0,1630.1 706.0,1629.6 709.0,1629.1 712.0,1628.6 715.0,1628.1 718.0,1627.6 721.0,1627.1 724.0,1626.5 727.0,1625.9 730.0,1625.3 733.0,1624.7 736.0,1624.1 739.0,1623.4 742.0,1622.8 745.0,1622.1 748.0,1621.4 751.0,1620.7 754.0,1620.0 757.0,1619.2 760.0,1618.5 763.0,1617.7 766.0,1616.9 769.0,1616.1 772.0,1615.2 775.0,1614.4 778.0,1613.5 781.0,1612.6 784.0,1611.7 787.0,1610.8 790.0,1609.9 793.0,1608.9 796.0,1608.0 799.0,1607.0 802.0,1606.0 805.0,1604.9 808.0,1603.9 811.0,1602.8 814.0,1601.8 817.0,1600.7 820.0,1599.5 823.0,1598.4 826.0,1597.3 829.0,1596.1 832.0,1594.9 835.0,1593.7 838.0,1592.5 841.0,1591.2 844.0,1590.0 847.0,1588.7 850.0,1587.4 853.0,1586.1 856.0,1584.7 859.0,1583.4 862.0,1582.0 865.0,1580.6 868.0,1579.2 871.0,1577.8 874.0,1576.4 877.0,1574.9 880.0,1573.5 883.0,1572.0 886.0,1570.5 889.0,1569.0 892.0,1567.4 895.0,1565.9 898.0,1564.3 901.0,1562.7 904.0,1561.1 907.0,1559.5 910.0,1557.9 913.0,1556.3 916.0,1554.6 919.0,1553.0 922.0,1551.3 925.0,1549.6 928.0,1547.9 931.0,1546.2 934.0,1544.5 937.0,1542.8 940.0,1541.1 943.0,1539.3 946.0,1537.6 949.0,1535.8 952.0,1534.1 955.0,1532.3 958.0,1530.6 961.0,1528.8 964.0,1527.1 967.0,1525.3 970.0,1523.5 973.0,1521.8 976.0,1520.0 979.0,1518.3 982.0,1516.5 985.0,1514.8 988.0,1513.1 991.0,1511.3 994.0,1509.6 997.0,1507.9 1000.0,1506.2 1003.0,1504.6 1006.0,1502.9 1009.0,1501.3 1012.0,1499.7 1015.0,1498.2 1018.0,1496.7 1021.0,1495.2 1024.0,1493.8 1027.0,1492.4 1030.0,1491.0 1033.0,1489.7 1036.0,1488.4 1039.0,1487.2 1042.0,1486.0 1045.0,1484.8 1048.0,1483.7 1051.0,1482.7 1054.0,1481.6 1057.0,1480.6 1060.0,1479.7 1063.0,1478.8 1066.0,1477.9 1069.0,1477.1 1072.0,1476.4 1075.0,1475.7 1078.0,1475.0 1081.0,1474.4 1084.0,1473.8 1087.0,1473.3 1090.0,1472.8 1093.0,1472.4 1096.0,1472.1 1099.0,1471.7 1102.0,1471.5 1105.0,1471.3 1108.0,1471.1 1111.0,1471.0 1114.0,1471.0 1117.0,1471.0 1120.0,1471.1 1123.0,1471.3 1126.0,1471.5 1129.0,1471.8 1132.0,1472.1 1135.0,1472.5 1138.0,1473.0 1141.0,1473.5 1144.0,1474.1 1147.0,1474.8 1150.0,1475.6 1153.0,1476.4 1156.0,1477.3 1159.0,1478.3 1162.0,1479.3 1165.0,1480.4 1168.0,1481.6 1171.0,1482.8 1174.0,1484.1 1177.0,1485.4 1180.0,1486.8 1183.0,1488.3 1186.0,1489.8 1189.0,1491.4 1192.0,1493.1 1195.0,1494.7 1198.0,1496.5 1201.0,1498.3 1204.0,1500.1 1207.0,1501.9 1210.0,1503.8 1213.0,1505.8 1216.0,1507.7 1219.0,1509.7 1222.0,1511.8 1225.0,1513.8 1228.0,1515.9 1231.0,1518.1 1234.0,1520.2 1237.0,1522.4 1240.0,1524.6 1243.0,1526.8 1246.0,1529.0 1249.0,1531.3 1252.0,1533.6 1255.0,1535.9 1258.0,1538.2 1261.0,1540.5 1264.0,1542.8 1267.0,1545.1 1270.0,1547.4 1273.0,1549.8 1276.0,1552.1 1279.0,1554.4 1282.0,1556.7 1285.0,1559.1 1288.0,1561.4 1291.0,1563.7 1294.0,1566.0 1297.0,1568.3 1300.0,1570.5 1303.0,1572.8 1306.0,1575.0 1309.0,1577.2 1312.0,1579.4 1315.0,1581.5 1318.0,1583.6 1321.0,1585.6 1324.0,1587.7 1327.0,1589.6 1330.0,1591.6 1333.0,1593.5 1336.0,1595.4 1339.0,1597.2 1342.0,1599.0 1345.0,1600.7 1348.0,1602.5 1351.0,1604.1 1354.0,1605.8 1357.0,1607.3 1360.0,1608.9 1363.0,1610.4 1366.0,1611.9 1369.0,1613.3 1372.0,1614.7 1375.0,1616.0 1378.0,1617.4 1381.0,1618.6 1384.0,1619.9 1387.0,1621.1 1390.0,1622.3 1393.0,1623.4 1396.0,1624.5 1399.0,1625.6 1402.0,1626.7 1405.0,1627.7 1408.0,1628.7 1411.0,1629.6 1414.0,1630.5 1417.0,1631.3 1420.0,1632.1 1423.0,1632.9 1426.0,1633.6 1429.0,1634.3 1432.0,1635.0 1435.0,1635.6 1438.0,1636.2 1441.0,1636.8 1444.0,1637.3 1447.0,1637.8 1450.0,1638.3 1453.0,1638.8 1456.0,1639.2 1459.0,1639.6 1462.0,1640.0 1465.0,1640.3 1468.0,1640.7 1471.0,1641.0 1474.0,1641.3 1477.0,1641.6 1480.0,1641.9 1483.0,1642.2 1486.0,1642.4 1489.0,1642.6 1492.0,1642.9 1495.0,1643.1 1498.0,1643.3 1501.0,1643.5 1504.0,1643.6 1507.0,1643.8 1510.0,1644.0 1513.0,1644.2 1516.0,1644.3 1519.0,1644.5 1522.0,1644.6 1525.0,1644.8 1528.0,1644.9 1531.0,1645.0 1534.0,1645.2 1537.0,1645.3 1540.0,1645.5 1543.0,1645.6 1546.0,1645.7 1549.0,1645.8 1552.0,1646.0 1555.0,1646.1 1558.0,1646.2 1561.0,1646.3 1564.0,1646.5 1567.0,1646.6 1570.0,1646.7 1573.0,1646.8 1576.0,1646.9 1579.0,1647.1 1582.0,1647.2 1585.0,1647.3 1588.0,1647.4 1591.0,1647.5 1594.0,1647.7 1597.0,1647.8 1600.0,1647.9 1603.0,1648.0 1606.0,1648.1 1609.0,1648.3 1612.0,1648.4 1615.0,1648.5 1618.0,1648.6 1621.0,1648.7 1624.0,1648.9 1627.0,1649.0 1630.0,1649.1 1633.0,1649.2 1636.0,1649.3 1639.0,1649.5 1642.0,1649.6 1645.0,1649.7 1648.0,1649.8 1651.0,1649.9 1654.0,1650.1 1657.0,1650.2 1660.0,1650.3 1663.0,1650.4 1666.0,1650.5 1669.0,1650.6 1672.0,1650.7 1675.0,1650.8 1678.0,1651.0 1681.0,1651.1 1684.0,1651.2 1687.0,1651.3 1690.0,1651.4 1693.0,1651.5 1696.0,1651.6 1699.0,1651.7 1702.0,1651.8 1705.0,1651.9 1708.0,1652.0 1711.0,1652.1 1714.0,1652.2 1717.0,1652.3 1720.0,1652.4 1723.0,1652.5 1726.0,1652.5 1729.0,1652.6 1732.0,1652.7 1735.0,1652.8 1738.0,1652.9 1741.0,1653.0 1744.0,1653.1 1747.0,1653.2 1750.0,1653.3 1753.0,1653.4 1756.0,1653.5 1759.0,1653.6 1762.0,1653.7 1765.0,1653.7 1768.0,1653.8 1771.0,1653.9 1774.0,1654.0 1777.0,1654.1 1780.0,1654.2 1783.0,1654.3 1786.0,1654.4 1789.0,1654.5 1792.0,1654.5 1795.0,1654.6 1798.0,1654.7 1801.0,1654.8 1804.0,1654.9 1807.0,1655.0 1810.0,1655.1 1813.0,1655.2 1816.0,1655.2 1819.0,1655.3 1822.0,1655.4 1825.0,1655.5 1828.0,1655.6 1831.0,1655.7 1834.0,1655.7 1837.0,1655.8 1840.0,1655.9 1843.0,1656.0 1846.0,1656.1 1849.0,1656.2 1852.0,1656.2 1855.0,1656.3 1858.0,1656.4 1861.0,1656.5 1864.0,1656.6 1867.0,1656.6 1870.0,1656.7 1873.0,1656.8 1876.0,1656.9 1879.0,1657.0" fill="none" stroke="#ff0000" stroke-width="7.2" stroke-linejoin="round" stroke-linecap="round"/>
<polyline points="157.6,1645.5 160.0,1645.5 163.0,1645.5 166.0,1645.5 169.0,1645.5 172.0,1645.5 175.0,1645.5 178.0,1645.5 181.0,1645.5 184.0,1645.5 187.0,1645.5 190.0,1645.5 193.0,1645.5 196.0,1645.5 199.0,1645.5 202.0,1645.5 205.0,1645.5 208.0,1645.5 211.0,1645.5 214.0,1645.5 217.0,1645.5 220.0,1645.5 223.0,1645.5 226.0,1645.5 229.0,1645.5 232.0,1645.5 235.0,1645.5 238.0,1645.5 241.0,1645.5 244.0,1645.5 247.0,1645.5 250.0,1645.5 253.0,1645.5 256.0,1645.5 259.0,1645.5 262.0,1645.5 265.0,1645.5 268.0,1645.5 271.0,1645.5 274.0,1645.6 277.0,1645.6 280.0,1645.6 283.0,1645.6 286.0,1645.6 289.0,1645.6 292.0,1645.6 295.0,1645.6 298.0,1645.6 301.0,1645.6 304.0,1645.6 307.0,1645.6 310.0,1645.6 313.0,1645.6 316.0,1645.6 319.0,1645.6 322.0,1645.6 325.0,1645.6 328.0,1645.6 331.0,1645.7 334.0,1645.7 337.0,1645.7 340.0,1645.7 343.0,1645.7 346.0,1645.7 349.0,1645.7 352.0,1645.7 355.0,1645.7 358.0,1645.7 361.0,1645.7 364.0,1645.7 367.0,1645.7 370.0,1645.7 373.0,1645.7 376.0,1645.8 379.0,1645.8 382.0,1645.8 385.0,1645.8 388.0,1645.8 391.0,1645.8 394.0,1645.8 397.0,1645.8 400.0,1645.8 403.0,1645.8 406.0,1645.8 409.0,1645.8 412.0,1645.9 415.0,1645.9 418.0,1645.9 421.0,1645.9 424.0,1645.9 427.0,1645.9 430.0,1645.9 433.0,1645.9 436.0,1645.9 439.0,1645.9 442.0,1645.9 445.0,1646.0 448.0,1646.0 451.0,1646.0 454.0,1646.0 457.0,1646.0 460.0,1646.0 463.0,1646.0 466.0,1646.0 469.0,1646.0 472.0,1646.1 475.0,1646.1 478.0,1646.1 481.0,1646.1 484.0,1646.1 487.0,1646.1 490.0,1646.1 493.0,1646.1 496.0,1646.1 499.0,1646.2 502.0,1646.2 505.0,1646.2 508.0,1646.2 511.0,1646.2 514.0,1646.2 517.0,1646.2 520.0,1646.2 523.0,1646.2 526.0,1646.3 529.0,1646.3 532.0,1646.3 535.0,1646.3 538.0,1646.3 541.0,1646.3 544.0,1646.3 547.0,1646.3 550.0,1646.4 553.0,1646.4 556.0,1646.4 559.0,1646.4 562.0,1646.4 565.0,1646.4 568.0,1646.4 571.0,1646.4 574.0,1646.5 577.0,1646.5 580.0,1646.5 583.0,1646.5 586.0,1646.5 589.0,1646.5 592.0,1646.5 595.0,1646.6 598.0,1646.6 601.0,1646.6 604.0,1646.6 607.0,1646.6 610.0,1646.6 613.0,1646.6 616.0,1646.7 619.0,1646.7 622.0,1646.7 625.0,1646.7 628.0,1646.7 631.0,1646.7 634.0,1646.7 637.0,1646.8 640.0,1646.8 643.0,1646.8 646.0,1646.8 649.0,1646.8 652.0,1646.8 655.0,1646.8 658.0,1646.9 661.0,1646.9 664.0,1646.9 667.0,1646.9 670.0,1646.9 673.0,1646.9 676.0,1647.0 679.0,1647.0 682.0,1647.0 685.0,1647.0 688.0,1647.0 691.0,1647.0 694.0,1647.0 697.0,1647.1 700.0,1647.1 703.0,1647.1 706.0,1647.1 709.0,1647.1 712.0,1647.1 715.0,1647.2 718.0,1647.2 721.0,1647.2 724.0,1647.2 727.0,1647.2 730.0,1647.2 733.0,1647.3 736.0,1647.3 739.0,1647.3 742.0,1647.3 745.0,1647.3 748.0,1647.3 751.0,1647.4 754.0,1647.4 757.0,1647.4 760.0,1647.4 763.0,1647.4 766.0,1647.5 769.0,1647.5 772.0,1647.5 775.0,1647.5 778.0,1647.6 781.0,1647.6 784.0,1647.6 787.0,1647.6 790.0,1647.7 793.0,1647.7 796.0,1647.7 799.0,1647.8 802.0,1647.8 805.0,1647.8 808.0,1647.9 811.0,1647.9 814.0,1648.0 817.0,1648.0 820.0,1648.0 823.0,1648.1 826.0,1648.1 829.0,1648.2 832.0,1648.2 835.0,1648.2 838.0,1648.3 841.0,1648.3 844.0,1648.4 847.0,1648.4 850.0,1648.5 853.0,1648.5 856.0,1648.6 859.0,1648.6 862.0,1648.7 865.0,1648.7 868.0,1648.8 871.0,1648.8 874.0,1648.9 877.0,1648.9 880.0,1649.0 883.0,1649.0 886.0,1649.1 889.0,1649.1 892.0,1649.2 895.0,1649.2 898.0,1649.3 901.0,1649.3 904.0,1649.4 907.0,1649.4 910.0,1649.5 913.0,1649.5 916.0,1649.6 919.0,1649.6 922.0,1649.7 925.0,1649.7 928.0,1649.8 931.0,1649.8 934.0,1649.9 937.0,1649.9 940.0,1649.9 943.0,1650.0 946.0,1650.0 949.0,1650.1 952.0,1650.1 955.0,1650.2 958.0,1650.2 961.0,1650.2 964.0,1650.3 967.0,1650.3 970.0,1650.3 973.0,1650.4 976.0,1650.4 979.0,1650.4 982.0,1650.4 985.0,1650.4 988.0,1650.5 991.0,1650.5 994.0,1650.5 997.0,1650.5 1000.0,1650.5 1003.0,1650.5 1006.0,1650.4 1009.0,1650.4 1012.0,1650.4 1015.0,1650.4 1018.0,1650.3 1021.0,1650.3 1024.0,1650.2 1027.0,1650.2 1030.0,1650.1 1033.0,1650.0 1036.0,1650.0 1039.0,1649.9 1042.0,1649.8 1045.0,1649.7 1048.0,1649.5 1051.0,1649.4 1054.0,1649.3 1057.0,1649.1 1060.0,1648.9 1063.0,1648.8 1066.0,1648.6 1069.0,1648.4 1072.0,1648.1 1075.0,1647.9 1078.0,1647.6 1081.0,1647.4 1084.0,1647.1 1087.0,1646.8 1090.0,1646.4 1093.0,1646.1 1096.0,1645.8 1099.0,1645.4 1102.0,1645.0 1105.0,1644.6 1108.0,1644.1 1111.0,1643.7 1114.0,1643.2 1117.0,1642.8 1120.0,1642.2 1123.0,1641.7 1126.0,1641.2 1129.0,1640.6 1132.0,1640.1 1135.0,1639.5 1138.0,1638.9 1141.0,1638.3 1144.0,1637.6 1147.0,1637.0 1150.0,1636.3 1153.0,1635.7 1156.0,1635.0 1159.0,1634.3 1162.0,1633.6 1165.0,1633.0 1168.0,1632.3 1171.0,1631.6 1174.0,1630.9 1177.0,1630.2 1180.0,1629.5 1183.0,1628.8 1186.0,1628.1 1189.0,1627.4 1192.0,1626.7 1195.0,1626.1 1198.0,1625.4 1201.0,1624.8 1204.0,1624.2 1207.0,1623.6 1210.0,1623.1 1213.0,1622.5 1216.0,1622.0 1219.0,1621.5 1222.0,1621.1 1225.0,1620.6 1228.0,1620.2 1231.0,1619.9 1234.0,1619.6 1237.0,1619.3 1240.0,1619.1 1243.0,1618.9 1246.0,1618.7 1249.0,1618.6 1252.0,1618.5 1255.0,1618.5 1258.0,1618.5 1261.0,1618.6 1264.0,1618.6 1267.0,1618.8 1270.0,1619.0 1273.0,1619.2 1276.0,1619.4 1279.0,1619.7 1282.0,1620.1 1285.0,1620.4 1288.0,1620.8 1291.0,1621.3 1294.0,1621.7 1297.0,1622.2 1300.0,1622.8 1303.0,1623.3 1306.0,1623.9 1309.0,1624.5 1312.0,1625.1 1315.0,1625.8 1318.0,1626.5 1321.0,1627.2 1324.0,1627.9 1327.0,1628.6 1330.0,1629.3 1333.0,1630.0 1336.0,1630.8 1339.0,1631.5 1342.0,1632.2 1345.0,1633.0 1348.0,1633.7 1351.0,1634.5 1354.0,1635.2 1357.0,1636.0 1360.0,1636.7 1363.0,1637.4 1366.0,1638.2 1369.0,1638.9 1372.0,1639.6 1375.0,1640.3 1378.0,1640.9 1381.0,1641.6 1384.0,1642.2 1387.0,1642.9 1390.0,1643.5 1393.0,1644.1 1396.0,1644.7 1399.0,1645.3 1402.0,1645.8 1405.0,1646.4 1408.0,1646.9 1411.0,1647.4 1414.0,1647.8 1417.0,1648.3 1420.0,1648.7 1423.0,1649.1 1426.0,1649.5 1429.0,1649.9 1432.0,1650.2 1435.0,1650.6 1438.0,1650.9 1441.0,1651.2 1444.0,1651.5 1447.0,1651.7 1450.0,1652.0 1453.0,1652.2 1456.0,1652.4 1459.0,1652.6 1462.0,1652.8 1465.0,1653.0 1468.0,1653.1 1471.0,1653.3 1474.0,1653.4 1477.0,1653.6 1480.0,1653.7 1483.0,1653.8 1486.0,1653.9 1489.0,1654.0 1492.0,1654.1 1495.0,1654.2 1498.0,1654.3 1501.0,1654.4 1504.0,1654.4 1507.0,1654.5 1510.0,1654.6 1513.0,1654.7 1516.0,1654.7 1519.0,1654.8 1522.0,1654.8 1525.0,1654.9 1528.0,1655.0 1531.0,1655.0 1534.0,1655.1 1537.0,1655.2 1540.0,1655.2 1543.0,1655.3 1546.0,1655.3 1549.0,1655.4 1552.0,1655.5 1555.0,1655.5 1558.0,1655.6 1561.0,1655.6 1564.0,1655.7 1567.0,1655.8 1570.0,1655.8 1573.0,1655.9 1576.0,1656.0 1579.0,1656.0 1582.0,1656.1 1585.0,1656.1 1588.0,1656.2 1591.0,1656.3 1594.0,1656.4 1597.0,1656.4 1600.0,1656.5 1603.0,1656.6 1606.0,1656.6 1609.0,1656.7 1612.0,1656.8 1615.0,1656.8 1618.0,1656.9 1621.0,1657.0 1624.0,1657.1 1627.0,1657.1 1630.0,1657.2 1633.0,1657.3 1636.0,1657.3 1639.0,1657.4 1642.0,1657.5 1645.0,1657.6 1648.0,1657.6 1651.0,1657.7 1654.0,1657.8 1657.0,1657.9 1660.0,1657.9 1663.0,1658.0 1666.0,1658.1 1669.0,1658.1 1672.0,1658.2 1675.0,1658.3 1678.0,1658.3 1681.0,1658.4 1684.0,1658.5 1687.0,1658.5 1690.0,1658.6 1693.0,1658.6 1696.0,1658.7 1699.0,1658.7 1702.0,1658.8 1705.0,1658.9 1708.0,1658.9 1711.0,1659.0 1714.0,1659.0 1717.0,1659.1 1720.0,1659.1 1723.0,1659.2 1726.0,1659.2 1729.0,1659.3 1732.0,1659.3 1735.0,1659.4 1738.0,1659.4 1741.0,1659.5 1744.0,1659.5 1747.0,1659.6 1750.0,1659.6 1753.0,1659.7 1756.0,1659.7 1759.0,1659.8 1762.0,1659.8 1765.0,1659.9 1768.0,1659.9 1771.0,1660.0 1774.0,1660.0 1777.0,1660.1 1780.0,1660.1 1783.0,1660.2 1786.0,1660.2 1789.0,1660.3 1792.0,1660.3 1795.0,1660.4 1798.0,1660.4 1801.0,1660.5 1804.0,1660.5 1807.0,1660.5 1810.0,1660.6 1813.0,1660.6 1816.0,1660.7 1819.0,1660.7 1822.0,1660.8 1825.0,1660.8 1828.0,1660.9 1831.0,1660.9 1834.0,1660.9 1837.0,1661.0 1840.0,1661.0 1843.0,1661.1 1846.0,1661.1 1849.0,1661.1 1852.0,1661.2 1855.0,1661.2 1858.0,1661.3 1861.0,1661.3 1864.0,1661.3 1867.0,1661.4 1870.0,1661.4 1873.0,1661.5 1876.0,1661.5 1879.0,1661.5" fill="none" stroke="#008000" stroke-width="7.2" stroke-linejoin="round" stroke-linecap="round"/>
<line x1="1004.8" y1="1193.9" x2="1004.8" y2="1699" stroke="#000" stroke-width="5.8" stroke-dasharray="20.2 27.6" stroke-linecap="round"/>
<line x1="1139.4" y1="1077.3" x2="1139.4" y2="1699" stroke="#000" stroke-width="5.8" stroke-dasharray="20.2 27.6" stroke-linecap="round"/>
<line x1="1262" y1="1144.9" x2="1262" y2="1699" stroke="#000" stroke-width="5.8" stroke-dasharray="20.2 27.6" stroke-linecap="round"/>

</g>
<g>
<rect x="728.58" y="2607.1" width="6.5" height="29" rx="1.5" fill="#000"/>
<rect x="1303.41" y="2607.1" width="6.5" height="29" rx="1.5" fill="#000"/>
<rect x="441.17" y="2621.5" width="6.5" height="14.6" rx="1.5" fill="#000"/>
<rect x="1016.00" y="2621.5" width="6.5" height="14.6" rx="1.5" fill="#000"/>
<rect x="1590.83" y="2621.5" width="6.5" height="14.6" rx="1.5" fill="#000"/>
<path fill="#000" fill-rule="evenodd" d="M154.1 1914.1H1884.8V2640.9H154.1Z M159.9 1920.9V2634.1H1878.2V1920.9Z"/>
<polyline points="155.0,2111.2 183.9,2121.4 206.5,2116.8 236.7,2114.9 263.1,2123.2 280.0,2117.6 315.8,2119.5 346.0,2114.9 364.8,2120.6 391.2,2125.1 413.8,2119.8 444.0,2119.8 470.4,2122.5 504.3,2116.8 538.2,2117.6 572.1,2122.5 602.3,2118.7 636.2,2116.1 651.3,2119.8 673.9,2113.1 688.9,2114.9 700.0,2110.3 711.3,2115.2 722.6,2107.7 745.2,2109.6 756.5,2105.8 779.1,2111.5 801.8,2109.2 816.8,2105.4 837.6,2105.8 850.8,2097.9 862.1,2097.5 873.4,2103.5 896.0,2099.0 916.7,2104.7 941.2,2095.3 952.5,2085.8 963.8,2088.5 976.3,2081.3 990.2,2085.8 1009.0,2079.4 1024.1,2079.0 1046.7,2069.6 1058.0,2068.1 1080.7,2059.4 1103.3,2051.9 1114.6,2053.8 1129.6,2041.7 1148.5,2028.2 1159.8,2024.4 1174.9,2025.9 1186.2,2021.8 1197.5,2013.1 1216.3,2004.8 1229.5,1998.4 1242.7,1999.9 1263.1,1989.9 1276.2,1993.4 1287.2,1976.0 1298.1,1974.6 1311.2,1965.9 1322.1,1962.8 1333.1,1955.0 1345.3,1949.7 1356.2,1958.5 1367.2,1955.0 1379.4,1942.7 1389.9,1952.8 1403.0,1965.0 1413.9,1970.3 1424.9,1973.8 1437.1,1982.5 1451.1,2003.1 1459.8,2013.1 1472.1,2025.8 1483.9,2044.6 1494.8,2060.8 1506.6,2072.1 1517.6,2073.0 1529.8,2086.1 1540.7,2097.1 1551.7,2098.4 1562.6,2098.4 1575.7,2104.9 1586.6,2112.4 1599.7,2115.4 1610.7,2118.0 1620.7,2121.1 1631.7,2115.4 1645.7,2122.4 1661.0,2124.2 1678.4,2124.6 1689.4,2121.1 1704.7,2125.5 1715.6,2126.8 1730.9,2125.5 1746.2,2123.7 1759.3,2127.2 1770.3,2126.4 1781.2,2122.4 1792.1,2123.3 1805.2,2122.0 1818.3,2124.6 1828.0,2128.1 1840.2,2124.6 1851.1,2122.4 1862.1,2124.6 1873.0,2126.8 1882.0,2124.2" fill="none" stroke="#ff0000" stroke-width="6.8" stroke-linejoin="round" stroke-linecap="butt"/>
<polyline points="155.0,2358.4 187.7,2356.5 217.8,2358.0 248.0,2362.9 274.4,2359.2 315.8,2362.9 334.7,2358.0 353.5,2364.1 376.1,2359.2 398.7,2361.8 432.7,2359.2 451.5,2361.1 489.2,2357.3 523.1,2366.0 557.0,2355.4 591.0,2361.8 621.1,2359.2 647.5,2359.9 670.1,2358.0 685.2,2361.8 698.4,2353.5 700.0,2353.5 720.7,2358.0 733.9,2353.5 754.6,2352.8 767.8,2355.0 790.5,2347.9 820.6,2346.7 835.7,2343.0 869.6,2343.3 880.9,2337.3 892.2,2341.5 905.4,2338.4 916.7,2339.6 926.1,2343.0 939.3,2336.6 950.6,2337.3 961.9,2340.3 975.1,2334.7 990.2,2333.9 1009.0,2332.8 1020.4,2335.4 1030.9,2339.6 1041.1,2335.8 1054.3,2326.4 1065.6,2321.5 1076.9,2315.8 1092.0,2317.7 1099.5,2317.0 1112.7,2313.2 1122.1,2312.8 1133.4,2307.2 1144.7,2292.1 1157.2,2297.7 1169.2,2285.7 1180.5,2280.0 1189.9,2270.6 1201.3,2258.2 1214.4,2258.5 1227.6,2246.1 1238.9,2239.3 1254.0,2231.0 1261.6,2227.3 1271.9,2222.7 1295.9,2193.4 1306.8,2195.2 1317.8,2195.2 1330.9,2187.8 1341.8,2186.5 1363.7,2193.4 1374.6,2190.8 1386.4,2189.9 1400.8,2197.8 1420.5,2206.6 1431.4,2215.3 1445.4,2234.5 1455.5,2236.7 1466.4,2244.6 1479.5,2262.1 1503.6,2279.6 1524.6,2292.7 1536.4,2309.3 1562.6,2321.1 1573.5,2324.6 1588.8,2332.0 1606.3,2344.3 1617.2,2346.5 1629.0,2354.8 1641.3,2351.7 1656.6,2355.2 1674.1,2359.1 1685.0,2359.6 1695.9,2361.8 1709.0,2361.8 1720.0,2360.9 1732.2,2367.0 1744.0,2363.5 1754.9,2365.7 1768.1,2363.5 1781.2,2363.9 1800.0,2368.3 1816.2,2363.9 1831.5,2363.1 1846.8,2366.1 1857.7,2364.8 1870.8,2367.4 1882.0,2367.4" fill="none" stroke="#0000ff" stroke-width="6.8" stroke-linejoin="round" stroke-linecap="butt"/>
<polyline points="155.0,2602.4 183.9,2599.3 210.3,2598.6 236.7,2605.4 251.8,2598.6 281.9,2602.4 327.1,2606.1 349.7,2601.6 376.1,2603.1 413.8,2600.5 428.9,2604.2 451.5,2602.4 474.1,2606.1 511.8,2600.5 545.7,2602.4 568.3,2604.2 580.8,2596.7 592.8,2603.1 626.8,2606.1 639.9,2600.5 677.6,2600.5 700.0,2599.7 711.3,2601.2 722.6,2599.3 752.8,2597.8 766.0,2592.9 775.4,2590.3 799.9,2591.1 811.2,2595.6 831.9,2587.3 858.3,2588.0 884.7,2585.4 892.2,2585.4 903.5,2589.2 914.8,2589.2 936.7,2578.6 948.7,2585.4 961.2,2578.6 971.4,2582.8 986.4,2581.6 1007.2,2581.3 1018.5,2583.5 1035.4,2579.0 1052.4,2579.0 1063.7,2573.0 1076.9,2572.2 1088.2,2569.2 1099.5,2564.7 1110.8,2563.5 1122.1,2558.3 1133.4,2557.9 1144.7,2552.6 1157.2,2545.8 1167.3,2545.1 1178.6,2536.4 1189.9,2530.0 1201.3,2525.1 1214.4,2520.2 1223.9,2513.8 1235.2,2501.4 1250.3,2496.8 1269.7,2475.5 1289.3,2459.3 1306.0,2443.1 1317.8,2437.4 1328.7,2424.3 1339.6,2422.1 1351.4,2431.8 1362.8,2424.3 1374.6,2427.4 1386.4,2433.9 1398.6,2440.5 1416.1,2458.0 1431.4,2473.7 1444.5,2490.8 1455.5,2500.0 1473.0,2524.9 1489.6,2548.9 1502.7,2555.5 1523.2,2576.0 1536.4,2579.5 1549.5,2587.4 1560.4,2592.6 1571.3,2593.9 1582.3,2600.1 1593.2,2601.4 1604.1,2601.4 1616.4,2596.1 1628.2,2599.2 1639.1,2601.4 1651.3,2607.1 1663.1,2605.8 1680.6,2606.6 1693.7,2604.9 1709.0,2607.9 1728.7,2606.6 1743.1,2609.7 1754.9,2606.6 1779.0,2606.6 1788.6,2603.6 1800.9,2607.1 1811.8,2609.7 1833.6,2609.7 1846.8,2611.4 1862.1,2609.3 1882.0,2605.8" fill="none" stroke="#008080" stroke-width="6.8" stroke-linejoin="round" stroke-linecap="butt"/>
<line x1="903.9" y1="2018.4" x2="903.9" y2="2637" stroke="#000" stroke-width="6.0" stroke-dasharray="19.5 28.5" stroke-linecap="round"/>
<line x1="1253.6" y1="1946.5" x2="1253.6" y2="2637" stroke="#000" stroke-width="6.0" stroke-dasharray="19.5 28.5" stroke-linecap="round"/>

</g>
<text transform="translate(181.4 91.5) scale(1 1.05)" font-size="71.6" fill="#000" text-anchor="start">(a) Pd3d</text>
<text transform="translate(166.4 185) scale(1 1.0434)" font-size="72.65" fill="#ff0000">Pd/Al<tspan font-size="44.8" dy="27.4">2</tspan><tspan dy="-27.4">O</tspan><tspan font-size="44.8" dy="27.4">3</tspan><tspan dy="-27.4">-EP</tspan></text>
<text transform="translate(162.9 387.8) scale(1 1.0285)" font-size="73.7" fill="#0000ff">Pd/Al<tspan font-size="45.4" dy="27.8">2</tspan><tspan dy="-27.8">O</tspan><tspan font-size="45.4" dy="27.8">3</tspan><tspan dy="-27.8">-EP-C</tspan></text>
<text transform="translate(162.6 619.5) scale(1 1.0369)" font-size="73.1" fill="#008080">Pd/Al<tspan font-size="45.1" dy="27.6">2</tspan><tspan dy="-27.6">O</tspan><tspan font-size="45.1" dy="27.6">3</tspan><tspan dy="-27.6">-HP</tspan></text>
<text transform="translate(668.3 143.6) scale(1 1.05)" font-size="72.5" fill="#000">3d<tspan font-size="44" dy="27.1" dx="3">3/2</tspan></text>
<text transform="translate(1160.5 112.5) scale(1 1.05)" font-size="72.5" fill="#000">3d<tspan font-size="44" dy="27.1" dx="2">5/2</tspan></text>
<text transform="translate(813.4 193.1) scale(1 1.03)" font-size="73" fill="#000">Pd<tspan font-size="45" dy="-38.8" dx="2">2+</tspan></text>
<text transform="translate(942.8 126.7) scale(1 1.03)" font-size="72" fill="#000">Pd<tspan font-size="45" dy="-38.8">0</tspan></text>
<text transform="translate(1283.5 199.9) scale(1 1.03)" font-size="73" fill="#000">Pd<tspan font-size="45" dy="-38.8" dx="2">2+</tspan></text>
<text transform="translate(1399.8 89.3) scale(1 1.0)" font-size="66.3" fill="#000">Pd<tspan font-size="40" dy="-36.4" dx="-1">0</tspan></text>
<text transform="translate(156.0 825.6) scale(1 1.06)" font-size="74.8" fill="#000" text-anchor="middle">350</text>
<text transform="translate(587.1 825.6) scale(1 1.06)" font-size="74.8" fill="#000" text-anchor="middle">345</text>
<text transform="translate(1018.2 825.6) scale(1 1.06)" font-size="74.8" fill="#000" text-anchor="middle">340</text>
<text transform="translate(1449.4 825.6) scale(1 1.06)" font-size="74.8" fill="#000" text-anchor="middle">335</text>
<text transform="translate(1880.5 825.6) scale(1 1.06)" font-size="74.8" fill="#000" text-anchor="middle">330</text>
<text transform="translate(1001 896) scale(1 1)" font-size="79.5" fill="#000" text-anchor="middle">Binding energy (eV)</text>
<text transform="translate(78.6 367.5) rotate(-90)" font-size="80" fill="#000" text-anchor="middle">Intensity (a.u.)</text>
<text transform="translate(182.6 1043) scale(1 1.025)" font-size="73.3" fill="#000" text-anchor="start">(b) O1s</text>
<text transform="translate(165 1170.5) scale(1 1.0434)" font-size="72.65" fill="#ff0000">Pd/Al<tspan font-size="44.8" dy="27.4">2</tspan><tspan dy="-27.4">O</tspan><tspan font-size="44.8" dy="27.4">3</tspan><tspan dy="-27.4">-EP</tspan></text>
<text transform="translate(165 1400.6) scale(1 1.0299)" font-size="73.6" fill="#0000ff">Pd/Al<tspan font-size="45.4" dy="29.1">2</tspan><tspan dy="-29.1">O</tspan><tspan font-size="45.4" dy="29.1">3</tspan><tspan dy="-29.1">-EP-C</tspan></text>
<text transform="translate(165 1603.3) scale(1 1.0412)" font-size="72.8" fill="#008080">Pd/Al<tspan font-size="44.9" dy="27.5">2</tspan><tspan dy="-27.5">O</tspan><tspan font-size="44.9" dy="27.5">3</tspan><tspan dy="-27.5">-HP</tspan></text>
<text transform="translate(1059.3 1051.8) scale(1 1.02)" font-size="74.4" fill="#000" text-anchor="start">Al-O</text>
<text transform="translate(945.6 1178) scale(1 1.0)" font-size="75.2" fill="#000" text-anchor="start">OH</text>
<text transform="translate(1181.6 1131) scale(1 1.043)" font-size="72.7" fill="#000" text-anchor="start">Chemisorbed oxygen</text>
<text transform="translate(156.5 1786.8) scale(1 1.06)" font-size="74.8" fill="#000" text-anchor="middle">540</text>
<text transform="translate(616.4 1786.8) scale(1 1.06)" font-size="74.8" fill="#000" text-anchor="middle">536</text>
<text transform="translate(1076.2 1786.8) scale(1 1.06)" font-size="74.8" fill="#000" text-anchor="middle">532</text>
<text transform="translate(1536.1 1786.8) scale(1 1.06)" font-size="74.8" fill="#000" text-anchor="middle">528</text>
<text transform="translate(1005 1858) scale(1 1)" font-size="79.5" fill="#000" text-anchor="middle">Binding energy (eV)</text>
<text transform="translate(70.0 1354) rotate(-90)" font-size="80" fill="#000" text-anchor="middle">Intensity (a.u.)</text>
<text transform="translate(170.8 1986.5) scale(1 1.014)" font-size="74.1" fill="#000" text-anchor="start">(c) C1s</text>
<text transform="translate(162.6 2085.9) scale(1 1.0398)" font-size="72.9" fill="#ff0000">Pd/Al<tspan font-size="44.9" dy="26.0">2</tspan><tspan dy="-26.0">O</tspan><tspan font-size="44.9" dy="26.0">3</tspan><tspan dy="-26.0">-EP</tspan></text>
<text transform="translate(167.1 2322.6) scale(1 1.0271)" font-size="73.8" fill="#0000ff">Pd/Al<tspan font-size="45.5" dy="29.2">2</tspan><tspan dy="-29.2">O</tspan><tspan font-size="45.5" dy="29.2">3</tspan><tspan dy="-29.2">-EP-C</tspan></text>
<text transform="translate(163.3 2565.8) scale(1 1.0398)" font-size="72.9" fill="#008080">Pd/Al<tspan font-size="44.9" dy="27.5">2</tspan><tspan dy="-27.5">O</tspan><tspan font-size="44.9" dy="27.5">3</tspan><tspan dy="-27.5">-HP</tspan></text>
<text transform="translate(156.0 2720) scale(1 1.04)" font-size="69" fill="#000" text-anchor="middle">295</text>
<text transform="translate(730.8 2720) scale(1 1.04)" font-size="69" fill="#000" text-anchor="middle">290</text>
<text transform="translate(1305.7 2720) scale(1 1.04)" font-size="69" fill="#000" text-anchor="middle">285</text>
<text transform="translate(1880.5 2720) scale(1 1.04)" font-size="69" fill="#000" text-anchor="middle">280</text>
<text transform="translate(993 2801.8) scale(1 1)" font-size="79.5" fill="#000" text-anchor="middle">Binding energy (eV)</text>
<text transform="translate(73.9 2242.4) rotate(-90)" font-size="80" fill="#000" text-anchor="middle">Intensity (a.u.)</text>
</svg></body></html>
